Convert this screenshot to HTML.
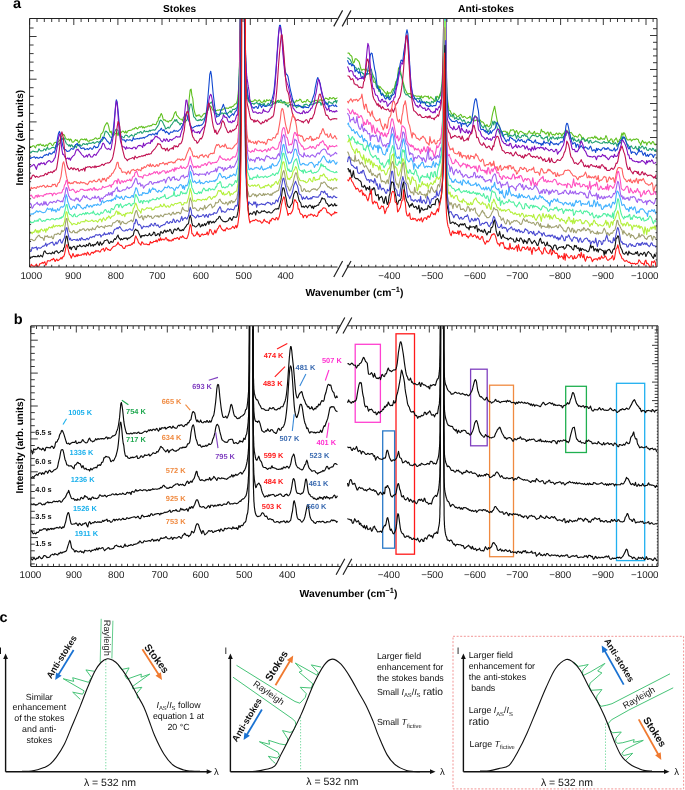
<!DOCTYPE html><html><head><meta charset="utf-8"><style>
html,body{margin:0;padding:0;background:#fff;}svg{display:block;will-change:transform;}
text{font-family:"Liberation Sans",sans-serif;text-rendering:geometricPrecision;}
.b{font-weight:bold;}
</style></head><body>
<svg width="685" height="790" viewBox="0 0 685 790">
<defs><clipPath id="ca"><rect x="29.6" y="18.5" width="628" height="249"/></clipPath>
<clipPath id="cb"><rect x="30.8" y="326" width="628" height="240"/></clipPath></defs>
<text x="13.1" y="7.9" class="b" font-size="14.5">a</text>
<text x="179.6" y="11.9" class="b" font-size="10.1" text-anchor="middle">Stokes</text>
<text x="458" y="11.9" class="b" font-size="10.3">Anti-stokes</text>
<text transform="translate(22.6 137.7) rotate(-90)" class="b" font-size="10" text-anchor="middle">Intensity (arb. units)</text>
<g clip-path="url(#ca)" fill="none" stroke-width="1.1" stroke-linejoin="round">
<path stroke="#60c020" d="M29.6,147.5 L30.4,146.6 L31.3,147 L32.1,146.6 L33,145.7 L33.9,145.7 L34.7,147.1 L35.5,147.8 L36.4,145.4 L37.2,145.2 L38.1,144.3 L39,145.6 L39.8,144.2 L40.6,144 L41.5,145.5 L42.4,145.7 L43.2,144.7 L44,146.1 L44.9,146.5 L45.8,145 L46.6,144.9 L47.5,146.2 L48.3,144.3 L49.1,143.7 L50,143 L50.9,143.5 L51.7,144.8 L52.5,145.6 L53.4,144.8 L54.2,143 L55.1,142.4 L56,142.4 L56.8,142.7 L57.6,142.2 L58.5,141.5 L59.4,140.7 L60.2,139.2 L61,137.2 L61.9,136 L62.8,135 L63.6,134.3 L64.5,135.3 L65.3,137.8 L66.2,138.9 L67,139.3 L67.8,139.7 L68.7,138.8 L69.5,140.9 L70.4,139.1 L71.2,139.4 L72.1,142 L73,142.2 L73.8,141.7 L74.7,140.6 L75.5,139.5 L76.3,140.5 L77.2,140.1 L78,141.6 L78.9,142.8 L79.8,140.8 L80.6,139.5 L81.5,139 L82.3,139.2 L83.2,139.8 L84,139.7 L84.8,138.8 L85.7,140.1 L86.5,138.9 L87.4,140.7 L88.2,141.3 L89.1,141.3 L90,140.2 L90.8,140 L91.7,140.2 L92.5,139.7 L93.3,139.4 L94.2,139.1 L95,138.2 L95.9,137.7 L96.8,139 L97.6,139.2 L98.5,138.3 L99.3,138.4 L100.2,137.9 L101,134.2 L101.8,133.4 L102.7,132.6 L103.5,130.5 L104.4,127 L105.2,125.2 L106.1,123.9 L107,122.7 L107.8,123.7 L108.7,126.4 L109.5,130.7 L110.3,132.4 L111.2,131.1 L112,134.7 L112.9,134.9 L113.8,135.4 L114.6,134.5 L115.5,133.4 L116.3,133.1 L117.2,132.8 L118,135.7 L118.8,133.2 L119.7,134.4 L120.5,132.4 L121.4,132.6 L122.2,131.2 L123.1,131.1 L124,132 L124.8,132.9 L125.7,130.9 L126.5,133 L127.3,132.2 L128.2,130.6 L129.1,130.5 L129.9,130.4 L130.8,130.3 L131.6,130 L132.4,129.3 L133.3,128.7 L134.2,128.9 L135,127.9 L135.8,127.4 L136.7,128.4 L137.6,128.9 L138.4,128 L139.2,126.8 L140.1,127.4 L140.9,126.7 L141.8,126.2 L142.7,127.9 L143.5,126.8 L144.3,128 L145.2,127.1 L146.1,126.8 L146.9,127 L147.8,126 L148.6,125.9 L149.4,126.3 L150.3,125.5 L151.2,125.9 L152,125.2 L152.8,124.1 L153.7,124.2 L154.6,124.5 L155.4,124.6 L156.2,124.4 L157.1,121.8 L157.9,121.1 L158.8,117.4 L159.7,117.6 L160.5,115 L161.3,113.6 L162.2,115.4 L163.1,118.9 L163.9,120.3 L164.8,119.6 L165.6,120.7 L166.4,121.2 L167.3,121.1 L168.2,122.2 L169,121.1 L169.8,120.6 L170.7,120.9 L171.6,120.3 L172.4,118.5 L173.2,117.7 L174.1,114.4 L174.9,112.5 L175.8,111.5 L176.7,115.5 L177.5,115.9 L178.3,117.1 L179.2,118.2 L180.1,118.9 L180.9,119.2 L181.8,119.2 L182.6,120.9 L183.4,117.5 L184.3,116.6 L185.2,116.3 L186,115.2 L186.8,114.1 L187.7,111.9 L188.6,105.7 L189.4,97 L190.2,89.9 L191.1,89.1 L191.9,95.4 L192.8,98.6 L193.7,108.1 L194.5,111.6 L195.3,114.5 L196.2,116.4 L197.1,115.1 L197.9,115.9 L198.8,114.8 L199.6,115.1 L200.4,116.8 L201.3,117.1 L202.2,115.9 L203,114.8 L203.8,113.7 L204.7,113.4 L205.6,113.6 L206.4,112.8 L207.2,111.4 L208.1,109.8 L208.9,107 L209.8,106.3 L210.7,106.1 L211.5,107.3 L212.3,109.3 L213.2,110.3 L214.1,109.9 L214.9,110.1 L215.8,110.9 L216.6,110.6 L217.4,110.1 L218.3,110.2 L219.2,109.9 L220,109.7 L220.8,110.5 L221.7,109.9 L222.6,109.9 L223.4,109.2 L224.2,108.6 L225.1,108.1 L225.9,108.1 L226.8,108.1 L227.7,108.2 L228.5,108.4 L229.3,107.5 L230.2,106.9 L231.1,107.9 L231.9,106.5 L232.8,106.4 L233.6,106.1 L234.4,104.5 L235.3,103.9 L236,104 L236.1,103.9 L236.2,103.7 L236.2,103.7 L236.2,103.6 L236.3,103.4 L236.4,103.3 L236.5,103.1 L236.6,102.9 L236.6,102.8 L236.7,102.6 L236.8,102.4 L236.9,102.1 L237,101.8 L237,101.7 L237,101.6 L237.1,101.2 L237.2,100.9 L237.3,100.6 L237.4,100.2 L237.4,99.8 L237.5,99.3 L237.6,98.8 L237.7,98.3 L237.8,97.7 L237.8,97.1 L237.8,97 L237.9,96.4 L238,95.6 L238.1,94.8 L238.2,93.9 L238.2,93 L238.3,91.9 L238.4,90.8 L238.5,89.6 L238.6,88.3 L238.6,86.9 L238.7,85.8 L238.7,85.4 L238.8,83.7 L238.9,82 L239,80 L239,78 L239.1,75.8 L239.2,73.4 L239.3,70.9 L239.4,68.1 L239.4,65.2 L239.5,62.1 L239.6,60.9 L239.6,58.7 L239.7,55.1 L239.8,51.2 L239.8,46.9 L239.9,42.3 L240,37.2 L240.1,31.5 L240.2,25 L240.2,17.6 L240.3,10 L240.4,10 L240.5,10 L240.6,10 L240.6,10 L240.7,10 L240.8,10 L240.9,10 L241,10 L241,10 L241.1,10 L241.2,10 L241.2,10 L241.3,10 L241.4,10 L241.4,10 L241.5,10 L241.6,10 L241.7,10 L241.8,10 L241.8,10 L241.9,10 L242,10 L242.1,10 L242.1,10 L242.2,10 L242.2,10 L242.3,10 L242.4,10 L242.5,10 L242.6,10 L242.6,10 L242.7,10 L242.8,10 L242.9,10 L242.9,10 L243,10 L243,10 L243.1,10 L243.2,10 L243.3,10 L243.4,10 L243.4,10 L243.5,10 L243.6,10 L243.7,10 L243.8,10 L243.8,10 L243.8,10 L243.9,10 L244,10 L244.1,10 L244.2,10 L244.2,10 L244.3,10 L244.4,10 L244.5,10 L244.6,10 L244.6,10 L244.7,10 L244.7,10 L244.8,10 L244.9,10 L245,16.9 L245,24.4 L245.1,30.9 L245.2,36.6 L245.3,41.7 L245.4,46.4 L245.4,50.6 L245.5,53.5 L245.5,54.4 L245.6,57.9 L245.7,61.2 L245.8,64.3 L245.8,67.2 L245.9,69.9 L246,72.4 L246.1,74.7 L246.2,76.9 L246.2,78.9 L246.3,80.7 L246.3,81.4 L246.4,82.4 L246.5,84 L246.6,85.4 L246.6,86.8 L246.7,88 L246.8,89.1 L246.9,90.1 L247,91 L247,91.9 L247.1,92.7 L247.2,93.4 L247.3,94 L247.4,94.6 L247.4,95.1 L247.5,95.6 L247.6,96.1 L247.7,96.5 L247.8,96.8 L247.8,97.1 L247.9,97.4 L248,97.7 L248.1,97.9 L248.1,97.9 L248.2,98.2 L248.2,98.4 L248.3,98.7 L248.4,99 L248.5,99.2 L248.6,99.5 L248.6,99.7 L248.7,99.9 L248.8,100.1 L248.9,100.3 L248.9,100.4 L249,100.5 L249,100.7 L249.1,100.9 L249.2,101 L249.3,101 L249.4,100.9 L249.4,100.7 L249.5,100.6 L249.6,100.5 L249.7,100.3 L249.8,100.2 L249.8,100.2 L249.8,100 L249.9,99.8 L250.6,101 L251.4,101.5 L252.3,101.4 L253.2,101.2 L254,100.7 L254.8,99.7 L255.7,100.1 L256.6,101.2 L257.4,101.1 L258.2,100.9 L259.1,99.8 L259.9,100.4 L260.8,102 L261.6,102.4 L262.5,102.2 L263.4,101.7 L264.2,100.1 L265.1,102.1 L265.9,101.5 L266.8,99.5 L267.6,100.5 L268.4,100.6 L269.3,99.8 L270.1,100.2 L271,101.1 L271.9,102.7 L272.7,101.5 L273.6,101.6 L274.4,103 L275.2,103.2 L276.1,102.1 L276.9,101 L277.8,100.6 L278.6,100.4 L279.5,101.3 L280.4,102.5 L281.2,102.7 L282.1,102.6 L282.9,103.2 L283.8,102.5 L284.6,101.7 L285.4,102.6 L286.3,103.1 L287.1,103 L288,103.3 L288.9,102.6 L289.7,101.9 L290.6,102.3 L291.4,101.5 L292.2,100.7 L293.1,100.8 L293.9,102.7 L294.8,102.1 L295.6,102 L296.5,100.1 L297.4,101 L298.2,100.8 L299.1,100.3 L299.9,99.1 L300.8,99.7 L301.6,101.4 L302.4,102.5 L303.3,102.2 L304.1,101.3 L305,101.7 L305.9,102.1 L306.7,99.9 L307.6,99.5 L308.4,101.1 L309.2,101.6 L310.1,101.8 L310.9,102.8 L311.8,102.2 L312.6,101.2 L313.5,101.1 L314.4,101.5 L315.2,100.6 L316.1,100.2 L316.9,100.8 L317.8,101.8 L318.6,101.9 L319.4,100 L320.3,99.9 L321.1,100.1 L322,100.8 L322.9,100 L323.7,100.2 L324.6,99.3 L325.4,98 L326.2,98.4 L327.1,98.5 L327.9,99.4 L328.8,99.8 L329.6,97.5 L330.5,97.8 L331.4,98.8 L332.2,98.7 L333.1,97.5 L333.9,97.8 L334.8,99.3 L335.6,98.6 L336.4,98.5 L337.3,97.5 M347.5,53.2 L348.4,52.9 L349.2,53.2 L350.1,55 L350.9,55.5 L351.8,56.4 L352.6,60.4 L353.4,63 L354.3,62.2 L355.1,58.9 L356,58.8 L356.9,59.2 L357.7,60.6 L358.6,61.1 L359.4,62.8 L360.2,66.2 L361.1,69.5 L361.9,70.3 L362.8,69.5 L363.6,69.2 L364.5,69.2 L365.4,70.7 L366.2,68.7 L367.1,71.6 L367.9,71.1 L368.8,70.5 L369.6,72.3 L370.4,74.6 L371.3,74.9 L372.1,74.8 L373,79.6 L373.9,82.3 L374.7,82.2 L375.6,82.6 L376.4,84.2 L377.2,85.6 L378.1,85.8 L378.9,90.2 L379.8,86.2 L380.6,87.3 L381.5,88.6 L382.4,89.4 L383.2,90.2 L384.1,91.4 L384.9,92.5 L385.8,93.1 L386.6,95.3 L387.4,91.4 L388.3,93.9 L389.1,92.8 L390,93.2 L390.9,92.7 L391.7,91.2 L392.6,89 L393.4,89 L394.2,88.7 L395.1,85 L395.9,81.4 L396.8,80.8 L397.6,76.9 L398.5,68.3 L399.4,67 L400.2,70 L401.1,74.2 L401.9,76.6 L402.8,80.5 L403.6,84 L404.4,86.9 L405.3,89.8 L406.1,91.3 L407,93.2 L407.9,94.2 L408.7,93.6 L409.6,93.7 L410.4,93.3 L411.2,94.7 L412.1,93.8 L412.9,94.3 L413.8,96.3 L414.6,95.8 L415.5,95.8 L416.4,96.2 L417.2,96.2 L418.1,96.1 L418.9,96.2 L419.8,96.3 L420.6,97.8 L421.4,95.7 L422.3,97.8 L423.1,97.7 L424,96.4 L424.9,96 L425.7,96.2 L426.6,96.5 L427.4,97 L428.2,96 L429.1,99 L429.9,98 L430.8,96.7 L431.6,97.9 L432.5,98.3 L433.4,99.3 L434.2,101 L435.1,101.4 L435.9,100.3 L436.8,96.4 L437.6,96.3 L438.4,98.4 L439,98 L439.1,97.6 L439.2,97.1 L439.3,96.6 L439.4,96.1 L439.5,95.6 L439.6,95.3 L439.7,95 L439.8,94.8 L439.9,94.5 L440,94.2 L440.1,94 L440.1,93.9 L440.2,93.8 L440.3,93.5 L440.4,93.3 L440.5,93.2 L440.6,93.1 L440.7,93 L440.8,92.9 L440.9,92.7 L441,92.5 L441.1,92.3 L441.2,92 L441.3,91.7 L441.4,91.3 L441.5,91 L441.6,90.5 L441.7,90.1 L441.8,89.6 L441.9,89.3 L441.9,89.1 L442,88.4 L442.1,87.7 L442.2,86.9 L442.3,85.9 L442.4,84.9 L442.5,83.7 L442.6,82.4 L442.7,80.6 L442.8,78.5 L442.9,76.2 L443,73.7 L443.1,70.9 L443.2,67.9 L443.3,64.6 L443.4,61 L443.5,57 L443.6,54.9 L443.6,52.7 L443.7,47.8 L443.8,42.5 L443.9,36.6 L444,30.1 L444.1,23 L444.2,15.2 L444.3,10 L444.4,10 L444.5,10 L444.6,10 L444.7,10 L444.8,10 L444.9,10 L445,10 L445.1,10 L445.2,10 L445.2,10 L445.3,10 L445.4,10 L445.5,10 L445.6,10 L445.7,10 L445.8,17.4 L445.9,31.7 L446,43.7 L446.1,53.7 L446.2,61.9 L446.3,68.5 L446.4,73.9 L446.5,78.4 L446.6,82.2 L446.7,85.4 L446.8,88 L446.9,90.3 L446.9,91.4 L447,92.3 L447.1,94 L447.2,95.5 L447.3,96.8 L447.4,98 L447.5,99.1 L447.6,100 L447.7,100.9 L447.8,101.7 L447.9,102.4 L448,103.1 L448.1,103.7 L448.2,104.5 L448.3,105.3 L448.4,106 L448.5,106.7 L448.6,107.4 L448.6,107.7 L448.7,108.1 L448.8,108.7 L448.9,109.3 L449,109.9 L449.1,110.2 L449.2,110.3 L449.3,110.4 L449.4,110.4 L449.5,110.5 L449.6,110.5 L449.7,110.6 L449.8,110.6 L449.9,110.6 L450,110.6 L450.1,110.6 L450.2,110.7 L450.3,111 L450.4,111.2 L450.4,111.3 L450.5,111.6 L450.6,111.8 L450.7,112.1 L450.8,112.4 L450.9,112.6 L451.2,113.2 L452.1,114.4 L452.9,117.2 L453.8,113 L454.6,113.9 L455.4,114.5 L456.3,115.5 L457.1,116.8 L458,116.8 L458.9,115.6 L459.7,115.1 L460.6,114.3 L461.4,115.2 L462.2,117 L463.1,117.5 L463.9,116.4 L464.8,116.5 L465.6,117.4 L466.5,118.2 L467.4,118.5 L468.2,117.5 L469.1,117.7 L469.9,116.2 L470.8,117.4 L471.6,121.5 L472.4,118.7 L473.3,118.8 L474.1,120.7 L475,120.9 L475.9,120.3 L476.7,119.9 L477.6,120.9 L478.4,121.3 L479.2,121.6 L480.1,119.9 L480.9,121.2 L481.8,122.1 L482.6,121.8 L483.5,122.7 L484.4,124.3 L485.2,125.5 L486.1,126.2 L486.9,124.5 L487.8,126.2 L488.6,126.7 L489.4,126.1 L490.3,124.9 L491.1,122.2 L492,116.7 L492.9,112.4 L493.7,109.6 L494.6,106.2 L495.4,110.5 L496.2,115.3 L497.1,120.1 L497.9,123.5 L498.8,124.7 L499.6,127.5 L500.5,129.5 L501.4,131.6 L502.2,132.2 L503.1,131.4 L503.9,131.3 L504.8,131.3 L505.6,131.3 L506.4,132.4 L507.3,132 L508.1,133.5 L509,134.6 L509.9,131.7 L510.7,129.7 L511.6,130.2 L512.4,130 L513.2,129.5 L514.1,130.8 L515,133.3 L515.8,131.4 L516.6,130.5 L517.5,132.9 L518.4,134.3 L519.2,132.5 L520,131.5 L520.9,131.3 L521.8,131.9 L522.6,132.5 L523.5,133 L524.3,133.7 L525.1,133.9 L526,133.9 L526.9,134.2 L527.7,133.7 L528.5,131.9 L529.4,130.9 L530.2,132.9 L531.1,133.2 L532,133.1 L532.8,134.3 L533.6,132.5 L534.5,131.4 L535.4,134.6 L536.2,133.8 L537,133.1 L537.9,133.4 L538.8,134.2 L539.6,134.2 L540.5,133 L541.3,129.3 L542.1,131.2 L543,132 L543.9,131.5 L544.7,132.6 L545.5,133.9 L546.4,133.9 L547.2,132.2 L548.1,132 L549,136.4 L549.8,133.4 L550.6,132.1 L551.5,133.8 L552.4,135 L553.2,134.3 L554,134.7 L554.9,135.2 L555.8,133.7 L556.6,133 L557.5,134.3 L558.3,134.8 L559.1,132.9 L560,133.6 L560.9,133.7 L561.7,136.3 L562.5,134.7 L563.4,133.1 L564.2,133.9 L565.1,131 L566,130 L566.8,130.8 L567.6,131.2 L568.5,132.4 L569.4,132.8 L570.2,132.7 L571,132.4 L571.9,133.4 L572.8,135.1 L573.6,135.5 L574.5,137 L575.3,136 L576.1,136.4 L577,137.2 L577.9,137 L578.7,135.3 L579.5,134.2 L580.4,135 L581.2,136 L582.1,139.4 L583,137.2 L583.8,139.2 L584.6,139.4 L585.5,140.5 L586.4,140.5 L587.2,139.3 L588,138 L588.9,137.9 L589.8,138 L590.6,138 L591.5,137.4 L592.3,137.2 L593.1,138.6 L594,137.7 L594.9,136 L595.7,138.1 L596.5,137 L597.4,138.4 L598.2,139.6 L599.1,139 L600,139.7 L600.8,137.3 L601.6,138.8 L602.5,139.2 L603.4,138.7 L604.2,139.4 L605,138.3 L605.9,135.6 L606.8,137.3 L607.6,139.9 L608.5,142.1 L609.3,140.8 L610.1,140.3 L611,138.8 L611.9,139.2 L612.7,142.1 L613.5,142.4 L614.4,140 L615.2,139.5 L616.1,137.9 L617,139.8 L617.8,142.4 L618.6,141.7 L619.5,139.4 L620.4,138.9 L621.2,136 L622,133 L622.9,135.4 L623.8,132.6 L624.6,133.3 L625.5,135.7 L626.3,137.8 L627.1,139.5 L628,140 L628.9,140 L629.7,139.2 L630.5,139.1 L631.4,141.1 L632.2,140.2 L633.1,139.5 L634,139.1 L634.8,139.8 L635.6,139.3 L636.5,138.7 L637.4,139.4 L638.2,139.3 L639,142 L639.9,142.9 L640.8,145.2 L641.6,142.3 L642.5,140.4 L643.3,141.9 L644.1,143.2 L645,142 L645.9,142.2 L646.7,145.2 L647.5,143.1 L648.4,142.1 L649.2,141.6 L650.1,142.9 L651,144.1 L651.8,142.9 L652.6,141.5 L653.5,142 L654.4,144.3 L655.2,144.9 L656,143.8"/>
<path stroke="#20a070" d="M29.6,151 L30.4,152.9 L31.3,152.4 L32.1,151.4 L33,151.1 L33.9,151.5 L34.7,151.6 L35.5,151.8 L36.4,151.7 L37.2,152.1 L38.1,151.2 L39,148.7 L39.8,150 L40.6,150.9 L41.5,150.9 L42.4,150.7 L43.2,150.6 L44,149.1 L44.9,149 L45.8,150.6 L46.6,148.4 L47.5,147.3 L48.3,149.2 L49.1,149.2 L50,148.8 L50.9,148.4 L51.7,147.6 L52.5,147.5 L53.4,147.3 L54.2,147.7 L55.1,148.2 L56,145.2 L56.8,146.9 L57.6,145.8 L58.5,144.2 L59.4,143.3 L60.2,143.2 L61,140.5 L61.9,137.9 L62.8,139.8 L63.6,137.7 L64.5,138.7 L65.3,141 L66.2,143.2 L67,144.3 L67.8,144.5 L68.7,146.1 L69.5,144.8 L70.4,146.7 L71.2,144.7 L72.1,145.2 L73,147.3 L73.8,146.8 L74.7,145.9 L75.5,146.1 L76.3,147.9 L77.2,145.4 L78,144.4 L78.9,145.6 L79.8,144.3 L80.6,145.7 L81.5,146 L82.3,144.9 L83.2,143.6 L84,143.7 L84.8,144.5 L85.7,144.2 L86.5,143.6 L87.4,144.8 L88.2,143.2 L89.1,142.9 L90,143.4 L90.8,143.2 L91.7,143.2 L92.5,142.5 L93.3,142 L94.2,143.5 L95,142.9 L95.9,142.4 L96.8,141.8 L97.6,141.6 L98.5,142.4 L99.3,142 L100.2,141.3 L101,141.3 L101.8,141.3 L102.7,139.8 L103.5,138.4 L104.4,134.7 L105.2,131.5 L106.1,131.1 L107,132 L107.8,132.5 L108.7,134.3 L109.5,135.2 L110.3,137.1 L111.2,137.5 L112,137.3 L112.9,136.4 L113.8,134.7 L114.6,132.4 L115.5,130.1 L116.3,129 L117.2,130 L118,130.3 L118.8,134.6 L119.7,134.7 L120.5,136.6 L121.4,136.8 L122.2,136.5 L123.1,137.5 L124,137.7 L124.8,135.9 L125.7,135.1 L126.5,135.4 L127.3,135.5 L128.2,137 L129.1,137.1 L129.9,136.1 L130.8,135.6 L131.6,134.7 L132.4,135.7 L133.3,136.1 L134.2,136.1 L135,133.9 L135.8,134.5 L136.7,134 L137.6,132.5 L138.4,132.7 L139.2,132.9 L140.1,131.8 L140.9,131.5 L141.8,133.3 L142.7,132.9 L143.5,131.8 L144.3,130.4 L145.2,131.7 L146.1,131.6 L146.9,131.3 L147.8,131.8 L148.6,131.8 L149.4,130.2 L150.3,131.2 L151.2,130.2 L152,130.2 L152.8,129.9 L153.7,129.7 L154.6,130.2 L155.4,129.7 L156.2,128.4 L157.1,127.2 L157.9,125.9 L158.8,124.5 L159.7,121.3 L160.5,120.1 L161.3,120.4 L162.2,121.3 L163.1,123.1 L163.9,124.9 L164.8,126.4 L165.6,129 L166.4,128.6 L167.3,127.8 L168.2,127.1 L169,128.2 L169.8,127.6 L170.7,125.7 L171.6,124.7 L172.4,123.6 L173.2,122.2 L174.1,121.4 L174.9,119.5 L175.8,121.3 L176.7,119.6 L177.5,122.1 L178.3,122.3 L179.2,123.4 L180.1,125 L180.9,123.3 L181.8,123.6 L182.6,124.1 L183.4,124.4 L184.3,121.8 L185.2,122.2 L186,120.8 L186.8,120.2 L187.7,118.3 L188.6,114.3 L189.4,109.2 L190.2,104.7 L191.1,103.8 L191.9,106.2 L192.8,111.5 L193.7,116.7 L194.5,117.5 L195.3,118.1 L196.2,119.9 L197.1,120.3 L197.9,120.8 L198.8,119.8 L199.6,120.3 L200.4,119.3 L201.3,120.5 L202.2,120.1 L203,119.2 L203.8,118.7 L204.7,117.8 L205.6,115.7 L206.4,113.1 L207.2,112.4 L208.1,109.2 L208.9,105.3 L209.8,103.5 L210.7,102.8 L211.5,102 L212.3,103.9 L213.2,107.1 L214.1,112.2 L214.9,114.1 L215.8,113.2 L216.6,113.5 L217.4,114.3 L218.3,114.8 L219.2,114.1 L220,114.1 L220.8,114.1 L221.7,112.8 L222.6,113 L223.4,114.4 L224.2,113.1 L225.1,113.1 L225.9,113.8 L226.8,114.2 L227.7,113.3 L228.5,112.5 L229.3,111.9 L230.2,110.8 L231.1,112.8 L231.9,111.1 L232.8,109.2 L233.6,109.4 L234.4,109.5 L235.3,108.8 L236,108.3 L236.1,108.3 L236.2,108.3 L236.2,108.3 L236.2,108.3 L236.3,108.2 L236.4,108.2 L236.5,108.1 L236.6,108.1 L236.6,108 L236.7,107.9 L236.8,107.8 L236.9,107.7 L237,107.5 L237,107.3 L237,107.2 L237.1,106.8 L237.2,106.5 L237.3,106.1 L237.4,105.7 L237.4,105.2 L237.5,104.8 L237.6,104.1 L237.7,103.4 L237.8,102.7 L237.8,101.9 L237.8,101.8 L237.9,101.1 L238,100.2 L238.1,99.2 L238.2,98.2 L238.2,97.1 L238.3,95.9 L238.4,94.6 L238.5,93.5 L238.6,92.2 L238.6,90.9 L238.7,89.8 L238.7,89.4 L238.8,87.8 L238.9,86.1 L239,84.2 L239,82.2 L239.1,80.1 L239.2,77.7 L239.3,75.2 L239.4,72.6 L239.4,69.7 L239.5,66.6 L239.6,65.3 L239.6,63.2 L239.7,59.5 L239.8,55.5 L239.8,51.2 L239.9,46.6 L240,41.5 L240.1,35.7 L240.2,29.2 L240.2,21.7 L240.3,12.9 L240.4,10 L240.5,10 L240.6,10 L240.6,10 L240.7,10 L240.8,10 L240.9,10 L241,10 L241,10 L241.1,10 L241.2,10 L241.2,10 L241.3,10 L241.4,10 L241.4,10 L241.5,10 L241.6,10 L241.7,10 L241.8,10 L241.8,10 L241.9,10 L242,10 L242.1,10 L242.1,10 L242.2,10 L242.2,10 L242.3,10 L242.4,10 L242.5,10 L242.6,10 L242.6,10 L242.7,10 L242.8,10 L242.9,10 L242.9,10 L243,10 L243,10 L243.1,10 L243.2,10 L243.3,10 L243.4,10 L243.4,10 L243.5,10 L243.6,10 L243.7,10 L243.8,10 L243.8,10 L243.8,10 L243.9,10 L244,10 L244.1,10 L244.2,10 L244.2,10 L244.3,10 L244.4,10 L244.5,10 L244.6,10 L244.6,10 L244.7,10 L244.7,10 L244.8,10 L244.9,10.9 L245,19.3 L245,26.4 L245.1,32.6 L245.2,38.3 L245.3,43.4 L245.4,48 L245.4,52.2 L245.5,55.2 L245.5,56.1 L245.6,59.8 L245.7,63.1 L245.8,66.3 L245.8,69.2 L245.9,72 L246,74.6 L246.1,77 L246.2,79.2 L246.2,81.3 L246.3,83.3 L246.3,84 L246.4,85.1 L246.5,86.8 L246.6,88.3 L246.6,89.8 L246.7,91.1 L246.8,92.4 L246.9,93.5 L247,94.6 L247,95.4 L247.1,96.1 L247.2,96.7 L247.3,97.3 L247.4,97.7 L247.4,98.2 L247.5,98.6 L247.6,98.9 L247.7,99.2 L247.8,99.4 L247.8,99.6 L247.9,99.8 L248,100 L248.1,100.1 L248.1,100.1 L248.2,100.2 L248.2,100.4 L248.3,100.6 L248.4,100.8 L248.5,101 L248.6,101.1 L248.6,101.3 L248.7,101.4 L248.8,101.5 L248.9,101.7 L248.9,101.7 L249,101.8 L249,101.9 L249.1,102 L249.2,102.1 L249.3,102.2 L249.4,102.3 L249.4,102.4 L249.5,102.5 L249.6,102.6 L249.7,102.7 L249.8,102.8 L249.8,102.8 L249.8,102.9 L249.9,103 L250.6,103.9 L251.4,103.9 L252.3,103.4 L253.2,103.5 L254,104.4 L254.8,103.2 L255.7,103.2 L256.6,102.5 L257.4,103 L258.2,104.3 L259.1,103.3 L259.9,103.4 L260.8,104.6 L261.6,104.6 L262.5,104.1 L263.4,104.4 L264.2,103.4 L265.1,106 L265.9,105.9 L266.8,105.4 L267.6,103.9 L268.4,103.3 L269.3,104.5 L270.1,105.8 L271,106 L271.9,104.4 L272.7,104.7 L273.6,103.7 L274.4,103 L275.2,103.1 L276.1,103.1 L276.9,102 L277.8,101.1 L278.6,102.5 L279.5,102.1 L280.4,100 L281.2,100.1 L282.1,101.9 L282.9,102.3 L283.8,101.6 L284.6,102.1 L285.4,104.8 L286.3,104.5 L287.1,104.9 L288,106.9 L288.9,105.2 L289.7,104.5 L290.6,105 L291.4,105 L292.2,104.4 L293.1,105 L293.9,106.1 L294.8,105.3 L295.6,106 L296.5,107.7 L297.4,106.8 L298.2,106.7 L299.1,106.3 L299.9,106.2 L300.8,106.7 L301.6,106.4 L302.4,106.3 L303.3,107.1 L304.1,104.5 L305,104.9 L305.9,104.1 L306.7,104.4 L307.6,105.1 L308.4,105.8 L309.2,105.8 L310.1,104.4 L310.9,104.9 L311.8,104.6 L312.6,104.2 L313.5,103.5 L314.4,103.9 L315.2,103.2 L316.1,102.5 L316.9,103.3 L317.8,102.6 L318.6,102.3 L319.4,102.1 L320.3,102.3 L321.1,105.3 L322,102.8 L322.9,104.1 L323.7,104.6 L324.6,103.3 L325.4,102.1 L326.2,102.5 L327.1,104 L327.9,104.4 L328.8,101.5 L329.6,102 L330.5,102.9 L331.4,102.8 L332.2,103.7 L333.1,103 L333.9,101.4 L334.8,101.7 L335.6,100.2 L336.4,103 L337.3,100.2 M347.5,57.5 L348.4,58.3 L349.2,58.8 L350.1,59.6 L350.9,61.1 L351.8,62.9 L352.6,64.4 L353.4,65.1 L354.3,65.7 L355.1,67.4 L356,67.7 L356.9,69.9 L357.7,69.2 L358.6,68.1 L359.4,69.3 L360.2,73.4 L361.1,72.1 L361.9,72.1 L362.8,73.8 L363.6,73.5 L364.5,78 L365.4,76.5 L366.2,73.3 L367.1,74.4 L367.9,73.6 L368.8,74 L369.6,73.4 L370.4,69.9 L371.3,69.1 L372.1,73 L373,75.3 L373.9,77.6 L374.7,78.4 L375.6,82.2 L376.4,86.8 L377.2,88.3 L378.1,85.9 L378.9,91.4 L379.8,89.7 L380.6,93.8 L381.5,94.1 L382.4,93.1 L383.2,94.4 L384.1,96 L384.9,96 L385.8,95.5 L386.6,97.7 L387.4,96.6 L388.3,94.7 L389.1,98.4 L390,96.5 L390.9,95.3 L391.7,95.4 L392.6,93.2 L393.4,90.7 L394.2,89 L395.1,87.3 L395.9,83.8 L396.8,80.6 L397.6,77.6 L398.5,72.7 L399.4,71.7 L400.2,73.1 L401.1,75.6 L401.9,78 L402.8,83.9 L403.6,86.3 L404.4,92.1 L405.3,93.8 L406.1,94.9 L407,94.5 L407.9,95 L408.7,96.1 L409.6,96.7 L410.4,97.6 L411.2,97 L412.1,96.3 L412.9,99.2 L413.8,99.1 L414.6,97.9 L415.5,99.5 L416.4,99.2 L417.2,98.2 L418.1,98.5 L418.9,99.1 L419.8,97.9 L420.6,98.7 L421.4,99.7 L422.3,101.9 L423.1,103.2 L424,101.9 L424.9,102.1 L425.7,103.7 L426.6,101.5 L427.4,102.2 L428.2,102.8 L429.1,102.2 L429.9,104.5 L430.8,103.4 L431.6,101.3 L432.5,101.9 L433.4,102.8 L434.2,101 L435.1,99.7 L435.9,96.5 L436.8,100.9 L437.6,100.4 L438.4,99.2 L439,98.3 L439.1,98.1 L439.2,97.9 L439.3,97.6 L439.4,97.4 L439.5,97.2 L439.6,97 L439.7,96.8 L439.8,96.6 L439.9,96.3 L440,96 L440.1,95.9 L440.1,95.8 L440.2,95.7 L440.3,95.5 L440.4,95.3 L440.5,95 L440.6,94.7 L440.7,94.4 L440.8,93.7 L440.9,92.8 L441,91.9 L441.1,90.9 L441.2,89.9 L441.3,88.8 L441.4,87.6 L441.5,86.8 L441.6,86 L441.7,85.1 L441.8,84.2 L441.9,83.6 L441.9,83.1 L442,81.9 L442.1,80.5 L442.2,79.1 L442.3,77.4 L442.4,75.6 L442.5,73.5 L442.6,70.7 L442.7,67.7 L442.8,64.4 L442.9,60.8 L443,56.7 L443.1,52.3 L443.2,47.4 L443.3,41.9 L443.4,36.1 L443.5,29.9 L443.6,26.5 L443.6,23 L443.7,15.5 L443.8,10 L443.9,10 L444,10 L444.1,10 L444.2,10 L444.3,10 L444.4,10 L444.5,10 L444.6,10 L444.7,10 L444.8,10 L444.9,10 L445,10 L445.1,10 L445.2,10 L445.2,12.5 L445.3,20.6 L445.4,35.1 L445.5,47.3 L445.6,57.3 L445.7,65.4 L445.8,72.1 L445.9,77.6 L446,82.1 L446.1,85.9 L446.2,89.2 L446.3,91.9 L446.4,94.1 L446.5,96 L446.6,97.5 L446.7,98.9 L446.8,100.1 L446.9,101.1 L446.9,101.5 L447,101.9 L447.1,102.7 L447.2,103.4 L447.3,104 L447.4,104.9 L447.5,105.9 L447.6,106.8 L447.7,107.7 L447.8,108.5 L447.9,109.3 L448,110.1 L448.1,110.8 L448.2,111.5 L448.3,112.2 L448.4,112.5 L448.5,112.8 L448.6,113.1 L448.6,113.2 L448.7,113.3 L448.8,113.6 L448.9,113.8 L449,114 L449.1,114.1 L449.2,114.1 L449.3,114.2 L449.4,114.2 L449.5,114.1 L449.6,114.1 L449.7,114.1 L449.8,114 L449.9,114 L450,114 L450.1,114.3 L450.2,114.6 L450.3,114.9 L450.4,115 L450.4,115.2 L450.5,115.5 L450.6,115.8 L450.7,116 L450.8,116.3 L450.9,116.4 L451.2,116.3 L452.1,115.8 L452.9,114.6 L453.8,115.9 L454.6,119 L455.4,118.3 L456.3,117.3 L457.1,119.1 L458,119.6 L458.9,119.5 L459.7,117.1 L460.6,118.8 L461.4,119.8 L462.2,121.1 L463.1,121 L463.9,119.9 L464.8,121.1 L465.6,123.5 L466.5,123.4 L467.4,122.6 L468.2,121.6 L469.1,122.8 L469.9,122.5 L470.8,123.3 L471.6,120.7 L472.4,119.8 L473.3,119.6 L474.1,117.6 L475,115.5 L475.9,116.9 L476.7,117.4 L477.6,118.2 L478.4,120.6 L479.2,121.2 L480.1,122.1 L480.9,124.9 L481.8,126.1 L482.6,127.1 L483.5,127.8 L484.4,125.5 L485.2,125.9 L486.1,128.2 L486.9,129.7 L487.8,132 L488.6,131.2 L489.4,128.9 L490.3,128 L491.1,127.7 L492,124.3 L492.9,121.1 L493.7,125 L494.6,121.3 L495.4,122.3 L496.2,124.3 L497.1,127.3 L497.9,130.4 L498.8,131.5 L499.6,133.8 L500.5,131.5 L501.4,131.5 L502.2,135.8 L503.1,136.3 L503.9,135 L504.8,134.5 L505.6,134.4 L506.4,134.3 L507.3,133.3 L508.1,136.8 L509,135.7 L509.9,135.4 L510.7,135.3 L511.6,135.9 L512.4,136.1 L513.2,135.7 L514.1,135 L515,133.6 L515.8,136.1 L516.6,138.6 L517.5,135.2 L518.4,135.9 L519.2,137.3 L520,137.7 L520.9,137.4 L521.8,135.5 L522.6,135.3 L523.5,136.1 L524.3,134.4 L525.1,134.9 L526,136.5 L526.9,135.8 L527.7,137.2 L528.5,139.7 L529.4,139.9 L530.2,137.6 L531.1,136.7 L532,135.2 L532.8,135.6 L533.6,135.3 L534.5,135.8 L535.4,135.8 L536.2,136 L537,136.8 L537.9,136.6 L538.8,135.8 L539.6,135.3 L540.5,135.4 L541.3,138.2 L542.1,137.5 L543,138.9 L543.9,138.9 L544.7,138 L545.5,137.2 L546.4,137.4 L547.2,136.2 L548.1,141.5 L549,140.3 L549.8,138.8 L550.6,137.2 L551.5,139.1 L552.4,136.7 L553.2,136.8 L554,138.4 L554.9,139.1 L555.8,138.2 L556.6,137.6 L557.5,139.4 L558.3,136.9 L559.1,138.2 L560,137.8 L560.9,137.2 L561.7,137.9 L562.5,137.7 L563.4,136.4 L564.2,138.6 L565.1,133.8 L566,135.6 L566.8,131.8 L567.6,132.7 L568.5,133.1 L569.4,133.2 L570.2,135.7 L571,138.2 L571.9,139.3 L572.8,137.2 L573.6,140.9 L574.5,138.8 L575.3,140.1 L576.1,141 L577,141.5 L577.9,140.3 L578.7,139.2 L579.5,142.7 L580.4,141.5 L581.2,140 L582.1,139.1 L583,138.2 L583.8,138.6 L584.6,141.1 L585.5,141.3 L586.4,140.3 L587.2,139.5 L588,141.2 L588.9,143.3 L589.8,140.6 L590.6,140.2 L591.5,142.6 L592.3,143.1 L593.1,142.6 L594,142.2 L594.9,141.8 L595.7,140.9 L596.5,141.4 L597.4,141.9 L598.2,142.1 L599.1,142.5 L600,143 L600.8,143.2 L601.6,143.3 L602.5,143.1 L603.4,141.7 L604.2,141.6 L605,143 L605.9,142.5 L606.8,142.6 L607.6,143.1 L608.5,142.3 L609.3,141.8 L610.1,142.6 L611,143.7 L611.9,143.6 L612.7,143.2 L613.5,144.6 L614.4,143.6 L615.2,142.6 L616.1,143.7 L617,146.4 L617.8,144 L618.6,143.4 L619.5,143.9 L620.4,142.7 L621.2,141.2 L622,136.2 L622.9,138.6 L623.8,137.4 L624.6,137.5 L625.5,139.3 L626.3,141.9 L627.1,144.2 L628,144.8 L628.9,146.3 L629.7,147.9 L630.5,146.5 L631.4,145.9 L632.2,147.5 L633.1,148.5 L634,148.7 L634.8,147.9 L635.6,146.2 L636.5,148.9 L637.4,148.7 L638.2,150.5 L639,146.2 L639.9,148 L640.8,147.9 L641.6,146.5 L642.5,146 L643.3,147.6 L644.1,149.1 L645,147.5 L645.9,147.1 L646.7,149.5 L647.5,150.3 L648.4,150.6 L649.2,149 L650.1,148.5 L651,149.6 L651.8,150.4 L652.6,148.3 L653.5,148.8 L654.4,150.4 L655.2,151.5 L656,149"/>
<path stroke="#1048d0" d="M29.6,156.6 L30.4,158.6 L31.3,158 L32.1,157.6 L33,157.3 L33.9,156.9 L34.7,156.9 L35.5,158.3 L36.4,157.4 L37.2,157.3 L38.1,158.3 L39,158.1 L39.8,157.5 L40.6,157 L41.5,157.6 L42.4,157.6 L43.2,156.5 L44,155.6 L44.9,154.9 L45.8,155.1 L46.6,154.3 L47.5,154.9 L48.3,155.2 L49.1,153 L50,153.1 L50.9,154.1 L51.7,154 L52.5,153.2 L53.4,151.9 L54.2,152.6 L55.1,150.1 L56,146.2 L56.8,142.3 L57.6,137.8 L58.5,133.4 L59.4,131.4 L60.2,133.3 L61,137.7 L61.9,141.4 L62.8,145.8 L63.6,148.2 L64.5,150 L65.3,149.5 L66.2,150.2 L67,151.5 L67.8,151.4 L68.7,151 L69.5,151 L70.4,149.5 L71.2,148.6 L72.1,148.8 L73,149.4 L73.8,148.8 L74.7,146.8 L75.5,144.6 L76.3,144.4 L77.2,143.3 L78,145.3 L78.9,145.8 L79.8,146.3 L80.6,148.1 L81.5,148.6 L82.3,148.1 L83.2,148.1 L84,148.1 L84.8,149.7 L85.7,149.3 L86.5,149 L87.4,148.5 L88.2,149.6 L89.1,149 L90,147.7 L90.8,148 L91.7,149.3 L92.5,149.1 L93.3,147.8 L94.2,145.9 L95,146.7 L95.9,147.9 L96.8,147.3 L97.6,147.6 L98.5,146 L99.3,143.1 L100.2,143 L101,139.9 L101.8,139.7 L102.7,137.1 L103.5,137.9 L104.4,137.5 L105.2,138.3 L106.1,139.5 L107,141 L107.8,141.8 L108.7,142.3 L109.5,144 L110.3,143.5 L111.2,141 L112,137.1 L112.9,132.8 L113.8,125.1 L114.6,116.4 L115.5,106.5 L116.3,99.8 L117.2,102 L118,110 L118.8,118.9 L119.7,128.4 L120.5,133.6 L121.4,137.7 L122.2,139.8 L123.1,140 L124,139.7 L124.8,140.6 L125.7,141.8 L126.5,139.7 L127.3,139.8 L128.2,140.3 L129.1,140 L129.9,139.7 L130.8,140 L131.6,140.9 L132.4,140.8 L133.3,137.5 L134.2,139.3 L135,139.2 L135.8,138.9 L136.7,138.7 L137.6,138.4 L138.4,138.8 L139.2,138.9 L140.1,138 L140.9,138.1 L141.8,138.1 L142.7,137.9 L143.5,137.4 L144.3,138.2 L145.2,137.1 L146.1,136.8 L146.9,136.5 L147.8,135.8 L148.6,134.8 L149.4,134.7 L150.3,134.3 L151.2,135.1 L152,134.3 L152.8,133.8 L153.7,134.4 L154.6,134.9 L155.4,133.2 L156.2,133.1 L157.1,134.7 L157.9,132 L158.8,130.7 L159.7,130.8 L160.5,129.3 L161.3,128.2 L162.2,130.1 L163.1,130.7 L163.9,129.6 L164.8,131.5 L165.6,132.8 L166.4,131.3 L167.3,132.3 L168.2,133 L169,134.5 L169.8,133.2 L170.7,131.9 L171.6,132.3 L172.4,132.3 L173.2,131.5 L174.1,130.2 L174.9,131.3 L175.8,130.9 L176.7,130.9 L177.5,131.4 L178.3,131.1 L179.2,130.2 L180.1,129.4 L180.9,128.6 L181.8,126.3 L182.6,125.5 L183.4,123.6 L184.3,120 L185.2,116.8 L186,113.7 L186.8,114.4 L187.7,118.1 L188.6,120.4 L189.4,122.3 L190.2,125.1 L191.1,126.1 L191.9,128.3 L192.8,127.8 L193.7,127.2 L194.5,126.6 L195.3,126.5 L196.2,126.1 L197.1,125.6 L197.9,126.2 L198.8,125.1 L199.6,125.9 L200.4,125.2 L201.3,125.3 L202.2,124.5 L203,123.5 L203.8,122.2 L204.7,119.2 L205.6,117.1 L206.4,111.6 L207.2,104.7 L208.1,95.3 L208.9,85.7 L209.8,74.4 L210.7,71.2 L211.5,75.5 L212.3,84.3 L213.2,94 L214.1,101.1 L214.9,108 L215.8,112.1 L216.6,117.2 L217.4,116 L218.3,116.3 L219.2,115.8 L220,113.5 L220.8,110.5 L221.7,108.8 L222.6,106.4 L223.4,104.3 L224.2,106.9 L225.1,109 L225.9,111.9 L226.8,113.8 L227.7,115.3 L228.5,116.7 L229.3,117.7 L230.2,116 L231.1,115.5 L231.9,114.5 L232.8,113.8 L233.6,115.2 L234.4,113.4 L235.3,111.4 L236,110.9 L236.1,110.9 L236.2,110.8 L236.2,110.8 L236.2,110.8 L236.3,110.7 L236.4,110.6 L236.5,110.5 L236.6,110.4 L236.6,110.2 L236.7,110 L236.8,109.8 L236.9,109.5 L237,109.3 L237,109.1 L237,109 L237.1,108.7 L237.2,108.3 L237.3,108 L237.4,107.6 L237.4,107.2 L237.5,106.7 L237.6,106.2 L237.7,105.7 L237.8,105.1 L237.8,104.5 L237.8,104.5 L237.9,104.2 L238,103.8 L238.1,103.3 L238.2,102.8 L238.2,102.2 L238.3,101.5 L238.4,100.7 L238.5,99.8 L238.6,98.3 L238.6,96.4 L238.7,95 L238.7,94.5 L238.8,92.5 L238.9,90.3 L239,88 L239,85.5 L239.1,82.9 L239.2,80.1 L239.3,77.1 L239.4,74 L239.4,70.7 L239.5,67.5 L239.6,66.3 L239.6,64.3 L239.7,60.9 L239.8,57.3 L239.8,53.3 L239.9,48.9 L240,44.1 L240.1,38.6 L240.2,32.4 L240.2,25.2 L240.3,16.6 L240.4,10 L240.5,10 L240.6,10 L240.6,10 L240.7,10 L240.8,10 L240.9,10 L241,10 L241,10 L241.1,10 L241.2,10 L241.2,10 L241.3,10 L241.4,10 L241.4,10 L241.5,10 L241.6,10 L241.7,10 L241.8,10 L241.8,10 L241.9,10 L242,10 L242.1,10 L242.1,10 L242.2,10 L242.2,10 L242.3,10 L242.4,10 L242.5,10 L242.6,10 L242.6,10 L242.7,10 L242.8,10 L242.9,10 L242.9,10 L243,10 L243,10 L243.1,10 L243.2,10 L243.3,10 L243.4,10 L243.4,10 L243.5,10 L243.6,10 L243.7,10 L243.8,10 L243.8,10 L243.8,10 L243.9,10 L244,10 L244.1,10 L244.2,10 L244.2,10 L244.3,10 L244.4,10 L244.5,10 L244.6,10 L244.6,10 L244.7,10 L244.7,10 L244.8,10 L244.9,13 L245,21.7 L245,29 L245.1,35.4 L245.2,40.5 L245.3,45 L245.4,49.1 L245.4,52.8 L245.5,55.3 L245.5,56.2 L245.6,59.2 L245.7,62.1 L245.8,64.7 L245.8,67.1 L245.9,69.3 L246,71.3 L246.1,73.2 L246.2,75.1 L246.2,76.9 L246.3,78.5 L246.3,79 L246.4,79.9 L246.5,81.3 L246.6,82.5 L246.6,83.6 L246.7,84.6 L246.8,85.5 L246.9,86.4 L247,87.1 L247,87.8 L247.1,88.5 L247.2,89 L247.3,89.6 L247.4,90.4 L247.4,91.1 L247.5,91.8 L247.6,92.4 L247.7,93.1 L247.8,93.7 L247.8,94.3 L247.9,94.9 L248,95.5 L248.1,95.8 L248.1,96 L248.2,96.6 L248.2,97.1 L248.3,97.5 L248.4,97.9 L248.5,98.3 L248.6,98.7 L248.6,99 L248.7,99.4 L248.8,99.7 L248.9,100.1 L248.9,100.2 L249,100.3 L249,100.4 L249.1,100.5 L249.2,100.6 L249.3,100.7 L249.4,100.8 L249.4,100.9 L249.5,101 L249.6,101 L249.7,101.1 L249.8,101.2 L249.8,101.2 L249.8,101.2 L249.9,101.3 L250.6,101.7 L251.4,105.7 L252.3,107.1 L253.2,107.4 L254,108.4 L254.8,107.3 L255.7,106.8 L256.6,106.6 L257.4,108.4 L258.2,108.2 L259.1,104.9 L259.9,104.6 L260.8,106 L261.6,107.6 L262.5,105.8 L263.4,105 L264.2,106.1 L265.1,106.4 L265.9,106.4 L266.8,106 L267.6,105.8 L268.4,105.4 L269.3,104.7 L270.1,104.1 L271,101.4 L271.9,99.7 L272.7,96.6 L273.6,93.2 L274.4,86.9 L275.2,77.8 L276.1,67.6 L276.9,55.8 L277.8,43.4 L278.6,32.9 L279.5,25.2 L280.4,25.2 L281.2,30.5 L282.1,38.7 L282.9,48.5 L283.8,58.8 L284.6,67.1 L285.4,71.9 L286.3,74.3 L287.1,74.8 L288,76.6 L288.9,81.3 L289.7,86.5 L290.6,90.8 L291.4,94 L292.2,97.7 L293.1,101 L293.9,102.5 L294.8,104.8 L295.6,105.9 L296.5,105.4 L297.4,105.8 L298.2,104.8 L299.1,105.6 L299.9,105.7 L300.8,106.6 L301.6,107.5 L302.4,107.6 L303.3,108 L304.1,107.2 L305,106.5 L305.9,107.4 L306.7,107.4 L307.6,107.5 L308.4,107.8 L309.2,106.4 L310.1,104.3 L310.9,103.7 L311.8,101.6 L312.6,98.7 L313.5,96.2 L314.4,93.6 L315.2,87.9 L316.1,83.5 L316.9,79.6 L317.8,77.5 L318.6,79.9 L319.4,81.7 L320.3,83.9 L321.1,89.6 L322,94.1 L322.9,96.5 L323.7,98.9 L324.6,100.6 L325.4,102.8 L326.2,104.3 L327.1,103.2 L327.9,105 L328.8,107.5 L329.6,105.6 L330.5,106 L331.4,105.7 L332.2,105 L333.1,104.9 L333.9,106 L334.8,106.3 L335.6,104.9 L336.4,106.2 L337.3,106.9 M347.5,60.2 L348.4,62.5 L349.2,64.4 L350.1,63.3 L350.9,64 L351.8,66 L352.6,64.4 L353.4,65.3 L354.3,66.1 L355.1,71.8 L356,69.9 L356.9,71 L357.7,71.2 L358.6,73.3 L359.4,71.8 L360.2,73.1 L361.1,76.8 L361.9,78.4 L362.8,76.3 L363.6,77.3 L364.5,78.1 L365.4,76.1 L366.2,74.7 L367.1,73.6 L367.9,69.6 L368.8,64.8 L369.6,60 L370.4,54.7 L371.3,53 L372.1,53.4 L373,58.8 L373.9,64.3 L374.7,69.3 L375.6,72.6 L376.4,79.7 L377.2,86.3 L378.1,88.7 L378.9,89.2 L379.8,89.6 L380.6,91.9 L381.5,95.4 L382.4,94.3 L383.2,94.9 L384.1,96.5 L384.9,98.4 L385.8,99.2 L386.6,97.8 L387.4,97.8 L388.3,97.2 L389.1,99.6 L390,99.7 L390.9,98 L391.7,95.8 L392.6,95.1 L393.4,94.5 L394.2,93.9 L395.1,89.7 L395.9,88.4 L396.8,83.5 L397.6,78.6 L398.5,73.9 L399.4,68.9 L400.2,63.7 L401.1,60.1 L401.9,60.5 L402.8,61.6 L403.6,53.2 L404.4,48.7 L405.3,42.6 L406.1,33.8 L407,29.7 L407.9,33.9 L408.7,46.6 L409.6,62.4 L410.4,75.8 L411.2,85.4 L412.1,90.6 L412.9,95.8 L413.8,96 L414.6,98.1 L415.5,99.2 L416.4,99.7 L417.2,101.3 L418.1,102.2 L418.9,102 L419.8,100.1 L420.6,103.8 L421.4,101.9 L422.3,101.5 L423.1,102.5 L424,102.4 L424.9,102.8 L425.7,104.8 L426.6,105.6 L427.4,105.6 L428.2,106.7 L429.1,106 L429.9,106.4 L430.8,104.9 L431.6,106 L432.5,106.4 L433.4,105.6 L434.2,105.6 L435.1,105.6 L435.9,105.4 L436.8,101.9 L437.6,101.1 L438.4,101.6 L439,102.1 L439.1,102.2 L439.2,102.2 L439.3,102.2 L439.4,102.3 L439.5,102.2 L439.6,102.1 L439.7,101.9 L439.8,101.6 L439.9,101.4 L440,101.2 L440.1,101.1 L440.1,101 L440.2,101 L440.3,100.9 L440.4,100.7 L440.5,100.6 L440.6,100.4 L440.7,100.2 L440.8,100 L440.9,99.9 L441,99.7 L441.1,99.6 L441.2,99.4 L441.3,99.2 L441.4,99 L441.5,98.7 L441.6,98.3 L441.7,97.8 L441.8,97.3 L441.9,97.1 L441.9,96.8 L442,96.2 L442.1,95.5 L442.2,94.8 L442.3,94 L442.4,93 L442.5,92 L442.6,90.9 L442.7,89.5 L442.8,87.9 L442.9,86.2 L443,84.4 L443.1,82.4 L443.2,80.1 L443.3,77.7 L443.4,74.9 L443.5,71.9 L443.6,70.3 L443.6,68.7 L443.7,65 L443.8,61 L443.9,56.6 L444,51.6 L444.1,46.1 L444.2,40.1 L444.3,33.4 L444.4,26.1 L444.5,18.1 L444.6,10 L444.7,10 L444.8,10 L444.9,10 L445,10 L445.1,10 L445.2,10 L445.2,10 L445.3,10 L445.4,10 L445.5,10 L445.6,10 L445.7,10 L445.8,10 L445.9,10 L446,15.3 L446.1,30.8 L446.2,44 L446.3,54.9 L446.4,64 L446.5,71.5 L446.6,77.7 L446.7,83 L446.8,87.5 L446.9,91.3 L446.9,92.9 L447,94.5 L447.1,97.3 L447.2,99.7 L447.3,101.8 L447.4,103.7 L447.5,105.3 L447.6,106.8 L447.7,108.2 L447.8,109.4 L447.9,110.5 L448,111.5 L448.1,112.3 L448.2,113 L448.3,113.7 L448.4,114.4 L448.5,115 L448.6,115.5 L448.6,115.8 L448.7,116 L448.8,116.5 L448.9,117 L449,117.4 L449.1,117.6 L449.2,117.9 L449.3,118.1 L449.4,118.3 L449.5,118.4 L449.6,118.6 L449.7,118.8 L449.8,118.9 L449.9,119 L450,119.1 L450.1,119.2 L450.2,119.3 L450.3,119.4 L450.4,119.5 L450.4,119.5 L450.5,119.6 L450.6,119.7 L450.7,119.8 L450.8,119.8 L450.9,119.9 L451.2,120.4 L452.1,121.5 L452.9,121.3 L453.8,121.5 L454.6,121.7 L455.4,121.1 L456.3,120.5 L457.1,121.2 L458,123 L458.9,123.1 L459.7,122.4 L460.6,122.8 L461.4,126.8 L462.2,123 L463.1,123.4 L463.9,124.4 L464.8,123.5 L465.6,123.5 L466.5,125.5 L467.4,126.8 L468.2,125.7 L469.1,124.7 L469.9,124 L470.8,122.2 L471.6,120.7 L472.4,116 L473.3,110.1 L474.1,104.1 L475,99.9 L475.9,98.7 L476.7,100.8 L477.6,107.1 L478.4,110.8 L479.2,119 L480.1,126.3 L480.9,129.4 L481.8,129.6 L482.6,129.2 L483.5,129.6 L484.4,131.3 L485.2,130.2 L486.1,132.7 L486.9,131.3 L487.8,133.1 L488.6,134.4 L489.4,133.6 L490.3,130.6 L491.1,133.4 L492,131.8 L492.9,130.3 L493.7,130 L494.6,129.1 L495.4,128.2 L496.2,124.4 L497.1,122.1 L497.9,124.3 L498.8,125.5 L499.6,126.6 L500.5,129.4 L501.4,131.5 L502.2,132.4 L503.1,135.5 L503.9,137.7 L504.8,138.9 L505.6,140.9 L506.4,141.8 L507.3,139.7 L508.1,139.7 L509,141 L509.9,136.7 L510.7,137.2 L511.6,138.5 L512.4,138.6 L513.2,139.6 L514.1,140.3 L515,140 L515.8,142.3 L516.6,141.7 L517.5,140.6 L518.4,138.9 L519.2,140.4 L520,141.1 L520.9,139.7 L521.8,139.6 L522.6,141.3 L523.5,141.7 L524.3,141.1 L525.1,142.8 L526,142.2 L526.9,140 L527.7,139.7 L528.5,139.4 L529.4,140.5 L530.2,140.5 L531.1,140.7 L532,142.5 L532.8,142.1 L533.6,142.8 L534.5,141.2 L535.4,139.9 L536.2,143 L537,142.8 L537.9,142.5 L538.8,143.9 L539.6,143.2 L540.5,143.8 L541.3,145.4 L542.1,143.3 L543,144.9 L543.9,140.9 L544.7,142.8 L545.5,143.3 L546.4,142.6 L547.2,142.8 L548.1,143.1 L549,143.5 L549.8,145.4 L550.6,141.1 L551.5,142.6 L552.4,142.9 L553.2,143.8 L554,144.7 L554.9,143.7 L555.8,144.2 L556.6,143.3 L557.5,144.4 L558.3,145 L559.1,143.2 L560,143 L560.9,141.5 L561.7,142 L562.5,142 L563.4,140.2 L564.2,135.5 L565.1,133 L566,125.6 L566.8,123.3 L567.6,123.7 L568.5,127.4 L569.4,132.1 L570.2,136.2 L571,139.3 L571.9,142 L572.8,144.2 L573.6,143.2 L574.5,142.8 L575.3,143.1 L576.1,147.4 L577,144.4 L577.9,144.3 L578.7,147.1 L579.5,148.1 L580.4,146.7 L581.2,145.6 L582.1,147 L583,148.1 L583.8,148.6 L584.6,147.3 L585.5,146.8 L586.4,148 L587.2,147.9 L588,149.3 L588.9,149 L589.8,147.1 L590.6,146.2 L591.5,148.6 L592.3,151 L593.1,150.5 L594,149.7 L594.9,150.3 L595.7,152.5 L596.5,148.2 L597.4,150.4 L598.2,148.5 L599.1,149.5 L600,149.6 L600.8,150.6 L601.6,149.7 L602.5,148.2 L603.4,147.8 L604.2,147.8 L605,149.6 L605.9,148.5 L606.8,149.4 L607.6,147.8 L608.5,148.1 L609.3,149.6 L610.1,150.3 L611,149.8 L611.9,150.8 L612.7,150.7 L613.5,149.5 L614.4,147.9 L615.2,151.1 L616.1,149.8 L617,149.9 L617.8,147.9 L618.6,143.9 L619.5,142.3 L620.4,140.2 L621.2,140 L622,139.9 L622.9,137.9 L623.8,136.8 L624.6,137.7 L625.5,140.6 L626.3,142.4 L627.1,144.7 L628,147.5 L628.9,148.9 L629.7,146.9 L630.5,150.5 L631.4,153.5 L632.2,151.8 L633.1,152.2 L634,152.2 L634.8,152.3 L635.6,153.7 L636.5,154.9 L637.4,153.2 L638.2,152.2 L639,148.8 L639.9,151.8 L640.8,151.4 L641.6,150.9 L642.5,153.3 L643.3,155.3 L644.1,153.8 L645,152.6 L645.9,156.2 L646.7,156 L647.5,154.4 L648.4,156.5 L649.2,155.1 L650.1,154.1 L651,154.3 L651.8,154.2 L652.6,155.7 L653.5,157.4 L654.4,154.8 L655.2,154.8 L656,155"/>
<path stroke="#8010c0" d="M29.6,167.3 L30.4,166.9 L31.3,165.9 L32.1,166 L33,165 L33.9,164.4 L34.7,165.5 L35.5,167.3 L36.4,169.4 L37.2,166.2 L38.1,164.7 L39,163.6 L39.8,165 L40.6,163.3 L41.5,162.8 L42.4,163.8 L43.2,163.4 L44,162.7 L44.9,164.8 L45.8,164.1 L46.6,162.5 L47.5,161.8 L48.3,161 L49.1,160.6 L50,161 L50.9,162.3 L51.7,162.2 L52.5,161.5 L53.4,160.7 L54.2,158.7 L55.1,157.7 L56,153.1 L56.8,149 L57.6,143.7 L58.5,137.9 L59.4,134.1 L60.2,135 L61,141.8 L61.9,149.6 L62.8,154.5 L63.6,154.3 L64.5,156.3 L65.3,157.7 L66.2,159 L67,158.5 L67.8,157.9 L68.7,159.1 L69.5,158.2 L70.4,160.3 L71.2,158.2 L72.1,157.1 L73,156 L73.8,155.6 L74.7,154.5 L75.5,151.9 L76.3,149.7 L77.2,150 L78,149.2 L78.9,150.9 L79.8,151.9 L80.6,152.9 L81.5,154.3 L82.3,155.1 L83.2,155.8 L84,157.2 L84.8,157 L85.7,156.1 L86.5,155.2 L87.4,157.1 L88.2,155 L89.1,154 L90,155.4 L90.8,157 L91.7,157 L92.5,156.9 L93.3,155.7 L94.2,154.3 L95,154.8 L95.9,155.4 L96.8,153.7 L97.6,152.7 L98.5,151.5 L99.3,149.8 L100.2,148.8 L101,148.6 L101.8,146.3 L102.7,143.3 L103.5,143.4 L104.4,144.8 L105.2,147.4 L106.1,148.3 L107,149.1 L107.8,149.2 L108.7,148.3 L109.5,149.1 L110.3,149.8 L111.2,148.5 L112,143.5 L112.9,138.1 L113.8,131.1 L114.6,119.7 L115.5,107.5 L116.3,101 L117.2,104.3 L118,114 L118.8,126.5 L119.7,135.6 L120.5,140.9 L121.4,144.4 L122.2,146.5 L123.1,147 L124,146.8 L124.8,147.7 L125.7,149.3 L126.5,146.8 L127.3,148.3 L128.2,148.3 L129.1,147.8 L129.9,148.1 L130.8,148.4 L131.6,148.6 L132.4,148.6 L133.3,147.2 L134.2,147.2 L135,147.2 L135.8,149 L136.7,148.1 L137.6,146.5 L138.4,145.6 L139.2,145.6 L140.1,145.4 L140.9,145.8 L141.8,146.1 L142.7,147.5 L143.5,143 L144.3,145.9 L145.2,145.1 L146.1,143.9 L146.9,143.4 L147.8,143.3 L148.6,142.8 L149.4,143.1 L150.3,143.5 L151.2,140 L152,141.7 L152.8,139.8 L153.7,139.1 L154.6,137.7 L155.4,136.4 L156.2,136.6 L157.1,136.4 L157.9,137.8 L158.8,137.9 L159.7,138.2 L160.5,140.1 L161.3,140.9 L162.2,141.8 L163.1,140.9 L163.9,138.9 L164.8,140.3 L165.6,141.1 L166.4,138.8 L167.3,139.4 L168.2,141.5 L169,141.4 L169.8,139.4 L170.7,139.5 L171.6,140.2 L172.4,139.7 L173.2,138.9 L174.1,138.3 L174.9,138 L175.8,136.7 L176.7,136.4 L177.5,137.1 L178.3,137 L179.2,136.7 L180.1,136.9 L180.9,133.6 L181.8,130.8 L182.6,129.1 L183.4,124.2 L184.3,116.8 L185.2,107.9 L186,100.3 L186.8,100.1 L187.7,106.1 L188.6,113.3 L189.4,121.6 L190.2,126 L191.1,128.2 L191.9,132.5 L192.8,129.8 L193.7,130.5 L194.5,132.1 L195.3,132.2 L196.2,132.1 L197.1,132.8 L197.9,131.8 L198.8,131.5 L199.6,133.5 L200.4,131.8 L201.3,130.4 L202.2,129.1 L203,127.9 L203.8,127.2 L204.7,126.3 L205.6,123.2 L206.4,118.7 L207.2,112.9 L208.1,108.2 L208.9,100.1 L209.8,95.9 L210.7,94.3 L211.5,95.8 L212.3,100.1 L213.2,106.4 L214.1,110.9 L214.9,115.8 L215.8,121.5 L216.6,123 L217.4,124.5 L218.3,124 L219.2,124 L220,123.2 L220.8,121.3 L221.7,119.6 L222.6,118.5 L223.4,114.9 L224.2,115.8 L225.1,117.4 L225.9,117.1 L226.8,117.8 L227.7,120.4 L228.5,121.9 L229.3,122.2 L230.2,121.3 L231.1,122.8 L231.9,122.8 L232.8,120.6 L233.6,121.6 L234.4,121.2 L235.3,119.7 L236,117.5 L236.1,117.2 L236.2,116.9 L236.2,116.9 L236.2,116.5 L236.3,116.2 L236.4,115.9 L236.5,115.5 L236.6,115.1 L236.6,115 L236.7,115.1 L236.8,115.2 L236.9,115.2 L237,115.3 L237,115.3 L237,115.3 L237.1,115.3 L237.2,115.3 L237.3,115.2 L237.4,115.1 L237.4,115 L237.5,114.4 L237.6,113.8 L237.7,113.2 L237.8,112.5 L237.8,111.7 L237.8,111.6 L237.9,110.9 L238,110.1 L238.1,109.2 L238.2,108.2 L238.2,107.1 L238.3,105.9 L238.4,104.7 L238.5,103.5 L238.6,102.2 L238.6,100.8 L238.7,99.7 L238.7,99.3 L238.8,97.6 L238.9,95.9 L239,93.9 L239,91.9 L239.1,89.6 L239.2,87.2 L239.3,84.7 L239.4,81.9 L239.4,79 L239.5,75.9 L239.6,74.7 L239.6,72.6 L239.7,69.1 L239.8,65.3 L239.8,61.1 L239.9,56.6 L240,51.6 L240.1,46 L240.2,39.6 L240.2,32.3 L240.3,23.5 L240.4,13 L240.5,10 L240.6,10 L240.6,10 L240.7,10 L240.8,10 L240.9,10 L241,10 L241,10 L241.1,10 L241.2,10 L241.2,10 L241.3,10 L241.4,10 L241.4,10 L241.5,10 L241.6,10 L241.7,10 L241.8,10 L241.8,10 L241.9,10 L242,10 L242.1,10 L242.1,10 L242.2,10 L242.2,10 L242.3,10 L242.4,10 L242.5,10 L242.6,10 L242.6,10 L242.7,10 L242.8,10 L242.9,10 L242.9,10 L243,10 L243,10 L243.1,10 L243.2,10 L243.3,10 L243.4,10 L243.4,10 L243.5,10 L243.6,10 L243.7,10 L243.8,10 L243.8,10 L243.8,10 L243.9,10 L244,10 L244.1,10 L244.2,10 L244.2,10 L244.3,10 L244.4,10 L244.5,10 L244.6,10 L244.6,10 L244.7,10 L244.7,10 L244.8,10 L244.9,10.7 L245,18.8 L245,25.6 L245.1,31.3 L245.2,36.1 L245.3,40.4 L245.4,44.2 L245.4,47.6 L245.5,50 L245.5,50.7 L245.6,53.5 L245.7,56.1 L245.8,58.4 L245.8,60.6 L245.9,62.5 L246,64.3 L246.1,65.9 L246.2,67.6 L246.2,69.1 L246.3,70.4 L246.3,70.9 L246.4,71.6 L246.5,72.7 L246.6,73.7 L246.6,74.7 L246.7,75.5 L246.8,76.2 L246.9,76.9 L247,77.6 L247,78.1 L247.1,78.7 L247.2,79.2 L247.3,79.8 L247.4,80.3 L247.4,80.8 L247.5,81.3 L247.6,81.8 L247.7,82.3 L247.8,82.8 L247.8,83.3 L247.9,83.8 L248,84.4 L248.1,84.8 L248.1,85 L248.2,85.6 L248.2,86.2 L248.3,86.7 L248.4,87.1 L248.5,87.6 L248.6,88 L248.6,88.5 L248.7,89 L248.8,89.5 L248.9,90 L248.9,90.2 L249,90.6 L249,91.1 L249.1,91.6 L249.2,92.2 L249.3,93 L249.4,94.1 L249.4,95.2 L249.5,96.2 L249.6,97.3 L249.7,98.3 L249.8,99.2 L249.8,99.3 L249.8,100.3 L249.9,101.4 L250.6,103.3 L251.4,106.6 L252.3,109.9 L253.2,112.2 L254,112.4 L254.8,111.9 L255.7,112 L256.6,112.7 L257.4,113.2 L258.2,113.4 L259.1,112.5 L259.9,112.7 L260.8,113.2 L261.6,113.3 L262.5,112.6 L263.4,109.1 L264.2,111.1 L265.1,111.1 L265.9,111.5 L266.8,111.8 L267.6,112.2 L268.4,111.9 L269.3,110.8 L270.1,109 L271,107.7 L271.9,107.3 L272.7,101.7 L273.6,98 L274.4,92.8 L275.2,83.6 L276.1,71.1 L276.9,58.3 L277.8,46.5 L278.6,34.3 L279.5,27 L280.4,27.3 L281.2,32.2 L282.1,41.3 L282.9,53.2 L283.8,63.5 L284.6,71.3 L285.4,76.9 L286.3,80.7 L287.1,83.2 L288,85.4 L288.9,88.6 L289.7,93.2 L290.6,96.7 L291.4,100.2 L292.2,104 L293.1,108.1 L293.9,108.9 L294.8,110.3 L295.6,111.2 L296.5,112 L297.4,112.5 L298.2,112.9 L299.1,112.6 L299.9,113.4 L300.8,113.6 L301.6,113 L302.4,113.6 L303.3,110.7 L304.1,111.3 L305,113.4 L305.9,112.8 L306.7,111.9 L307.6,112.7 L308.4,112 L309.2,110.9 L310.1,110.3 L310.9,108.2 L311.8,108.2 L312.6,106.1 L313.5,104.2 L314.4,101.5 L315.2,96.2 L316.1,92.8 L316.9,87.8 L317.8,82.1 L318.6,79.2 L319.4,80.5 L320.3,86 L321.1,88.7 L322,92.3 L322.9,96.4 L323.7,99.8 L324.6,104.6 L325.4,107.1 L326.2,108.1 L327.1,110.3 L327.9,109.2 L328.8,108 L329.6,111.4 L330.5,110.5 L331.4,110.5 L332.2,111.7 L333.1,111.9 L333.9,111.2 L334.8,112.1 L335.6,111.2 L336.4,110.6 L337.3,111.9 M347.5,66.5 L348.4,68.6 L349.2,71.9 L350.1,70.8 L350.9,70.5 L351.8,71.1 L352.6,71.4 L353.4,74.8 L354.3,76.2 L355.1,75.6 L356,78.2 L356.9,77.6 L357.7,80 L358.6,79.2 L359.4,78.5 L360.2,78.2 L361.1,78.6 L361.9,77.9 L362.8,77.9 L363.6,79.1 L364.5,76.3 L365.4,71.7 L366.2,60.1 L367.1,50.1 L367.9,43.3 L368.8,46.1 L369.6,56.2 L370.4,66.3 L371.3,75.1 L372.1,83.6 L373,88.8 L373.9,88.6 L374.7,92.4 L375.6,95 L376.4,95.2 L377.2,95.6 L378.1,97.7 L378.9,100.6 L379.8,101.1 L380.6,102.2 L381.5,99.6 L382.4,99.3 L383.2,101.4 L384.1,102.2 L384.9,101.1 L385.8,101.6 L386.6,102.3 L387.4,106.4 L388.3,105.6 L389.1,104.1 L390,103.5 L390.9,102.4 L391.7,101.4 L392.6,100.9 L393.4,100.4 L394.2,97.1 L395.1,97.2 L395.9,91.1 L396.8,86.7 L397.6,84.3 L398.5,78 L399.4,73.4 L400.2,69 L401.1,63.9 L401.9,62.8 L402.8,64.1 L403.6,59.3 L404.4,56.7 L405.3,45.2 L406.1,37.3 L407,36.2 L407.9,41.8 L408.7,53.2 L409.6,66.1 L410.4,78 L411.2,88.4 L412.1,93.1 L412.9,98.5 L413.8,100.7 L414.6,102.6 L415.5,104.8 L416.4,105.9 L417.2,105.5 L418.1,107.4 L418.9,106.9 L419.8,104.7 L420.6,105.7 L421.4,107 L422.3,107.6 L423.1,108.6 L424,108.2 L424.9,107.9 L425.7,110.5 L426.6,110.3 L427.4,109.4 L428.2,108 L429.1,109.4 L429.9,110 L430.8,111.8 L431.6,111.7 L432.5,112.7 L433.4,112.6 L434.2,111.3 L435.1,112.8 L435.9,108.3 L436.8,109.3 L437.6,110.2 L438.4,107.7 L439,106.7 L439.1,106.8 L439.2,106.9 L439.3,107 L439.4,107.1 L439.5,107.2 L439.6,107.2 L439.7,107.3 L439.8,107.3 L439.9,106.7 L440,106 L440.1,105.5 L440.1,105.2 L440.2,104.9 L440.3,104.3 L440.4,103.7 L440.5,103.1 L440.6,102.4 L440.7,102 L440.8,101.9 L440.9,101.7 L441,101.5 L441.1,101.2 L441.2,100.9 L441.3,100.5 L441.4,100.1 L441.5,99.7 L441.6,99.1 L441.7,98.4 L441.8,97.3 L441.9,96.7 L441.9,96.1 L442,94.8 L442.1,93.3 L442.2,91.8 L442.3,90.2 L442.4,88.7 L442.5,87.1 L442.6,85.3 L442.7,83.3 L442.8,81 L442.9,78.5 L443,75.7 L443.1,72.6 L443.2,69.2 L443.3,65.3 L443.4,61.1 L443.5,56.3 L443.6,53.7 L443.6,51 L443.7,45.1 L443.8,38.6 L443.9,31.5 L444,23.7 L444.1,15.3 L444.2,10 L444.3,10 L444.4,10 L444.5,10 L444.6,10 L444.7,10 L444.8,10 L444.9,10 L445,10 L445.1,10 L445.2,10 L445.2,10 L445.3,10 L445.4,10 L445.5,22.5 L445.6,38 L445.7,51.1 L445.8,62 L445.9,71 L446,78.5 L446.1,84.6 L446.2,89.7 L446.3,94 L446.4,97.6 L446.5,100.7 L446.6,103.8 L446.7,106.5 L446.8,108.9 L446.9,111.1 L446.9,112.1 L447,113.1 L447.1,114.9 L447.2,116.5 L447.3,118.1 L447.4,119.1 L447.5,119.6 L447.6,120 L447.7,120.4 L447.8,120.7 L447.9,120.9 L448,121.1 L448.1,121.3 L448.2,121.4 L448.3,121.6 L448.4,121.8 L448.5,122 L448.6,122.2 L448.6,122.3 L448.7,122.4 L448.8,122.5 L448.9,122.6 L449,123 L449.1,123.4 L449.2,123.8 L449.3,124.1 L449.4,124.5 L449.5,124.8 L449.6,125.1 L449.7,125.5 L449.8,125.8 L449.9,126.1 L450,126.4 L450.1,126.7 L450.2,127 L450.3,127.3 L450.4,127.3 L450.4,127.3 L450.5,127.4 L450.6,127.4 L450.7,127.5 L450.8,127.5 L450.9,127.5 L451.2,127.7 L452.1,128.7 L452.9,129.8 L453.8,126.2 L454.6,128.5 L455.4,129.7 L456.3,129.5 L457.1,129.1 L458,127.7 L458.9,125.4 L459.7,128.9 L460.6,132.9 L461.4,127.7 L462.2,129.1 L463.1,130.7 L463.9,131.3 L464.8,132.4 L465.6,132.6 L466.5,129.5 L467.4,132.3 L468.2,133.5 L469.1,130.7 L469.9,131.8 L470.8,133.4 L471.6,131.5 L472.4,128.3 L473.3,122.3 L474.1,117.6 L475,117.1 L475.9,116.8 L476.7,117.3 L477.6,121.5 L478.4,129.3 L479.2,130.8 L480.1,131.2 L480.9,133.8 L481.8,136 L482.6,136.6 L483.5,137.2 L484.4,138.2 L485.2,139.6 L486.1,139.1 L486.9,137.5 L487.8,138.3 L488.6,139.5 L489.4,139.2 L490.3,138.6 L491.1,140.5 L492,139.5 L492.9,137 L493.7,137.1 L494.6,137.6 L495.4,136.2 L496.2,132.4 L497.1,129.6 L497.9,129.5 L498.8,129 L499.6,130.7 L500.5,136.3 L501.4,138.8 L502.2,141.2 L503.1,142 L503.9,143.2 L504.8,143.7 L505.6,143.6 L506.4,145.2 L507.3,145.4 L508.1,144.8 L509,145.9 L509.9,143.2 L510.7,143.5 L511.6,146.3 L512.4,148.4 L513.2,147.9 L514.1,146.7 L515,146.2 L515.8,144.5 L516.6,147.2 L517.5,147.7 L518.4,145.4 L519.2,146.3 L520,147.3 L520.9,147.2 L521.8,146.3 L522.6,145.3 L523.5,146 L524.3,146 L525.1,149 L526,147.6 L526.9,146 L527.7,148.2 L528.5,149.9 L529.4,148.7 L530.2,149 L531.1,151.2 L532,147.1 L532.8,148.7 L533.6,150.1 L534.5,146 L535.4,149.6 L536.2,148.5 L537,148.1 L537.9,147.4 L538.8,147.7 L539.6,148.4 L540.5,147 L541.3,147.3 L542.1,148.2 L543,147.5 L543.9,149.6 L544.7,149.9 L545.5,147.5 L546.4,148.5 L547.2,149.1 L548.1,149.7 L549,150.8 L549.8,150.8 L550.6,149.5 L551.5,149.4 L552.4,150 L553.2,151.2 L554,151.7 L554.9,151.1 L555.8,149.2 L556.6,149.6 L557.5,154.1 L558.3,152.9 L559.1,151.6 L560,151.2 L560.9,149.9 L561.7,148.3 L562.5,146.8 L563.4,145.3 L564.2,141.9 L565.1,137.2 L566,132.3 L566.8,130.7 L567.6,132.1 L568.5,133.5 L569.4,137.7 L570.2,140.4 L571,143.3 L571.9,147.9 L572.8,149.7 L573.6,149.5 L574.5,149.4 L575.3,151.8 L576.1,151.1 L577,151.9 L577.9,150.7 L578.7,149.1 L579.5,147.3 L580.4,143.2 L581.2,140.9 L582.1,142.8 L583,145.2 L583.8,149 L584.6,150.4 L585.5,151.3 L586.4,153.5 L587.2,155.4 L588,156.3 L588.9,156.1 L589.8,156.8 L590.6,156.4 L591.5,156.8 L592.3,157.1 L593.1,156.9 L594,156.3 L594.9,156.3 L595.7,157.7 L596.5,159.7 L597.4,156.3 L598.2,156.1 L599.1,155.9 L600,156.3 L600.8,156.7 L601.6,156.3 L602.5,154.4 L603.4,155.5 L604.2,156.2 L605,155.3 L605.9,157.4 L606.8,157.4 L607.6,158.9 L608.5,159.7 L609.3,158.4 L610.1,157.2 L611,156.3 L611.9,155.9 L612.7,156.4 L613.5,157.5 L614.4,154.3 L615.2,156.3 L616.1,156.4 L617,156.2 L617.8,154.7 L618.6,152.8 L619.5,150.6 L620.4,147.3 L621.2,144.8 L622,140.4 L622.9,140.1 L623.8,142.2 L624.6,143.1 L625.5,145.2 L626.3,147.5 L627.1,150.5 L628,154.9 L628.9,154.9 L629.7,158.6 L630.5,158.8 L631.4,158.4 L632.2,160.2 L633.1,161 L634,160.9 L634.8,161.5 L635.6,161.7 L636.5,161.4 L637.4,161.5 L638.2,162.6 L639,161.6 L639.9,162.4 L640.8,161.8 L641.6,160.6 L642.5,160.6 L643.3,161.4 L644.1,161.8 L645,162.9 L645.9,164.3 L646.7,160.5 L647.5,162.7 L648.4,161.2 L649.2,160.6 L650.1,161.9 L651,161.1 L651.8,159.9 L652.6,160.9 L653.5,163.2 L654.4,163.2 L655.2,162.9 L656,162"/>
<path stroke="#c01050" d="M29.6,176.8 L30.4,178.9 L31.3,178.7 L32.1,176.2 L33,175.1 L33.9,175.3 L34.7,176.3 L35.5,177.3 L36.4,176.2 L37.2,176.6 L38.1,177.3 L39,176.9 L39.8,176.5 L40.6,175.8 L41.5,176 L42.4,175.7 L43.2,175.5 L44,175.6 L44.9,174 L45.8,173.4 L46.6,174.7 L47.5,174.2 L48.3,172.3 L49.1,172.8 L50,172.5 L50.9,171.6 L51.7,172.3 L52.5,172.8 L53.4,170.9 L54.2,171.5 L55.1,170 L56,170 L56.8,167.3 L57.6,162.1 L58.5,156.4 L59.4,149.5 L60.2,141.5 L61,135.2 L61.9,131.9 L62.8,135 L63.6,141 L64.5,148.8 L65.3,156.2 L66.2,161.3 L67,164.9 L67.8,167.4 L68.7,168.9 L69.5,169.5 L70.4,168.6 L71.2,167.6 L72.1,168.5 L73,169.7 L73.8,168 L74.7,168.2 L75.5,169.6 L76.3,169.8 L77.2,168.8 L78,168.4 L78.9,171.2 L79.8,170.8 L80.6,169.7 L81.5,169.4 L82.3,170.2 L83.2,168.9 L84,168.2 L84.8,171.2 L85.7,167.1 L86.5,167.6 L87.4,166.8 L88.2,167.1 L89.1,166.8 L90,166.6 L90.8,167.6 L91.7,167.7 L92.5,166.7 L93.3,166.8 L94.2,167.6 L95,165.8 L95.9,167.6 L96.8,166.4 L97.6,166.5 L98.5,166.4 L99.3,166.1 L100.2,165.9 L101,165.4 L101.8,164.4 L102.7,164.4 L103.5,165.4 L104.4,164.7 L105.2,163.5 L106.1,163.2 L107,163 L107.8,162.8 L108.7,163 L109.5,162.6 L110.3,161.9 L111.2,160.4 L112,159.6 L112.9,156.9 L113.8,152.4 L114.6,148.1 L115.5,142.9 L116.3,134 L117.2,126.6 L118,121.5 L118.8,122.8 L119.7,126.2 L120.5,135.2 L121.4,142.7 L122.2,148 L123.1,151.7 L124,155.1 L124.8,157.9 L125.7,158.7 L126.5,159.4 L127.3,160.8 L128.2,159.4 L129.1,159.2 L129.9,158.8 L130.8,158.5 L131.6,158.2 L132.4,157.6 L133.3,157.7 L134.2,159.3 L135,156.1 L135.8,157.1 L136.7,157.9 L137.6,157.7 L138.4,156.9 L139.2,156.4 L140.1,156.8 L140.9,156.4 L141.8,155.8 L142.7,156.3 L143.5,155.7 L144.3,155.2 L145.2,155.8 L146.1,154.4 L146.9,154.4 L147.8,154.6 L148.6,153.8 L149.4,154.4 L150.3,153.8 L151.2,153.6 L152,151.7 L152.8,151 L153.7,149.9 L154.6,149.1 L155.4,148 L156.2,146.8 L157.1,145.5 L157.9,143.4 L158.8,144.2 L159.7,144 L160.5,144.7 L161.3,147.1 L162.2,148.5 L163.1,148.9 L163.9,148.4 L164.8,148.6 L165.6,150.8 L166.4,149.1 L167.3,148.2 L168.2,151 L169,150.4 L169.8,149 L170.7,148.8 L171.6,148.6 L172.4,147.6 L173.2,149.4 L174.1,145.7 L174.9,145.7 L175.8,146.9 L176.7,146 L177.5,147 L178.3,146.4 L179.2,143.9 L180.1,143.9 L180.9,143.6 L181.8,141.8 L182.6,139.1 L183.4,134 L184.3,130.3 L185.2,121 L186,115.3 L186.8,111.8 L187.7,111.5 L188.6,113.9 L189.4,119.3 L190.2,125 L191.1,130 L191.9,133.5 L192.8,136.8 L193.7,138 L194.5,140.1 L195.3,140.5 L196.2,140.8 L197.1,143.3 L197.9,142.5 L198.8,141.3 L199.6,139.7 L200.4,138.4 L201.3,138.9 L202.2,137.4 L203,135.2 L203.8,132 L204.7,127.6 L205.6,123.8 L206.4,116 L207.2,110.5 L208.1,104.3 L208.9,103 L209.8,106.1 L210.7,110.1 L211.5,115.2 L212.3,121 L213.2,126.1 L214.1,129.1 L214.9,132.5 L215.8,130.1 L216.6,134 L217.4,134 L218.3,131.9 L219.2,130.2 L220,128.8 L220.8,127.5 L221.7,122.7 L222.6,120.7 L223.4,121.7 L224.2,122.9 L225.1,126.4 L225.9,127.9 L226.8,130.1 L227.7,132.2 L228.5,132.7 L229.3,131.9 L230.2,130.3 L231.1,132.2 L231.9,131.2 L232.8,129.9 L233.6,130.7 L234.4,129.5 L235.3,129 L236,128.6 L236.1,128.3 L236.2,127.9 L236.2,127.9 L236.2,127.5 L236.3,127.2 L236.4,126.8 L236.5,126.4 L236.6,126 L236.6,125.8 L236.7,125.8 L236.8,125.8 L236.9,125.7 L237,125.7 L237,125.6 L237,125.6 L237.1,125.5 L237.2,125.4 L237.3,125.2 L237.4,125.1 L237.4,124.9 L237.5,124.6 L237.6,124.3 L237.7,123.9 L237.8,123.2 L237.8,122.4 L237.8,122.3 L237.9,121.6 L238,120.8 L238.1,119.9 L238.2,118.9 L238.2,117.8 L238.3,116.7 L238.4,115.4 L238.5,114.1 L238.6,112.6 L238.6,111.1 L238.7,109.8 L238.7,109.4 L238.8,107.6 L238.9,105.6 L239,103.5 L239,101.2 L239.1,98.8 L239.2,96.2 L239.3,93.5 L239.4,90.7 L239.4,87.9 L239.5,84.8 L239.6,83.6 L239.6,81.6 L239.7,78.1 L239.8,74.3 L239.8,70.2 L239.9,65.7 L240,60.7 L240.1,55.2 L240.2,48.8 L240.2,41.5 L240.3,32.8 L240.4,22.3 L240.5,10 L240.6,10 L240.6,10 L240.7,10 L240.8,10 L240.9,10 L241,10 L241,10 L241.1,10 L241.2,10 L241.2,10 L241.3,10 L241.4,10 L241.4,10 L241.5,10 L241.6,10 L241.7,10 L241.8,10 L241.8,10 L241.9,10 L242,10 L242.1,10 L242.1,10 L242.2,10 L242.2,10 L242.3,10 L242.4,10 L242.5,10 L242.6,10 L242.6,10 L242.7,10 L242.8,10 L242.9,10 L242.9,10 L243,10 L243,10 L243.1,10 L243.2,10 L243.3,10 L243.4,10 L243.4,10 L243.5,10 L243.6,10 L243.7,10 L243.8,10 L243.8,10 L243.8,10 L243.9,10 L244,10 L244.1,10 L244.2,10 L244.2,10 L244.3,10 L244.4,10 L244.5,10 L244.6,10 L244.6,10 L244.7,10 L244.7,10 L244.8,15.5 L244.9,25.8 L245,34.4 L245,41.6 L245.1,47.8 L245.2,53.2 L245.3,58 L245.4,62.4 L245.4,66.3 L245.5,69 L245.5,69.9 L245.6,73.2 L245.7,76.2 L245.8,79.1 L245.8,81.7 L245.9,84.1 L246,86.4 L246.1,88.5 L246.2,90.4 L246.2,92.1 L246.3,93.6 L246.3,94.2 L246.4,95 L246.5,96.3 L246.6,97.4 L246.6,98.4 L246.7,99.3 L246.8,100.2 L246.9,100.9 L247,101.6 L247,102.2 L247.1,102.8 L247.2,103.3 L247.3,103.8 L247.4,104.3 L247.4,104.7 L247.5,105.1 L247.6,105.4 L247.7,105.7 L247.8,106.1 L247.8,106.4 L247.9,106.7 L248,107.1 L248.1,107.3 L248.1,107.4 L248.2,107.7 L248.2,108.1 L248.3,108.4 L248.4,108.7 L248.5,109.1 L248.6,109.4 L248.6,109.7 L248.7,110 L248.8,110.4 L248.9,110.7 L248.9,110.8 L249,111.1 L249,111.5 L249.1,112 L249.2,112.4 L249.3,112.9 L249.4,113.3 L249.4,113.7 L249.5,114.2 L249.6,114.6 L249.7,115 L249.8,115.4 L249.8,115.4 L249.8,115.8 L249.9,116.2 L250.6,118.6 L251.4,119.6 L252.3,119.6 L253.2,120.2 L254,122.3 L254.8,120 L255.7,121.8 L256.6,121 L257.4,120.1 L258.2,121.3 L259.1,122 L259.9,122.8 L260.8,124 L261.6,123.8 L262.5,121.7 L263.4,122.8 L264.2,122.3 L265.1,120.6 L265.9,119.8 L266.8,121.6 L267.6,120.5 L268.4,119.1 L269.3,119.1 L270.1,118.6 L271,118.1 L271.9,116.9 L272.7,116.9 L273.6,115.1 L274.4,110 L275.2,104.1 L276.1,97.4 L276.9,88.5 L277.8,76.2 L278.6,64.2 L279.5,53.3 L280.4,43.6 L281.2,35.3 L282.1,34.9 L282.9,42.7 L283.8,53.1 L284.6,63.5 L285.4,76.3 L286.3,85.5 L287.1,90.6 L288,92.2 L288.9,95.3 L289.7,100.9 L290.6,104.9 L291.4,108.6 L292.2,112.6 L293.1,115.8 L293.9,116.8 L294.8,117.9 L295.6,120.7 L296.5,120.3 L297.4,119.8 L298.2,119.5 L299.1,120.5 L299.9,120.7 L300.8,120.7 L301.6,121.9 L302.4,121.4 L303.3,122.8 L304.1,121.3 L305,121 L305.9,119.7 L306.7,119.8 L307.6,121.2 L308.4,123.2 L309.2,121.6 L310.1,118.7 L310.9,118.3 L311.8,119 L312.6,117.9 L313.5,115.2 L314.4,113.4 L315.2,109.1 L316.1,106.1 L316.9,103.6 L317.8,100.8 L318.6,97.7 L319.4,94.2 L320.3,94.1 L321.1,97 L322,100.9 L322.9,104.1 L323.7,106.9 L324.6,109.7 L325.4,113.4 L326.2,115.5 L327.1,115.3 L327.9,116.1 L328.8,118.5 L329.6,119.1 L330.5,119.9 L331.4,119.7 L332.2,119 L333.1,118.9 L333.9,118.9 L334.8,118.5 L335.6,118.7 L336.4,118.9 L337.3,118.9 M347.5,75.8 L348.4,76.1 L349.2,76.3 L350.1,78.1 L350.9,79.7 L351.8,79.1 L352.6,78.6 L353.4,80.2 L354.3,84 L355.1,84 L356,85 L356.9,84.8 L357.7,85.4 L358.6,87.2 L359.4,87.5 L360.2,87.1 L361.1,87.3 L361.9,88.1 L362.8,87.5 L363.6,82 L364.5,80.5 L365.4,73.8 L366.2,65.4 L367.1,59.5 L367.9,59 L368.8,63.4 L369.6,71.7 L370.4,79.7 L371.3,84.4 L372.1,90.1 L373,96.3 L373.9,98.9 L374.7,100.3 L375.6,101.8 L376.4,103.6 L377.2,105.3 L378.1,103.4 L378.9,106.6 L379.8,105 L380.6,107.3 L381.5,108.8 L382.4,106.5 L383.2,107.5 L384.1,108.9 L384.9,109.2 L385.8,109.6 L386.6,110 L387.4,109 L388.3,109 L389.1,110.8 L390,111.6 L390.9,110.3 L391.7,108.5 L392.6,110.2 L393.4,112.3 L394.2,110 L395.1,107.5 L395.9,104.5 L396.8,103.3 L397.6,102.7 L398.5,99.2 L399.4,98.1 L400.2,96.3 L401.1,91.6 L401.9,86.2 L402.8,78 L403.6,68.7 L404.4,57 L405.3,45.7 L406.1,36.4 L407,35 L407.9,43.6 L408.7,57.9 L409.6,73.3 L410.4,87.1 L411.2,95.2 L412.1,101 L412.9,106.4 L413.8,110.8 L414.6,111.1 L415.5,111.9 L416.4,112.9 L417.2,113.8 L418.1,115.1 L418.9,115.5 L419.8,114.4 L420.6,115.2 L421.4,116.8 L422.3,117.5 L423.1,117.5 L424,117.5 L424.9,117 L425.7,116.3 L426.6,116.9 L427.4,117.9 L428.2,116.2 L429.1,117.8 L429.9,115.8 L430.8,117.5 L431.6,118.4 L432.5,118.2 L433.4,118.2 L434.2,119.7 L435.1,117.5 L435.9,117.2 L436.8,116.5 L437.6,114.8 L438.4,116.2 L439,114.7 L439.1,114.1 L439.2,113.4 L439.3,112.8 L439.4,112.1 L439.5,111.7 L439.6,111.5 L439.7,111.3 L439.8,111.1 L439.9,110.8 L440,110.6 L440.1,110.4 L440.1,110.3 L440.2,110.2 L440.3,110 L440.4,109.7 L440.5,109.2 L440.6,108.6 L440.7,107.9 L440.8,107.2 L440.9,106.5 L441,105.7 L441.1,104.8 L441.2,103.9 L441.3,102.9 L441.4,101.8 L441.5,100.6 L441.6,99.3 L441.7,97.9 L441.8,96.4 L441.9,95.8 L441.9,95.1 L442,93.5 L442.1,91.8 L442.2,89.8 L442.3,87.6 L442.4,85.2 L442.5,82.4 L442.6,79.4 L442.7,75.9 L442.8,72 L442.9,67.6 L443,62.8 L443.1,57.4 L443.2,51.4 L443.3,44.9 L443.4,37.7 L443.5,29.8 L443.6,25.6 L443.6,21.3 L443.7,12.4 L443.8,10 L443.9,10 L444,10 L444.1,10 L444.2,10 L444.3,10 L444.4,10 L444.5,10 L444.6,10 L444.7,10 L444.8,10 L444.9,10.8 L445,28.3 L445.1,43.7 L445.2,56.8 L445.2,62.5 L445.3,67.7 L445.4,76.8 L445.5,84.3 L445.6,90.6 L445.7,95.8 L445.8,100.2 L445.9,104 L446,107.2 L446.1,109.9 L446.2,112.3 L446.3,114.4 L446.4,116.2 L446.5,118 L446.6,119.7 L446.7,121.2 L446.8,122.5 L446.9,123.8 L446.9,124.4 L447,125 L447.1,126.1 L447.2,127.1 L447.3,127.6 L447.4,128 L447.5,128.3 L447.6,128.6 L447.7,128.9 L447.8,129.1 L447.9,129.3 L448,129.4 L448.1,129.6 L448.2,129.9 L448.3,130.3 L448.4,130.6 L448.5,131 L448.6,131.3 L448.6,131.5 L448.7,131.6 L448.8,132 L448.9,132.3 L449,132.6 L449.1,132.7 L449.2,132.8 L449.3,132.9 L449.4,133 L449.5,133 L449.6,133.1 L449.7,133.1 L449.8,133.2 L449.9,133.3 L450,133.8 L450.1,134.3 L450.2,134.7 L450.3,135.2 L450.4,135.4 L450.4,135.6 L450.5,136.1 L450.6,136.6 L450.7,137 L450.8,137.5 L450.9,137.9 L451.2,138.3 L452.1,137.3 L452.9,136.4 L453.8,136.8 L454.6,135.4 L455.4,135.7 L456.3,136.6 L457.1,137.2 L458,137.2 L458.9,136.2 L459.7,136.8 L460.6,139 L461.4,139.2 L462.2,136 L463.1,138.8 L463.9,141.1 L464.8,140.6 L465.6,140.1 L466.5,139.7 L467.4,138 L468.2,140.3 L469.1,136.8 L469.9,135.1 L470.8,133.7 L471.6,133.8 L472.4,130.3 L473.3,125.5 L474.1,125.3 L475,129.2 L475.9,132.1 L476.7,137.7 L477.6,137.3 L478.4,138.4 L479.2,141.5 L480.1,143.3 L480.9,144.3 L481.8,145.1 L482.6,145.1 L483.5,142.7 L484.4,144.4 L485.2,145.6 L486.1,147.6 L486.9,147.7 L487.8,147 L488.6,146.1 L489.4,146.3 L490.3,148.4 L491.1,148.7 L492,150.1 L492.9,145.9 L493.7,146.6 L494.6,141.9 L495.4,139.5 L496.2,137.4 L497.1,136.2 L497.9,136.6 L498.8,138.4 L499.6,141.9 L500.5,145.6 L501.4,147.2 L502.2,150.3 L503.1,150.7 L503.9,151.1 L504.8,152.5 L505.6,153.4 L506.4,152.5 L507.3,152.5 L508.1,152.6 L509,152.9 L509.9,153.8 L510.7,152.4 L511.6,153.8 L512.4,155.5 L513.2,155.9 L514.1,154.8 L515,152.9 L515.8,151.9 L516.6,153.8 L517.5,154.7 L518.4,155.8 L519.2,155.5 L520,155.1 L520.9,156.4 L521.8,157.5 L522.6,155.8 L523.5,158.2 L524.3,157.2 L525.1,154.5 L526,156.1 L526.9,155.4 L527.7,154.6 L528.5,153.7 L529.4,153.6 L530.2,154.9 L531.1,156.5 L532,156.3 L532.8,157.3 L533.6,156.2 L534.5,156.7 L535.4,157.6 L536.2,157 L537,156 L537.9,157 L538.8,158.7 L539.6,158.1 L540.5,156.8 L541.3,157.9 L542.1,159.1 L543,160.8 L543.9,159.4 L544.7,158.8 L545.5,161.5 L546.4,161.4 L547.2,161.1 L548.1,160.1 L549,157.7 L549.8,162.5 L550.6,161.6 L551.5,158.3 L552.4,161.2 L553.2,162.2 L554,162.5 L554.9,162.6 L555.8,162 L556.6,160.8 L557.5,159.6 L558.3,159.9 L559.1,160.2 L560,160.5 L560.9,159.6 L561.7,158.1 L562.5,157.5 L563.4,155.4 L564.2,152.6 L565.1,151.1 L566,147.7 L566.8,141.1 L567.6,142.5 L568.5,144.7 L569.4,148.3 L570.2,153.5 L571,156.9 L571.9,157.7 L572.8,159.2 L573.6,161.5 L574.5,163.4 L575.3,162.9 L576.1,162.8 L577,163.9 L577.9,164.5 L578.7,163.4 L579.5,162.5 L580.4,161.5 L581.2,159.6 L582.1,162 L583,162.6 L583.8,165.8 L584.6,166.7 L585.5,165 L586.4,166.7 L587.2,166.5 L588,165.3 L588.9,167.8 L589.8,166.3 L590.6,164.7 L591.5,164.5 L592.3,165.8 L593.1,166.3 L594,165.9 L594.9,166.4 L595.7,167 L596.5,165.6 L597.4,167.3 L598.2,167.8 L599.1,166 L600,168.4 L600.8,166.5 L601.6,164.7 L602.5,164.7 L603.4,166.5 L604.2,166.9 L605,168.9 L605.9,167.4 L606.8,170.3 L607.6,170.5 L608.5,170.3 L609.3,170.5 L610.1,169.8 L611,168.7 L611.9,168 L612.7,169.3 L613.5,169.3 L614.4,167.9 L615.2,166.3 L616.1,163.1 L617,163.4 L617.8,161.3 L618.6,156.8 L619.5,151.7 L620.4,150.1 L621.2,147.8 L622,146 L622.9,148.8 L623.8,152.1 L624.6,153.9 L625.5,158.2 L626.3,163.3 L627.1,166.8 L628,169.3 L628.9,169.6 L629.7,167.2 L630.5,170.2 L631.4,171.5 L632.2,172.6 L633.1,173.8 L634,171.4 L634.8,171.1 L635.6,171.5 L636.5,171.5 L637.4,173.5 L638.2,171.4 L639,174.5 L639.9,175 L640.8,174.6 L641.6,172.3 L642.5,171.7 L643.3,173.9 L644.1,174.9 L645,172.9 L645.9,174.3 L646.7,174.5 L647.5,176 L648.4,175.4 L649.2,175.2 L650.1,175 L651,175.2 L651.8,176 L652.6,176.3 L653.5,177.9 L654.4,176.8 L655.2,178.2 L656,174.6"/>
<path stroke="#ff6060" d="M29.6,190.3 L30.4,189.6 L31.3,187.2 L32.1,188.4 L33,188.4 L33.9,187.6 L34.7,187.5 L35.5,188.2 L36.4,188.4 L37.2,186.6 L38.1,186.9 L39,187.3 L39.8,186.2 L40.6,186.1 L41.5,186.7 L42.4,186 L43.2,185.4 L44,185.5 L44.9,186.9 L45.8,187.4 L46.6,186.6 L47.5,185.3 L48.3,186.7 L49.1,186.5 L50,186.4 L50.9,186.8 L51.7,186.2 L52.5,184.3 L53.4,185 L54.2,184.4 L55.1,184.1 L56,186.5 L56.8,186.7 L57.6,184.1 L58.5,182.8 L59.4,182.3 L60.2,179.1 L61,176.6 L61.9,169.6 L62.8,163.6 L63.6,161.7 L64.5,164.9 L65.3,170.1 L66.2,175.2 L67,178.9 L67.8,181.5 L68.7,183.3 L69.5,182.3 L70.4,183.7 L71.2,183.5 L72.1,182.8 L73,183.6 L73.8,182.1 L74.7,181.6 L75.5,181.9 L76.3,181.9 L77.2,183.4 L78,182.5 L78.9,183.1 L79.8,183.6 L80.6,181.7 L81.5,182.5 L82.3,182.9 L83.2,182.4 L84,182.8 L84.8,182.9 L85.7,183.9 L86.5,183.8 L87.4,184.7 L88.2,183.7 L89.1,182 L90,181.1 L90.8,181.2 L91.7,182.2 L92.5,182 L93.3,180.7 L94.2,180.1 L95,181.2 L95.9,181.7 L96.8,181.7 L97.6,181 L98.5,179.3 L99.3,179.1 L100.2,180.8 L101,182.2 L101.8,180.7 L102.7,178.3 L103.5,179.8 L104.4,178.3 L105.2,180.1 L106.1,181.3 L107,178.2 L107.8,177.6 L108.7,178.4 L109.5,175.9 L110.3,176.4 L111.2,175.3 L112,173.3 L112.9,173.3 L113.8,171.4 L114.6,169.7 L115.5,168.6 L116.3,165.2 L117.2,162.2 L118,162.2 L118.8,166.7 L119.7,168.5 L120.5,168.3 L121.4,170.4 L122.2,172.5 L123.1,172 L124,172 L124.8,172.3 L125.7,172.2 L126.5,174.2 L127.3,172.7 L128.2,171 L129.1,172.6 L129.9,173.8 L130.8,171.3 L131.6,170.1 L132.4,170 L133.3,169.4 L134.2,170.2 L135,170.7 L135.8,170.5 L136.7,169.7 L137.6,169.1 L138.4,170.3 L139.2,169.8 L140.1,170.3 L140.9,170.9 L141.8,167.5 L142.7,168.7 L143.5,168 L144.3,166.5 L145.2,167.6 L146.1,166.9 L146.9,165.4 L147.8,164.7 L148.6,165.5 L149.4,166.5 L150.3,163.7 L151.2,166.6 L152,166 L152.8,164.5 L153.7,165.9 L154.6,166.6 L155.4,166.4 L156.2,165.1 L157.1,164.6 L157.9,166.4 L158.8,165.8 L159.7,163.5 L160.5,163.6 L161.3,163.7 L162.2,163.4 L163.1,162.4 L163.9,163.3 L164.8,164.7 L165.6,163.6 L166.4,163.3 L167.3,164.6 L168.2,162.5 L169,162.2 L169.8,162.6 L170.7,162.1 L171.6,161.8 L172.4,162.4 L173.2,163.1 L174.1,162.2 L174.9,162.9 L175.8,160.7 L176.7,160.4 L177.5,158.9 L178.3,159.2 L179.2,159 L180.1,159.5 L180.9,160.3 L181.8,159.4 L182.6,158.8 L183.4,160.2 L184.3,159.8 L185.2,158.8 L186,156.5 L186.8,154.1 L187.7,152 L188.6,150 L189.4,147.8 L190.2,147.8 L191.1,150.5 L191.9,151.6 L192.8,155.7 L193.7,156.6 L194.5,155.8 L195.3,156.8 L196.2,156.6 L197.1,156.1 L197.9,158 L198.8,157.9 L199.6,156.2 L200.4,155.2 L201.3,155.4 L202.2,154.4 L203,156.1 L203.8,157.2 L204.7,155.8 L205.6,155 L206.4,155.2 L207.2,156.6 L208.1,157.6 L208.9,154.8 L209.8,154.4 L210.7,153.4 L211.5,153.5 L212.3,153.8 L213.2,153 L214.1,153.4 L214.9,149 L215.8,146.5 L216.6,144.6 L217.4,145.3 L218.3,144.3 L219.2,145.1 L220,147.4 L220.8,147 L221.7,146.3 L222.6,145.3 L223.4,146.3 L224.2,146.9 L225.1,144 L225.9,145.5 L226.8,148 L227.7,148.5 L228.5,148.1 L229.3,148.3 L230.2,148 L231.1,149 L231.9,148.8 L232.8,148 L233.6,147.2 L234.4,145.9 L235.3,144.9 L236,144.4 L236.1,144.3 L236.2,144.2 L236.2,144.2 L236.2,144.1 L236.3,144 L236.4,143.9 L236.5,143.8 L236.6,143.7 L236.6,143.6 L236.7,143.4 L236.8,143.2 L236.9,143.2 L237,143.2 L237,143.2 L237,143.2 L237.1,143.1 L237.2,143 L237.3,142.9 L237.4,142.8 L237.4,142.6 L237.5,142.4 L237.6,142.2 L237.7,141.6 L237.8,140.9 L237.8,140.2 L237.8,140.1 L237.9,139.4 L238,138.6 L238.1,137.7 L238.2,136.7 L238.2,135.6 L238.3,134.5 L238.4,133.3 L238.5,132 L238.6,130.6 L238.6,129.2 L238.7,128.1 L238.7,127.7 L238.8,126 L238.9,124.2 L239,122.3 L239,120.2 L239.1,118 L239.2,115.6 L239.3,113 L239.4,110.3 L239.4,107.3 L239.5,104.2 L239.6,102.9 L239.6,100.8 L239.7,97.2 L239.8,93.5 L239.8,89.6 L239.9,85.3 L240,80.5 L240.1,75.1 L240.2,68.9 L240.2,61.7 L240.3,53.2 L240.4,42.8 L240.5,30 L240.6,14.1 L240.6,10 L240.7,10 L240.8,10 L240.9,10 L241,10 L241,10 L241.1,10 L241.2,10 L241.2,10 L241.3,10 L241.4,10 L241.4,10 L241.5,10 L241.6,10 L241.7,10 L241.8,10 L241.8,10 L241.9,10 L242,10 L242.1,10 L242.1,10 L242.2,10 L242.2,10 L242.3,10 L242.4,10 L242.5,10 L242.6,10 L242.6,10 L242.7,10 L242.8,10 L242.9,10 L242.9,10 L243,10 L243,10 L243.1,10 L243.2,10 L243.3,10 L243.4,10 L243.4,10 L243.5,10 L243.6,10 L243.7,10 L243.8,10 L243.8,10 L243.8,10 L243.9,10 L244,10 L244.1,10 L244.2,10 L244.2,10 L244.3,10 L244.4,10 L244.5,10 L244.6,10 L244.6,12.6 L244.7,14.7 L244.7,28.4 L244.8,41.1 L244.9,51.6 L245,60.3 L245,67.6 L245.1,73.9 L245.2,79.5 L245.3,84.4 L245.4,88.9 L245.4,93 L245.5,95.8 L245.5,96.7 L245.6,100 L245.7,103.1 L245.8,105.9 L245.8,108.6 L245.9,111 L246,113.3 L246.1,115.4 L246.2,117.7 L246.2,119.8 L246.3,121.7 L246.3,122.4 L246.4,123.5 L246.5,125.2 L246.6,126.8 L246.6,128.3 L246.7,129.6 L246.8,130.8 L246.9,132 L247,133 L247,133.9 L247.1,134.6 L247.2,135.3 L247.3,135.9 L247.4,136.5 L247.4,137 L247.5,137.4 L247.6,137.8 L247.7,138.2 L247.8,138.5 L247.8,138.8 L247.9,139 L248,139.3 L248.1,139.4 L248.1,139.5 L248.2,139.6 L248.2,140 L248.3,140.3 L248.4,140.6 L248.5,140.9 L248.6,141.2 L248.6,141.5 L248.7,141.7 L248.8,142 L248.9,142.2 L248.9,142.2 L249,142.1 L249,142 L249.1,141.8 L249.2,141.7 L249.3,141.5 L249.4,141.3 L249.4,141.2 L249.5,141 L249.6,140.8 L249.7,140.6 L249.8,140.5 L249.8,140.5 L249.8,140.3 L249.9,140.2 L250.6,142 L251.4,142.7 L252.3,141.8 L253.2,141.8 L254,143.6 L254.8,143.3 L255.7,141.2 L256.6,144.3 L257.4,142.2 L258.2,140.8 L259.1,141.2 L259.9,142 L260.8,142.7 L261.6,142.1 L262.5,141.8 L263.4,143.1 L264.2,142 L265.1,142.9 L265.9,144.6 L266.8,143 L267.6,139.8 L268.4,139.1 L269.3,139.8 L270.1,139.5 L271,140.3 L271.9,139.9 L272.7,138.1 L273.6,137.6 L274.4,138 L275.2,138 L276.1,135.3 L276.9,133.8 L277.8,134.2 L278.6,129.4 L279.5,124.3 L280.4,118.6 L281.2,111.2 L282.1,108.4 L282.9,109.4 L283.8,113.4 L284.6,118.6 L285.4,123.6 L286.3,127.5 L287.1,129.7 L288,133.7 L288.9,132.5 L289.7,129.4 L290.6,123.8 L291.4,120.6 L292.2,116.7 L293.1,114.3 L293.9,117 L294.8,118.7 L295.6,121.7 L296.5,126.4 L297.4,134 L298.2,135.6 L299.1,135.1 L299.9,135.3 L300.8,136.4 L301.6,135.8 L302.4,136.5 L303.3,139 L304.1,141.3 L305,140.8 L305.9,139.3 L306.7,138.2 L307.6,138.5 L308.4,139.2 L309.2,138.4 L310.1,136.3 L310.9,136.5 L311.8,140.8 L312.6,138.8 L313.5,140.5 L314.4,139.1 L315.2,139.5 L316.1,138.9 L316.9,137.3 L317.8,138.1 L318.6,138.5 L319.4,136.8 L320.3,133.6 L321.1,133.6 L322,130.5 L322.9,128.5 L323.7,130.3 L324.6,133 L325.4,134.7 L326.2,135 L327.1,133.9 L327.9,137.2 L328.8,137.3 L329.6,135.7 L330.5,133.6 L331.4,136.6 L332.2,138.1 L333.1,138.1 L333.9,137 L334.8,135.6 L335.6,136.9 L336.4,138.9 L337.3,138.8 M347.5,100.9 L348.4,102.9 L349.2,100.9 L350.1,100 L350.9,98.7 L351.8,100.4 L352.6,101.9 L353.4,99.8 L354.3,99.7 L355.1,100.4 L356,99.3 L356.9,99.6 L357.7,101.2 L358.6,100.4 L359.4,99 L360.2,98.6 L361.1,97.6 L361.9,94.1 L362.8,100.2 L363.6,105.6 L364.5,109.2 L365.4,104.2 L366.2,104.3 L367.1,109 L367.9,112.3 L368.8,111.9 L369.6,112.7 L370.4,116.1 L371.3,113.4 L372.1,110.8 L373,116.2 L373.9,117.3 L374.7,118.8 L375.6,120.6 L376.4,120.9 L377.2,120.5 L378.1,120.2 L378.9,120.1 L379.8,118.6 L380.6,122.2 L381.5,125.6 L382.4,126.9 L383.2,129.9 L384.1,127.6 L384.9,123.8 L385.8,124.6 L386.6,128.3 L387.4,127.9 L388.3,121.2 L389.1,117.5 L390,117 L390.9,114.8 L391.7,108.5 L392.6,102.3 L393.4,101.3 L394.2,101.4 L395.1,104.6 L395.9,109.4 L396.8,116.7 L397.6,120.3 L398.5,122.1 L399.4,119.4 L400.2,122.3 L401.1,124.3 L401.9,116.1 L402.8,112.4 L403.6,105.2 L404.4,104.4 L405.3,100.7 L406.1,105.4 L407,112.1 L407.9,119.8 L408.7,123.4 L409.6,125.6 L410.4,129.6 L411.2,133.7 L412.1,138 L412.9,132.6 L413.8,134.2 L414.6,134 L415.5,135.6 L416.4,138 L417.2,138.4 L418.1,138.6 L418.9,139.6 L419.8,140.2 L420.6,138.1 L421.4,138.4 L422.3,136.8 L423.1,136.2 L424,137.6 L424.9,138.3 L425.7,140.5 L426.6,142.9 L427.4,142.9 L428.2,143.9 L429.1,145.2 L429.9,136.6 L430.8,141.3 L431.6,143.2 L432.5,142.4 L433.4,141.3 L434.2,139.7 L435.1,143.1 L435.9,144.2 L436.8,143.4 L437.6,140.7 L438.4,140.7 L439,140.5 L439.1,140.4 L439.2,140.3 L439.3,140.2 L439.4,140.1 L439.5,139.9 L439.6,139.8 L439.7,139.6 L439.8,139.5 L439.9,139.4 L440,138.7 L440.1,138.8 L440.1,138.8 L440.2,138.8 L440.3,138.9 L440.4,138.9 L440.5,138.9 L440.6,138.9 L440.7,138.5 L440.8,138.1 L440.9,137.7 L441,137.2 L441.1,136.7 L441.2,136.1 L441.3,135.5 L441.4,134.9 L441.5,134.2 L441.6,133.5 L441.7,132.6 L441.8,131.7 L441.9,131.2 L441.9,130.7 L442,129.5 L442.1,128.3 L442.2,127 L442.3,125.6 L442.4,124 L442.5,122.4 L442.6,120.6 L442.7,118.9 L442.8,117 L442.9,114.9 L443,112.6 L443.1,110.1 L443.2,107.3 L443.3,104.2 L443.4,100.7 L443.5,97 L443.6,94.9 L443.6,92.7 L443.7,88.1 L443.8,82.9 L443.9,77.1 L444,70.8 L444.1,63.8 L444.2,56.2 L444.3,47.9 L444.4,39.1 L444.5,29.9 L444.6,20.4 L444.7,11 L444.8,10 L444.9,10 L445,10 L445.1,10 L445.2,10 L445.2,10 L445.3,10 L445.4,10 L445.5,10 L445.6,23.3 L445.7,41.2 L445.8,57.5 L445.9,71.5 L446,83.3 L446.1,93 L446.2,100.9 L446.3,107.4 L446.4,113.2 L446.5,118 L446.6,122.1 L446.7,125.6 L446.8,128.6 L446.9,131.2 L446.9,132.3 L447,133.4 L447.1,135.4 L447.2,137.2 L447.3,138.8 L447.4,140.2 L447.5,141 L447.6,141.4 L447.7,141.7 L447.8,141.9 L447.9,142 L448,142.2 L448.1,142.8 L448.2,143.3 L448.3,143.8 L448.4,144.2 L448.5,144.6 L448.6,144.9 L448.6,145.1 L448.7,145.3 L448.8,145.6 L448.9,145.9 L449,146.2 L449.1,146.3 L449.2,146.5 L449.3,146.9 L449.4,147.3 L449.5,147.7 L449.6,148 L449.7,148.4 L449.8,148.7 L449.9,149 L450,149.4 L450.1,149.7 L450.2,150 L450.3,149.8 L450.4,149.7 L450.4,149.6 L450.5,149.5 L450.6,149.3 L450.7,149.1 L450.8,148.9 L450.9,148.7 L451.2,148.9 L452.1,149.6 L452.9,147.9 L453.8,152.2 L454.6,153.3 L455.4,153.4 L456.3,153.8 L457.1,154 L458,153.1 L458.9,151.6 L459.7,156.3 L460.6,152.3 L461.4,155.3 L462.2,157.8 L463.1,155.3 L463.9,155.7 L464.8,155.9 L465.6,155.9 L466.5,158.9 L467.4,155.9 L468.2,155.2 L469.1,159.1 L469.9,158.7 L470.8,155.4 L471.6,156.5 L472.4,156.5 L473.3,156.3 L474.1,158.8 L475,156.1 L475.9,153.7 L476.7,155.5 L477.6,156 L478.4,158.4 L479.2,159.8 L480.1,161 L480.9,161.7 L481.8,159.6 L482.6,159.1 L483.5,160.8 L484.4,165.7 L485.2,166.1 L486.1,164.7 L486.9,164.6 L487.8,164.6 L488.6,164.7 L489.4,163 L490.3,162.3 L491.1,166.2 L492,163.8 L492.9,165.5 L493.7,161 L494.6,166.3 L495.4,169.1 L496.2,167.7 L497.1,166.6 L497.9,170.6 L498.8,169.2 L499.6,166.5 L500.5,165.4 L501.4,170.4 L502.2,169.2 L503.1,169.1 L503.9,167.6 L504.8,166.4 L505.6,167.7 L506.4,167.8 L507.3,166.2 L508.1,169.3 L509,165.4 L509.9,166 L510.7,165.6 L511.6,169 L512.4,168.1 L513.2,166.8 L514.1,169 L515,171 L515.8,170.3 L516.6,174.1 L517.5,173.4 L518.4,170.7 L519.2,170.9 L520,167.8 L520.9,167.3 L521.8,168.7 L522.6,169.5 L523.5,169.5 L524.3,167.4 L525.1,168.3 L526,168.5 L526.9,171.7 L527.7,171.5 L528.5,170.3 L529.4,169.5 L530.2,169.8 L531.1,170.1 L532,168.7 L532.8,169.2 L533.6,167.1 L534.5,172 L535.4,172.6 L536.2,172.4 L537,172.1 L537.9,172 L538.8,173 L539.6,175.3 L540.5,171 L541.3,168.5 L542.1,168.9 L543,171.2 L543.9,173.1 L544.7,172.9 L545.5,172.8 L546.4,172.6 L547.2,171.3 L548.1,169.1 L549,170.8 L549.8,169.4 L550.6,171.1 L551.5,171.6 L552.4,172.8 L553.2,174.1 L554,172.7 L554.9,172.4 L555.8,176.4 L556.6,176.5 L557.5,172.9 L558.3,175.3 L559.1,176.1 L560,174.7 L560.9,175 L561.7,174.8 L562.5,174.3 L563.4,174.2 L564.2,171.6 L565.1,170.2 L566,170.5 L566.8,170.5 L567.6,170.1 L568.5,170 L569.4,170.4 L570.2,171.3 L571,172.9 L571.9,173.8 L572.8,175.4 L573.6,176 L574.5,175.9 L575.3,176.3 L576.1,176.9 L577,178.7 L577.9,179.8 L578.7,177.8 L579.5,176.5 L580.4,177.2 L581.2,176 L582.1,176.4 L583,176.1 L583.8,175.4 L584.6,174.1 L585.5,172.1 L586.4,174.4 L587.2,177.8 L588,177.8 L588.9,175.4 L589.8,177.8 L590.6,176.7 L591.5,178 L592.3,176.9 L593.1,177 L594,178.1 L594.9,176.3 L595.7,176 L596.5,179.7 L597.4,179.1 L598.2,175.6 L599.1,181.6 L600,180.4 L600.8,180.1 L601.6,180.1 L602.5,179 L603.4,177.5 L604.2,176.4 L605,177.1 L605.9,177 L606.8,182.3 L607.6,181.6 L608.5,179 L609.3,176.9 L610.1,177.9 L611,179.5 L611.9,179 L612.7,177.8 L613.5,177.8 L614.4,182.4 L615.2,179.8 L616.1,174.1 L617,170.2 L617.8,168.2 L618.6,167.5 L619.5,167.6 L620.4,167.9 L621.2,168.1 L622,168.7 L622.9,174.6 L623.8,177.7 L624.6,179 L625.5,179.4 L626.3,181.3 L627.1,181.8 L628,180.5 L628.9,179.8 L629.7,181.6 L630.5,179 L631.4,182.3 L632.2,182.9 L633.1,181 L634,180.2 L634.8,182.3 L635.6,180.5 L636.5,178.2 L637.4,181.8 L638.2,183.5 L639,179.4 L639.9,180.5 L640.8,179.4 L641.6,180.7 L642.5,179.7 L643.3,178.4 L644.1,180.4 L645,182.3 L645.9,183.6 L646.7,183.9 L647.5,184 L648.4,185.1 L649.2,184.9 L650.1,184.8 L651,183.9 L651.8,182.6 L652.6,184.3 L653.5,191.2 L654.4,188.6 L655.2,186.1 L656,185.8"/>
<path stroke="#ff50c0" d="M29.6,196.5 L30.4,195.5 L31.3,195.1 L32.1,196.4 L33,197.6 L33.9,198.3 L34.7,197.9 L35.5,195.8 L36.4,195.4 L37.2,197.4 L38.1,194.8 L39,196.8 L39.8,195.8 L40.6,195.7 L41.5,195.8 L42.4,195.9 L43.2,196.5 L44,195 L44.9,194.4 L45.8,194.6 L46.6,193.6 L47.5,193.9 L48.3,194 L49.1,193.6 L50,193.4 L50.9,193.5 L51.7,193.5 L52.5,195.7 L53.4,193.6 L54.2,193 L55.1,193.5 L56,194.6 L56.8,193.9 L57.6,193.3 L58.5,193 L59.4,192.9 L60.2,193 L61,192.9 L61.9,192.4 L62.8,189.7 L63.6,189.3 L64.5,185.1 L65.3,184.1 L66.2,180.5 L67,180.3 L67.8,184.9 L68.7,187.5 L69.5,190.5 L70.4,190.2 L71.2,190.3 L72.1,189.4 L73,189.2 L73.8,190.1 L74.7,191.3 L75.5,192.7 L76.3,192.5 L77.2,190.8 L78,191.6 L78.9,191.5 L79.8,190.5 L80.6,189.3 L81.5,189.3 L82.3,189.4 L83.2,189.6 L84,190.4 L84.8,190.4 L85.7,190.2 L86.5,190.1 L87.4,190.6 L88.2,189.2 L89.1,190.2 L90,188.9 L90.8,188.5 L91.7,189.9 L92.5,190.2 L93.3,188.3 L94.2,187.5 L95,190.2 L95.9,188.9 L96.8,189.8 L97.6,190.2 L98.5,189.5 L99.3,188.8 L100.2,189.1 L101,189.3 L101.8,188.5 L102.7,186.3 L103.5,187.1 L104.4,187.6 L105.2,187.3 L106.1,186.8 L107,186.6 L107.8,186.3 L108.7,186.1 L109.5,185.1 L110.3,185.1 L111.2,187.3 L112,184.5 L112.9,184.4 L113.8,182.4 L114.6,181.1 L115.5,180.8 L116.3,180.6 L117.2,183.7 L118,178.9 L118.8,179.9 L119.7,183 L120.5,183.7 L121.4,180.7 L122.2,180.8 L123.1,182.6 L124,181.4 L124.8,180.8 L125.7,182 L126.5,180.8 L127.3,179.9 L128.2,180.5 L129.1,180.2 L129.9,179 L130.8,181 L131.6,180.3 L132.4,177.7 L133.3,176.2 L134.2,176.3 L135,172.7 L135.8,172.2 L136.7,171.2 L137.6,174.2 L138.4,176.2 L139.2,176.8 L140.1,176.9 L140.9,176.5 L141.8,176.9 L142.7,178.3 L143.5,175.7 L144.3,175 L145.2,174.9 L146.1,175.5 L146.9,175.7 L147.8,175.5 L148.6,175 L149.4,173.3 L150.3,174.7 L151.2,174 L152,173.6 L152.8,173.7 L153.7,172.3 L154.6,171.8 L155.4,173.3 L156.2,172 L157.1,171.6 L157.9,173.3 L158.8,174.2 L159.7,172.1 L160.5,173.1 L161.3,172.2 L162.2,171.3 L163.1,170.8 L163.9,170.7 L164.8,171.3 L165.6,173.3 L166.4,172.7 L167.3,170.9 L168.2,172.5 L169,171.6 L169.8,170.5 L170.7,171.2 L171.6,170.5 L172.4,169.1 L173.2,169.3 L174.1,171.6 L174.9,167.5 L175.8,170 L176.7,167.9 L177.5,168 L178.3,168.6 L179.2,168.3 L180.1,167.3 L180.9,165.8 L181.8,168.4 L182.6,168.2 L183.4,167.1 L184.3,167.8 L185.2,168.7 L186,167.9 L186.8,166.8 L187.7,166.2 L188.6,163 L189.4,160 L190.2,156.3 L191.1,160.1 L191.9,163.2 L192.8,165.4 L193.7,167.7 L194.5,166.6 L195.3,166.4 L196.2,167.9 L197.1,166 L197.9,165.8 L198.8,167.6 L199.6,166.7 L200.4,167.2 L201.3,165.1 L202.2,164.8 L203,165.5 L203.8,164.8 L204.7,163.7 L205.6,163.5 L206.4,165.6 L207.2,164.7 L208.1,162.6 L208.9,162 L209.8,162 L210.7,164 L211.5,163.9 L212.3,162.6 L213.2,162.7 L214.1,162.9 L214.9,162.4 L215.8,162.3 L216.6,162.4 L217.4,161 L218.3,160 L219.2,157.3 L220,155.7 L220.8,157.5 L221.7,158 L222.6,159.2 L223.4,159.4 L224.2,158.9 L225.1,159.3 L225.9,160.4 L226.8,160.1 L227.7,158.7 L228.5,158.9 L229.3,160.3 L230.2,160 L231.1,158.4 L231.9,158.4 L232.8,156.9 L233.6,156.8 L234.4,157.1 L235.3,156.9 L236,155.5 L236.1,155.3 L236.2,155.1 L236.2,155.1 L236.2,154.8 L236.3,154.6 L236.4,154.4 L236.5,154.2 L236.6,153.9 L236.6,153.7 L236.7,153.4 L236.8,153.1 L236.9,152.9 L237,152.6 L237,152.5 L237,152.3 L237.1,152 L237.2,151.6 L237.3,151.3 L237.4,150.9 L237.4,150.4 L237.5,150 L237.6,149.5 L237.7,148.9 L237.8,148.4 L237.8,147.7 L237.8,147.6 L237.9,146.9 L238,146 L238.1,145.1 L238.2,144.1 L238.2,143 L238.3,141.8 L238.4,140.6 L238.5,139.2 L238.6,137.8 L238.6,136.2 L238.7,135 L238.7,134.7 L238.8,133.3 L238.9,131.8 L239,130.1 L239,128.3 L239.1,126.4 L239.2,124.3 L239.3,122 L239.4,119.5 L239.4,116.8 L239.5,114 L239.6,112.8 L239.6,110.7 L239.7,107.1 L239.8,103.3 L239.8,99.1 L239.9,94.6 L240,89.6 L240.1,83.9 L240.2,77.6 L240.2,70.2 L240.3,61.4 L240.4,50.9 L240.5,38.2 L240.6,22.3 L240.6,10 L240.7,10 L240.8,10 L240.9,10 L241,10 L241,10 L241.1,10 L241.2,10 L241.2,10 L241.3,10 L241.4,10 L241.4,10 L241.5,10 L241.6,10 L241.7,10 L241.8,10 L241.8,10 L241.9,10 L242,10 L242.1,10 L242.1,10 L242.2,10 L242.2,10 L242.3,10 L242.4,10 L242.5,10 L242.6,10 L242.6,10 L242.7,10 L242.8,10 L242.9,10 L242.9,10 L243,10 L243,10 L243.1,10 L243.2,10 L243.3,10 L243.4,10 L243.4,10 L243.5,10 L243.6,10 L243.7,10 L243.8,10 L243.8,10 L243.8,10 L243.9,10 L244,10 L244.1,10 L244.2,10 L244.2,10 L244.3,10 L244.4,10 L244.5,10 L244.6,10 L244.6,20.1 L244.7,22.2 L244.7,35.7 L244.8,48.3 L244.9,58.6 L245,67.1 L245,74.3 L245.1,80.4 L245.2,85.8 L245.3,90.6 L245.4,94.9 L245.4,98.9 L245.5,101.9 L245.5,102.9 L245.6,106.7 L245.7,110.3 L245.8,113.6 L245.8,116.7 L245.9,119.7 L246,122.5 L246.1,125 L246.2,127.5 L246.2,129.8 L246.3,131.9 L246.3,132.6 L246.4,133.8 L246.5,135.4 L246.6,136.8 L246.6,138.2 L246.7,139.4 L246.8,140.5 L246.9,141.5 L247,142.4 L247,143.2 L247.1,144 L247.2,144.7 L247.3,145.3 L247.4,146 L247.4,146.6 L247.5,147.2 L247.6,147.7 L247.7,148.2 L247.8,148.7 L247.8,149.1 L247.9,149.5 L248,149.8 L248.1,149.9 L248.1,150 L248.2,150.2 L248.2,150.3 L248.3,150.5 L248.4,150.6 L248.5,150.7 L248.6,150.8 L248.6,150.9 L248.7,151 L248.8,151 L248.9,151.1 L248.9,151.1 L249,151.1 L249,151.2 L249.1,151.2 L249.2,151.2 L249.3,151.2 L249.4,151.3 L249.4,151.3 L249.5,151.3 L249.6,151.3 L249.7,151.3 L249.8,151.4 L249.8,151.4 L249.8,151.4 L249.9,151.5 L250.6,152.4 L251.4,151.9 L252.3,150.4 L253.2,151.5 L254,151.8 L254.8,149 L255.7,148.7 L256.6,150.2 L257.4,150.3 L258.2,150.7 L259.1,150.8 L259.9,150 L260.8,150.1 L261.6,151.4 L262.5,151.7 L263.4,150.5 L264.2,150.4 L265.1,149.4 L265.9,150.1 L266.8,151.8 L267.6,150.5 L268.4,148.6 L269.3,150.3 L270.1,150.2 L271,148.1 L271.9,147.9 L272.7,146.9 L273.6,147.4 L274.4,148.7 L275.2,149.3 L276.1,149.2 L276.9,149.1 L277.8,148.6 L278.6,146.2 L279.5,142.3 L280.4,141.8 L281.2,137.7 L282.1,130.9 L282.9,128.3 L283.8,127.5 L284.6,128.7 L285.4,133.4 L286.3,137.3 L287.1,137.3 L288,140.4 L288.9,145.3 L289.7,144.8 L290.6,144.1 L291.4,144.7 L292.2,143.4 L293.1,138.9 L293.9,134.4 L294.8,132.3 L295.6,133 L296.5,135.6 L297.4,133.8 L298.2,139.3 L299.1,142.3 L299.9,143.2 L300.8,144.5 L301.6,146.2 L302.4,145.9 L303.3,147.4 L304.1,149.9 L305,148.9 L305.9,149 L306.7,148.7 L307.6,148.3 L308.4,148.2 L309.2,147.5 L310.1,146.2 L310.9,147 L311.8,148.1 L312.6,146.6 L313.5,146.8 L314.4,148.1 L315.2,148.7 L316.1,147.3 L316.9,145.2 L317.8,144.7 L318.6,145.6 L319.4,144.3 L320.3,142.3 L321.1,142.6 L322,141.5 L322.9,140.6 L323.7,142.4 L324.6,144.9 L325.4,144.6 L326.2,145.6 L327.1,146.9 L327.9,149.7 L328.8,147.5 L329.6,145.5 L330.5,146.7 L331.4,146.5 L332.2,145.9 L333.1,146.1 L333.9,146.6 L334.8,146.6 L335.6,146.1 L336.4,145.3 L337.3,146.5 M347.5,108.7 L348.4,109.9 L349.2,110.8 L350.1,113.7 L350.9,113.8 L351.8,111.4 L352.6,109.7 L353.4,112.3 L354.3,114.2 L355.1,112.4 L356,114.2 L356.9,114.1 L357.7,114.3 L358.6,117.6 L359.4,117.5 L360.2,116 L361.1,115.5 L361.9,117.2 L362.8,119.4 L363.6,125.6 L364.5,122.1 L365.4,124.5 L366.2,124.5 L367.1,119.6 L367.9,121.2 L368.8,124.5 L369.6,122.6 L370.4,122.7 L371.3,126 L372.1,132.4 L373,125 L373.9,127.7 L374.7,132.7 L375.6,133.6 L376.4,130.6 L377.2,128 L378.1,131.9 L378.9,131.4 L379.8,132.5 L380.6,135.4 L381.5,132.5 L382.4,133.4 L383.2,136.3 L384.1,135.5 L384.9,132.9 L385.8,136 L386.6,136.8 L387.4,133.5 L388.3,133.7 L389.1,129.6 L390,128.5 L390.9,122.3 L391.7,118.8 L392.6,119 L393.4,122.1 L394.2,126 L395.1,131.2 L395.9,136.4 L396.8,138.1 L397.6,135.7 L398.5,141 L399.4,139.5 L400.2,137.6 L401.1,133.2 L401.9,125.9 L402.8,126 L403.6,126.8 L404.4,127.6 L405.3,129.4 L406.1,135.3 L407,140.7 L407.9,143.1 L408.7,144.1 L409.6,144.6 L410.4,146.4 L411.2,144.8 L412.1,147 L412.9,145.5 L413.8,147.4 L414.6,150.1 L415.5,148.2 L416.4,149.5 L417.2,150 L418.1,148.4 L418.9,149.9 L419.8,151.2 L420.6,153.8 L421.4,149.1 L422.3,151.4 L423.1,150 L424,146.7 L424.9,149.8 L425.7,151.9 L426.6,150 L427.4,146.7 L428.2,146.7 L429.1,152.2 L429.9,147.8 L430.8,150.3 L431.6,151.1 L432.5,150.7 L433.4,154 L434.2,157.1 L435.1,154.8 L435.9,151.5 L436.8,145.5 L437.6,147.7 L438.4,147 L439,145.6 L439.1,145.3 L439.2,145 L439.3,144.7 L439.4,144.4 L439.5,144.1 L439.6,143.8 L439.7,143.4 L439.8,143.1 L439.9,143.2 L440,143.1 L440.1,143.1 L440.1,143.2 L440.2,143.2 L440.3,143.3 L440.4,143.3 L440.5,143.3 L440.6,143.2 L440.7,142.6 L440.8,141.5 L440.9,140.4 L441,139.2 L441.1,138 L441.2,136.7 L441.3,135.4 L441.4,133.9 L441.5,132.5 L441.6,130.9 L441.7,129.2 L441.8,128.5 L441.9,128.3 L441.9,128 L442,127.5 L442.1,126.7 L442.2,125.8 L442.3,124.5 L442.4,122.4 L442.5,120.1 L442.6,117.6 L442.7,114.8 L442.8,111.7 L442.9,108.2 L443,104.4 L443.1,100.2 L443.2,95.4 L443.3,90.2 L443.4,84.4 L443.5,78.1 L443.6,74.6 L443.6,70.9 L443.7,63.1 L443.8,54.7 L443.9,45.7 L444,36.2 L444.1,26.5 L444.2,16.9 L444.3,10 L444.4,10 L444.5,10 L444.6,10 L444.7,10 L444.8,10 L444.9,10 L445,13.5 L445.1,32.2 L445.2,50.8 L445.2,59.6 L445.3,67.8 L445.4,82.6 L445.5,94.8 L445.6,103.8 L445.7,111 L445.8,116.8 L445.9,121.4 L446,125.1 L446.1,128.1 L446.2,130.8 L446.3,133.9 L446.4,136.5 L446.5,138.8 L446.6,140.9 L446.7,142.8 L446.8,144.4 L446.9,146 L446.9,146.7 L447,147.3 L447.1,148.6 L447.2,149.8 L447.3,150.8 L447.4,151.6 L447.5,152.3 L447.6,153 L447.7,153.6 L447.8,154.1 L447.9,154.7 L448,155.2 L448.1,155.6 L448.2,155.6 L448.3,155.6 L448.4,155.6 L448.5,155.5 L448.6,155.5 L448.6,155.4 L448.7,155.4 L448.8,155.3 L448.9,155.2 L449,155 L449.1,154.8 L449.2,154.6 L449.3,154.5 L449.4,154.9 L449.5,155.4 L449.6,155.8 L449.7,156.2 L449.8,156.5 L449.9,156.9 L450,157.2 L450.1,157.4 L450.2,157.6 L450.3,157.8 L450.4,157.9 L450.4,158 L450.5,158.2 L450.6,158.4 L450.7,158.6 L450.8,158.8 L450.9,159 L451.2,160 L452.1,162.8 L452.9,163.8 L453.8,163.3 L454.6,162.8 L455.4,159.3 L456.3,160.9 L457.1,161.9 L458,162.4 L458.9,164.6 L459.7,165.3 L460.6,167 L461.4,165.3 L462.2,165.3 L463.1,163.1 L463.9,164.3 L464.8,164 L465.6,164.2 L466.5,167.8 L467.4,164.3 L468.2,166 L469.1,165.3 L469.9,166.3 L470.8,168.3 L471.6,167.5 L472.4,167.4 L473.3,166.5 L474.1,166.1 L475,168.4 L475.9,166.1 L476.7,169.8 L477.6,172 L478.4,167.4 L479.2,165.3 L480.1,168 L480.9,170.5 L481.8,170.7 L482.6,169.9 L483.5,170.8 L484.4,170.3 L485.2,172.9 L486.1,170.3 L486.9,174.2 L487.8,167.9 L488.6,167.7 L489.4,172.3 L490.3,174 L491.1,170.4 L492,168.9 L492.9,171.8 L493.7,168.8 L494.6,167.9 L495.4,166.8 L496.2,170.1 L497.1,173.2 L497.9,172.4 L498.8,173 L499.6,176.7 L500.5,176.5 L501.4,179 L502.2,179.5 L503.1,175.7 L503.9,175.8 L504.8,177 L505.6,178.1 L506.4,178.3 L507.3,176.7 L508.1,177.2 L509,178.6 L509.9,178.2 L510.7,179.2 L511.6,178.5 L512.4,176 L513.2,174 L514.1,174.8 L515,179.1 L515.8,177.2 L516.6,177.6 L517.5,178.1 L518.4,176.2 L519.2,178.1 L520,175.5 L520.9,175.5 L521.8,177.3 L522.6,179.6 L523.5,181.7 L524.3,179.9 L525.1,178.6 L526,179.1 L526.9,180.3 L527.7,178.6 L528.5,178.7 L529.4,179.6 L530.2,181.2 L531.1,185.6 L532,182 L532.8,177.7 L533.6,182.5 L534.5,186.2 L535.4,182.3 L536.2,184 L537,185.7 L537.9,181.8 L538.8,181.5 L539.6,179.5 L540.5,179.3 L541.3,177.8 L542.1,178.1 L543,176.2 L543.9,181.3 L544.7,181.2 L545.5,179.6 L546.4,182.1 L547.2,182.1 L548.1,180.3 L549,181.8 L549.8,181.7 L550.6,181.1 L551.5,181.7 L552.4,182.1 L553.2,180.4 L554,179.5 L554.9,179.3 L555.8,180.2 L556.6,181.9 L557.5,184.7 L558.3,184.8 L559.1,183.1 L560,183.6 L560.9,183.9 L561.7,184.8 L562.5,185 L563.4,184.8 L564.2,185.3 L565.1,184.2 L566,184.7 L566.8,187.8 L567.6,183.3 L568.5,184 L569.4,184.2 L570.2,185.1 L571,187.7 L571.9,187.3 L572.8,183.4 L573.6,178.9 L574.5,185.2 L575.3,186.2 L576.1,182.7 L577,183.2 L577.9,184.7 L578.7,184 L579.5,183.1 L580.4,186.9 L581.2,186.7 L582.1,186.5 L583,184.2 L583.8,184.5 L584.6,185 L585.5,186.8 L586.4,186.3 L587.2,185.6 L588,189.4 L588.9,187.1 L589.8,181.3 L590.6,189.4 L591.5,186.4 L592.3,185.4 L593.1,185.9 L594,184.8 L594.9,184.3 L595.7,186.2 L596.5,182 L597.4,184.4 L598.2,190 L599.1,189.8 L600,187.7 L600.8,186 L601.6,187.4 L602.5,189.4 L603.4,188.5 L604.2,189 L605,189 L605.9,186.5 L606.8,189.7 L607.6,184 L608.5,190.2 L609.3,187.3 L610.1,185.5 L611,186.3 L611.9,186.9 L612.7,188.4 L613.5,187.7 L614.4,185.4 L615.2,183.1 L616.1,179.4 L617,175 L617.8,171.2 L618.6,171.5 L619.5,175.7 L620.4,180.9 L621.2,187.9 L622,189.3 L622.9,189.9 L623.8,190.4 L624.6,189.8 L625.5,188.3 L626.3,186.7 L627.1,186.1 L628,187.4 L628.9,192.7 L629.7,192.6 L630.5,188.2 L631.4,190.4 L632.2,191.6 L633.1,193.2 L634,192 L634.8,190.5 L635.6,192.4 L636.5,191.2 L637.4,188.5 L638.2,190.6 L639,192.3 L639.9,191.8 L640.8,196.9 L641.6,195.7 L642.5,193.9 L643.3,192.2 L644.1,190.6 L645,194.3 L645.9,193.9 L646.7,191.5 L647.5,191.5 L648.4,190.1 L649.2,190.8 L650.1,193.1 L651,194.6 L651.8,194.4 L652.6,193.9 L653.5,194.2 L654.4,191.4 L655.2,191.8 L656,195"/>
<path stroke="#a060f0" d="M29.6,204.8 L30.4,203.4 L31.3,204.6 L32.1,208.4 L33,207.4 L33.9,205.3 L34.7,204.7 L35.5,204.1 L36.4,203.3 L37.2,202.3 L38.1,204.5 L39,204.1 L39.8,205.6 L40.6,203.9 L41.5,203.2 L42.4,205.3 L43.2,204.7 L44,201.4 L44.9,204.6 L45.8,201.7 L46.6,204.5 L47.5,205.3 L48.3,204.3 L49.1,203.2 L50,202.1 L50.9,201.9 L51.7,202.6 L52.5,202.9 L53.4,201.5 L54.2,201.4 L55.1,202 L56,202.5 L56.8,200.9 L57.6,200 L58.5,200.8 L59.4,200.8 L60.2,201.6 L61,201.8 L61.9,200.9 L62.8,201.9 L63.6,198.1 L64.5,196.8 L65.3,192.2 L66.2,187.6 L67,188 L67.8,192.3 L68.7,195.9 L69.5,196.9 L70.4,199.1 L71.2,198.9 L72.1,200 L73,200 L73.8,200 L74.7,200.9 L75.5,198.8 L76.3,197.9 L77.2,199.6 L78,198.2 L78.9,200.7 L79.8,201.7 L80.6,200.1 L81.5,199.6 L82.3,197.8 L83.2,196 L84,195.5 L84.8,197.5 L85.7,197.8 L86.5,196.1 L87.4,197.8 L88.2,198.4 L89.1,198.7 L90,199.7 L90.8,199.4 L91.7,198.4 L92.5,197.3 L93.3,197.8 L94.2,198.2 L95,195.9 L95.9,198.2 L96.8,198.3 L97.6,197.2 L98.5,196.3 L99.3,198.5 L100.2,201.5 L101,198.1 L101.8,198.1 L102.7,199 L103.5,197.5 L104.4,196.5 L105.2,196.4 L106.1,194.9 L107,194.7 L107.8,195.4 L108.7,192.5 L109.5,194.9 L110.3,194.5 L111.2,192.2 L112,195.8 L112.9,191.3 L113.8,191.9 L114.6,191.4 L115.5,188.9 L116.3,188.6 L117.2,187 L118,191.4 L118.8,190.2 L119.7,191.6 L120.5,191.3 L121.4,190.9 L122.2,190.5 L123.1,189.8 L124,189.7 L124.8,190.1 L125.7,189.4 L126.5,188.5 L127.3,186.8 L128.2,188 L129.1,188.7 L129.9,187.6 L130.8,187.3 L131.6,186.9 L132.4,185.5 L133.3,183.6 L134.2,182.1 L135,179.6 L135.8,178.2 L136.7,179.3 L137.6,183.6 L138.4,184.2 L139.2,183.3 L140.1,183.1 L140.9,186.3 L141.8,184.8 L142.7,185 L143.5,188.2 L144.3,187 L145.2,185.5 L146.1,185 L146.9,184.6 L147.8,184 L148.6,184.3 L149.4,182.1 L150.3,181.6 L151.2,181.7 L152,183.9 L152.8,184.4 L153.7,182.7 L154.6,182.4 L155.4,182.8 L156.2,182.5 L157.1,182.7 L157.9,181.3 L158.8,182.7 L159.7,181.2 L160.5,180.9 L161.3,180.9 L162.2,181.1 L163.1,180.4 L163.9,179.3 L164.8,179.8 L165.6,183 L166.4,180.6 L167.3,178.5 L168.2,177.5 L169,177 L169.8,178.5 L170.7,180.7 L171.6,179.6 L172.4,177.2 L173.2,177.5 L174.1,176.6 L174.9,179.9 L175.8,179.2 L176.7,178.8 L177.5,180 L178.3,180.5 L179.2,180.1 L180.1,178.7 L180.9,176.9 L181.8,176 L182.6,176.1 L183.4,175.1 L184.3,178.2 L185.2,177.4 L186,176.5 L186.8,176.3 L187.7,176.7 L188.6,173.7 L189.4,168.4 L190.2,165.5 L191.1,166.4 L191.9,170.2 L192.8,171 L193.7,174.9 L194.5,174.5 L195.3,173.5 L196.2,174.1 L197.1,174.5 L197.9,174.4 L198.8,175.6 L199.6,173.7 L200.4,174.1 L201.3,174.2 L202.2,174 L203,174.3 L203.8,174.3 L204.7,173.9 L205.6,175.4 L206.4,173 L207.2,171.9 L208.1,173.3 L208.9,174.4 L209.8,172.8 L210.7,171.9 L211.5,171.6 L212.3,171.7 L213.2,171.5 L214.1,170.8 L214.9,171.2 L215.8,168.3 L216.6,171.9 L217.4,169.8 L218.3,166.9 L219.2,167.2 L220,167 L220.8,167.7 L221.7,168.7 L222.6,167.6 L223.4,171 L224.2,169.9 L225.1,167.5 L225.9,169.4 L226.8,169.2 L227.7,168 L228.5,167.6 L229.3,167.5 L230.2,165.2 L231.1,168.3 L231.9,167.1 L232.8,166.3 L233.6,167.5 L234.4,166.5 L235.3,164.4 L236,162.8 L236.1,162.7 L236.2,162.5 L236.2,162.5 L236.2,162.3 L236.3,162.1 L236.4,161.9 L236.5,161.7 L236.6,161.5 L236.6,161.3 L236.7,161.1 L236.8,161 L236.9,160.9 L237,160.7 L237,160.7 L237,160.6 L237.1,160.4 L237.2,160.2 L237.3,159.9 L237.4,159.7 L237.4,159.4 L237.5,159.1 L237.6,158.7 L237.7,158.3 L237.8,157.8 L237.8,157.3 L237.8,157.3 L237.9,156.8 L238,156.3 L238.1,155.7 L238.2,155 L238.2,154.2 L238.3,153.4 L238.4,152.5 L238.5,151.4 L238.6,150.3 L238.6,149.1 L238.7,147.8 L238.7,147.4 L238.8,145.6 L238.9,143.6 L239,141.5 L239,139.3 L239.1,136.9 L239.2,134.3 L239.3,131.6 L239.4,128.7 L239.4,125.5 L239.5,122.2 L239.6,120.9 L239.6,118.7 L239.7,115 L239.8,111.1 L239.8,106.9 L239.9,102.2 L240,97.1 L240.1,91.4 L240.2,85 L240.2,77.5 L240.3,68.7 L240.4,58.1 L240.5,45.5 L240.6,29.7 L240.6,10.1 L240.7,10 L240.8,10 L240.9,10 L241,10 L241,10 L241.1,10 L241.2,10 L241.2,10 L241.3,10 L241.4,10 L241.4,10 L241.5,10 L241.6,10 L241.7,10 L241.8,10 L241.8,10 L241.9,10 L242,10 L242.1,10 L242.1,10 L242.2,10 L242.2,10 L242.3,10 L242.4,10 L242.5,10 L242.6,10 L242.6,10 L242.7,10 L242.8,10 L242.9,10 L242.9,10 L243,10 L243,10 L243.1,10 L243.2,10 L243.3,10 L243.4,10 L243.4,10 L243.5,10 L243.6,10 L243.7,10 L243.8,10 L243.8,10 L243.8,10 L243.9,10 L244,10 L244.1,10 L244.2,10 L244.2,10 L244.3,10 L244.4,10 L244.5,10 L244.6,10.7 L244.6,30 L244.7,32.2 L244.7,45.5 L244.8,57.9 L244.9,67.9 L245,76.2 L245,83.2 L245.1,89.1 L245.2,94.3 L245.3,98.8 L245.4,103.5 L245.4,107.8 L245.5,110.8 L245.5,111.8 L245.6,115.5 L245.7,119 L245.8,122.3 L245.8,125.4 L245.9,128.3 L246,131 L246.1,133.4 L246.2,135.4 L246.2,137.2 L246.3,138.9 L246.3,139.5 L246.4,140.4 L246.5,141.8 L246.6,143.1 L246.6,144.3 L246.7,145.4 L246.8,146.3 L246.9,147.2 L247,147.9 L247,148.6 L247.1,149.3 L247.2,149.8 L247.3,150.5 L247.4,151.4 L247.4,152.2 L247.5,152.9 L247.6,153.6 L247.7,154.2 L247.8,154.9 L247.8,155.4 L247.9,156 L248,156.4 L248.1,156.6 L248.1,156.7 L248.2,157 L248.2,157.3 L248.3,157.6 L248.4,157.9 L248.5,158.1 L248.6,158.3 L248.6,158.6 L248.7,158.8 L248.8,159 L248.9,159.2 L248.9,159.2 L249,159.3 L249,159.5 L249.1,159.7 L249.2,159.8 L249.3,160 L249.4,160.1 L249.4,160.3 L249.5,160.4 L249.6,160.5 L249.7,160.6 L249.8,160.7 L249.8,160.8 L249.8,160.9 L249.9,161 L250.6,158.9 L251.4,159.4 L252.3,160.6 L253.2,160 L254,159.7 L254.8,162.1 L255.7,159 L256.6,157.5 L257.4,158.7 L258.2,157.3 L259.1,157.8 L259.9,160.5 L260.8,159.4 L261.6,158.6 L262.5,159.6 L263.4,159.5 L264.2,161.3 L265.1,158.7 L265.9,156.7 L266.8,155.5 L267.6,156.7 L268.4,156.6 L269.3,156.9 L270.1,158.3 L271,158.8 L271.9,158.1 L272.7,157.3 L273.6,159 L274.4,158.8 L275.2,158.2 L276.1,158.8 L276.9,156.9 L277.8,154.9 L278.6,153.7 L279.5,156 L280.4,149.5 L281.2,143.9 L282.1,139.5 L282.9,136 L283.8,134.6 L284.6,136.9 L285.4,142.2 L286.3,146.8 L287.1,150.3 L288,153.1 L288.9,152 L289.7,151.9 L290.6,153.2 L291.4,152.5 L292.2,151 L293.1,148.7 L293.9,143.7 L294.8,139 L295.6,140.2 L296.5,140.3 L297.4,144.2 L298.2,149.3 L299.1,153.5 L299.9,154.6 L300.8,154.8 L301.6,156.2 L302.4,156.4 L303.3,157.1 L304.1,152.7 L305,155.4 L305.9,156.1 L306.7,156.6 L307.6,155.2 L308.4,155.8 L309.2,157 L310.1,156.9 L310.9,155.5 L311.8,155.1 L312.6,154.9 L313.5,155.6 L314.4,156.7 L315.2,157.1 L316.1,155.4 L316.9,153.7 L317.8,153 L318.6,153.1 L319.4,154.1 L320.3,152.2 L321.1,151 L322,150.1 L322.9,149.4 L323.7,149.1 L324.6,149.1 L325.4,149.6 L326.2,151.3 L327.1,153.2 L327.9,154.3 L328.8,153.9 L329.6,154.3 L330.5,156.4 L331.4,155.7 L332.2,154.9 L333.1,155 L333.9,154.1 L334.8,153.1 L335.6,152.3 L336.4,153.7 L337.3,153.6 M347.5,112.9 L348.4,114.8 L349.2,115.6 L350.1,122 L350.9,119.9 L351.8,119.4 L352.6,119.8 L353.4,117.3 L354.3,121.7 L355.1,123.1 L356,122.4 L356.9,116.5 L357.7,122.6 L358.6,126.3 L359.4,128.6 L360.2,129.5 L361.1,127.8 L361.9,124.1 L362.8,128.5 L363.6,131.6 L364.5,128.4 L365.4,130.6 L366.2,130.3 L367.1,131.6 L367.9,133.9 L368.8,133.7 L369.6,133.4 L370.4,140.7 L371.3,135.5 L372.1,136.4 L373,134.9 L373.9,136.6 L374.7,136.5 L375.6,135.7 L376.4,135 L377.2,137.6 L378.1,141.6 L378.9,141.8 L379.8,135.8 L380.6,138 L381.5,141.9 L382.4,144.4 L383.2,146.3 L384.1,145 L384.9,144.7 L385.8,147.1 L386.6,144.5 L387.4,143.5 L388.3,143.6 L389.1,144.4 L390,140.2 L390.9,136.2 L391.7,129.7 L392.6,127.1 L393.4,130.6 L394.2,134 L395.1,140 L395.9,143.5 L396.8,144.9 L397.6,148.9 L398.5,149 L399.4,148.7 L400.2,146.4 L401.1,142.9 L401.9,139.5 L402.8,132.1 L403.6,132.1 L404.4,134 L405.3,139.8 L406.1,143.5 L407,144.6 L407.9,145.4 L408.7,150.1 L409.6,154.8 L410.4,152.7 L411.2,154.1 L412.1,153.8 L412.9,154.4 L413.8,161.7 L414.6,157.7 L415.5,157.2 L416.4,158.3 L417.2,157.9 L418.1,155.6 L418.9,155.8 L419.8,157.2 L420.6,158.1 L421.4,158 L422.3,161.1 L423.1,157.7 L424,158.5 L424.9,161.1 L425.7,162.1 L426.6,158.6 L427.4,153.3 L428.2,149.3 L429.1,159.3 L429.9,159 L430.8,157 L431.6,160.4 L432.5,159.3 L433.4,158.5 L434.2,157.8 L435.1,156.4 L435.9,158.7 L436.8,156.1 L437.6,155.3 L438.4,157 L439,157.5 L439.1,157 L439.2,156.4 L439.3,155.9 L439.4,155.4 L439.5,154.8 L439.6,154.3 L439.7,153.7 L439.8,153 L439.9,152.4 L440,151.9 L440.1,151.4 L440.1,151.2 L440.2,150.9 L440.3,150.5 L440.4,150 L440.5,149.5 L440.6,148.9 L440.7,148.4 L440.8,147.9 L440.9,148.4 L441,148.8 L441.1,149.2 L441.2,149.6 L441.3,149.9 L441.4,150.2 L441.5,149.9 L441.6,149.5 L441.7,148.9 L441.8,148.4 L441.9,148.1 L441.9,147.7 L442,147.1 L442.1,146.3 L442.2,145.5 L442.3,144.6 L442.4,143.7 L442.5,142.6 L442.6,141.4 L442.7,139.8 L442.8,137.8 L442.9,135.6 L443,133.3 L443.1,130.8 L443.2,128.1 L443.3,125.4 L443.4,122.9 L443.5,120.1 L443.6,118.5 L443.6,116.9 L443.7,113.4 L443.8,109.5 L443.9,105.2 L444,100.4 L444.1,95 L444.2,89 L444.3,82.5 L444.4,75.3 L444.5,67.5 L444.6,59 L444.7,50.1 L444.8,40.9 L444.9,31.5 L445,22.4 L445.1,13.9 L445.2,10 L445.2,10 L445.3,10 L445.4,10 L445.5,10 L445.6,10 L445.7,13.7 L445.8,30.8 L445.9,49.1 L446,66.5 L446.1,81.9 L446.2,94.9 L446.3,105.8 L446.4,114.8 L446.5,122.3 L446.6,128.5 L446.7,133.7 L446.8,138.1 L446.9,141.8 L446.9,143.4 L447,144.9 L447.1,147.6 L447.2,149.9 L447.3,151.9 L447.4,153.7 L447.5,155.3 L447.6,156.7 L447.7,157.9 L447.8,159.1 L447.9,160.1 L448,161 L448.1,161.9 L448.2,162.7 L448.3,163.4 L448.4,163.8 L448.5,164.1 L448.6,164.3 L448.6,164.5 L448.7,164.6 L448.8,164.7 L448.9,164.9 L449,165 L449.1,165 L449.2,165 L449.3,165 L449.4,165.8 L449.5,166.6 L449.6,167.4 L449.7,168.2 L449.8,169 L449.9,169.7 L450,170.5 L450.1,171.2 L450.2,171.6 L450.3,171.1 L450.4,170.9 L450.4,170.6 L450.5,170.1 L450.6,169.6 L450.7,169.1 L450.8,168.6 L450.9,168.1 L451.2,166.7 L452.1,168.5 L452.9,172.8 L453.8,174.9 L454.6,171.5 L455.4,170.4 L456.3,169.3 L457.1,171.4 L458,173 L458.9,171.7 L459.7,170.4 L460.6,172.7 L461.4,174.9 L462.2,174.1 L463.1,177.3 L463.9,176.6 L464.8,175.4 L465.6,174.6 L466.5,174.9 L467.4,176.4 L468.2,177.7 L469.1,177.4 L469.9,177.7 L470.8,176.4 L471.6,176.6 L472.4,177 L473.3,175.7 L474.1,172.3 L475,172.9 L475.9,178 L476.7,176.6 L477.6,175.8 L478.4,177.7 L479.2,177.7 L480.1,175.6 L480.9,176.4 L481.8,177.8 L482.6,176.6 L483.5,179.7 L484.4,179.4 L485.2,181.9 L486.1,180.8 L486.9,181.1 L487.8,180.4 L488.6,180.3 L489.4,179.5 L490.3,179.7 L491.1,182.3 L492,179.4 L492.9,176.3 L493.7,175.3 L494.6,173.9 L495.4,174.3 L496.2,178.1 L497.1,182.2 L497.9,183.7 L498.8,182.8 L499.6,181.6 L500.5,183.5 L501.4,187.6 L502.2,184 L503.1,185.2 L503.9,184.8 L504.8,184.8 L505.6,184.7 L506.4,183 L507.3,181.9 L508.1,184.7 L509,189.6 L509.9,186.5 L510.7,186.8 L511.6,185.9 L512.4,186.1 L513.2,187 L514.1,187.9 L515,188.4 L515.8,190.6 L516.6,186.5 L517.5,186.1 L518.4,184.9 L519.2,183.8 L520,183.4 L520.9,185.1 L521.8,187.3 L522.6,184.5 L523.5,189.8 L524.3,188.8 L525.1,187 L526,185.3 L526.9,187.4 L527.7,187.5 L528.5,189.3 L529.4,188.7 L530.2,187.7 L531.1,188.8 L532,189.6 L532.8,189.1 L533.6,188.3 L534.5,186.3 L535.4,185.6 L536.2,186.7 L537,188 L537.9,189.5 L538.8,191.7 L539.6,193.9 L540.5,192.8 L541.3,190.7 L542.1,193.3 L543,189.7 L543.9,189.4 L544.7,193.1 L545.5,192.9 L546.4,189.2 L547.2,190.5 L548.1,191.2 L549,194.6 L549.8,190.9 L550.6,193.4 L551.5,191.5 L552.4,189.8 L553.2,191.4 L554,192.4 L554.9,191.3 L555.8,190 L556.6,190.6 L557.5,190.9 L558.3,194.5 L559.1,194.2 L560,193.5 L560.9,193.7 L561.7,193.1 L562.5,192.2 L563.4,193.5 L564.2,191 L565.1,190.2 L566,191.2 L566.8,192.9 L567.6,193.2 L568.5,194.3 L569.4,193.2 L570.2,190.3 L571,193.1 L571.9,193.3 L572.8,191.4 L573.6,193.8 L574.5,192.5 L575.3,191.1 L576.1,194.1 L577,193.8 L577.9,193.5 L578.7,194.2 L579.5,192.6 L580.4,192 L581.2,192.2 L582.1,192.6 L583,192.7 L583.8,194.6 L584.6,192.9 L585.5,194.7 L586.4,197.6 L587.2,197.4 L588,198.2 L588.9,193.1 L589.8,190.5 L590.6,193.5 L591.5,195.1 L592.3,196.1 L593.1,195.4 L594,195.1 L594.9,196 L595.7,195.3 L596.5,193.1 L597.4,199.7 L598.2,194.5 L599.1,197.4 L600,198.6 L600.8,197.3 L601.6,196.1 L602.5,198.7 L603.4,198.8 L604.2,196.3 L605,198.4 L605.9,197.1 L606.8,196.8 L607.6,197.3 L608.5,196.4 L609.3,195.6 L610.1,197.1 L611,197.8 L611.9,196.8 L612.7,195.9 L613.5,193.4 L614.4,194 L615.2,192.9 L616.1,189.2 L617,184.3 L617.8,181.2 L618.6,182.6 L619.5,187.6 L620.4,193.3 L621.2,196.8 L622,195.7 L622.9,199.1 L623.8,196.8 L624.6,199.3 L625.5,199.1 L626.3,197.9 L627.1,198.7 L628,197.3 L628.9,200.3 L629.7,200 L630.5,196.7 L631.4,197.1 L632.2,197.6 L633.1,196.4 L634,196.7 L634.8,197.2 L635.6,198.6 L636.5,201.2 L637.4,202.4 L638.2,199.1 L639,199.1 L639.9,200.3 L640.8,199.6 L641.6,199.9 L642.5,201.9 L643.3,202.7 L644.1,202.3 L645,201.8 L645.9,200.7 L646.7,204.6 L647.5,201.1 L648.4,201.6 L649.2,200.4 L650.1,200.3 L651,201.7 L651.8,202.5 L652.6,202.3 L653.5,204.1 L654.4,203.3 L655.2,200.7 L656,198.2"/>
<path stroke="#40b0ff" d="M29.6,214.2 L30.4,214 L31.3,214.3 L32.1,213.7 L33,214.3 L33.9,213.2 L34.7,212.7 L35.5,212.4 L36.4,210.9 L37.2,211.1 L38.1,212.2 L39,211.3 L39.8,211.1 L40.6,211.5 L41.5,211.9 L42.4,212.4 L43.2,212.8 L44,212.5 L44.9,212.3 L45.8,211.3 L46.6,209.8 L47.5,208.1 L48.3,209.2 L49.1,209.4 L50,208.8 L50.9,208.9 L51.7,211.2 L52.5,208.1 L53.4,210.7 L54.2,210.7 L55.1,209.6 L56,212.1 L56.8,210.7 L57.6,208.6 L58.5,210.2 L59.4,210.2 L60.2,207.8 L61,206.7 L61.9,206.9 L62.8,207.1 L63.6,206.8 L64.5,205 L65.3,199.2 L66.2,194.6 L67,196.7 L67.8,201.8 L68.7,203.9 L69.5,206.8 L70.4,208.9 L71.2,209.5 L72.1,208.1 L73,206.6 L73.8,206.1 L74.7,207.2 L75.5,208.8 L76.3,208 L77.2,204.2 L78,204.2 L78.9,205.4 L79.8,205.1 L80.6,207 L81.5,207.5 L82.3,208.7 L83.2,208.9 L84,207.7 L84.8,207.3 L85.7,208.2 L86.5,205.5 L87.4,204.7 L88.2,206.2 L89.1,207.1 L90,205.8 L90.8,205.4 L91.7,207.1 L92.5,206.8 L93.3,204.9 L94.2,205.5 L95,204.7 L95.9,204.7 L96.8,205.5 L97.6,203.9 L98.5,204.6 L99.3,205.3 L100.2,205 L101,204.5 L101.8,201.2 L102.7,200.6 L103.5,202.8 L104.4,202.4 L105.2,201.6 L106.1,201.3 L107,200.6 L107.8,200.5 L108.7,201.2 L109.5,200.5 L110.3,200.3 L111.2,201.3 L112,199.2 L112.9,200.3 L113.8,199 L114.6,197.9 L115.5,199.5 L116.3,195.1 L117.2,196.6 L118,197.4 L118.8,196.9 L119.7,198.4 L120.5,198 L121.4,196.3 L122.2,197.9 L123.1,199.5 L124,199.3 L124.8,196.9 L125.7,196 L126.5,196.7 L127.3,197.4 L128.2,197.3 L129.1,197.8 L129.9,197.7 L130.8,197.2 L131.6,195.7 L132.4,195.6 L133.3,197.4 L134.2,193.4 L135,191.3 L135.8,187.8 L136.7,188.3 L137.6,191 L138.4,193.9 L139.2,195.6 L140.1,195.1 L140.9,194.8 L141.8,195.4 L142.7,192.5 L143.5,193.3 L144.3,192.8 L145.2,193.4 L146.1,193.6 L146.9,193.2 L147.8,193.6 L148.6,192.3 L149.4,188.9 L150.3,192.5 L151.2,189.9 L152,189.5 L152.8,187.8 L153.7,189.5 L154.6,188.9 L155.4,189.2 L156.2,191 L157.1,191.5 L157.9,192.4 L158.8,190.2 L159.7,190.9 L160.5,191.4 L161.3,192 L162.2,190.6 L163.1,189.9 L163.9,188.9 L164.8,187.1 L165.6,187.4 L166.4,187.8 L167.3,187.8 L168.2,185.9 L169,186.4 L169.8,187.9 L170.7,188 L171.6,187.5 L172.4,188 L173.2,188.4 L174.1,190.2 L174.9,190.5 L175.8,188.1 L176.7,187.1 L177.5,188.1 L178.3,187.7 L179.2,186 L180.1,184.7 L180.9,184.5 L181.8,185.7 L182.6,188.4 L183.4,185.6 L184.3,189.5 L185.2,186 L186,185.1 L186.8,186 L187.7,184.5 L188.6,181.6 L189.4,177.4 L190.2,171.3 L191.1,173 L191.9,178 L192.8,182 L193.7,182.2 L194.5,180.8 L195.3,181.6 L196.2,183.3 L197.1,182.6 L197.9,182.4 L198.8,182.1 L199.6,180 L200.4,183.8 L201.3,182.5 L202.2,182.8 L203,183.7 L203.8,183.5 L204.7,182.6 L205.6,181.5 L206.4,181.3 L207.2,181.7 L208.1,182.6 L208.9,182.2 L209.8,180.9 L210.7,181.2 L211.5,181.4 L212.3,181.3 L213.2,181.2 L214.1,180.5 L214.9,181.6 L215.8,179.7 L216.6,180 L217.4,178.3 L218.3,176.1 L219.2,173.8 L220,173.3 L220.8,174.8 L221.7,176.9 L222.6,177.7 L223.4,176.6 L224.2,176.5 L225.1,176.7 L225.9,178.9 L226.8,178.5 L227.7,177.4 L228.5,177.4 L229.3,177.5 L230.2,175 L231.1,176.4 L231.9,175.8 L232.8,175.3 L233.6,173.9 L234.4,174.6 L235.3,175.7 L236,174.6 L236.1,174.2 L236.2,173.9 L236.2,173.8 L236.2,173.4 L236.3,173 L236.4,172.6 L236.5,172.2 L236.6,171.7 L236.6,171.3 L236.7,170.8 L236.8,170.2 L236.9,169.7 L237,169.3 L237,169.3 L237,169.2 L237.1,169.1 L237.2,169 L237.3,168.8 L237.4,168.6 L237.4,168.4 L237.5,168.1 L237.6,167.8 L237.7,167.5 L237.8,167.1 L237.8,166.6 L237.8,166.6 L237.9,166 L238,165.4 L238.1,164.7 L238.2,163.9 L238.2,163.1 L238.3,162.1 L238.4,161.1 L238.5,160 L238.6,158.9 L238.6,157.7 L238.7,156.7 L238.7,156.3 L238.8,154.9 L238.9,153.2 L239,151.5 L239,149.6 L239.1,147.6 L239.2,145.4 L239.3,143 L239.4,140.4 L239.4,137.4 L239.5,133.9 L239.6,132.6 L239.6,130.3 L239.7,126.4 L239.8,122.2 L239.8,117.7 L239.9,112.9 L240,107.5 L240.1,101.6 L240.2,94.9 L240.2,87.2 L240.3,78.1 L240.4,67.3 L240.5,54.1 L240.6,38.2 L240.6,18.3 L240.7,10 L240.8,10 L240.9,10 L241,10 L241,10 L241.1,10 L241.2,10 L241.2,10 L241.3,10 L241.4,10 L241.4,10 L241.5,10 L241.6,10 L241.7,10 L241.8,10 L241.8,10 L241.9,10 L242,10 L242.1,10 L242.1,10 L242.2,10 L242.2,10 L242.3,10 L242.4,10 L242.5,10 L242.6,10 L242.6,10 L242.7,10 L242.8,10 L242.9,10 L242.9,10 L243,10 L243,10 L243.1,10 L243.2,10 L243.3,10 L243.4,10 L243.4,10 L243.5,10 L243.6,10 L243.7,10 L243.8,10 L243.8,10 L243.8,10 L243.9,10 L244,10 L244.1,10 L244.2,10 L244.2,10 L244.3,10 L244.4,10 L244.5,10 L244.6,18.7 L244.6,38.5 L244.7,40.7 L244.7,54.4 L244.8,67.3 L244.9,77.8 L245,86.6 L245,94 L245.1,100.4 L245.2,106 L245.3,111.1 L245.4,115.6 L245.4,120 L245.5,123 L245.5,124 L245.6,127.7 L245.7,131.2 L245.8,134.5 L245.8,137.5 L245.9,140.4 L246,143.1 L246.1,145.6 L246.2,147.9 L246.2,149.9 L246.3,151.2 L246.3,151.7 L246.4,152.4 L246.5,153.4 L246.6,154.2 L246.6,155 L246.7,155.6 L246.8,156.2 L246.9,156.7 L247,157 L247,157.6 L247.1,158.4 L247.2,159.1 L247.3,159.8 L247.4,160.4 L247.4,160.9 L247.5,161.4 L247.6,161.8 L247.7,162.2 L247.8,162.5 L247.8,162.8 L247.9,163.3 L248,163.9 L248.1,164.2 L248.1,164.4 L248.2,165 L248.2,165.5 L248.3,166 L248.4,166.4 L248.5,166.9 L248.6,167.3 L248.6,167.8 L248.7,168.2 L248.8,168.6 L248.9,169 L248.9,169.1 L249,169.4 L249,169.5 L249.1,169.6 L249.2,169.6 L249.3,169.6 L249.4,169.7 L249.4,169.7 L249.5,169.7 L249.6,169.7 L249.7,169.8 L249.8,169.8 L249.8,169.8 L249.8,169.8 L249.9,169.6 L250.6,168.2 L251.4,168.2 L252.3,169.6 L253.2,169.2 L254,169.1 L254.8,167.7 L255.7,167.9 L256.6,167.4 L257.4,168 L258.2,168 L259.1,168.9 L259.9,169.5 L260.8,167.8 L261.6,166.1 L262.5,169.4 L263.4,170.1 L264.2,168.9 L265.1,169.4 L265.9,168.8 L266.8,168.6 L267.6,167.7 L268.4,168 L269.3,167.5 L270.1,165.8 L271,168.7 L271.9,164.5 L272.7,163.7 L273.6,165.6 L274.4,166.1 L275.2,165.8 L276.1,165.8 L276.9,165.3 L277.8,163.8 L278.6,162 L279.5,160.8 L280.4,158 L281.2,153.9 L282.1,151.2 L282.9,145.2 L283.8,144.3 L284.6,147.8 L285.4,152.3 L286.3,155.7 L287.1,158 L288,160.9 L288.9,164 L289.7,162.7 L290.6,163 L291.4,161.4 L292.2,159 L293.1,156.6 L293.9,152.1 L294.8,149.2 L295.6,149.1 L296.5,150.4 L297.4,155.1 L298.2,155.8 L299.1,159.6 L299.9,163.5 L300.8,165.1 L301.6,164.8 L302.4,163.6 L303.3,163.4 L304.1,163.7 L305,164.8 L305.9,164.9 L306.7,165 L307.6,165.3 L308.4,164.4 L309.2,163 L310.1,162.7 L310.9,162.5 L311.8,162.4 L312.6,163.6 L313.5,164.2 L314.4,167.4 L315.2,165.8 L316.1,164.5 L316.9,164.5 L317.8,165.1 L318.6,161.8 L319.4,162.2 L320.3,161.6 L321.1,160.1 L322,158.3 L322.9,156.8 L323.7,156 L324.6,157.2 L325.4,159 L326.2,160.2 L327.1,162.1 L327.9,161.8 L328.8,162.8 L329.6,160 L330.5,162.9 L331.4,162.1 L332.2,160.7 L333.1,160.4 L333.9,161 L334.8,162.5 L335.6,164.3 L336.4,163.7 L337.3,161.8 M347.5,124.5 L348.4,123 L349.2,126.5 L350.1,127 L350.9,128 L351.8,130.6 L352.6,130.5 L353.4,129.5 L354.3,131.6 L355.1,133.6 L356,132 L356.9,131.6 L357.7,133.9 L358.6,135.3 L359.4,136.4 L360.2,137.5 L361.1,136.9 L361.9,135 L362.8,139 L363.6,141.8 L364.5,138.5 L365.4,140.6 L366.2,140.5 L367.1,141.3 L367.9,145.4 L368.8,146.8 L369.6,144.5 L370.4,142.6 L371.3,146.6 L372.1,147.4 L373,149.8 L373.9,145.9 L374.7,144.9 L375.6,147.2 L376.4,147.2 L377.2,145.6 L378.1,152.7 L378.9,145 L379.8,148.1 L380.6,147.1 L381.5,149.1 L382.4,152.3 L383.2,154.3 L384.1,154.6 L384.9,155.1 L385.8,153.3 L386.6,148.9 L387.4,151.4 L388.3,145.4 L389.1,147 L390,143.5 L390.9,138.1 L391.7,134.8 L392.6,133.8 L393.4,137 L394.2,147 L395.1,150.4 L395.9,155.7 L396.8,157.2 L397.6,158.5 L398.5,156.8 L399.4,158.9 L400.2,156.8 L401.1,148.9 L401.9,146.9 L402.8,140.7 L403.6,138.8 L404.4,142.9 L405.3,147 L406.1,154.7 L407,159.3 L407.9,160.6 L408.7,162 L409.6,161.4 L410.4,158.6 L411.2,158.1 L412.1,160.6 L412.9,162.2 L413.8,169.5 L414.6,163.5 L415.5,165 L416.4,166.5 L417.2,167.4 L418.1,168.5 L418.9,165.1 L419.8,166.1 L420.6,164.3 L421.4,163 L422.3,162.3 L423.1,162.7 L424,166.2 L424.9,167.8 L425.7,166.4 L426.6,166.1 L427.4,167.1 L428.2,166.1 L429.1,166.8 L429.9,166.5 L430.8,167.1 L431.6,167.5 L432.5,164.2 L433.4,161.4 L434.2,165.8 L435.1,167.2 L435.9,162.7 L436.8,163.9 L437.6,164.7 L438.4,165.2 L439,164.3 L439.1,163.9 L439.2,163.6 L439.3,163.2 L439.4,162.8 L439.5,162.4 L439.6,161.9 L439.7,161.5 L439.8,161 L439.9,160.5 L440,159.6 L440.1,159.2 L440.1,159 L440.2,158.7 L440.3,158.2 L440.4,157.7 L440.5,157.2 L440.6,156.7 L440.7,156.1 L440.8,155.9 L440.9,155.7 L441,155.5 L441.1,155.2 L441.2,154.8 L441.3,154.5 L441.4,154 L441.5,153.4 L441.6,152.7 L441.7,152 L441.8,151.1 L441.9,150.7 L441.9,150.2 L442,149.2 L442.1,148.2 L442.2,147 L442.3,145.7 L442.4,144.3 L442.5,142.4 L442.6,140.4 L442.7,138.2 L442.8,135.8 L442.9,133.1 L443,130.1 L443.1,126.8 L443.2,123.1 L443.3,119.1 L443.4,114.6 L443.5,109.6 L443.6,107 L443.6,104.3 L443.7,98.7 L443.8,92.3 L443.9,85.4 L444,77.8 L444.1,69.7 L444.2,61 L444.3,51.9 L444.4,42.8 L444.5,33.9 L444.6,25.7 L444.7,18 L444.8,11.9 L444.9,10 L445,10 L445.1,10.8 L445.2,23 L445.2,31 L445.3,39.7 L445.4,57.8 L445.5,75 L445.6,90.2 L445.7,103 L445.8,113.6 L445.9,122.3 L446,129.5 L446.1,135.3 L446.2,140.1 L446.3,144.1 L446.4,147.8 L446.5,150.9 L446.6,153.6 L446.7,156 L446.8,158 L446.9,159.8 L446.9,160.6 L447,161.4 L447.1,162.8 L447.2,164.2 L447.3,165.4 L447.4,166.5 L447.5,167.5 L447.6,168.4 L447.7,169.3 L447.8,170.1 L447.9,170.8 L448,171.5 L448.1,172.1 L448.2,172.6 L448.3,173 L448.4,173.4 L448.5,173.8 L448.6,174.2 L448.6,174.4 L448.7,174.6 L448.8,174.9 L448.9,175.2 L449,175.5 L449.1,175.7 L449.2,175.8 L449.3,176 L449.4,176.4 L449.5,176.8 L449.6,177.2 L449.7,177.6 L449.8,178 L449.9,178.3 L450,178.6 L450.1,178.7 L450.2,178.7 L450.3,178.8 L450.4,178.8 L450.4,178.8 L450.5,178.8 L450.6,178.9 L450.7,178.9 L450.8,178.9 L450.9,178.9 L451.2,179.4 L452.1,182.4 L452.9,181.2 L453.8,182.4 L454.6,180.1 L455.4,179.2 L456.3,181.1 L457.1,182.1 L458,182.1 L458.9,183 L459.7,182.8 L460.6,181.1 L461.4,184.4 L462.2,185.1 L463.1,179.7 L463.9,180.4 L464.8,181.5 L465.6,182.8 L466.5,183.6 L467.4,182.7 L468.2,180.6 L469.1,184 L469.9,183.6 L470.8,185.5 L471.6,185.3 L472.4,184.9 L473.3,185.2 L474.1,184.5 L475,184 L475.9,182.7 L476.7,186 L477.6,185.5 L478.4,184.1 L479.2,184.9 L480.1,186.3 L480.9,187.7 L481.8,189.2 L482.6,189 L483.5,187.4 L484.4,190 L485.2,189 L486.1,186.8 L486.9,189.9 L487.8,188.6 L488.6,187.3 L489.4,188.9 L490.3,191 L491.1,189.5 L492,186 L492.9,187.1 L493.7,185.7 L494.6,182.3 L495.4,187.3 L496.2,188.5 L497.1,189.2 L497.9,189.9 L498.8,188.7 L499.6,193.6 L500.5,191.6 L501.4,193.6 L502.2,190 L503.1,195.2 L503.9,197.2 L504.8,198.2 L505.6,194.4 L506.4,190.4 L507.3,195.1 L508.1,194.3 L509,187.7 L509.9,191.8 L510.7,193.4 L511.6,196 L512.4,195 L513.2,194.3 L514.1,195.7 L515,195.5 L515.8,196.4 L516.6,195.2 L517.5,197.9 L518.4,198 L519.2,193.6 L520,197.7 L520.9,195.8 L521.8,194.7 L522.6,195.7 L523.5,197.5 L524.3,196.3 L525.1,197.2 L526,197.7 L526.9,197.8 L527.7,196.5 L528.5,195.3 L529.4,196.6 L530.2,199.1 L531.1,199.4 L532,199.1 L532.8,198 L533.6,199.9 L534.5,198.4 L535.4,195.7 L536.2,197.9 L537,198.7 L537.9,199 L538.8,198.2 L539.6,195.6 L540.5,196 L541.3,197.9 L542.1,196.7 L543,197.6 L543.9,199.2 L544.7,199.5 L545.5,200.3 L546.4,201.5 L547.2,200.6 L548.1,203.1 L549,202.6 L549.8,206 L550.6,201.9 L551.5,200.4 L552.4,202 L553.2,200.5 L554,198.9 L554.9,199.3 L555.8,201.1 L556.6,201.2 L557.5,198.7 L558.3,201.7 L559.1,202.1 L560,202.3 L560.9,202.8 L561.7,202.7 L562.5,203.4 L563.4,205 L564.2,203.4 L565.1,202.4 L566,202.6 L566.8,203.9 L567.6,203.9 L568.5,204.6 L569.4,203.2 L570.2,202.6 L571,204.4 L571.9,206.1 L572.8,203.1 L573.6,206.3 L574.5,205.1 L575.3,202.5 L576.1,200.3 L577,202.5 L577.9,202.5 L578.7,201.3 L579.5,200.9 L580.4,200.9 L581.2,205.7 L582.1,203.6 L583,203.5 L583.8,204.2 L584.6,204.1 L585.5,203.9 L586.4,204.3 L587.2,204.3 L588,202.3 L588.9,201 L589.8,206.4 L590.6,206.1 L591.5,205.2 L592.3,206.7 L593.1,205 L594,200 L594.9,202 L595.7,206.6 L596.5,204.1 L597.4,201.6 L598.2,203.9 L599.1,206.1 L600,204.3 L600.8,205.2 L601.6,209.1 L602.5,209.5 L603.4,208.2 L604.2,206 L605,206.8 L605.9,204.8 L606.8,206.6 L607.6,206 L608.5,205.1 L609.3,203.8 L610.1,206.7 L611,207.8 L611.9,204.8 L612.7,202.2 L613.5,202.2 L614.4,204.1 L615.2,202.6 L616.1,195.9 L617,191.1 L617.8,191.5 L618.6,193.1 L619.5,195.7 L620.4,198.7 L621.2,201.8 L622,205.4 L622.9,205.1 L623.8,204.3 L624.6,205.8 L625.5,208.1 L626.3,209.6 L627.1,208.9 L628,209.1 L628.9,211.6 L629.7,207.2 L630.5,208.6 L631.4,206.9 L632.2,208.9 L633.1,209.9 L634,207.5 L634.8,206.8 L635.6,209.8 L636.5,213.4 L637.4,212.1 L638.2,211.1 L639,212.8 L639.9,209.6 L640.8,208.9 L641.6,209.1 L642.5,208.8 L643.3,209.6 L644.1,210.5 L645,212.2 L645.9,213.2 L646.7,213.2 L647.5,216.4 L648.4,211 L649.2,210.9 L650.1,211.5 L651,211.2 L651.8,209.7 L652.6,210.5 L653.5,211.6 L654.4,209.6 L655.2,212.4 L656,214.3"/>
<path stroke="#50f0a0" d="M29.6,222.9 L30.4,221.4 L31.3,222.8 L32.1,222.2 L33,222.7 L33.9,221.9 L34.7,220.4 L35.5,221.1 L36.4,221.2 L37.2,220.1 L38.1,221.4 L39,219.1 L39.8,218.7 L40.6,219.5 L41.5,221 L42.4,221.5 L43.2,220.6 L44,220.6 L44.9,221.3 L45.8,220.4 L46.6,219.2 L47.5,219.4 L48.3,219.3 L49.1,219.7 L50,220 L50.9,219.5 L51.7,218.5 L52.5,218.9 L53.4,218.9 L54.2,219.7 L55.1,219.8 L56,218.7 L56.8,218.5 L57.6,218.7 L58.5,219.1 L59.4,218.7 L60.2,217.7 L61,218.5 L61.9,216.7 L62.8,217.2 L63.6,215.6 L64.5,212.5 L65.3,209.1 L66.2,204.8 L67,204.5 L67.8,208.9 L68.7,212.8 L69.5,214.3 L70.4,214.5 L71.2,215.2 L72.1,216.2 L73,216.8 L73.8,214.6 L74.7,213.8 L75.5,216.5 L76.3,216.8 L77.2,216.7 L78,215.5 L78.9,215.2 L79.8,214.2 L80.6,214.2 L81.5,214.9 L82.3,214 L83.2,213.2 L84,213.8 L84.8,214.6 L85.7,212.6 L86.5,214.1 L87.4,212.5 L88.2,213.3 L89.1,214.1 L90,213.5 L90.8,213 L91.7,212.9 L92.5,213.1 L93.3,211 L94.2,213.5 L95,214.1 L95.9,214.9 L96.8,214.1 L97.6,213.2 L98.5,214.4 L99.3,215 L100.2,214 L101,212.1 L101.8,213.3 L102.7,213.1 L103.5,212 L104.4,210.4 L105.2,209.5 L106.1,210.2 L107,212 L107.8,212.3 L108.7,210.9 L109.5,212.6 L110.3,213 L111.2,208.5 L112,208.5 L112.9,209.6 L113.8,209.4 L114.6,207.6 L115.5,205.8 L116.3,204.5 L117.2,204.6 L118,204.2 L118.8,207.5 L119.7,205.1 L120.5,203.8 L121.4,206 L122.2,207.8 L123.1,206.6 L124,205.7 L124.8,205.5 L125.7,204.6 L126.5,205.4 L127.3,204.4 L128.2,204 L129.1,203.3 L129.9,203.7 L130.8,205.7 L131.6,205.7 L132.4,203.8 L133.3,203.8 L134.2,203.2 L135,197.1 L135.8,194.2 L136.7,196.4 L137.6,197.8 L138.4,199.9 L139.2,202.2 L140.1,202.7 L140.9,200.5 L141.8,201.1 L142.7,203.6 L143.5,200.5 L144.3,200.7 L145.2,201.7 L146.1,201.4 L146.9,200.8 L147.8,201.1 L148.6,202.9 L149.4,200.1 L150.3,200.9 L151.2,200 L152,199.9 L152.8,198.8 L153.7,199.5 L154.6,199.8 L155.4,199.5 L156.2,199.6 L157.1,197.6 L157.9,198.1 L158.8,199.2 L159.7,198.7 L160.5,197.4 L161.3,197.7 L162.2,196.8 L163.1,196.7 L163.9,196.6 L164.8,194.6 L165.6,197.7 L166.4,198.8 L167.3,198.4 L168.2,198.4 L169,197.3 L169.8,197.1 L170.7,196.7 L171.6,196 L172.4,195.9 L173.2,195.6 L174.1,191.2 L174.9,196 L175.8,196.1 L176.7,196.4 L177.5,194.9 L178.3,195.2 L179.2,195.7 L180.1,194.6 L180.9,191.5 L181.8,192 L182.6,193.9 L183.4,193 L184.3,193.6 L185.2,192.8 L186,193.8 L186.8,192.6 L187.7,189.4 L188.6,187.8 L189.4,183.8 L190.2,179.6 L191.1,182.3 L191.9,187.7 L192.8,189.3 L193.7,191.7 L194.5,193.3 L195.3,193.5 L196.2,193.5 L197.1,194 L197.9,193 L198.8,191.6 L199.6,193.4 L200.4,192 L201.3,193.3 L202.2,191.2 L203,189.2 L203.8,188.1 L204.7,189.2 L205.6,190.6 L206.4,190.6 L207.2,189.9 L208.1,191 L208.9,188.3 L209.8,188.5 L210.7,190.1 L211.5,189.6 L212.3,188.9 L213.2,189.2 L214.1,190 L214.9,189.1 L215.8,186.8 L216.6,186.9 L217.4,183.6 L218.3,183.5 L219.2,183 L220,181.4 L220.8,182.7 L221.7,186.8 L222.6,187.7 L223.4,186.8 L224.2,187.5 L225.1,188 L225.9,187.1 L226.8,186.7 L227.7,187 L228.5,185.5 L229.3,183.9 L230.2,184.3 L231.1,184.3 L231.9,186.2 L232.8,184.8 L233.6,184.5 L234.4,183.2 L235.3,180.8 L236,180.6 L236.1,180.9 L236.2,181.1 L236.2,181.2 L236.2,181.4 L236.3,181.6 L236.4,181.9 L236.5,182.1 L236.6,182.3 L236.6,182.5 L236.7,182.4 L236.8,182.3 L236.9,182.1 L237,182 L237,181.9 L237,181.8 L237.1,181.6 L237.2,181.4 L237.3,181.2 L237.4,180.9 L237.4,180.6 L237.5,180 L237.6,179.3 L237.7,178.7 L237.8,177.9 L237.8,177.1 L237.8,177 L237.9,176.3 L238,175.4 L238.1,174.4 L238.2,173.4 L238.2,172.3 L238.3,171.1 L238.4,169.8 L238.5,168.4 L238.6,167 L238.6,165.4 L238.7,164.1 L238.7,163.7 L238.8,161.9 L238.9,160 L239,158 L239,155.9 L239.1,153.6 L239.2,151.2 L239.3,148.6 L239.4,145.8 L239.4,142.8 L239.5,139.6 L239.6,138.3 L239.6,136.2 L239.7,132.6 L239.8,129 L239.8,125 L239.9,120.7 L240,115.9 L240.1,110.5 L240.2,104.3 L240.2,97.1 L240.3,88.4 L240.4,77.7 L240.5,64.7 L240.6,48.6 L240.6,28.6 L240.7,10 L240.8,10 L240.9,10 L241,10 L241,10 L241.1,10 L241.2,10 L241.2,10 L241.3,10 L241.4,10 L241.4,10 L241.5,10 L241.6,10 L241.7,10 L241.8,10 L241.8,10 L241.9,10 L242,10 L242.1,10 L242.1,10 L242.2,10 L242.2,10 L242.3,10 L242.4,10 L242.5,10 L242.6,10 L242.6,10 L242.7,10 L242.8,10 L242.9,10 L242.9,10 L243,10 L243,10 L243.1,10 L243.2,10 L243.3,10 L243.4,10 L243.4,10 L243.5,10 L243.6,10 L243.7,10 L243.8,10 L243.8,10 L243.8,10 L243.9,10 L244,10 L244.1,10 L244.2,10 L244.2,10 L244.3,10 L244.4,10 L244.5,10 L244.6,27.1 L244.6,46.9 L244.7,49 L244.7,62.7 L244.8,75.4 L244.9,85.9 L245,94.6 L245,101.9 L245.1,108.2 L245.2,113.7 L245.3,118.7 L245.4,123.1 L245.4,127.2 L245.5,130.1 L245.5,131 L245.6,134.5 L245.7,137.7 L245.8,140.8 L245.8,143.6 L245.9,146.2 L246,148.7 L246.1,151 L246.2,153.1 L246.2,155.1 L246.3,156.9 L246.3,157.6 L246.4,158.6 L246.5,160.2 L246.6,161.6 L246.6,163 L246.7,164.2 L246.8,165.3 L246.9,166.4 L247,167.3 L247,168.2 L247.1,168.9 L247.2,169.7 L247.3,170.3 L247.4,170.9 L247.4,171.3 L247.5,171.7 L247.6,172 L247.7,172.3 L247.8,172.6 L247.8,172.8 L247.9,173 L248,173.2 L248.1,173.3 L248.1,173.3 L248.2,173.6 L248.2,173.9 L248.3,174.2 L248.4,174.4 L248.5,174.7 L248.6,174.9 L248.6,175.1 L248.7,175.3 L248.8,175.5 L248.9,175.7 L248.9,175.7 L249,175.8 L249,176 L249.1,176.2 L249.2,176.3 L249.3,176.6 L249.4,177.1 L249.4,177.5 L249.5,178 L249.6,178.4 L249.7,178.9 L249.8,179.3 L249.8,179.3 L249.8,179.5 L249.9,179.4 L250.6,178.2 L251.4,178.9 L252.3,179.4 L253.2,177.1 L254,177.8 L254.8,177.1 L255.7,177.1 L256.6,177.9 L257.4,174.9 L258.2,176.5 L259.1,177.7 L259.9,177.1 L260.8,176.9 L261.6,176.8 L262.5,176.7 L263.4,177.7 L264.2,177 L265.1,176 L265.9,176.5 L266.8,177.4 L267.6,177.2 L268.4,176.5 L269.3,176.2 L270.1,176.1 L271,175.2 L271.9,175.1 L272.7,173.6 L273.6,174.2 L274.4,175.5 L275.2,175 L276.1,173.3 L276.9,173 L277.8,173.9 L278.6,171.8 L279.5,169.8 L280.4,167.2 L281.2,163.3 L282.1,157.9 L282.9,153.3 L283.8,153.2 L284.6,157.2 L285.4,159.3 L286.3,162.8 L287.1,167.2 L288,170.7 L288.9,169 L289.7,171.7 L290.6,171 L291.4,171.4 L292.2,169.7 L293.1,165.7 L293.9,162 L294.8,160.6 L295.6,159.4 L296.5,158.8 L297.4,162.5 L298.2,165.3 L299.1,169 L299.9,170.2 L300.8,170.5 L301.6,171.4 L302.4,170.4 L303.3,173.3 L304.1,169.5 L305,170.8 L305.9,172.7 L306.7,172.2 L307.6,171.9 L308.4,171.6 L309.2,171.3 L310.1,171.5 L310.9,170.1 L311.8,172.7 L312.6,173.1 L313.5,173.1 L314.4,172.3 L315.2,172.6 L316.1,172.5 L316.9,171.8 L317.8,171.5 L318.6,170.3 L319.4,169 L320.3,166.7 L321.1,163.6 L322,166.3 L322.9,164.8 L323.7,166.8 L324.6,166.5 L325.4,166.5 L326.2,168.8 L327.1,168.9 L327.9,170 L328.8,169.6 L329.6,170.8 L330.5,171 L331.4,171.5 L332.2,171.7 L333.1,171.6 L333.9,172.5 L334.8,172.8 L335.6,172.3 L336.4,171.5 L337.3,172.9 M347.5,135.5 L348.4,135.3 L349.2,138.2 L350.1,138.9 L350.9,140.3 L351.8,137.1 L352.6,136.6 L353.4,139.2 L354.3,138.9 L355.1,142.8 L356,142.1 L356.9,144.2 L357.7,141.1 L358.6,143.3 L359.4,143.9 L360.2,143.9 L361.1,144.8 L361.9,144.3 L362.8,145 L363.6,149.7 L364.5,148.8 L365.4,150.8 L366.2,147.7 L367.1,145.1 L367.9,146.2 L368.8,149.2 L369.6,151.3 L370.4,154.2 L371.3,155.3 L372.1,156.3 L373,157.7 L373.9,156.6 L374.7,155.9 L375.6,155.4 L376.4,157 L377.2,159.3 L378.1,158.3 L378.9,158.8 L379.8,162.8 L380.6,163.4 L381.5,164.8 L382.4,162.7 L383.2,165.7 L384.1,167.7 L384.9,166.1 L385.8,164.7 L386.6,162.7 L387.4,161.4 L388.3,159.5 L389.1,164.5 L390,154 L390.9,152.3 L391.7,148.4 L392.6,145.6 L393.4,147.8 L394.2,153.3 L395.1,158.6 L395.9,164.3 L396.8,165.2 L397.6,165.2 L398.5,163 L399.4,161 L400.2,163.3 L401.1,163.5 L401.9,153.1 L402.8,149.5 L403.6,151.9 L404.4,150.4 L405.3,160.8 L406.1,167.4 L407,170.3 L407.9,172.8 L408.7,173.2 L409.6,169.6 L410.4,170.4 L411.2,173 L412.1,173.6 L412.9,173.3 L413.8,174.6 L414.6,172.1 L415.5,169.6 L416.4,171.4 L417.2,175.4 L418.1,175.9 L418.9,179.1 L419.8,182.3 L420.6,177 L421.4,177.7 L422.3,175.3 L423.1,176.4 L424,177.2 L424.9,176.5 L425.7,177 L426.6,177.3 L427.4,173.5 L428.2,177.7 L429.1,177.2 L429.9,179.7 L430.8,172.7 L431.6,172.2 L432.5,176.4 L433.4,177.1 L434.2,171.9 L435.1,171.5 L435.9,176.6 L436.8,177.2 L437.6,171 L438.4,167.8 L439,166 L439.1,165.8 L439.2,165.5 L439.3,165.3 L439.4,165 L439.5,164.7 L439.6,164.3 L439.7,164 L439.8,163.7 L439.9,163.3 L440,163.3 L440.1,163 L440.1,162.9 L440.2,162.7 L440.3,162.4 L440.4,162.1 L440.5,161.6 L440.6,161.2 L440.7,160.6 L440.8,159.9 L440.9,159.2 L441,158.4 L441.1,157.6 L441.2,156.7 L441.3,155.7 L441.4,154.6 L441.5,153.4 L441.6,152.2 L441.7,150.8 L441.8,149.4 L441.9,148.6 L441.9,147.8 L442,146.1 L442.1,144.2 L442.2,142.1 L442.3,139.8 L442.4,137.2 L442.5,134.4 L442.6,131.2 L442.7,127.7 L442.8,124.1 L442.9,120.1 L443,115.6 L443.1,110.6 L443.2,105 L443.3,98.6 L443.4,91.3 L443.5,83.5 L443.6,79.3 L443.6,75 L443.7,66 L443.8,56.6 L443.9,47.2 L444,38 L444.1,29.5 L444.2,22.1 L444.3,16.4 L444.4,12.8 L444.5,11.7 L444.6,16.6 L444.7,29.3 L444.8,46.6 L444.9,65.2 L445,82.8 L445.1,98.4 L445.2,111.7 L445.2,117.5 L445.3,122.7 L445.4,131.6 L445.5,139 L445.6,145.1 L445.7,150.1 L445.8,154.4 L445.9,157.9 L446,160.9 L446.1,163.5 L446.2,165.7 L446.3,167.5 L446.4,169 L446.5,170.4 L446.6,171.5 L446.7,172.5 L446.8,173.3 L446.9,174.1 L446.9,174.4 L447,174.8 L447.1,175.3 L447.2,175.9 L447.3,176.3 L447.4,176.7 L447.5,177.4 L447.6,178.7 L447.7,180 L447.8,181.2 L447.9,182.4 L448,183.6 L448.1,183.9 L448.2,184.1 L448.3,184.4 L448.4,184.6 L448.5,184.9 L448.6,185.1 L448.6,185.2 L448.7,185.3 L448.8,185.4 L448.9,185.6 L449,185.8 L449.1,185.8 L449.2,185.7 L449.3,185.7 L449.4,185.6 L449.5,185.6 L449.6,185.5 L449.7,185.4 L449.8,185.4 L449.9,185.3 L450,185.2 L450.1,185.1 L450.2,185.2 L450.3,185.4 L450.4,185.4 L450.4,185.5 L450.5,185.6 L450.6,185.7 L450.7,185.8 L450.8,186 L450.9,186.1 L451.2,186.5 L452.1,188.1 L452.9,188.4 L453.8,188.5 L454.6,189.8 L455.4,191.4 L456.3,190.2 L457.1,189.6 L458,189.9 L458.9,188.3 L459.7,190.3 L460.6,191.7 L461.4,192.7 L462.2,192.1 L463.1,191.4 L463.9,190.5 L464.8,191.6 L465.6,191.4 L466.5,190.5 L467.4,192.6 L468.2,192.2 L469.1,191.2 L469.9,193.5 L470.8,192.8 L471.6,193.4 L472.4,193 L473.3,191.5 L474.1,193.1 L475,193.6 L475.9,192.7 L476.7,194.7 L477.6,192.9 L478.4,194.2 L479.2,193.1 L480.1,193.9 L480.9,195.1 L481.8,195.9 L482.6,196.3 L483.5,193.5 L484.4,195.9 L485.2,197.9 L486.1,198.5 L486.9,195.9 L487.8,196.1 L488.6,200 L489.4,202.2 L490.3,199 L491.1,195.6 L492,190.5 L492.9,191.5 L493.7,192.3 L494.6,192.1 L495.4,193.6 L496.2,196.7 L497.1,198.6 L497.9,200.3 L498.8,200.5 L499.6,197.3 L500.5,205.5 L501.4,201.8 L502.2,200.6 L503.1,202.9 L503.9,204.1 L504.8,203.4 L505.6,202.5 L506.4,201.5 L507.3,202.7 L508.1,202.1 L509,199.4 L509.9,201.3 L510.7,201.8 L511.6,202.3 L512.4,202.2 L513.2,201.7 L514.1,202.9 L515,205.3 L515.8,205.5 L516.6,207 L517.5,205.2 L518.4,204 L519.2,202.1 L520,203.6 L520.9,204.4 L521.8,206.6 L522.6,208.8 L523.5,209 L524.3,208.6 L525.1,203.7 L526,203.5 L526.9,205.7 L527.7,205.9 L528.5,207.4 L529.4,208.4 L530.2,205.8 L531.1,205.2 L532,205.3 L532.8,207.9 L533.6,205.3 L534.5,206.9 L535.4,206 L536.2,206.4 L537,206.9 L537.9,207.1 L538.8,208.4 L539.6,208.4 L540.5,210.1 L541.3,209.5 L542.1,207.2 L543,205.9 L543.9,206.1 L544.7,207 L545.5,207.8 L546.4,207.7 L547.2,208.9 L548.1,211.4 L549,210.9 L549.8,209.4 L550.6,209 L551.5,209.3 L552.4,209.7 L553.2,210.1 L554,209.2 L554.9,207.6 L555.8,208.5 L556.6,207 L557.5,209.6 L558.3,211.1 L559.1,209.4 L560,209.6 L560.9,209.4 L561.7,208.5 L562.5,210 L563.4,213.5 L564.2,211.5 L565.1,210.3 L566,209.1 L566.8,210.7 L567.6,209.8 L568.5,210.8 L569.4,209.4 L570.2,209.9 L571,210.8 L571.9,210.7 L572.8,209.2 L573.6,215.4 L574.5,214.6 L575.3,212.5 L576.1,210.7 L577,211.3 L577.9,211.7 L578.7,211.7 L579.5,211.5 L580.4,210.1 L581.2,211.7 L582.1,213.3 L583,213.8 L583.8,211.3 L584.6,211 L585.5,211.9 L586.4,210.9 L587.2,211.3 L588,212.5 L588.9,212.4 L589.8,215 L590.6,215.1 L591.5,213.7 L592.3,212.8 L593.1,216 L594,218.1 L594.9,217.2 L595.7,215.4 L596.5,215 L597.4,217.4 L598.2,218 L599.1,215.4 L600,217.2 L600.8,216.4 L601.6,216.1 L602.5,215.5 L603.4,213.6 L604.2,214 L605,213.5 L605.9,214.6 L606.8,216.6 L607.6,213.8 L608.5,214.5 L609.3,216.1 L610.1,215.2 L611,216.9 L611.9,217.2 L612.7,212.8 L613.5,218.7 L614.4,211.3 L615.2,210.9 L616.1,208.5 L617,202.8 L617.8,198.7 L618.6,199.7 L619.5,205.8 L620.4,210.5 L621.2,213.8 L622,215.9 L622.9,217.5 L623.8,219 L624.6,216.2 L625.5,217.5 L626.3,216.9 L627.1,216 L628,217.1 L628.9,215.2 L629.7,214.3 L630.5,219.5 L631.4,217.7 L632.2,219.4 L633.1,216.4 L634,215 L634.8,216.4 L635.6,217.4 L636.5,216.8 L637.4,218.3 L638.2,217.2 L639,217.6 L639.9,216.9 L640.8,219 L641.6,220.4 L642.5,218.2 L643.3,217.9 L644.1,221 L645,220.7 L645.9,220.2 L646.7,220.2 L647.5,218.9 L648.4,219.2 L649.2,216.9 L650.1,216 L651,217.3 L651.8,218.8 L652.6,221.9 L653.5,223.7 L654.4,220.7 L655.2,220.4 L656,222.3"/>
<path stroke="#b4f03c" d="M29.6,231.9 L30.4,232 L31.3,232.3 L32.1,233.8 L33,232 L33.9,232.4 L34.7,230.8 L35.5,229.4 L36.4,232.3 L37.2,230.5 L38.1,233.1 L39,230.3 L39.8,232.3 L40.6,229.8 L41.5,229 L42.4,230.2 L43.2,231.1 L44,230.6 L44.9,228.8 L45.8,232.3 L46.6,228.7 L47.5,230.1 L48.3,228.4 L49.1,227.1 L50,227.6 L50.9,228 L51.7,226.9 L52.5,227.9 L53.4,224.9 L54.2,226.9 L55.1,226.4 L56,225.5 L56.8,225.7 L57.6,226.2 L58.5,225.5 L59.4,225.4 L60.2,226.6 L61,225.7 L61.9,225.4 L62.8,225.9 L63.6,224 L64.5,221.6 L65.3,216.7 L66.2,211.7 L67,212.4 L67.8,216.8 L68.7,220 L69.5,221.4 L70.4,222.5 L71.2,223.2 L72.1,224.9 L73,223.9 L73.8,223.4 L74.7,223.7 L75.5,224.2 L76.3,224.6 L77.2,224.2 L78,222.3 L78.9,223.3 L79.8,223.6 L80.6,222 L81.5,221.8 L82.3,221.8 L83.2,221.4 L84,221.9 L84.8,221.8 L85.7,219.7 L86.5,220.8 L87.4,220.9 L88.2,221.6 L89.1,221.3 L90,221.2 L90.8,220.9 L91.7,220.1 L92.5,220.3 L93.3,221.6 L94.2,221.2 L95,220.9 L95.9,220.6 L96.8,221.3 L97.6,222.1 L98.5,220.9 L99.3,219.6 L100.2,219 L101,219.5 L101.8,221.9 L102.7,219.2 L103.5,217.8 L104.4,219.5 L105.2,220.5 L106.1,219.4 L107,217.4 L107.8,218 L108.7,215.9 L109.5,216.8 L110.3,218.6 L111.2,217.1 L112,216.2 L112.9,215.9 L113.8,215.7 L114.6,214.8 L115.5,212.8 L116.3,210.9 L117.2,211.5 L118,214.5 L118.8,211.8 L119.7,214.1 L120.5,213.4 L121.4,214.8 L122.2,215.6 L123.1,214.8 L124,214.3 L124.8,216.7 L125.7,213.2 L126.5,213.8 L127.3,212.9 L128.2,213 L129.1,213.2 L129.9,212.6 L130.8,212.4 L131.6,213.6 L132.4,213.1 L133.3,208.7 L134.2,207.4 L135,204.7 L135.8,203.1 L136.7,205.3 L137.6,208.2 L138.4,209.9 L139.2,210.5 L140.1,211.6 L140.9,213.2 L141.8,208.8 L142.7,208.9 L143.5,210 L144.3,210 L145.2,209.4 L146.1,208.6 L146.9,207.7 L147.8,207.9 L148.6,208.4 L149.4,208.1 L150.3,208.2 L151.2,207.8 L152,210.2 L152.8,209.3 L153.7,209.6 L154.6,208.3 L155.4,206.9 L156.2,207.2 L157.1,207 L157.9,207.2 L158.8,206.8 L159.7,206.8 L160.5,204.4 L161.3,205.9 L162.2,206.8 L163.1,206.1 L163.9,203.9 L164.8,205.4 L165.6,206.8 L166.4,207.2 L167.3,205.7 L168.2,205.8 L169,207.2 L169.8,207 L170.7,205.5 L171.6,204.1 L172.4,204.6 L173.2,205.7 L174.1,204.5 L174.9,203.5 L175.8,203.5 L176.7,203.9 L177.5,203.4 L178.3,203 L179.2,202.9 L180.1,202.3 L180.9,202.8 L181.8,205.1 L182.6,204.6 L183.4,204.7 L184.3,202.5 L185.2,202.7 L186,203 L186.8,203 L187.7,200.3 L188.6,197.4 L189.4,193.8 L190.2,188.4 L191.1,191.4 L191.9,195.2 L192.8,201 L193.7,201.2 L194.5,200.4 L195.3,201.3 L196.2,201.1 L197.1,199.8 L197.9,199.2 L198.8,199.8 L199.6,199.6 L200.4,199.9 L201.3,200.6 L202.2,199.6 L203,199.1 L203.8,199.6 L204.7,199.9 L205.6,199 L206.4,199.8 L207.2,199 L208.1,197.4 L208.9,197 L209.8,196.6 L210.7,198.3 L211.5,199.3 L212.3,198.4 L213.2,197.1 L214.1,196.3 L214.9,197.3 L215.8,196 L216.6,195.4 L217.4,193.2 L218.3,190.6 L219.2,190.5 L220,191.5 L220.8,190.3 L221.7,193 L222.6,194.6 L223.4,192.2 L224.2,195 L225.1,194.7 L225.9,194 L226.8,194.1 L227.7,193 L228.5,191.5 L229.3,191.8 L230.2,195.8 L231.1,193.4 L231.9,194.2 L232.8,194.3 L233.6,192.9 L234.4,192.3 L235.3,191.7 L236,191.2 L236.1,191.2 L236.2,191.1 L236.2,191.1 L236.2,191.1 L236.3,191.1 L236.4,191 L236.5,191 L236.6,190.9 L236.6,190.8 L236.7,190.7 L236.8,190.6 L236.9,190.2 L237,189.8 L237,189.6 L237,189.4 L237.1,188.9 L237.2,188.4 L237.3,187.9 L237.4,187.4 L237.4,186.8 L237.5,186.2 L237.6,185.8 L237.7,185.3 L237.8,184.8 L237.8,184.3 L237.8,184.2 L237.9,183.7 L238,183.1 L238.1,182.4 L238.2,181.6 L238.2,180.7 L238.3,179.8 L238.4,178.8 L238.5,177.6 L238.6,176.4 L238.6,174.8 L238.7,173.5 L238.7,173.1 L238.8,171.3 L238.9,169.3 L239,167.2 L239,165 L239.1,162.6 L239.2,160.1 L239.3,157.4 L239.4,154.5 L239.4,151.4 L239.5,148.1 L239.6,146.8 L239.6,144.5 L239.7,140.9 L239.8,137 L239.8,132.8 L239.9,128.2 L240,123.1 L240.1,117.4 L240.2,111 L240.2,103.5 L240.3,94.7 L240.4,84.2 L240.5,71.3 L240.6,55.5 L240.6,35.7 L240.7,10.9 L240.8,10 L240.9,10 L241,10 L241,10 L241.1,10 L241.2,10 L241.2,10 L241.3,10 L241.4,10 L241.4,10 L241.5,10 L241.6,10 L241.7,10 L241.8,10 L241.8,10 L241.9,10 L242,10 L242.1,10 L242.1,10 L242.2,10 L242.2,10 L242.3,10 L242.4,10 L242.5,10 L242.6,10 L242.6,10 L242.7,10 L242.8,10 L242.9,10 L242.9,10 L243,10 L243,10 L243.1,10 L243.2,10 L243.3,10 L243.4,10 L243.4,10 L243.5,10 L243.6,10 L243.7,10 L243.8,10 L243.8,10 L243.8,10 L243.9,10 L244,10 L244.1,10 L244.2,10 L244.2,10 L244.3,10 L244.4,10 L244.5,12.3 L244.6,36.9 L244.6,56.6 L244.7,58.8 L244.7,72.3 L244.8,85 L244.9,95.4 L245,104 L245,111.2 L245.1,117.5 L245.2,123 L245.3,127.9 L245.4,132.3 L245.4,136.4 L245.5,139.2 L245.5,140.1 L245.6,143.6 L245.7,146.8 L245.8,149.8 L245.8,152.6 L245.9,155.2 L246,157.6 L246.1,159.9 L246.2,161.9 L246.2,164.1 L246.3,166.1 L246.3,166.8 L246.4,168 L246.5,169.8 L246.6,171.4 L246.6,173 L246.7,174.4 L246.8,175.7 L246.9,176.9 L247,178.1 L247,179.1 L247.1,180.1 L247.2,181 L247.3,181.9 L247.4,182.6 L247.4,182.9 L247.5,183.2 L247.6,183.5 L247.7,183.7 L247.8,183.8 L247.8,184 L247.9,184.1 L248,184.1 L248.1,184.2 L248.1,184.2 L248.2,184.2 L248.2,184.3 L248.3,184.5 L248.4,184.6 L248.5,184.8 L248.6,185 L248.6,185.1 L248.7,185.2 L248.8,185.3 L248.9,185.5 L248.9,185.5 L249,185.6 L249,185.7 L249.1,185.8 L249.2,185.8 L249.3,185.9 L249.4,186 L249.4,186.1 L249.5,186.2 L249.6,186.2 L249.7,186.3 L249.8,186.3 L249.8,186.3 L249.8,186.4 L249.9,186.5 L250.6,186.2 L251.4,185.4 L252.3,185.1 L253.2,186.2 L254,185.5 L254.8,184.8 L255.7,186.1 L256.6,186 L257.4,185.5 L258.2,184.4 L259.1,185.1 L259.9,187.4 L260.8,188.3 L261.6,187.7 L262.5,187.6 L263.4,186.6 L264.2,187.7 L265.1,185.7 L265.9,185.4 L266.8,186 L267.6,185.6 L268.4,184.3 L269.3,185.7 L270.1,186 L271,187.6 L271.9,184.7 L272.7,185.7 L273.6,184.3 L274.4,184 L275.2,182.1 L276.1,181.3 L276.9,183.1 L277.8,184.3 L278.6,181.9 L279.5,180 L280.4,178.7 L281.2,171.8 L282.1,165.2 L282.9,162 L283.8,161.8 L284.6,165.1 L285.4,169.6 L286.3,171.9 L287.1,176.5 L288,179.5 L288.9,178.4 L289.7,179.7 L290.6,177.3 L291.4,177.5 L292.2,174.8 L293.1,171.3 L293.9,170.6 L294.8,168.9 L295.6,166.6 L296.5,167.6 L297.4,170.9 L298.2,176.8 L299.1,178.2 L299.9,180.3 L300.8,180.7 L301.6,180.7 L302.4,180.8 L303.3,180.5 L304.1,181.7 L305,181.1 L305.9,182.7 L306.7,182.7 L307.6,181.9 L308.4,180.9 L309.2,178.7 L310.1,178.6 L310.9,180.6 L311.8,181.3 L312.6,181.8 L313.5,177.3 L314.4,177.4 L315.2,180.5 L316.1,179.9 L316.9,179.5 L317.8,179.7 L318.6,178.9 L319.4,179.3 L320.3,175.3 L321.1,175.6 L322,176.1 L322.9,174.9 L323.7,173.9 L324.6,175.4 L325.4,177 L326.2,177.4 L327.1,178 L327.9,180.1 L328.8,180.4 L329.6,179.9 L330.5,180.7 L331.4,179.1 L332.2,179.5 L333.1,180.3 L333.9,179.1 L334.8,178.2 L335.6,178.8 L336.4,180.8 L337.3,178.8 M347.5,142.2 L348.4,141.5 L349.2,138.9 L350.1,142.1 L350.9,145.1 L351.8,147.2 L352.6,149.4 L353.4,149.7 L354.3,152 L355.1,153.9 L356,149.5 L356.9,148.8 L357.7,152.6 L358.6,151.6 L359.4,151.5 L360.2,154.4 L361.1,157 L361.9,157.5 L362.8,160 L363.6,154.8 L364.5,159 L365.4,164.1 L366.2,158.4 L367.1,160.4 L367.9,162.4 L368.8,158.9 L369.6,159.5 L370.4,164.7 L371.3,160.9 L372.1,162.7 L373,167.7 L373.9,162.9 L374.7,164.8 L375.6,165.6 L376.4,165.6 L377.2,165.7 L378.1,166.9 L378.9,170.1 L379.8,165.4 L380.6,169.2 L381.5,171.1 L382.4,170.3 L383.2,170.3 L384.1,170.8 L384.9,173.4 L385.8,174.9 L386.6,174.1 L387.4,171.7 L388.3,168.7 L389.1,168.8 L390,166.2 L390.9,160.6 L391.7,155.9 L392.6,154.7 L393.4,153.9 L394.2,168.8 L395.1,166.1 L395.9,167.5 L396.8,168.3 L397.6,174.3 L398.5,176 L399.4,173.7 L400.2,171.3 L401.1,168.2 L401.9,163.3 L402.8,158.6 L403.6,160.1 L404.4,162.3 L405.3,165.5 L406.1,168.3 L407,175.1 L407.9,179.3 L408.7,177.4 L409.6,179.9 L410.4,184.5 L411.2,181.8 L412.1,176.7 L412.9,177.7 L413.8,180.3 L414.6,180.2 L415.5,180.5 L416.4,184.8 L417.2,191.1 L418.1,189.3 L418.9,184.2 L419.8,186.9 L420.6,186.7 L421.4,184.6 L422.3,181.6 L423.1,184.9 L424,184 L424.9,184.1 L425.7,185.4 L426.6,186 L427.4,183.3 L428.2,188.6 L429.1,185.3 L429.9,184.4 L430.8,182.7 L431.6,183.5 L432.5,184.6 L433.4,183.9 L434.2,180.8 L435.1,182.6 L435.9,179.3 L436.8,177 L437.6,177.3 L438.4,179.2 L439,178.9 L439.1,178.7 L439.2,178.5 L439.3,178.3 L439.4,178.1 L439.5,177.9 L439.6,177.6 L439.7,177.4 L439.8,177.2 L439.9,177.2 L440,176.6 L440.1,176.6 L440.1,176.6 L440.2,176.6 L440.3,176.6 L440.4,176.6 L440.5,176.5 L440.6,176.1 L440.7,175.4 L440.8,174.8 L440.9,174.1 L441,173.4 L441.1,172.6 L441.2,171.8 L441.3,171 L441.4,170.2 L441.5,169.3 L441.6,168.9 L441.7,168.3 L441.8,167.8 L441.9,167.4 L441.9,167.1 L442,166.4 L442.1,165.5 L442.2,164.6 L442.3,163.6 L442.4,162.5 L442.5,161.2 L442.6,159.8 L442.7,158.2 L442.8,156.5 L442.9,154.6 L443,152.4 L443.1,150.1 L443.2,147.4 L443.3,144.5 L443.4,141.2 L443.5,137.6 L443.6,135.7 L443.6,133.6 L443.7,129.1 L443.8,124 L443.9,118.5 L444,112.3 L444.1,105.5 L444.2,98 L444.3,89.8 L444.4,81 L444.5,71.7 L444.6,62.1 L444.7,52.6 L444.8,43.6 L444.9,35.4 L445,28.7 L445.1,23.9 L445.2,21.4 L445.2,21 L445.3,22.2 L445.4,31.1 L445.5,46.2 L445.6,64.2 L445.7,82.1 L445.8,98.5 L445.9,112.6 L446,124.4 L446.1,134.2 L446.2,142.2 L446.3,148.8 L446.4,154.2 L446.5,158.8 L446.6,162.6 L446.7,165.7 L446.8,168.4 L446.9,170.7 L446.9,171.7 L447,172.7 L447.1,174.4 L447.2,175.8 L447.3,177.8 L447.4,179.6 L447.5,181.3 L447.6,182.8 L447.7,184.3 L447.8,185.7 L447.9,187 L448,188.2 L448.1,189.4 L448.2,190.5 L448.3,191.4 L448.4,191.9 L448.5,192.3 L448.6,192.7 L448.6,192.9 L448.7,193.1 L448.8,193.5 L448.9,193.8 L449,194.1 L449.1,194.2 L449.2,194 L449.3,193.8 L449.4,193.5 L449.5,193.3 L449.6,193 L449.7,192.8 L449.8,192.5 L449.9,192.2 L450,191.9 L450.1,192.3 L450.2,192.8 L450.3,193.3 L450.4,193.6 L450.4,193.8 L450.5,194.3 L450.6,194.8 L450.7,195.3 L450.8,195.7 L450.9,196.2 L451.2,197 L452.1,195 L452.9,196.3 L453.8,198.4 L454.6,197 L455.4,195.8 L456.3,195.4 L457.1,195.9 L458,199.6 L458.9,200.5 L459.7,201.7 L460.6,201.6 L461.4,200.8 L462.2,202.8 L463.1,198.9 L463.9,200.2 L464.8,201.7 L465.6,201.7 L466.5,202.4 L467.4,205 L468.2,203.3 L469.1,204.9 L469.9,204.5 L470.8,202.3 L471.6,204.6 L472.4,204.5 L473.3,201.8 L474.1,199.7 L475,199 L475.9,197.8 L476.7,200.4 L477.6,201.3 L478.4,202.8 L479.2,202.5 L480.1,204.1 L480.9,204.6 L481.8,203.2 L482.6,202 L483.5,204.2 L484.4,204 L485.2,203.9 L486.1,205.7 L486.9,208.4 L487.8,206.4 L488.6,203.6 L489.4,204.8 L490.3,208.9 L491.1,209.5 L492,202.6 L492.9,202.2 L493.7,199.1 L494.6,200.9 L495.4,203.3 L496.2,204.5 L497.1,207.4 L497.9,208 L498.8,207.9 L499.6,210 L500.5,208.9 L501.4,211.1 L502.2,210 L503.1,210.9 L503.9,209.9 L504.8,209.7 L505.6,211.4 L506.4,210.7 L507.3,209.9 L508.1,209.6 L509,209.2 L509.9,211 L510.7,212.5 L511.6,212.1 L512.4,212.5 L513.2,213.9 L514.1,214.1 L515,212.7 L515.8,213.6 L516.6,214.8 L517.5,214.4 L518.4,214.2 L519.2,213.8 L520,216.7 L520.9,215.3 L521.8,213.2 L522.6,213.6 L523.5,215.3 L524.3,217.4 L525.1,216.9 L526,214.7 L526.9,216.4 L527.7,216.1 L528.5,215.3 L529.4,215.5 L530.2,216 L531.1,215.5 L532,216.2 L532.8,217.4 L533.6,214.4 L534.5,217.8 L535.4,219.5 L536.2,220.3 L537,218.4 L537.9,216.4 L538.8,215 L539.6,214.4 L540.5,217.5 L541.3,221.5 L542.1,216.3 L543,213.4 L543.9,217.1 L544.7,218 L545.5,215.8 L546.4,214.4 L547.2,217.1 L548.1,216.8 L549,214.2 L549.8,219.1 L550.6,215.5 L551.5,217.9 L552.4,219 L553.2,217 L554,215.3 L554.9,214.8 L555.8,217.5 L556.6,218.3 L557.5,218.5 L558.3,218.4 L559.1,219.3 L560,221.4 L560.9,219.5 L561.7,218.7 L562.5,220.2 L563.4,220.8 L564.2,220.3 L565.1,222.4 L566,223.7 L566.8,220.4 L567.6,221.1 L568.5,217.1 L569.4,217.5 L570.2,221.1 L571,221.8 L571.9,220.3 L572.8,223.9 L573.6,218.2 L574.5,223.4 L575.3,221.4 L576.1,220.1 L577,220.2 L577.9,221.1 L578.7,220.7 L579.5,219.7 L580.4,219.5 L581.2,221.4 L582.1,223.9 L583,222.9 L583.8,223.7 L584.6,222 L585.5,220.4 L586.4,220.7 L587.2,221.4 L588,222.5 L588.9,223.4 L589.8,226.5 L590.6,224.8 L591.5,223.4 L592.3,225.1 L593.1,222.4 L594,220 L594.9,221.3 L595.7,223.5 L596.5,223.5 L597.4,224.4 L598.2,226.2 L599.1,224.8 L600,224.7 L600.8,225.3 L601.6,225.7 L602.5,226 L603.4,225.6 L604.2,224.2 L605,223.1 L605.9,220.2 L606.8,225.1 L607.6,222.1 L608.5,223.7 L609.3,227.6 L610.1,226.7 L611,222.1 L611.9,221.8 L612.7,225.2 L613.5,220.8 L614.4,220.4 L615.2,218.1 L616.1,215.7 L617,213 L617.8,210.8 L618.6,213.4 L619.5,218.6 L620.4,220.3 L621.2,224 L622,223.6 L622.9,226.1 L623.8,223.8 L624.6,223.8 L625.5,225.9 L626.3,224.6 L627.1,222.2 L628,223.1 L628.9,226 L629.7,224.9 L630.5,224.9 L631.4,226 L632.2,229.9 L633.1,226.4 L634,225.2 L634.8,226.4 L635.6,226.1 L636.5,225.2 L637.4,226.9 L638.2,227.3 L639,225.3 L639.9,228.5 L640.8,226.6 L641.6,226.8 L642.5,228.3 L643.3,231 L644.1,234.2 L645,226.8 L645.9,230.1 L646.7,234.7 L647.5,228.6 L648.4,231.2 L649.2,231.3 L650.1,228.4 L651,227.1 L651.8,229.2 L652.6,227 L653.5,228 L654.4,225.9 L655.2,229.7 L656,226"/>
<path stroke="#a0a070" d="M29.6,239.1 L30.4,240 L31.3,239.4 L32.1,239.5 L33,240.3 L33.9,240.7 L34.7,240.4 L35.5,239.4 L36.4,237.6 L37.2,237 L38.1,235.8 L39,235.1 L39.8,236.4 L40.6,237.4 L41.5,237.6 L42.4,237.6 L43.2,238.7 L44,240.4 L44.9,235.9 L45.8,236.6 L46.6,236.4 L47.5,235.7 L48.3,237.4 L49.1,236.9 L50,237.2 L50.9,237.1 L51.7,236.2 L52.5,238.6 L53.4,238.6 L54.2,235 L55.1,234.3 L56,234.2 L56.8,234.6 L57.6,233.2 L58.5,233.3 L59.4,234.5 L60.2,234.4 L61,232.7 L61.9,230.3 L62.8,231.6 L63.6,231 L64.5,230 L65.3,224.7 L66.2,218.7 L67,218.5 L67.8,225 L68.7,229 L69.5,231.6 L70.4,231.8 L71.2,232.8 L72.1,232.8 L73,230.9 L73.8,230.6 L74.7,232.6 L75.5,232.6 L76.3,232.4 L77.2,232.9 L78,231.1 L78.9,231.7 L79.8,229.4 L80.6,230.4 L81.5,230.1 L82.3,229.3 L83.2,228.7 L84,228.9 L84.8,230.5 L85.7,230.7 L86.5,229.6 L87.4,228.9 L88.2,229 L89.1,230.7 L90,229.2 L90.8,229.3 L91.7,230.1 L92.5,227.7 L93.3,229.2 L94.2,229.3 L95,229.7 L95.9,227.6 L96.8,226.6 L97.6,225.6 L98.5,227.2 L99.3,227.6 L100.2,226.7 L101,226.4 L101.8,226.4 L102.7,227.2 L103.5,227 L104.4,228.2 L105.2,225.6 L106.1,226.2 L107,226.6 L107.8,225.9 L108.7,225.9 L109.5,225.5 L110.3,225.7 L111.2,226.4 L112,225.4 L112.9,222.9 L113.8,222.8 L114.6,222.7 L115.5,221.9 L116.3,221.1 L117.2,220.4 L118,220.5 L118.8,222.4 L119.7,220.7 L120.5,224.8 L121.4,223.2 L122.2,221.4 L123.1,221.7 L124,223.3 L124.8,223.4 L125.7,223.6 L126.5,223.7 L127.3,222.6 L128.2,221.8 L129.1,221.6 L129.9,221.2 L130.8,220.3 L131.6,220.1 L132.4,221.8 L133.3,220.9 L134.2,216.6 L135,213.5 L135.8,211.1 L136.7,210.6 L137.6,214 L138.4,216.3 L139.2,217.6 L140.1,217.6 L140.9,216.7 L141.8,215.5 L142.7,219 L143.5,219.9 L144.3,216.2 L145.2,216.1 L146.1,217.7 L146.9,217.1 L147.8,215.3 L148.6,215.6 L149.4,216.9 L150.3,216.4 L151.2,216.1 L152,218.3 L152.8,218.5 L153.7,217.5 L154.6,216.4 L155.4,215.7 L156.2,215.8 L157.1,216.7 L157.9,215.5 L158.8,217.2 L159.7,216.8 L160.5,214.9 L161.3,215.2 L162.2,216.5 L163.1,216.7 L163.9,215.1 L164.8,214 L165.6,214.4 L166.4,214.2 L167.3,214.3 L168.2,213.9 L169,213.2 L169.8,214.1 L170.7,215.2 L171.6,214.5 L172.4,212.8 L173.2,212.2 L174.1,214.3 L174.9,213.7 L175.8,213.9 L176.7,212.3 L177.5,212.9 L178.3,212.2 L179.2,212.7 L180.1,213.8 L180.9,213.1 L181.8,209.8 L182.6,207.3 L183.4,209.6 L184.3,210.1 L185.2,210.8 L186,210.9 L186.8,210.9 L187.7,211.4 L188.6,209.7 L189.4,201.6 L190.2,197.8 L191.1,200.1 L191.9,202.4 L192.8,208.4 L193.7,208.4 L194.5,207.7 L195.3,208 L196.2,209 L197.1,210.4 L197.9,210.7 L198.8,210.8 L199.6,209.3 L200.4,207.8 L201.3,208.7 L202.2,208.3 L203,209.9 L203.8,208.4 L204.7,205.3 L205.6,208.9 L206.4,207.7 L207.2,207.1 L208.1,206 L208.9,205.2 L209.8,204.5 L210.7,204 L211.5,205.3 L212.3,208 L213.2,206.8 L214.1,206.4 L214.9,204.9 L215.8,202.3 L216.6,203 L217.4,202.8 L218.3,202.2 L219.2,199.6 L220,199.1 L220.8,201.1 L221.7,202 L222.6,203.4 L223.4,203.1 L224.2,204 L225.1,203.8 L225.9,202.1 L226.8,202.8 L227.7,205 L228.5,203.5 L229.3,201.4 L230.2,203.2 L231.1,200.6 L231.9,200.8 L232.8,202.9 L233.6,201.5 L234.4,202 L235.3,200.7 L236,199 L236.1,199 L236.2,199 L236.2,199 L236.2,199 L236.3,199 L236.4,198.9 L236.5,198.9 L236.6,198.9 L236.6,198.8 L236.7,198.7 L236.8,198.3 L236.9,197.9 L237,197.5 L237,197.3 L237,197.1 L237.1,196.6 L237.2,196.1 L237.3,195.6 L237.4,195.1 L237.4,194.5 L237.5,194.2 L237.6,193.9 L237.7,193.5 L237.8,193.1 L237.8,192.6 L237.8,192.6 L237.9,192.1 L238,191.5 L238.1,190.9 L238.2,190.2 L238.2,189.4 L238.3,188.5 L238.4,187.6 L238.5,186.5 L238.6,185.4 L238.6,184.1 L238.7,183.1 L238.7,182.7 L238.8,181.1 L238.9,179.4 L239,177.5 L239,175.5 L239.1,173.3 L239.2,171 L239.3,168.5 L239.4,165.8 L239.4,162.9 L239.5,159.8 L239.6,158.6 L239.6,156.5 L239.7,153 L239.8,149.1 L239.8,144.7 L239.9,140 L240,134.8 L240.1,129 L240.2,122.4 L240.2,114.8 L240.3,105.9 L240.4,95.2 L240.5,82.2 L240.6,66.1 L240.6,46.2 L240.7,21.3 L240.8,10 L240.9,10 L241,10 L241,10 L241.1,10 L241.2,10 L241.2,10 L241.3,10 L241.4,10 L241.4,10 L241.5,10 L241.6,10 L241.7,10 L241.8,10 L241.8,10 L241.9,10 L242,10 L242.1,10 L242.1,10 L242.2,10 L242.2,10 L242.3,10 L242.4,10 L242.5,10 L242.6,10 L242.6,10 L242.7,10 L242.8,10 L242.9,10 L242.9,10 L243,10 L243,10 L243.1,10 L243.2,10 L243.3,10 L243.4,10 L243.4,10 L243.5,10 L243.6,10 L243.7,10 L243.8,10 L243.8,10 L243.8,10 L243.9,10 L244,10 L244.1,10 L244.2,10 L244.2,10 L244.3,10 L244.4,10 L244.5,20.4 L244.6,45.3 L244.6,65 L244.7,67.2 L244.7,80.9 L244.8,93.7 L244.9,104.1 L245,112.8 L245,120.2 L245.1,126.5 L245.2,132.1 L245.3,137.1 L245.4,141.6 L245.4,145.6 L245.5,148.3 L245.5,149.2 L245.6,152.5 L245.7,155.6 L245.8,158.5 L245.8,161.2 L245.9,163.7 L246,166 L246.1,168.1 L246.2,170.4 L246.2,172.6 L246.3,174.6 L246.3,175.3 L246.4,176.5 L246.5,178.3 L246.6,179.9 L246.6,181.4 L246.7,182.8 L246.8,184.1 L246.9,185.3 L247,186.5 L247,187.5 L247.1,188.4 L247.2,189 L247.3,189.5 L247.4,189.9 L247.4,190.3 L247.5,190.6 L247.6,190.9 L247.7,191.2 L247.8,191.4 L247.8,191.6 L247.9,191.7 L248,191.8 L248.1,191.9 L248.1,191.9 L248.2,192 L248.2,192.4 L248.3,192.9 L248.4,193.3 L248.5,193.8 L248.6,194.3 L248.6,194.7 L248.7,195.1 L248.8,195.5 L248.9,196 L248.9,196.1 L249,196.4 L249,196.7 L249.1,196.6 L249.2,196.6 L249.3,196.6 L249.4,196.6 L249.4,196.5 L249.5,196.5 L249.6,196.4 L249.7,196.4 L249.8,196.3 L249.8,196.3 L249.8,196.3 L249.9,196.2 L250.6,196.6 L251.4,196 L252.3,194.3 L253.2,193.8 L254,194.3 L254.8,195.8 L255.7,194.4 L256.6,196.9 L257.4,195.3 L258.2,195.6 L259.1,193.9 L259.9,193.6 L260.8,194.6 L261.6,195.5 L262.5,195.5 L263.4,193.4 L264.2,195.4 L265.1,193.8 L265.9,194.7 L266.8,194.5 L267.6,193.5 L268.4,193.8 L269.3,194.6 L270.1,195.4 L271,193.9 L271.9,195.4 L272.7,193 L273.6,193.3 L274.4,192 L275.2,192.3 L276.1,191.5 L276.9,190.8 L277.8,190.9 L278.6,190.3 L279.5,186.1 L280.4,182 L281.2,179.3 L282.1,175.7 L282.9,172.3 L283.8,170.4 L284.6,173.3 L285.4,178.7 L286.3,182.2 L287.1,186.6 L288,186.9 L288.9,189.6 L289.7,190.9 L290.6,189.5 L291.4,187 L292.2,185.5 L293.1,182.7 L293.9,178.8 L294.8,175.3 L295.6,172.9 L296.5,173 L297.4,177.7 L298.2,180.6 L299.1,184.6 L299.9,185.2 L300.8,186.4 L301.6,191 L302.4,191.4 L303.3,190.3 L304.1,188.6 L305,189.4 L305.9,191.4 L306.7,191.4 L307.6,190.9 L308.4,190.9 L309.2,192 L310.1,191.3 L310.9,190.5 L311.8,189.4 L312.6,189.5 L313.5,188.7 L314.4,189.3 L315.2,188.8 L316.1,189.8 L316.9,190.4 L317.8,189.1 L318.6,188.4 L319.4,187.5 L320.3,186.1 L321.1,182.6 L322,183.4 L322.9,183 L323.7,182 L324.6,182.1 L325.4,183 L326.2,184.4 L327.1,185.6 L327.9,187 L328.8,186.6 L329.6,187.7 L330.5,188.5 L331.4,187.7 L332.2,189.7 L333.1,189.9 L333.9,187.9 L334.8,188.2 L335.6,187.7 L336.4,187.5 L337.3,188.6 M347.5,151.6 L348.4,153.1 L349.2,155.7 L350.1,158.3 L350.9,157.8 L351.8,160.4 L352.6,160.1 L353.4,160.4 L354.3,161.7 L355.1,155 L356,161.3 L356.9,160.7 L357.7,160.8 L358.6,159.6 L359.4,162.2 L360.2,164.3 L361.1,162.9 L361.9,162.2 L362.8,163.9 L363.6,165.5 L364.5,167.2 L365.4,165.7 L366.2,165.7 L367.1,167.9 L367.9,169 L368.8,171 L369.6,172.4 L370.4,169.4 L371.3,173.3 L372.1,175.5 L373,173.2 L373.9,174.7 L374.7,175.8 L375.6,175.3 L376.4,177 L377.2,177.6 L378.1,174.1 L378.9,174.7 L379.8,173.4 L380.6,178.1 L381.5,182 L382.4,180.7 L383.2,181.8 L384.1,181.2 L384.9,182.2 L385.8,183.8 L386.6,181.1 L387.4,179.8 L388.3,183.6 L389.1,177.7 L390,173.9 L390.9,168.4 L391.7,163.4 L392.6,161.6 L393.4,163.8 L394.2,168.2 L395.1,177.5 L395.9,182.1 L396.8,184.6 L397.6,183.8 L398.5,187.9 L399.4,183 L400.2,179 L401.1,176.1 L401.9,169.6 L402.8,163.2 L403.6,162.8 L404.4,170.5 L405.3,176.7 L406.1,181.7 L407,182.8 L407.9,183.8 L408.7,187.7 L409.6,189.7 L410.4,191.6 L411.2,192.9 L412.1,191.8 L412.9,193 L413.8,195 L414.6,187.2 L415.5,191.9 L416.4,192.8 L417.2,192.7 L418.1,194.5 L418.9,194.2 L419.8,191.5 L420.6,192.3 L421.4,194.5 L422.3,194.4 L423.1,194.7 L424,195 L424.9,194.2 L425.7,197.8 L426.6,193.7 L427.4,195.4 L428.2,189.8 L429.1,191.1 L429.9,193 L430.8,188.5 L431.6,186.8 L432.5,189.1 L433.4,190.9 L434.2,192 L435.1,192.4 L435.9,190.2 L436.8,190.7 L437.6,185.8 L438.4,184.4 L439,185.3 L439.1,185.6 L439.2,185.9 L439.3,186.2 L439.4,186.4 L439.5,186.7 L439.6,186.9 L439.7,186.6 L439.8,185.7 L439.9,184.9 L440,183.3 L440.1,182.7 L440.1,182.4 L440.2,182.1 L440.3,181.4 L440.4,180.7 L440.5,180 L440.6,179.2 L440.7,178.5 L440.8,178.2 L440.9,177.8 L441,177.4 L441.1,176.9 L441.2,176.4 L441.3,175.8 L441.4,174.9 L441.5,173.8 L441.6,172.7 L441.7,171.5 L441.8,170.1 L441.9,169.4 L441.9,168.7 L442,167.2 L442.1,165.5 L442.2,163.6 L442.3,161.6 L442.4,159.4 L442.5,157 L442.6,154.4 L442.7,151.4 L442.8,148.7 L442.9,145.8 L443,142.4 L443.1,138.7 L443.2,134.5 L443.3,129.8 L443.4,124.5 L443.5,118.7 L443.6,115.1 L443.6,111.4 L443.7,103.6 L443.8,95.1 L443.9,86.1 L444,76.6 L444.1,66.9 L444.2,57.2 L444.3,48 L444.4,39.7 L444.5,33.6 L444.6,29.4 L444.7,27.5 L444.8,29 L444.9,38.5 L445,54.3 L445.1,72.9 L445.2,91.6 L445.2,100.4 L445.3,108.5 L445.4,123.1 L445.5,135.4 L445.6,145.6 L445.7,154.1 L445.8,161.1 L445.9,167 L446,171.9 L446.1,176.1 L446.2,179.7 L446.3,182.4 L446.4,184.6 L446.5,186.6 L446.6,188.2 L446.7,189.6 L446.8,190.9 L446.9,191.9 L446.9,192.4 L447,192.9 L447.1,193.7 L447.2,194.5 L447.3,195.1 L447.4,195.8 L447.5,196.5 L447.6,197.2 L447.7,197.7 L447.8,198.3 L447.9,198.8 L448,199.3 L448.1,199.7 L448.2,200 L448.3,200.4 L448.4,200.7 L448.5,201 L448.6,201.2 L448.6,201.4 L448.7,201.5 L448.8,201.7 L448.9,202 L449,202.2 L449.1,202.2 L449.2,202.3 L449.3,202.5 L449.4,203 L449.5,203.4 L449.6,203.8 L449.7,204.2 L449.8,204.6 L449.9,205 L450,204.8 L450.1,204.6 L450.2,204.3 L450.3,204.1 L450.4,204 L450.4,203.9 L450.5,203.6 L450.6,203.4 L450.7,203.1 L450.8,202.9 L450.9,202.6 L451.2,202.8 L452.1,205.2 L452.9,208.7 L453.8,204.2 L454.6,203.9 L455.4,203.7 L456.3,206.7 L457.1,207.6 L458,205.5 L458.9,204.3 L459.7,204.6 L460.6,209.6 L461.4,209.2 L462.2,209.5 L463.1,208.6 L463.9,209.4 L464.8,210.9 L465.6,211.5 L466.5,210.3 L467.4,206.7 L468.2,206.6 L469.1,207.9 L469.9,211.5 L470.8,209 L471.6,208.9 L472.4,209.9 L473.3,210.3 L474.1,208.4 L475,208 L475.9,212.8 L476.7,213.2 L477.6,214.8 L478.4,215.6 L479.2,216.6 L480.1,214.7 L480.9,213.3 L481.8,211.4 L482.6,210.4 L483.5,213 L484.4,212.8 L485.2,215.9 L486.1,216 L486.9,217.7 L487.8,217.5 L488.6,217.6 L489.4,217.1 L490.3,215.9 L491.1,214.5 L492,212.4 L492.9,211 L493.7,207.6 L494.6,208.4 L495.4,209.8 L496.2,209.5 L497.1,209.7 L497.9,211.1 L498.8,215.5 L499.6,216.6 L500.5,217.1 L501.4,220.3 L502.2,219.5 L503.1,217.9 L503.9,220.4 L504.8,222.8 L505.6,224 L506.4,223.7 L507.3,219.5 L508.1,221 L509,220.9 L509.9,224.6 L510.7,223.4 L511.6,221.8 L512.4,222.2 L513.2,221.7 L514.1,220.4 L515,220.8 L515.8,221.2 L516.6,220.4 L517.5,221.1 L518.4,222.1 L519.2,222.2 L520,224.1 L520.9,224.5 L521.8,223.6 L522.6,220.8 L523.5,218.6 L524.3,219.8 L525.1,221.1 L526,221.4 L526.9,219.7 L527.7,221.2 L528.5,222.6 L529.4,222.1 L530.2,222.3 L531.1,223.1 L532,223.4 L532.8,222.5 L533.6,222.5 L534.5,224.3 L535.4,225.2 L536.2,224 L537,222.3 L537.9,222.3 L538.8,224.4 L539.6,226.3 L540.5,223.5 L541.3,228.1 L542.1,225.9 L543,226.4 L543.9,226 L544.7,226.7 L545.5,227.3 L546.4,227.1 L547.2,227.5 L548.1,224 L549,228.1 L549.8,225.5 L550.6,226.6 L551.5,227.9 L552.4,227.1 L553.2,227.1 L554,227.3 L554.9,226.6 L555.8,226 L556.6,225.6 L557.5,227.8 L558.3,227.8 L559.1,224.8 L560,224.8 L560.9,226.4 L561.7,227.5 L562.5,228.1 L563.4,230.1 L564.2,231.2 L565.1,230.8 L566,232.1 L566.8,230.2 L567.6,227.8 L568.5,227.2 L569.4,228.6 L570.2,231.4 L571,232 L571.9,228.4 L572.8,228.3 L573.6,232.6 L574.5,230 L575.3,231.7 L576.1,232.9 L577,231 L577.9,229.4 L578.7,229.7 L579.5,229.6 L580.4,231.1 L581.2,230.9 L582.1,229 L583,230.2 L583.8,227.5 L584.6,228.5 L585.5,230.6 L586.4,230.4 L587.2,229.3 L588,228.3 L588.9,229.9 L589.8,229.6 L590.6,233.3 L591.5,231.5 L592.3,231 L593.1,231.7 L594,233.1 L594.9,233.4 L595.7,233.4 L596.5,234 L597.4,231.2 L598.2,234.3 L599.1,232.6 L600,233.2 L600.8,233.1 L601.6,233.3 L602.5,232.9 L603.4,230.1 L604.2,228.3 L605,229.9 L605.9,232.1 L606.8,235 L607.6,232.6 L608.5,234 L609.3,235.6 L610.1,233.9 L611,232.8 L611.9,233.5 L612.7,232.9 L613.5,230.6 L614.4,230.5 L615.2,229.2 L616.1,225.7 L617,220.3 L617.8,220.6 L618.6,224.8 L619.5,225.2 L620.4,227.6 L621.2,229.1 L622,230.1 L622.9,234.3 L623.8,230.6 L624.6,232.7 L625.5,233.3 L626.3,234.4 L627.1,235.7 L628,234.9 L628.9,233.2 L629.7,233.8 L630.5,237.5 L631.4,234.6 L632.2,235.5 L633.1,235.6 L634,237.1 L634.8,238.6 L635.6,239 L636.5,238.3 L637.4,237.3 L638.2,237.1 L639,233.4 L639.9,237.1 L640.8,236.2 L641.6,234.7 L642.5,235 L643.3,235.7 L644.1,236.2 L645,238.2 L645.9,238.7 L646.7,239.5 L647.5,237.8 L648.4,236.4 L649.2,236.4 L650.1,235.6 L651,235.5 L651.8,238.2 L652.6,240.2 L653.5,236.3 L654.4,236.5 L655.2,238.1 L656,238.1"/>
<path stroke="#4848d0" d="M29.6,251.5 L30.4,251.5 L31.3,251 L32.1,247.3 L33,248.1 L33.9,248.1 L34.7,247.6 L35.5,247.7 L36.4,246.9 L37.2,249.9 L38.1,247.7 L39,247.8 L39.8,248.2 L40.6,248.1 L41.5,247.5 L42.4,246.5 L43.2,245.9 L44,246.2 L44.9,245.4 L45.8,243.1 L46.6,246.3 L47.5,244.4 L48.3,244 L49.1,244 L50,243.3 L50.9,242.6 L51.7,242.5 L52.5,242 L53.4,244.3 L54.2,245.3 L55.1,243.8 L56,242 L56.8,244 L57.6,243.3 L58.5,241.2 L59.4,240 L60.2,239.4 L61,242.1 L61.9,243.2 L62.8,241 L63.6,239.3 L64.5,237.4 L65.3,232.9 L66.2,227.7 L67,227.9 L67.8,232.9 L68.7,236.4 L69.5,239.8 L70.4,238.2 L71.2,240.3 L72.1,240.5 L73,239.7 L73.8,239.5 L74.7,239.5 L75.5,239.9 L76.3,240.4 L77.2,239.1 L78,240.7 L78.9,240.1 L79.8,238.5 L80.6,240.4 L81.5,237.7 L82.3,238.4 L83.2,239.8 L84,239.6 L84.8,239.6 L85.7,240.1 L86.5,238.6 L87.4,238.2 L88.2,239.7 L89.1,238.6 L90,237.2 L90.8,236.9 L91.7,237.7 L92.5,236.8 L93.3,236.3 L94.2,237.1 L95,235.7 L95.9,234.6 L96.8,234.9 L97.6,235.1 L98.5,235.1 L99.3,234.4 L100.2,234.6 L101,237.1 L101.8,235.6 L102.7,234.9 L103.5,235 L104.4,232.8 L105.2,234.6 L106.1,234.4 L107,234 L107.8,234.3 L108.7,232.7 L109.5,234.3 L110.3,232.6 L111.2,232.7 L112,234 L112.9,233.8 L113.8,230.9 L114.6,229.3 L115.5,229.1 L116.3,228.7 L117.2,227.6 L118,228.8 L118.8,227.6 L119.7,226.6 L120.5,227.8 L121.4,229.2 L122.2,230.1 L123.1,230.7 L124,231 L124.8,231 L125.7,230.1 L126.5,229.7 L127.3,230.7 L128.2,229.9 L129.1,229.2 L129.9,228.7 L130.8,229.5 L131.6,230.3 L132.4,230.2 L133.3,228.6 L134.2,223.1 L135,223.6 L135.8,219.2 L136.7,220.1 L137.6,223.4 L138.4,225.1 L139.2,224.4 L140.1,225 L140.9,226 L141.8,228.8 L142.7,227.7 L143.5,226 L144.3,226.4 L145.2,226.8 L146.1,226.9 L146.9,226.2 L147.8,226.7 L148.6,227.1 L149.4,225.2 L150.3,226.2 L151.2,223.5 L152,224.5 L152.8,225.4 L153.7,226 L154.6,223.2 L155.4,223.3 L156.2,225.7 L157.1,225.8 L157.9,224.7 L158.8,226.6 L159.7,227.5 L160.5,226.3 L161.3,225.5 L162.2,225.6 L163.1,224.8 L163.9,224.6 L164.8,224.6 L165.6,223.3 L166.4,221.9 L167.3,221.4 L168.2,223.2 L169,223.5 L169.8,222 L170.7,221.5 L171.6,222.6 L172.4,222.5 L173.2,219 L174.1,219.9 L174.9,222.3 L175.8,222.4 L176.7,220.3 L177.5,220 L178.3,220.9 L179.2,222.1 L180.1,221.4 L180.9,219 L181.8,216.4 L182.6,220.5 L183.4,218.9 L184.3,218.3 L185.2,217.4 L186,218.4 L186.8,219.1 L187.7,217.6 L188.6,215.5 L189.4,211.1 L190.2,207.4 L191.1,209.9 L191.9,215.5 L192.8,215.3 L193.7,216.2 L194.5,216.5 L195.3,218.1 L196.2,217.5 L197.1,215.8 L197.9,214.9 L198.8,217.1 L199.6,216.3 L200.4,216.4 L201.3,216.5 L202.2,215.5 L203,214.5 L203.8,215.1 L204.7,217.3 L205.6,215.3 L206.4,214.5 L207.2,216.5 L208.1,217.3 L208.9,214.5 L209.8,213.9 L210.7,215.2 L211.5,214.6 L212.3,214.1 L213.2,214.6 L214.1,212.6 L214.9,212.9 L215.8,213.3 L216.6,213.1 L217.4,211.8 L218.3,209.5 L219.2,208.1 L220,206.7 L220.8,208.5 L221.7,212.1 L222.6,210.9 L223.4,211.4 L224.2,212.1 L225.1,212.3 L225.9,211.8 L226.8,210.3 L227.7,208.7 L228.5,208.8 L229.3,209.9 L230.2,209.1 L231.1,209.1 L231.9,209.5 L232.8,209.5 L233.6,210 L234.4,208.5 L235.3,205.9 L236,205.3 L236.1,205.5 L236.2,205.6 L236.2,205.6 L236.2,205.8 L236.3,205.9 L236.4,206 L236.5,206.1 L236.6,206.3 L236.6,206.3 L236.7,206.2 L236.8,206.1 L236.9,205.9 L237,205.8 L237,205.7 L237,205.6 L237.1,205.4 L237.2,205.1 L237.3,204.9 L237.4,204.6 L237.4,204.3 L237.5,203.9 L237.6,203.2 L237.7,202.4 L237.8,201.6 L237.8,200.8 L237.8,200.6 L237.9,199.8 L238,198.9 L238.1,197.8 L238.2,196.7 L238.2,195.5 L238.3,194.3 L238.4,192.9 L238.5,191.5 L238.6,190.5 L238.6,189.4 L238.7,188.4 L238.7,188.1 L238.8,186.8 L238.9,185.3 L239,183.6 L239,181.9 L239.1,179.9 L239.2,177.8 L239.3,175.6 L239.4,173.1 L239.4,170.5 L239.5,167.4 L239.6,166.2 L239.6,164.1 L239.7,160.5 L239.8,156.6 L239.8,152.4 L239.9,147.9 L240,142.8 L240.1,137.2 L240.2,130.8 L240.2,123.3 L240.3,114.6 L240.4,104 L240.5,91.2 L240.6,75.3 L240.6,55.4 L240.7,30.6 L240.8,10 L240.9,10 L241,10 L241,10 L241.1,10 L241.2,10 L241.2,10 L241.3,10 L241.4,10 L241.4,10 L241.5,10 L241.6,10 L241.7,10 L241.8,10 L241.8,10 L241.9,10 L242,10 L242.1,10 L242.1,10 L242.2,10 L242.2,10 L242.3,10 L242.4,10 L242.5,10 L242.6,10 L242.6,10 L242.7,10 L242.8,10 L242.9,10 L242.9,10 L243,10 L243,10 L243.1,10 L243.2,10 L243.3,10 L243.4,10 L243.4,10 L243.5,10 L243.6,10 L243.7,10 L243.8,10 L243.8,10 L243.8,10 L243.9,10 L244,10 L244.1,10 L244.2,10 L244.2,10 L244.3,10 L244.4,10 L244.5,29.7 L244.6,54.5 L244.6,74.3 L244.7,76.5 L244.7,90.2 L244.8,103.1 L244.9,113.6 L245,122.4 L245,129.8 L245.1,136.2 L245.2,141.9 L245.3,146.8 L245.4,151.2 L245.4,155.2 L245.5,158 L245.5,158.8 L245.6,162.2 L245.7,165.4 L245.8,168.3 L245.8,171.1 L245.9,173.6 L246,176 L246.1,178.2 L246.2,180.2 L246.2,182.1 L246.3,184 L246.3,184.6 L246.4,185.7 L246.5,187.3 L246.6,188.7 L246.6,190.1 L246.7,191.3 L246.8,192.5 L246.9,193.5 L247,194.5 L247,195.4 L247.1,196.4 L247.2,197.4 L247.3,198.2 L247.4,199 L247.4,199.8 L247.5,200.5 L247.6,201.2 L247.7,201.8 L247.8,202.3 L247.8,202.9 L247.9,203.4 L248,203.9 L248.1,204.2 L248.1,204.3 L248.2,204.8 L248.2,205.2 L248.3,205.2 L248.4,204.9 L248.5,204.5 L248.6,204.1 L248.6,203.6 L248.7,203.2 L248.8,202.8 L248.9,202.3 L248.9,202.2 L249,201.9 L249,201.8 L249.1,202 L249.2,202.1 L249.3,202.3 L249.4,202.4 L249.4,202.6 L249.5,202.7 L249.6,202.8 L249.7,202.9 L249.8,203 L249.8,203.1 L249.8,203.2 L249.9,203.3 L250.6,203.6 L251.4,204.1 L252.3,205.1 L253.2,204.1 L254,201.7 L254.8,204.1 L255.7,202.1 L256.6,207.3 L257.4,204.1 L258.2,205 L259.1,204.8 L259.9,204.4 L260.8,204.3 L261.6,203.6 L262.5,204.4 L263.4,204.3 L264.2,204.4 L265.1,204.9 L265.9,203.4 L266.8,203.2 L267.6,202.2 L268.4,202.5 L269.3,203.2 L270.1,202.9 L271,204.8 L271.9,204.6 L272.7,202.6 L273.6,203.4 L274.4,203.7 L275.2,202.6 L276.1,200 L276.9,200.5 L277.8,202 L278.6,198.6 L279.5,197 L280.4,195.2 L281.2,187.7 L282.1,183.4 L282.9,178.7 L283.8,178.2 L284.6,182.2 L285.4,185.7 L286.3,189 L287.1,192.3 L288,195.2 L288.9,196.4 L289.7,198.8 L290.6,196.7 L291.4,195 L292.2,193 L293.1,189.3 L293.9,185.2 L294.8,183.1 L295.6,181.3 L296.5,184.2 L297.4,185.5 L298.2,188.8 L299.1,193.7 L299.9,194.5 L300.8,194.7 L301.6,197.1 L302.4,199.6 L303.3,196.9 L304.1,198.6 L305,198.9 L305.9,197.7 L306.7,196.4 L307.6,198.8 L308.4,199.3 L309.2,198.4 L310.1,199.1 L310.9,197.6 L311.8,198.8 L312.6,196.8 L313.5,196.5 L314.4,196.7 L315.2,197 L316.1,197.1 L316.9,197 L317.8,197.1 L318.6,196.9 L319.4,194.9 L320.3,195 L321.1,191.5 L322,191.4 L322.9,191.9 L323.7,192.8 L324.6,191 L325.4,192.9 L326.2,194.3 L327.1,193.6 L327.9,197.3 L328.8,196.4 L329.6,197.3 L330.5,196.4 L331.4,197.6 L332.2,198.1 L333.1,196.9 L333.9,195.9 L334.8,196.2 L335.6,197.5 L336.4,197.6 L337.3,197.2 M347.5,162.2 L348.4,157.4 L349.2,156.7 L350.1,159.2 L350.9,163.7 L351.8,165.4 L352.6,165.2 L353.4,166.5 L354.3,167.3 L355.1,168 L356,168.6 L356.9,166.6 L357.7,172.2 L358.6,173.3 L359.4,173.4 L360.2,173.1 L361.1,171.4 L361.9,173.2 L362.8,170.2 L363.6,170.6 L364.5,174.1 L365.4,176.2 L366.2,178.6 L367.1,180.2 L367.9,179.7 L368.8,179.5 L369.6,182.4 L370.4,179.7 L371.3,179.8 L372.1,181.6 L373,181 L373.9,183.1 L374.7,178.6 L375.6,181.1 L376.4,185.3 L377.2,183.7 L378.1,188.9 L378.9,189.3 L379.8,183.9 L380.6,187.1 L381.5,189.9 L382.4,188.6 L383.2,188.2 L384.1,189.3 L384.9,191.3 L385.8,193.2 L386.6,193.3 L387.4,189.2 L388.3,190.7 L389.1,190.8 L390,186 L390.9,177.8 L391.7,171.4 L392.6,171.3 L393.4,177 L394.2,183.5 L395.1,187.9 L395.9,189.3 L396.8,190.3 L397.6,195.5 L398.5,194.8 L399.4,196.4 L400.2,191.1 L401.1,184.8 L401.9,181 L402.8,176.5 L403.6,179.9 L404.4,181.7 L405.3,183.4 L406.1,184.4 L407,192.3 L407.9,197.7 L408.7,196.7 L409.6,195.4 L410.4,195.9 L411.2,200.3 L412.1,199.7 L412.9,200.5 L413.8,201.4 L414.6,200.1 L415.5,199.7 L416.4,200.8 L417.2,201.9 L418.1,200.1 L418.9,199.6 L419.8,202.1 L420.6,196.3 L421.4,202.4 L422.3,202.9 L423.1,200.2 L424,200 L424.9,202.1 L425.7,203.7 L426.6,202.1 L427.4,196.4 L428.2,198.1 L429.1,200 L429.9,204.4 L430.8,202 L431.6,199 L432.5,198.5 L433.4,198.8 L434.2,197 L435.1,196.5 L435.9,197.4 L436.8,191 L437.6,195.2 L438.4,196 L439,194.4 L439.1,194.1 L439.2,193.7 L439.3,193.4 L439.4,193.1 L439.5,192.7 L439.6,192.4 L439.7,192 L439.8,191.6 L439.9,191.3 L440,191 L440.1,190.9 L440.1,190.8 L440.2,190.7 L440.3,190.5 L440.4,190.3 L440.5,190.1 L440.6,189.9 L440.7,189.7 L440.8,189.4 L440.9,189.1 L441,188.8 L441.1,188.4 L441.2,188.1 L441.3,187.7 L441.4,187.2 L441.5,187 L441.6,186.9 L441.7,186.7 L441.8,186.5 L441.9,186.4 L441.9,186.2 L442,185.9 L442.1,185.4 L442.2,184.9 L442.3,184.3 L442.4,183.6 L442.5,182.8 L442.6,181.8 L442.7,180.4 L442.8,179 L442.9,177.4 L443,175.7 L443.1,173.7 L443.2,171.6 L443.3,169.2 L443.4,166.6 L443.5,163.7 L443.6,162.2 L443.6,160.5 L443.7,157 L443.8,153.1 L443.9,148.7 L444,143.8 L444.1,138.4 L444.2,132.4 L444.3,125.8 L444.4,118.6 L444.5,110.9 L444.6,102.9 L444.7,94.3 L444.8,85.4 L444.9,76.4 L445,67.6 L445.1,59.5 L445.2,52.5 L445.2,49.4 L445.3,46.5 L445.4,42.3 L445.5,40.5 L445.6,44.6 L445.7,56.5 L445.8,73 L445.9,90.8 L446,107.7 L446.1,122.5 L446.2,135 L446.3,145.3 L446.4,153.7 L446.5,160.5 L446.6,167.1 L446.7,172.6 L446.8,177.4 L446.9,181.4 L446.9,183.2 L447,184.9 L447.1,187.9 L447.2,190.6 L447.3,193 L447.4,194.9 L447.5,196.5 L447.6,197.9 L447.7,199.1 L447.8,200.2 L447.9,201.2 L448,202.2 L448.1,203 L448.2,203.8 L448.3,204.7 L448.4,205.7 L448.5,206.7 L448.6,207.6 L448.6,208 L448.7,208.4 L448.8,209.3 L448.9,210.1 L449,210.9 L449.1,211.5 L449.2,212.1 L449.3,212.7 L449.4,212.9 L449.5,212.8 L449.6,212.6 L449.7,212.4 L449.8,212.2 L449.9,212 L450,211.8 L450.1,211.7 L450.2,211.7 L450.3,211.7 L450.4,211.7 L450.4,211.7 L450.5,211.7 L450.6,211.7 L450.7,211.7 L450.8,211.6 L450.9,211.6 L451.2,211.9 L452.1,214.4 L452.9,215.2 L453.8,217.8 L454.6,216.1 L455.4,214.6 L456.3,214.5 L457.1,214.7 L458,215.8 L458.9,218.2 L459.7,219.1 L460.6,217.2 L461.4,217.3 L462.2,219.3 L463.1,218.9 L463.9,218 L464.8,216.6 L465.6,216.2 L466.5,216.4 L467.4,214.8 L468.2,216.9 L469.1,220.1 L469.9,222.1 L470.8,220.9 L471.6,218.4 L472.4,219.3 L473.3,221 L474.1,220.7 L475,218.3 L475.9,220.8 L476.7,219.3 L477.6,218.2 L478.4,218.8 L479.2,220.5 L480.1,225.3 L480.9,225.2 L481.8,223.7 L482.6,223.1 L483.5,223.9 L484.4,223.6 L485.2,222.4 L486.1,222.4 L486.9,222.2 L487.8,224.2 L488.6,226 L489.4,226.6 L490.3,225 L491.1,222.8 L492,223.1 L492.9,218.9 L493.7,216.2 L494.6,217.5 L495.4,220.3 L496.2,221.8 L497.1,224.4 L497.9,226.9 L498.8,227.7 L499.6,227.5 L500.5,226.4 L501.4,224.2 L502.2,228.5 L503.1,228 L503.9,227 L504.8,228.2 L505.6,227.5 L506.4,228.7 L507.3,231.9 L508.1,229.6 L509,228.8 L509.9,228.6 L510.7,227.5 L511.6,226.9 L512.4,229.3 L513.2,230 L514.1,228.7 L515,229.5 L515.8,231.2 L516.6,229.9 L517.5,231.7 L518.4,229.5 L519.2,229.8 L520,232.4 L520.9,231.1 L521.8,231.2 L522.6,232.8 L523.5,232.5 L524.3,231.4 L525.1,228.8 L526,229.5 L526.9,230.2 L527.7,230.3 L528.5,233.7 L529.4,233 L530.2,231.5 L531.1,231.5 L532,232.9 L532.8,233.8 L533.6,231.2 L534.5,234.9 L535.4,235.5 L536.2,233.6 L537,234.1 L537.9,233 L538.8,231 L539.6,232.4 L540.5,232.9 L541.3,233.2 L542.1,236 L543,233.4 L543.9,232.7 L544.7,235 L545.5,235.9 L546.4,236.1 L547.2,236.2 L548.1,235.2 L549,236.1 L549.8,235 L550.6,236.7 L551.5,235.2 L552.4,234.9 L553.2,236.5 L554,237.9 L554.9,235.7 L555.8,237.4 L556.6,238.6 L557.5,237.2 L558.3,240 L559.1,237.8 L560,239.4 L560.9,237.1 L561.7,235.1 L562.5,236.2 L563.4,238.2 L564.2,240.8 L565.1,240.7 L566,236.4 L566.8,237.3 L567.6,237.1 L568.5,234.9 L569.4,236.4 L570.2,238.9 L571,239.1 L571.9,241.4 L572.8,239.4 L573.6,237.4 L574.5,236.9 L575.3,237.7 L576.1,238.3 L577,237.7 L577.9,240.9 L578.7,242.2 L579.5,239 L580.4,238 L581.2,240.7 L582.1,242.4 L583,241.4 L583.8,240 L584.6,238.9 L585.5,238.4 L586.4,238.1 L587.2,238.5 L588,240.2 L588.9,241.3 L589.8,240.4 L590.6,244.7 L591.5,242.4 L592.3,241.2 L593.1,241.1 L594,243.1 L594.9,242.4 L595.7,238.1 L596.5,242.5 L597.4,246.7 L598.2,243 L599.1,240.4 L600,241 L600.8,241.3 L601.6,244.6 L602.5,244.1 L603.4,240.4 L604.2,241 L605,240.8 L605.9,237.7 L606.8,235.1 L607.6,238.3 L608.5,241.3 L609.3,241 L610.1,240.9 L611,242.4 L611.9,242.8 L612.7,242.6 L613.5,237.7 L614.4,240.8 L615.2,238.2 L616.1,234.3 L617,229.5 L617.8,227.4 L618.6,229.4 L619.5,233.9 L620.4,239.2 L621.2,242.3 L622,241.8 L622.9,244.2 L623.8,243.5 L624.6,244.2 L625.5,244.2 L626.3,244.4 L627.1,247 L628,247 L628.9,244.8 L629.7,243.7 L630.5,243.8 L631.4,246.1 L632.2,244.5 L633.1,245.8 L634,246.4 L634.8,246.4 L635.6,246.4 L636.5,243.8 L637.4,243.1 L638.2,243.4 L639,245.5 L639.9,243.6 L640.8,245.5 L641.6,243.2 L642.5,242.4 L643.3,244.6 L644.1,244.1 L645,242.9 L645.9,244.6 L646.7,242.9 L647.5,245 L648.4,245.5 L649.2,246.7 L650.1,245.7 L651,243.3 L651.8,242.8 L652.6,245 L653.5,245.8 L654.4,245.8 L655.2,246.1 L656,247.6"/>
<path stroke="#111111" d="M29.6,257.2 L30.4,257.4 L31.3,257 L32.1,257.2 L33,256.5 L33.9,256.3 L34.7,256.8 L35.5,256.4 L36.4,256.8 L37.2,256.8 L38.1,255.3 L39,256.7 L39.8,256.6 L40.6,255.2 L41.5,256 L42.4,257 L43.2,254.6 L44,251.7 L44.9,250.8 L45.8,252.6 L46.6,253.3 L47.5,253.7 L48.3,253.6 L49.1,253.1 L50,253.3 L50.9,253.9 L51.7,253.7 L52.5,252.1 L53.4,253 L54.2,253.6 L55.1,251.3 L56,251.2 L56.8,250.8 L57.6,252.2 L58.5,253.1 L59.4,252.4 L60.2,251.9 L61,250.7 L61.9,250.6 L62.8,251.4 L63.6,248.6 L64.5,246.9 L65.3,241.9 L66.2,236.2 L67,236.1 L67.8,241.2 L68.7,245.7 L69.5,248.4 L70.4,247 L71.2,249.7 L72.1,247.3 L73,246.9 L73.8,246.3 L74.7,247 L75.5,249.4 L76.3,249.6 L77.2,245.9 L78,246.6 L78.9,246.3 L79.8,244.9 L80.6,246 L81.5,246.8 L82.3,246.4 L83.2,245.6 L84,245.4 L84.8,246.3 L85.7,246.7 L86.5,244.5 L87.4,245.3 L88.2,245.9 L89.1,243.1 L90,243.4 L90.8,246.1 L91.7,245.4 L92.5,244.5 L93.3,246.3 L94.2,244.3 L95,245 L95.9,244.1 L96.8,242.9 L97.6,241.7 L98.5,244.5 L99.3,245.3 L100.2,241.9 L101,243.5 L101.8,245.1 L102.7,243.5 L103.5,243 L104.4,240.7 L105.2,240.5 L106.1,240.3 L107,239.8 L107.8,240.4 L108.7,242.8 L109.5,243.5 L110.3,242 L111.2,241.3 L112,242.3 L112.9,242.2 L113.8,240 L114.6,238.7 L115.5,239.5 L116.3,238 L117.2,236.2 L118,235 L118.8,237.8 L119.7,238.5 L120.5,240.1 L121.4,238.5 L122.2,239.7 L123.1,239.3 L124,238 L124.8,238.6 L125.7,238 L126.5,238.1 L127.3,239.7 L128.2,237.9 L129.1,238.2 L129.9,237.8 L130.8,236.9 L131.6,236.6 L132.4,235.7 L133.3,235.2 L134.2,231.1 L135,230.1 L135.8,229.2 L136.7,230.5 L137.6,230.2 L138.4,232.3 L139.2,234.1 L140.1,235.7 L140.9,237.7 L141.8,235.5 L142.7,236 L143.5,235.5 L144.3,236 L145.2,234.8 L146.1,235.2 L146.9,235.6 L147.8,235.6 L148.6,235.1 L149.4,233.3 L150.3,235.1 L151.2,235.7 L152,234.8 L152.8,234.3 L153.7,232 L154.6,232.4 L155.4,235.6 L156.2,235.5 L157.1,234.8 L157.9,233.6 L158.8,233.9 L159.7,236.1 L160.5,231.9 L161.3,231.7 L162.2,233.1 L163.1,233 L163.9,231.2 L164.8,230 L165.6,232 L166.4,231.9 L167.3,230.3 L168.2,231.3 L169,230.9 L169.8,229.3 L170.7,229.9 L171.6,232.8 L172.4,233.7 L173.2,232.2 L174.1,229.5 L174.9,228.9 L175.8,230 L176.7,230.3 L177.5,228.7 L178.3,227.9 L179.2,229.7 L180.1,230.9 L180.9,230 L181.8,230.7 L182.6,229.5 L183.4,230.4 L184.3,228.4 L185.2,227.4 L186,226.4 L186.8,224.8 L187.7,224.4 L188.6,223.2 L189.4,218 L190.2,215.4 L191.1,218.2 L191.9,222.9 L192.8,225.8 L193.7,225.8 L194.5,226.1 L195.3,227 L196.2,226.7 L197.1,225.9 L197.9,225.4 L198.8,223.2 L199.6,224.5 L200.4,227 L201.3,226.1 L202.2,224.3 L203,225.9 L203.8,225.1 L204.7,223.5 L205.6,225.6 L206.4,224 L207.2,222.8 L208.1,221.3 L208.9,224.4 L209.8,221.2 L210.7,221.2 L211.5,223 L212.3,222.5 L213.2,221.3 L214.1,222.8 L214.9,221.9 L215.8,221.2 L216.6,219.6 L217.4,218.9 L218.3,218.4 L219.2,216.3 L220,216.6 L220.8,218.8 L221.7,219.6 L222.6,221 L223.4,221.2 L224.2,221.8 L225.1,221.5 L225.9,221.9 L226.8,221.3 L227.7,220.9 L228.5,220.2 L229.3,218.3 L230.2,217.7 L231.1,219.5 L231.9,220.3 L232.8,218.2 L233.6,216.5 L234.4,216.9 L235.3,217.2 L236,217.3 L236.1,217.3 L236.2,217.3 L236.2,217.3 L236.2,217.2 L236.3,217.2 L236.4,217.2 L236.5,217.2 L236.6,217.1 L236.6,217.1 L236.7,216.9 L236.8,216.7 L236.9,216.4 L237,216.1 L237,215.9 L237,215.8 L237.1,215.5 L237.2,215.1 L237.3,214.8 L237.4,214.4 L237.4,214.1 L237.5,213.7 L237.6,213.4 L237.7,213 L237.8,212.7 L237.8,212.3 L237.8,212.2 L237.9,211.9 L238,211.4 L238.1,210.9 L238.2,210.4 L238.2,209.8 L238.3,209.2 L238.4,208.6 L238.5,207.9 L238.6,207.2 L238.6,206.6 L238.7,206.1 L238.7,205.9 L238.8,205.1 L238.9,204.3 L239,203.4 L239,202.4 L239.1,201.3 L239.2,200 L239.3,198.7 L239.4,197.3 L239.4,195.7 L239.5,194 L239.6,193.3 L239.6,192.1 L239.7,190.1 L239.8,187.9 L239.8,185.5 L239.9,183 L240,180.3 L240.1,177.3 L240.2,174.2 L240.2,170.8 L240.3,167.2 L240.4,163.3 L240.5,159 L240.6,154.2 L240.6,148.8 L240.7,142.7 L240.8,135.8 L240.9,127.7 L241,118 L241,106.3 L241.1,92 L241.2,74.1 L241.2,60.8 L241.3,51.8 L241.4,23.9 L241.4,10 L241.5,10 L241.6,10 L241.7,10 L241.8,10 L241.8,10 L241.9,10 L242,10 L242.1,10 L242.1,10 L242.2,10 L242.2,10 L242.3,10 L242.4,10 L242.5,10 L242.6,10 L242.6,10 L242.7,10 L242.8,10 L242.9,10 L242.9,10 L243,10 L243,10 L243.1,10 L243.2,10 L243.3,10 L243.4,10 L243.4,10 L243.5,10 L243.6,10 L243.7,10 L243.8,10 L243.8,10 L243.8,10 L243.9,10 L244,10 L244.1,10 L244.2,10 L244.2,10 L244.3,10 L244.4,10 L244.5,10 L244.6,10 L244.6,10 L244.7,10 L244.7,10 L244.8,10 L244.9,10 L245,10 L245,23.5 L245.1,51.3 L245.2,73.5 L245.3,91.2 L245.4,105.5 L245.4,117.1 L245.5,124.3 L245.5,126.3 L245.6,133.8 L245.7,140.1 L245.8,145.6 L245.8,150.4 L245.9,154.6 L246,158.5 L246.1,162.2 L246.2,165.9 L246.2,169.3 L246.3,172.5 L246.3,173.7 L246.4,175.5 L246.5,178.3 L246.6,181 L246.6,183.4 L246.7,185.7 L246.8,187.8 L246.9,189.8 L247,191.6 L247,193.3 L247.1,195 L247.2,196.6 L247.3,198.1 L247.4,199.4 L247.4,200.7 L247.5,201.9 L247.6,202.9 L247.7,204 L247.8,204.9 L247.8,205.8 L247.9,206.6 L248,207.3 L248.1,207.8 L248.1,208 L248.2,208.8 L248.2,209.6 L248.3,210.3 L248.4,211 L248.5,211.6 L248.6,212.2 L248.6,212.8 L248.7,213.4 L248.8,213.9 L248.9,214.4 L248.9,214.6 L249,214.9 L249,214.9 L249.1,214.8 L249.2,214.8 L249.3,214.7 L249.4,214.6 L249.4,214.5 L249.5,214.3 L249.6,214.2 L249.7,214.1 L249.8,214 L249.8,213.9 L249.8,213.8 L249.9,213.6 L250.6,213.1 L251.4,213.9 L252.3,214.3 L253.2,212.5 L254,211.7 L254.8,212.3 L255.7,215.1 L256.6,210.8 L257.4,210.8 L258.2,212.1 L259.1,213 L259.9,212.9 L260.8,212.6 L261.6,210.9 L262.5,211.2 L263.4,211.5 L264.2,210.5 L265.1,211.6 L265.9,211.9 L266.8,212.8 L267.6,212.7 L268.4,211.7 L269.3,211.9 L270.1,212.7 L271,213 L271.9,212.7 L272.7,211.8 L273.6,210.5 L274.4,209.9 L275.2,209 L276.1,208.8 L276.9,209.2 L277.8,208.4 L278.6,209 L279.5,205.3 L280.4,202.4 L281.2,199 L282.1,191.8 L282.9,187.7 L283.8,188 L284.6,191 L285.4,195.1 L286.3,199.1 L287.1,204.3 L288,206.5 L288.9,207.2 L289.7,207.6 L290.6,205.4 L291.4,204.5 L292.2,203.3 L293.1,197.8 L293.9,194.1 L294.8,192.5 L295.6,191.4 L296.5,191.6 L297.4,193.4 L298.2,196.9 L299.1,200.6 L299.9,201.9 L300.8,203 L301.6,207 L302.4,206.9 L303.3,206.1 L304.1,207.6 L305,206.7 L305.9,205.7 L306.7,206.6 L307.6,207.8 L308.4,206.7 L309.2,205.4 L310.1,205.1 L310.9,206 L311.8,208 L312.6,206 L313.5,208.7 L314.4,206 L315.2,206.4 L316.1,206.2 L316.9,205.4 L317.8,205.1 L318.6,205.2 L319.4,202.6 L320.3,202.3 L321.1,200.1 L322,197.7 L322.9,198.9 L323.7,198.7 L324.6,198.8 L325.4,200.4 L326.2,203.1 L327.1,203.4 L327.9,204.6 L328.8,206.6 L329.6,205.4 L330.5,205.4 L331.4,204 L332.2,204.8 L333.1,206.1 L333.9,205.4 L334.8,203.6 L335.6,205.8 L336.4,205.6 L337.3,204.9 M347.5,169.2 L348.4,168.5 L349.2,172 L350.1,169.7 L350.9,173.4 L351.8,177.7 L352.6,174.7 L353.4,170.7 L354.3,177 L355.1,177.9 L356,178.8 L356.9,178.4 L357.7,178.7 L358.6,179.8 L359.4,180.5 L360.2,180.9 L361.1,182.1 L361.9,186.6 L362.8,186.8 L363.6,187.2 L364.5,185.2 L365.4,186.9 L366.2,190.2 L367.1,187.4 L367.9,188.4 L368.8,189.3 L369.6,186.2 L370.4,193.9 L371.3,191.9 L372.1,188.7 L373,189.6 L373.9,187.6 L374.7,189 L375.6,194.6 L376.4,195.7 L377.2,194.9 L378.1,194.4 L378.9,200.3 L379.8,197.3 L380.6,197.5 L381.5,196.3 L382.4,198.1 L383.2,201.9 L384.1,203.4 L384.9,198.6 L385.8,196.5 L386.6,201.6 L387.4,204.5 L388.3,202.2 L389.1,196.1 L390,193.6 L390.9,185.7 L391.7,181.8 L392.6,182.3 L393.4,182.8 L394.2,188.7 L395.1,193.3 L395.9,196.5 L396.8,204 L397.6,204.5 L398.5,201.2 L399.4,200.1 L400.2,200.4 L401.1,198.3 L401.9,189.5 L402.8,184.5 L403.6,182 L404.4,190.1 L405.3,194.8 L406.1,198.8 L407,201.6 L407.9,202.7 L408.7,205.1 L409.6,207.2 L410.4,204.7 L411.2,205.7 L412.1,203.2 L412.9,204.9 L413.8,207 L414.6,207.5 L415.5,206.3 L416.4,207 L417.2,209.2 L418.1,208.3 L418.9,205.2 L419.8,212.9 L420.6,210.8 L421.4,207.7 L422.3,208.8 L423.1,210.1 L424,210 L424.9,209.2 L425.7,209 L426.6,209.1 L427.4,209.2 L428.2,205.4 L429.1,206.1 L429.9,207.8 L430.8,207.4 L431.6,204.9 L432.5,204.5 L433.4,204.5 L434.2,204.1 L435.1,204.8 L435.9,199.9 L436.8,199.1 L437.6,198.5 L438.4,200.2 L439,202.6 L439.1,203 L439.2,203.5 L439.3,204 L439.4,204.4 L439.5,204.9 L439.6,205.3 L439.7,205 L439.8,204.2 L439.9,203.4 L440,201.4 L440.1,200.9 L440.1,200.6 L440.2,200.3 L440.3,199.7 L440.4,199.1 L440.5,198.9 L440.6,198.6 L440.7,198.4 L440.8,198.1 L440.9,197.8 L441,197.5 L441.1,197.1 L441.2,196.7 L441.3,196.2 L441.4,195.6 L441.5,195 L441.6,194.4 L441.7,193.4 L441.8,192.3 L441.9,191.7 L441.9,191.1 L442,189.8 L442.1,188.4 L442.2,186.9 L442.3,185.2 L442.4,183.4 L442.5,181.5 L442.6,179.4 L442.7,177.7 L442.8,175.8 L442.9,173.6 L443,171.1 L443.1,168.3 L443.2,165.1 L443.3,161.5 L443.4,157.5 L443.5,152.9 L443.6,150.1 L443.6,147.2 L443.7,141 L443.8,134.2 L443.9,126.7 L444,118.6 L444.1,109.9 L444.2,100.7 L444.3,91.2 L444.4,81.5 L444.5,72.1 L444.6,63.5 L444.7,56 L444.8,50.3 L444.9,46.6 L445,45.4 L445.1,50.1 L445.2,62.6 L445.2,70.8 L445.3,79.8 L445.4,98.5 L445.5,116.2 L445.6,131.8 L445.7,145.2 L445.8,156.3 L445.9,165.5 L446,173.2 L446.1,179.5 L446.2,184.8 L446.3,189.3 L446.4,193.1 L446.5,196.3 L446.6,198.5 L446.7,200.2 L446.8,201.7 L446.9,202.9 L446.9,203.4 L447,203.9 L447.1,204.7 L447.2,205.4 L447.3,206 L447.4,206.7 L447.5,207.3 L447.6,207.9 L447.7,208.5 L447.8,208.9 L447.9,209.3 L448,209.7 L448.1,210.1 L448.2,210.9 L448.3,211.6 L448.4,212.2 L448.5,212.9 L448.6,213.5 L448.6,213.8 L448.7,214.1 L448.8,214.7 L448.9,215.3 L449,215.9 L449.1,216.2 L449.2,216.6 L449.3,217.2 L449.4,217.9 L449.5,218.6 L449.6,219.3 L449.7,220 L449.8,220.7 L449.9,221.4 L450,222.1 L450.1,222.7 L450.2,223.4 L450.3,223.4 L450.4,223.4 L450.4,223.4 L450.5,223.3 L450.6,223.3 L450.7,223.3 L450.8,223.3 L450.9,223.3 L451.2,223.2 L452.1,222.3 L452.9,222 L453.8,222.6 L454.6,223.9 L455.4,222.8 L456.3,224 L457.1,224.4 L458,225.2 L458.9,226.7 L459.7,224.7 L460.6,223.9 L461.4,224.9 L462.2,223.9 L463.1,225.2 L463.9,224.1 L464.8,223.6 L465.6,226 L466.5,227.4 L467.4,227.9 L468.2,227.5 L469.1,229.9 L469.9,225.7 L470.8,227.4 L471.6,226.9 L472.4,227 L473.3,226.7 L474.1,226.5 L475,228.7 L475.9,225.8 L476.7,225.4 L477.6,231.9 L478.4,228.9 L479.2,229.3 L480.1,230.7 L480.9,231.3 L481.8,230.2 L482.6,231.9 L483.5,232.3 L484.4,229.3 L485.2,230.9 L486.1,233.3 L486.9,234.9 L487.8,232.9 L488.6,231.6 L489.4,231.9 L490.3,232.4 L491.1,227.5 L492,227.6 L492.9,225.9 L493.7,221.6 L494.6,219.9 L495.4,225.2 L496.2,231.2 L497.1,234.1 L497.9,236.1 L498.8,234.9 L499.6,231.3 L500.5,235.9 L501.4,238.6 L502.2,236.5 L503.1,234.6 L503.9,237.1 L504.8,237.7 L505.6,238 L506.4,238.6 L507.3,238.2 L508.1,239.9 L509,238.9 L509.9,238.3 L510.7,237.7 L511.6,239 L512.4,239 L513.2,239 L514.1,241.8 L515,242.1 L515.8,241.7 L516.6,237.8 L517.5,240.5 L518.4,240.5 L519.2,241.4 L520,238.3 L520.9,238 L521.8,239.6 L522.6,241.1 L523.5,243.4 L524.3,239.7 L525.1,241.7 L526,241 L526.9,243.7 L527.7,241.9 L528.5,238.7 L529.4,238.5 L530.2,240.5 L531.1,241.7 L532,243.8 L532.8,242.6 L533.6,241.5 L534.5,240.4 L535.4,242 L536.2,243.1 L537,245.2 L537.9,245.5 L538.8,242.7 L539.6,239.6 L540.5,238.3 L541.3,241.8 L542.1,243.5 L543,242.2 L543.9,242.1 L544.7,244.4 L545.5,246 L546.4,244.6 L547.2,242 L548.1,245.6 L549,245.7 L549.8,245.3 L550.6,246.6 L551.5,247.1 L552.4,250.4 L553.2,247.8 L554,245.4 L554.9,244.9 L555.8,245.2 L556.6,248.5 L557.5,249.9 L558.3,248.1 L559.1,247.4 L560,247.4 L560.9,247 L561.7,246.8 L562.5,247.4 L563.4,246.5 L564.2,249.2 L565.1,248.3 L566,247.3 L566.8,244.7 L567.6,245.2 L568.5,245 L569.4,245.9 L570.2,246.8 L571,246.5 L571.9,248.3 L572.8,249.5 L573.6,250 L574.5,245.4 L575.3,246.6 L576.1,245.5 L577,248 L577.9,248.4 L578.7,247.8 L579.5,251.1 L580.4,248 L581.2,250.8 L582.1,248.5 L583,249.1 L583.8,249.9 L584.6,250.1 L585.5,250 L586.4,250.6 L587.2,251.6 L588,251.8 L588.9,251 L589.8,248.1 L590.6,245 L591.5,247.9 L592.3,246.5 L593.1,246.2 L594,250.9 L594.9,248.9 L595.7,248.8 L596.5,251.1 L597.4,249 L598.2,252.2 L599.1,249.1 L600,249.1 L600.8,249.3 L601.6,250 L602.5,250.6 L603.4,250.8 L604.2,255.4 L605,250.4 L605.9,253.9 L606.8,251 L607.6,250.2 L608.5,249.6 L609.3,249.4 L610.1,250.6 L611,252.6 L611.9,253.4 L612.7,250.6 L613.5,248.9 L614.4,249.2 L615.2,245.2 L616.1,238.1 L617,238.1 L617.8,235.7 L618.6,236.7 L619.5,242.9 L620.4,246.9 L621.2,248.6 L622,250 L622.9,253.1 L623.8,253.9 L624.6,254.2 L625.5,252.9 L626.3,251.9 L627.1,253.6 L628,255.1 L628.9,251.1 L629.7,253.1 L630.5,253.1 L631.4,253.5 L632.2,254.2 L633.1,253.9 L634,254.2 L634.8,253.9 L635.6,252.2 L636.5,253.6 L637.4,251.5 L638.2,255 L639,255.8 L639.9,254.2 L640.8,253.1 L641.6,253.7 L642.5,254.9 L643.3,253.8 L644.1,252.2 L645,253.1 L645.9,256.5 L646.7,254.6 L647.5,252.8 L648.4,251.5 L649.2,252.5 L650.1,253.5 L651,254 L651.8,256 L652.6,257.2 L653.5,258.4 L654.4,254.1 L655.2,256.6 L656,254.4"/>
<path stroke="#ff1a1a" d="M29.6,267.1 L30.4,267.2 L31.3,264.2 L32.1,265.4 L33,266 L33.9,266.1 L34.7,266.3 L35.5,265.3 L36.4,264.1 L37.2,266.1 L38.1,266.2 L39,265.9 L39.8,263.8 L40.6,263.6 L41.5,263.3 L42.4,262.4 L43.2,263.4 L44,262.5 L44.9,261.8 L45.8,265.3 L46.6,263.9 L47.5,260.7 L48.3,260.7 L49.1,260.9 L50,261 L50.9,260.1 L51.7,259.4 L52.5,259.9 L53.4,258.4 L54.2,259.3 L55.1,261.5 L56,260.1 L56.8,259 L57.6,260.6 L58.5,260.4 L59.4,259.3 L60.2,259 L61,257.5 L61.9,259 L62.8,256.8 L63.6,256.8 L64.5,254.5 L65.3,250.3 L66.2,245.9 L67,244.5 L67.8,248 L68.7,251.8 L69.5,254.8 L70.4,255.3 L71.2,258.2 L72.1,256 L73,253.5 L73.8,255.6 L74.7,256.8 L75.5,256.6 L76.3,254.7 L77.2,256.4 L78,254.2 L78.9,255.6 L79.8,255.2 L80.6,255.1 L81.5,255.1 L82.3,254.2 L83.2,253.7 L84,254.9 L84.8,253.1 L85.7,253.7 L86.5,255.2 L87.4,252.1 L88.2,252.9 L89.1,254.7 L90,255.1 L90.8,253.6 L91.7,252.3 L92.5,252.4 L93.3,253.4 L94.2,251.8 L95,252.2 L95.9,250.4 L96.8,251.3 L97.6,250.9 L98.5,250.7 L99.3,251.9 L100.2,252 L101,250.5 L101.8,249.2 L102.7,249.2 L103.5,248.3 L104.4,251.3 L105.2,249.9 L106.1,247.6 L107,248.4 L107.8,249.8 L108.7,249.4 L109.5,250.3 L110.3,250.5 L111.2,249.1 L112,248.2 L112.9,247 L113.8,246.4 L114.6,246.3 L115.5,246 L116.3,245 L117.2,244.3 L118,242.1 L118.8,244 L119.7,244.8 L120.5,245.5 L121.4,245.4 L122.2,246.4 L123.1,247.9 L124,248.4 L124.8,248.4 L125.7,245.9 L126.5,246 L127.3,245.9 L128.2,245.6 L129.1,244.8 L129.9,245.5 L130.8,245.1 L131.6,243.8 L132.4,244.3 L133.3,242.5 L134.2,243.1 L135,237.9 L135.8,235.9 L136.7,237.9 L137.6,239.7 L138.4,242.3 L139.2,243.3 L140.1,244.2 L140.9,245.1 L141.8,241.8 L142.7,242.4 L143.5,243.9 L144.3,244.1 L145.2,244.3 L146.1,244.1 L146.9,244.1 L147.8,244.7 L148.6,244.4 L149.4,244.7 L150.3,241.6 L151.2,243 L152,242.5 L152.8,242.6 L153.7,241.4 L154.6,241.5 L155.4,241.4 L156.2,240.1 L157.1,242.1 L157.9,240.6 L158.8,238.9 L159.7,240.7 L160.5,237.7 L161.3,240.3 L162.2,239.2 L163.1,239 L163.9,240 L164.8,239.6 L165.6,237.7 L166.4,237.8 L167.3,240.3 L168.2,239.5 L169,241.2 L169.8,240 L170.7,241 L171.6,241 L172.4,239.3 L173.2,240.3 L174.1,238.6 L174.9,238.3 L175.8,238.9 L176.7,237.9 L177.5,237.5 L178.3,238.8 L179.2,239.5 L180.1,237.1 L180.9,236.8 L181.8,237.6 L182.6,235.8 L183.4,236.8 L184.3,237.9 L185.2,238.3 L186,238.6 L186.8,238.4 L187.7,236.5 L188.6,233.7 L189.4,229 L190.2,224.5 L191.1,226 L191.9,233.7 L192.8,233.9 L193.7,235.9 L194.5,236 L195.3,235.5 L196.2,234.4 L197.1,231.7 L197.9,234.7 L198.8,234 L199.6,236.6 L200.4,236.5 L201.3,234.6 L202.2,233.8 L203,234.9 L203.8,234.9 L204.7,234.3 L205.6,234.5 L206.4,234 L207.2,231.9 L208.1,235 L208.9,233.2 L209.8,229.4 L210.7,229.8 L211.5,231.6 L212.3,233.7 L213.2,234.6 L214.1,232.5 L214.9,230.1 L215.8,233 L216.6,231.2 L217.4,229 L218.3,228.1 L219.2,226.1 L220,225.2 L220.8,227.2 L221.7,229 L222.6,229.7 L223.4,230.8 L224.2,229.8 L225.1,231 L225.9,229 L226.8,227.7 L227.7,228.9 L228.5,229.4 L229.3,228.9 L230.2,228.9 L231.1,228.4 L231.9,227.7 L232.8,226.4 L233.6,227.2 L234.4,228.5 L235.3,226.5 L236,225.3 L236.1,225.6 L236.2,225.9 L236.2,225.9 L236.2,226.2 L236.3,226.5 L236.4,226.9 L236.5,227.2 L236.6,227.5 L236.6,227.8 L236.7,227.6 L236.8,227.5 L236.9,227.3 L237,227.1 L237,227.1 L237,227 L237.1,226.8 L237.2,226.6 L237.3,226.4 L237.4,226.2 L237.4,226 L237.5,225.8 L237.6,225.5 L237.7,225.2 L237.8,224.7 L237.8,224.2 L237.8,224.2 L237.9,223.7 L238,223.2 L238.1,222.6 L238.2,222.1 L238.2,221.5 L238.3,220.9 L238.4,220.2 L238.5,219.5 L238.6,218.8 L238.6,218.1 L238.7,217.6 L238.7,217.5 L238.8,217.1 L238.9,216.6 L239,216.1 L239,215.5 L239.1,214.9 L239.2,214.1 L239.3,213.3 L239.4,212.4 L239.4,211.4 L239.5,210.4 L239.6,209.9 L239.6,209.2 L239.7,207.9 L239.8,206.2 L239.8,204.2 L239.9,202 L240,199.6 L240.1,197.1 L240.2,194.5 L240.2,191.6 L240.3,188.6 L240.4,185.8 L240.5,182.9 L240.6,179.7 L240.6,176.4 L240.7,172.7 L240.8,168.8 L240.9,164.5 L241,159.9 L241,154.6 L241.1,148.7 L241.2,142 L241.2,137.2 L241.3,134.1 L241.4,124.5 L241.4,112.8 L241.5,98.4 L241.6,80.6 L241.7,58.4 L241.8,30.5 L241.8,10 L241.9,10 L242,10 L242.1,10 L242.1,10 L242.2,10 L242.2,10 L242.3,10 L242.4,10 L242.5,10 L242.6,10 L242.6,10 L242.7,10 L242.8,10 L242.9,10 L242.9,10 L243,10 L243,10 L243.1,10 L243.2,10 L243.3,10 L243.4,10 L243.4,10 L243.5,10 L243.6,10 L243.7,10 L243.8,10 L243.8,10 L243.8,10 L243.9,10 L244,10 L244.1,10 L244.2,10 L244.2,10 L244.3,10 L244.4,10 L244.5,10 L244.6,10 L244.6,10 L244.7,10 L244.7,10 L244.8,10 L244.9,10 L245,10 L245,10 L245.1,10 L245.2,10 L245.3,10 L245.4,10 L245.4,30.3 L245.5,51.6 L245.5,58 L245.6,80 L245.7,97.5 L245.8,111.6 L245.8,123.1 L245.9,132.5 L246,140.4 L246.1,147.2 L246.2,153.2 L246.2,158.5 L246.3,163.3 L246.3,164.9 L246.4,167.6 L246.5,171.6 L246.6,175.3 L246.6,178.7 L246.7,182 L246.8,185 L246.9,187.8 L247,190.3 L247,192.6 L247.1,194.8 L247.2,196.8 L247.3,198.7 L247.4,200.4 L247.4,202 L247.5,203.4 L247.6,204.8 L247.7,206 L247.8,207.1 L247.8,208.1 L247.9,209 L248,209.9 L248.1,210.3 L248.1,210.6 L248.2,211.3 L248.2,211.9 L248.3,212.5 L248.4,213.4 L248.5,214.2 L248.6,214.9 L248.6,215.6 L248.7,216.2 L248.8,216.9 L248.9,217.4 L248.9,217.6 L249,218 L249,218.5 L249.1,219 L249.2,219.5 L249.3,219.9 L249.4,220.3 L249.4,220.7 L249.5,221.1 L249.6,221.5 L249.7,221.9 L249.8,222.2 L249.8,222.2 L249.8,222.5 L249.9,222.9 L250.6,221.5 L251.4,221.2 L252.3,221 L253.2,220.3 L254,220.8 L254.8,220.2 L255.7,219.4 L256.6,220.1 L257.4,220.5 L258.2,221.3 L259.1,220.9 L259.9,221 L260.8,221.9 L261.6,223.1 L262.5,222.7 L263.4,221 L264.2,219.3 L265.1,221.1 L265.9,221.4 L266.8,222.2 L267.6,221.7 L268.4,222.8 L269.3,223.7 L270.1,220.1 L271,221 L271.9,218.8 L272.7,218.2 L273.6,219 L274.4,219.5 L275.2,220 L276.1,217.6 L276.9,217.8 L277.8,219.9 L278.6,218.5 L279.5,215.9 L280.4,211.8 L281.2,206 L282.1,201.8 L282.9,199.1 L283.8,196.8 L284.6,198.1 L285.4,204 L286.3,207.7 L287.1,210.6 L288,215.4 L288.9,213.5 L289.7,213.5 L290.6,213.9 L291.4,212.6 L292.2,211.4 L293.1,208.8 L293.9,202.1 L294.8,199.6 L295.6,200.3 L296.5,202.2 L297.4,202.8 L298.2,209.3 L299.1,209 L299.9,212.8 L300.8,214.2 L301.6,214.1 L302.4,214.8 L303.3,217.8 L304.1,215.7 L305,215.2 L305.9,215.6 L306.7,217.7 L307.6,216.3 L308.4,215 L309.2,214.9 L310.1,215.3 L310.9,213.9 L311.8,214.7 L312.6,214.9 L313.5,216.2 L314.4,214.8 L315.2,215.6 L316.1,216.3 L316.9,216.5 L317.8,215.1 L318.6,211.8 L319.4,212.5 L320.3,210.3 L321.1,210.8 L322,209.5 L322.9,208.3 L323.7,207.8 L324.6,208 L325.4,208.2 L326.2,209.3 L327.1,212.6 L327.9,212.4 L328.8,213 L329.6,213.7 L330.5,214.4 L331.4,215.8 L332.2,214.3 L333.1,213.9 L333.9,214 L334.8,211.7 L335.6,213 L336.4,212.6 L337.3,212.6 M347.5,179.7 L348.4,180.9 L349.2,179.5 L350.1,177.3 L350.9,178.7 L351.8,181.4 L352.6,182.1 L353.4,183.8 L354.3,185.8 L355.1,186.8 L356,189.3 L356.9,188.4 L357.7,188.2 L358.6,189.9 L359.4,191.9 L360.2,191.8 L361.1,190 L361.9,190.3 L362.8,195.1 L363.6,193.1 L364.5,195.6 L365.4,194.8 L366.2,196.3 L367.1,199 L367.9,200.9 L368.8,198 L369.6,193.7 L370.4,193.1 L371.3,189.6 L372.1,201.3 L373,204 L373.9,202.1 L374.7,201.2 L375.6,203 L376.4,202.2 L377.2,202.9 L378.1,206.3 L378.9,208.4 L379.8,208.9 L380.6,208.3 L381.5,205.9 L382.4,206.7 L383.2,206.2 L384.1,209.7 L384.9,213.6 L385.8,211.3 L386.6,208.3 L387.4,207.6 L388.3,206.9 L389.1,203.4 L390,202.3 L390.9,197.6 L391.7,193 L392.6,191.3 L393.4,191.6 L394.2,193 L395.1,201.8 L395.9,202.5 L396.8,203.4 L397.6,211.9 L398.5,211.1 L399.4,208.8 L400.2,207.6 L401.1,203.8 L401.9,200.5 L402.8,200.1 L403.6,189.7 L404.4,199 L405.3,202.7 L406.1,211.5 L407,215.3 L407.9,216.1 L408.7,215.1 L409.6,213 L410.4,218.7 L411.2,219.5 L412.1,219.5 L412.9,218.1 L413.8,219.3 L414.6,218.6 L415.5,218.8 L416.4,220.7 L417.2,221 L418.1,219.2 L418.9,218.9 L419.8,220.7 L420.6,219.3 L421.4,217.8 L422.3,222 L423.1,220.5 L424,218.3 L424.9,217.7 L425.7,217.8 L426.6,219.5 L427.4,216.9 L428.2,215.8 L429.1,217.5 L429.9,216.7 L430.8,214.3 L431.6,211.9 L432.5,213 L433.4,214.6 L434.2,213.5 L435.1,214.8 L435.9,212.7 L436.8,210.5 L437.6,208.8 L438.4,211.8 L439,208.2 L439.1,207.3 L439.2,206.3 L439.3,205.3 L439.4,204.3 L439.5,203.6 L439.6,203.3 L439.7,203 L439.8,202.7 L439.9,202.3 L440,202.3 L440.1,202.1 L440.1,202 L440.2,201.9 L440.3,201.6 L440.4,201.3 L440.5,201 L440.6,200.6 L440.7,200.1 L440.8,199.5 L440.9,198.8 L441,198 L441.1,197.2 L441.2,196.3 L441.3,195.3 L441.4,194.5 L441.5,193.6 L441.6,192.6 L441.7,191.5 L441.8,190.2 L441.9,189.5 L441.9,188.8 L442,187.3 L442.1,185.6 L442.2,183.6 L442.3,181.5 L442.4,179.1 L442.5,176.2 L442.6,172.9 L442.7,169.3 L442.8,165.2 L442.9,160.7 L443,155.7 L443.1,150.2 L443.2,144.1 L443.3,137.3 L443.4,130.1 L443.5,122.4 L443.6,118.4 L443.6,114.2 L443.7,105.5 L443.8,96.4 L443.9,87.2 L444,78.2 L444.1,69.9 L444.2,62.8 L444.3,57.4 L444.4,54 L444.5,53.1 L444.6,58 L444.7,70.1 L444.8,86.8 L444.9,104.8 L445,121.9 L445.1,136.9 L445.2,150.1 L445.2,156 L445.3,161.4 L445.4,170.8 L445.5,178.6 L445.6,185.1 L445.7,190.6 L445.8,195.2 L445.9,199.2 L446,202.6 L446.1,205.6 L446.2,208.3 L446.3,210.6 L446.4,212.7 L446.5,214.2 L446.6,215.6 L446.7,216.8 L446.8,217.9 L446.9,218.9 L446.9,219.4 L447,219.8 L447.1,220.7 L447.2,221.4 L447.3,222.1 L447.4,222.8 L447.5,223.4 L447.6,224 L447.7,224.5 L447.8,225.1 L447.9,225.5 L448,226 L448.1,226.4 L448.2,226.7 L448.3,226.9 L448.4,227.1 L448.5,227.3 L448.6,227.5 L448.6,227.6 L448.7,227.7 L448.8,227.8 L448.9,228 L449,228.5 L449.1,229 L449.2,229.5 L449.3,230 L449.4,230.5 L449.5,230.9 L449.6,231.4 L449.7,231.9 L449.8,232.3 L449.9,232.8 L450,233.2 L450.1,233.5 L450.2,233.8 L450.3,234 L450.4,234.1 L450.4,234.2 L450.5,234.4 L450.6,234.6 L450.7,234.8 L450.8,235 L450.9,235.2 L451.2,235.7 L452.1,232 L452.9,230.9 L453.8,233.6 L454.6,232.4 L455.4,232.6 L456.3,233.5 L457.1,233.5 L458,230.7 L458.9,234.6 L459.7,231.1 L460.6,231.1 L461.4,233.2 L462.2,236.4 L463.1,234.2 L463.9,234.9 L464.8,234.7 L465.6,234 L466.5,236.4 L467.4,236.1 L468.2,238 L469.1,236.1 L469.9,236 L470.8,233.4 L471.6,235 L472.4,236.8 L473.3,236.5 L474.1,235 L475,235 L475.9,236.4 L476.7,238 L477.6,236.1 L478.4,237.4 L479.2,239.1 L480.1,239.5 L480.9,238.3 L481.8,236.4 L482.6,236.8 L483.5,240.7 L484.4,242.2 L485.2,244.3 L486.1,242.5 L486.9,240.6 L487.8,241.9 L488.6,241.5 L489.4,240.2 L490.3,238.5 L491.1,236.3 L492,234.4 L492.9,234.6 L493.7,233.7 L494.6,234.1 L495.4,235.9 L496.2,238.6 L497.1,242.5 L497.9,243.9 L498.8,243.7 L499.6,246.1 L500.5,242.7 L501.4,242.7 L502.2,243.6 L503.1,242.3 L503.9,245.6 L504.8,248.5 L505.6,247.3 L506.4,248.8 L507.3,249.3 L508.1,248.1 L509,249.8 L509.9,243.3 L510.7,248.2 L511.6,248.9 L512.4,247.6 L513.2,248.6 L514.1,249.5 L515,248 L515.8,247.1 L516.6,245.7 L517.5,251.3 L518.4,244.5 L519.2,247.6 L520,250.4 L520.9,251 L521.8,248.8 L522.6,247 L523.5,247.5 L524.3,247.3 L525.1,249.4 L526,249.2 L526.9,247.7 L527.7,246.7 L528.5,249.9 L529.4,250.1 L530.2,247.4 L531.1,250.2 L532,254.5 L532.8,249 L533.6,247.5 L534.5,248.2 L535.4,251 L536.2,250.5 L537,249.8 L537.9,249.5 L538.8,246.9 L539.6,250 L540.5,251 L541.3,251.9 L542.1,254.2 L543,253.4 L543.9,248.8 L544.7,247.4 L545.5,249.7 L546.4,251.4 L547.2,252.6 L548.1,253.4 L549,253.7 L549.8,250.8 L550.6,249.3 L551.5,254.9 L552.4,253.3 L553.2,250.5 L554,250.7 L554.9,253 L555.8,253.5 L556.6,253.1 L557.5,254 L558.3,258.5 L559.1,255.4 L560,257.2 L560.9,256.9 L561.7,255.9 L562.5,257 L563.4,259.3 L564.2,253.2 L565.1,260.3 L566,253.8 L566.8,255.1 L567.6,256.2 L568.5,257.8 L569.4,258 L570.2,256.8 L571,255.5 L571.9,255.9 L572.8,259 L573.6,259 L574.5,255.7 L575.3,258.5 L576.1,258.3 L577,257.4 L577.9,255.6 L578.7,254.3 L579.5,254.6 L580.4,257.6 L581.2,252.2 L582.1,255.9 L583,257.7 L583.8,254.2 L584.6,259 L585.5,261.2 L586.4,258.5 L587.2,256.2 L588,257.6 L588.9,257.6 L589.8,256.9 L590.6,257.2 L591.5,259 L592.3,261.7 L593.1,260.4 L594,259.1 L594.9,259.4 L595.7,258.7 L596.5,258.7 L597.4,260.1 L598.2,258.4 L599.1,257.3 L600,259.6 L600.8,258.1 L601.6,255.9 L602.5,257.9 L603.4,258.1 L604.2,257.3 L605,255.9 L605.9,256.9 L606.8,259 L607.6,260.2 L608.5,260.1 L609.3,259.3 L610.1,258.8 L611,258.4 L611.9,256.8 L612.7,255.5 L613.5,260 L614.4,258.9 L615.2,254 L616.1,248.6 L617,248 L617.8,244.8 L618.6,248 L619.5,252.9 L620.4,254.6 L621.2,256.2 L622,258.6 L622.9,258.7 L623.8,260.1 L624.6,261.3 L625.5,261.2 L626.3,260.4 L627.1,261 L628,262 L628.9,262.5 L629.7,262.1 L630.5,263.4 L631.4,263.7 L632.2,263.1 L633.1,263.8 L634,263.5 L634.8,263.3 L635.6,264.5 L636.5,263.5 L637.4,263.8 L638.2,262.4 L639,259.7 L639.9,261 L640.8,262.3 L641.6,263.3 L642.5,263.4 L643.3,263.8 L644.1,265.1 L645,261.2 L645.9,260.2 L646.7,263.6 L647.5,263.2 L648.4,264.2 L649.2,265.5 L650.1,267.6 L651,266.8 L651.8,261.4 L652.6,261.9 L653.5,262.7 L654.4,260.8 L655.2,262.2 L656,266.9"/>
</g>
<g fill="none" stroke="#222" stroke-width="1">
<path d="M29.6 18.5H337.5 M347.5 18.5H657 M29.6 267H337.5 M347.5 267H657 M29.6 18.5V267 M657 18.5V267"/>
<path d="M29.6 18.5v6.5 M29.6 267v-2.2 M37 18.5v3.5 M37 267v-2.2 M44.3 18.5v3.5 M44.3 267v-2.2 M51.7 18.5v3.5 M51.7 267v-2.2 M59 18.5v3.5 M59 267v-2.2 M66.4 18.5v3.5 M66.4 267v-2.2 M73.8 18.5v6.5 M73.8 267v-2.2 M81.1 18.5v3.5 M81.1 267v-2.2 M88.5 18.5v3.5 M88.5 267v-2.2 M95.8 18.5v3.5 M95.8 267v-2.2 M103.2 18.5v3.5 M103.2 267v-2.2 M110.5 18.5v3.5 M110.5 267v-2.2 M117.9 18.5v6.5 M117.9 267v-2.2 M125.3 18.5v3.5 M125.3 267v-2.2 M132.6 18.5v3.5 M132.6 267v-2.2 M140 18.5v3.5 M140 267v-2.2 M147.3 18.5v3.5 M147.3 267v-2.2 M154.7 18.5v3.5 M154.7 267v-2.2 M162 18.5v6.5 M162 267v-2.2 M169.4 18.5v3.5 M169.4 267v-2.2 M176.8 18.5v3.5 M176.8 267v-2.2 M184.1 18.5v3.5 M184.1 267v-2.2 M191.5 18.5v3.5 M191.5 267v-2.2 M198.8 18.5v3.5 M198.8 267v-2.2 M206.2 18.5v6.5 M206.2 267v-2.2 M213.6 18.5v3.5 M213.6 267v-2.2 M220.9 18.5v3.5 M220.9 267v-2.2 M228.3 18.5v3.5 M228.3 267v-2.2 M235.6 18.5v3.5 M235.6 267v-2.2 M243 18.5v3.5 M243 267v-2.2 M250.3 18.5v6.5 M250.3 267v-2.2 M257.7 18.5v3.5 M257.7 267v-2.2 M265.1 18.5v3.5 M265.1 267v-2.2 M272.4 18.5v3.5 M272.4 267v-2.2 M279.8 18.5v3.5 M279.8 267v-2.2 M287.1 18.5v3.5 M287.1 267v-2.2 M294.5 18.5v6.5 M294.5 267v-2.2 M301.9 18.5v3.5 M301.9 267v-2.2 M309.2 18.5v3.5 M309.2 267v-2.2 M316.6 18.5v3.5 M316.6 267v-2.2 M323.9 18.5v3.5 M323.9 267v-2.2 M331.3 18.5v3.5 M331.3 267v-2.2 M347.4 18.5v6.5 M347.4 267v-2.2 M354.5 18.5v3.5 M354.5 267v-2.2 M361.6 18.5v3.5 M361.6 267v-2.2 M368.7 18.5v3.5 M368.7 267v-2.2 M375.8 18.5v3.5 M375.8 267v-2.2 M382.9 18.5v3.5 M382.9 267v-2.2 M390 18.5v6.5 M390 267v-2.2 M397.2 18.5v3.5 M397.2 267v-2.2 M404.3 18.5v3.5 M404.3 267v-2.2 M411.4 18.5v3.5 M411.4 267v-2.2 M418.5 18.5v3.5 M418.5 267v-2.2 M425.6 18.5v3.5 M425.6 267v-2.2 M432.7 18.5v6.5 M432.7 267v-2.2 M439.8 18.5v3.5 M439.8 267v-2.2 M446.9 18.5v3.5 M446.9 267v-2.2 M454 18.5v3.5 M454 267v-2.2 M461.1 18.5v3.5 M461.1 267v-2.2 M468.2 18.5v3.5 M468.2 267v-2.2 M475.3 18.5v6.5 M475.3 267v-2.2 M482.5 18.5v3.5 M482.5 267v-2.2 M489.6 18.5v3.5 M489.6 267v-2.2 M496.7 18.5v3.5 M496.7 267v-2.2 M503.8 18.5v3.5 M503.8 267v-2.2 M510.9 18.5v3.5 M510.9 267v-2.2 M518 18.5v6.5 M518 267v-2.2 M525.1 18.5v3.5 M525.1 267v-2.2 M532.2 18.5v3.5 M532.2 267v-2.2 M539.3 18.5v3.5 M539.3 267v-2.2 M546.4 18.5v3.5 M546.4 267v-2.2 M553.5 18.5v3.5 M553.5 267v-2.2 M560.6 18.5v6.5 M560.6 267v-2.2 M567.8 18.5v3.5 M567.8 267v-2.2 M574.9 18.5v3.5 M574.9 267v-2.2 M582 18.5v3.5 M582 267v-2.2 M589.1 18.5v3.5 M589.1 267v-2.2 M596.2 18.5v3.5 M596.2 267v-2.2 M603.3 18.5v6.5 M603.3 267v-2.2 M610.4 18.5v3.5 M610.4 267v-2.2 M617.5 18.5v3.5 M617.5 267v-2.2 M624.6 18.5v3.5 M624.6 267v-2.2 M631.7 18.5v3.5 M631.7 267v-2.2 M638.8 18.5v3.5 M638.8 267v-2.2 M646 18.5v6.5 M646 267v-2.2 M653.1 18.5v3.5 M653.1 267v-2.2 M29.6 28h4 M29.6 36.5h7 M29.6 45h4 M29.6 53.6h4 M29.6 62.1h4 M29.6 70.7h4 M29.6 79.2h7 M29.6 87.7h4 M29.6 96.3h4 M29.6 104.8h4 M29.6 113.4h4 M29.6 121.9h7 M29.6 130.4h4 M29.6 139h4 M29.6 147.5h1.5 M29.6 156.1h1.5 M29.6 164.6h1.5 M29.6 173.1h1.5 M29.6 181.7h1.5 M29.6 190.2h1.5 M29.6 198.8h1.5 M29.6 207.3h1.5 M29.6 215.8h1.5 M29.6 224.4h1.5 M29.6 232.9h1.5 M29.6 241.5h1.5 M29.6 250h1.5 M29.6 258.5h1.5 M657 28.7h-4 M657 35.5h-7 M657 42.3h-4 M657 49.1h-4 M657 55.9h-4 M657 62.7h-4 M657 69.5h-7 M657 76.3h-4 M657 83.1h-4 M657 89.9h-4 M657 96.7h-4 M657 103.5h-7 M657 110.3h-4 M657 117.1h-4 M657 123.9h-4 M657 130.7h-4 M657 137.5h-7 M657 144.3h-1.5 M657 151.1h-1.5 M657 157.9h-1.5 M657 164.7h-1.5 M657 171.5h-1.5 M657 178.3h-1.5 M657 185.1h-1.5 M657 191.9h-1.5 M657 198.7h-1.5 M657 205.5h-1.5 M657 212.3h-1.5 M657 219.1h-1.5 M657 225.9h-1.5 M657 232.7h-1.5 M657 239.5h-1.5 M657 246.3h-1.5 M657 253.1h-1.5 M657 259.9h-1.5" stroke-width="0.9"/>
<path d="M333.8 26.4L342.6 10.4 M342.2 26.4L351 10.4 M333.8 277L342.6 261 M342.2 277L351 261" stroke-width="1.2"/>
</g>
<g font-size="9.8" text-anchor="middle" fill="#222">
<text x="31.3" y="278.8">1000</text>
<text x="73.2" y="278.8">900</text>
<text x="115.9" y="278.8">800</text>
<text x="157.2" y="278.8">700</text>
<text x="200.9" y="278.8">600</text>
<text x="243.7" y="278.8">500</text>
<text x="285.6" y="278.8">400</text>
<text x="389.4" y="278.8">−400</text>
<text x="432.2" y="278.8">−500</text>
<text x="475" y="278.8">−600</text>
<text x="517.3" y="278.8">−700</text>
<text x="560" y="278.8">−800</text>
<text x="603" y="278.8">−900</text>
<text x="644.8" y="278.8">−1000</text>
</g>
<text x="305.5" y="295.5" class="b" font-size="10.35">Wavenumber (cm<tspan font-size="7.5" dy="-4">−1</tspan><tspan dy="4">)</tspan></text>
<text x="13.7" y="323.6" class="b" font-size="14.5">b</text>
<text transform="translate(23 445.8) rotate(-90)" class="b" font-size="10" text-anchor="middle">Intensity (arb. units)</text>
<rect x="355.2" y="344.3" width="25.2" height="78" fill="none" stroke="#ff40d0" stroke-width="1.3"/>
<rect x="396" y="333.8" width="18.5" height="220.4" fill="none" stroke="#ff1a1a" stroke-width="1.3"/>
<rect x="382.7" y="430.9" width="11.9" height="117.3" fill="none" stroke="#2a7ac8" stroke-width="1.3"/>
<rect x="470.6" y="369.2" width="16.6" height="76.6" fill="none" stroke="#8040c0" stroke-width="1.3"/>
<rect x="489.6" y="385.2" width="23.9" height="171.5" fill="none" stroke="#f08a40" stroke-width="1.3"/>
<rect x="565.7" y="386.3" width="20.7" height="66.2" fill="none" stroke="#20b050" stroke-width="1.3"/>
<rect x="616.5" y="383.3" width="28.2" height="177.3" fill="none" stroke="#20b0f0" stroke-width="1.3"/>
<g clip-path="url(#cb)" fill="none" stroke="#0a0a0a" stroke-width="1.15" stroke-linejoin="round">
<path d="M30.8,449.9 L31.4,450.5 L32,451.7 L32.6,453.9 L33.2,450.9 L33.8,448.9 L34.4,449.4 L35,449.9 L35.6,449.1 L36.2,449.3 L36.8,449.2 L37.4,448.2 L38,447.3 L38.6,447.6 L39.2,448.3 L39.8,449.2 L40.4,448.9 L41,449 L41.6,449.9 L42.2,449.4 L42.8,448.1 L43.4,448.6 L44,449.6 L44.6,450.8 L45.2,450.4 L45.8,447.9 L46.4,447.3 L47,447.3 L47.6,447.6 L48.2,447.7 L48.8,447.6 L49.4,447.8 L50,448.1 L50.6,447.3 L51.2,446.7 L51.8,446.1 L52.4,446.4 L53,447.2 L53.6,448.4 L54.2,447.8 L54.8,446.6 L55.4,443.2 L56,441.8 L56.6,442.2 L57.2,441.6 L57.8,439.8 L58.4,439.1 L59,437.5 L59.6,435 L60.2,433.8 L60.8,433 L61.4,431 L62,430.4 L62.6,431 L63.2,432.4 L63.8,433.9 L64.4,435.8 L65,437.9 L65.6,439.9 L66.2,441.8 L66.8,443.5 L67.4,443.7 L68,443.7 L68.6,443.1 L69.2,444 L69.8,444.4 L70.4,443.6 L71,443.1 L71.6,442.9 L72.2,442.6 L72.8,442.3 L73.4,442.4 L74,442.5 L74.6,442.5 L75.2,441.7 L75.8,440.7 L76.4,443.3 L77,443.6 L77.6,443.2 L78.2,442.7 L78.8,442.2 L79.4,442.4 L80,442.8 L80.6,442.3 L81.2,442.1 L81.8,441.4 L82.4,439.7 L83,439.9 L83.6,440.8 L84.2,441.6 L84.8,442.1 L85.4,442.6 L86,442.9 L86.6,442.8 L87.2,442.4 L87.8,441.5 L88.4,439.9 L89,438.7 L89.6,438.1 L90.2,439.4 L90.8,440.7 L91.4,440.9 L92,441 L92.6,441.8 L93.2,441.5 L93.8,441.1 L94.4,440.9 L95,440.1 L95.6,438.7 L96.2,439.3 L96.8,439.9 L97.4,439.2 L98,438.5 L98.6,439.1 L99.2,439.1 L99.8,439.1 L100.4,438.7 L101,438.6 L101.6,438.9 L102.2,438.6 L102.8,438.6 L103.4,438.9 L104,438.9 L104.6,438.7 L105.2,438.1 L105.8,437.3 L106.4,437.1 L107,437.1 L107.6,439 L108.2,438.3 L108.8,437.5 L109.4,438.1 L110,438.2 L110.6,437.9 L111.2,437.5 L111.8,436.9 L112.4,436.1 L113,435.9 L113.6,435.9 L114.2,435.6 L114.8,435.2 L115.4,434.7 L116,433.8 L116.6,431.2 L117.2,430.2 L117.8,428.4 L118.4,425.5 L119,421.7 L119.6,417.4 L120.2,410.2 L120.8,403.7 L121.4,402.5 L122,405.7 L122.6,409.6 L123.2,415.3 L123.8,421.2 L124.4,425.1 L125,427.8 L125.6,430.4 L126.2,432.3 L126.8,433.7 L127.4,433.7 L128,433.6 L128.6,433.8 L129.2,433.9 L129.8,433.8 L130.4,433.2 L131,433.1 L131.6,433.8 L132.2,433.9 L132.8,433.4 L133.4,433 L134,432.7 L134.6,433.2 L135.2,433 L135.8,432.9 L136.4,433.4 L137,433.3 L137.6,432.8 L138.2,432.2 L138.8,432.1 L139.4,433.2 L140,433.5 L140.6,433.2 L141.2,433.3 L141.8,433.3 L142.4,432.9 L143,432.6 L143.6,432.1 L144.2,431.6 L144.8,431.3 L145.4,431.2 L146,431.4 L146.6,432.2 L147.2,431.6 L147.8,431.1 L148.4,430 L149,429.9 L149.6,430.8 L150.2,430 L150.8,429.6 L151.4,430.4 L152,430.7 L152.6,429.8 L153.2,429.3 L153.8,429.2 L154.4,429.8 L155,430.2 L155.6,429.9 L156.2,428.8 L156.8,428.4 L157.4,429.5 L158,430.5 L158.6,431.1 L159.2,429.9 L159.8,428 L160.4,429.4 L161,429.4 L161.6,427.8 L162.2,427.8 L162.8,427.9 L163.4,428 L164,428.1 L164.6,427.3 L165.2,427.3 L165.8,429.1 L166.4,428.7 L167,428.1 L167.6,427.5 L168.2,427.2 L168.8,427.4 L169.4,426.5 L170,426.5 L170.6,427 L171.2,428 L171.8,428.2 L172.4,427.1 L173,426.1 L173.6,427 L174.2,427.6 L174.8,427.9 L175.4,428.1 L176,428.3 L176.6,428.2 L177.2,427.2 L177.8,426 L178.4,425.3 L179,425.2 L179.6,425.8 L180.2,425.3 L180.8,424.9 L181.4,424.9 L182,425.1 L182.6,426 L183.2,426.3 L183.8,426.6 L184.4,425.8 L185,425 L185.6,424.6 L186.2,424.8 L186.8,425 L187.4,423.3 L188,422.5 L188.6,422.9 L189.2,421.9 L189.8,420.2 L190.4,420.1 L191,419.4 L191.6,415.9 L192.2,413.3 L192.8,411.7 L193.4,411.6 L194,412.4 L194.6,412.7 L195.2,415.4 L195.8,418.9 L196.4,420.5 L197,421.8 L197.6,420 L198.2,421.1 L198.8,422 L199.4,422.1 L200,421.6 L200.6,420 L201.2,421.4 L201.8,422.5 L202.4,422.7 L203,422.8 L203.6,422.2 L204.2,421.7 L204.8,421.5 L205.4,421.9 L206,422.3 L206.6,420.8 L207.2,420.6 L207.8,421.8 L208.4,422.3 L209,422.4 L209.6,420.7 L210.2,421.3 L210.8,422.2 L211.4,421.1 L212,419.2 L212.6,417.1 L213.2,416.3 L213.8,415 L214.4,411.7 L215,407 L215.6,402.4 L216.2,396.3 L216.8,389.1 L217.4,385.3 L218,384.4 L218.6,385 L219.2,389.9 L219.8,396.6 L220.4,401.8 L221,406.8 L221.6,410.8 L222.2,414.1 L222.8,416.6 L223.4,417.4 L224,417.4 L224.6,417.3 L225.2,416.9 L225.8,416.2 L226.4,417.2 L227,418.1 L227.6,417 L228.2,415.6 L228.8,413.6 L229.4,411.8 L230,409.1 L230.6,405.7 L231.2,404.3 L231.8,405 L232.4,407.3 L233,410.2 L233.6,413.2 L234.2,415.2 L234.8,416.3 L235.4,416.3 L236,416.9 L236.6,417.9 L237.2,418.5 L237.8,418.7 L238.4,418.2 L239,417.9 L239.6,418.2 L240.2,417.4 L240.8,416.5 L241.4,416.3 L242,416 L242.6,415.8 L243.2,415.3 L243.8,414.4 L244.4,414.1 L245,412.4 L245.2,411.5 L245.2,411.3 L245.3,411.1 L245.3,410.9 L245.4,410.7 L245.4,410.4 L245.5,410.2 L245.6,410 L245.6,409.8 L245.7,409.8 L245.7,409.8 L245.8,409.7 L245.8,409.7 L245.8,409.7 L245.9,409.6 L245.9,409.6 L246,409.5 L246.1,409.5 L246.1,409.4 L246.2,409.4 L246.2,409.3 L246.2,409.3 L246.3,409.2 L246.3,409.1 L246.4,409 L246.4,409 L246.5,408.9 L246.6,408.8 L246.6,408.7 L246.7,408.6 L246.7,408.5 L246.8,408.3 L246.8,408.1 L246.8,407.8 L246.9,407.5 L246.9,407.2 L247,406.9 L247.1,406.6 L247.1,406.2 L247.2,405.9 L247.2,405.5 L247.2,405.2 L247.3,404.8 L247.3,404.4 L247.4,404 L247.4,403.6 L247.5,403.2 L247.6,402.7 L247.6,402.3 L247.7,401.8 L247.7,401.4 L247.8,400.9 L247.8,400.4 L247.8,399.9 L247.9,399.3 L247.9,398.8 L248,398.2 L248.1,397.6 L248.1,397.2 L248.2,396.7 L248.2,396.1 L248.2,395.6 L248.3,395 L248.3,394.4 L248.4,393.7 L248.4,393 L248.5,392.2 L248.6,391.3 L248.6,390.3 L248.7,389.2 L248.7,387.9 L248.8,386.4 L248.8,384.8 L248.8,382.9 L248.9,380.6 L248.9,378 L249,375 L249.1,371.3 L249.1,366.9 L249.2,361.7 L249.2,355.4 L249.2,347.9 L249.3,338.8 L249.3,328 L249.4,315 L249.4,300 L249.5,300 L249.6,300 L249.6,300 L249.7,300 L249.7,300 L249.8,300 L249.8,300 L249.8,300 L249.9,300 L249.9,300 L250,300 L250.1,300 L250.1,300 L250.2,300 L250.2,300 L250.2,300 L250.3,300 L250.3,300 L250.4,300 L250.4,300 L250.5,300 L250.6,300 L250.6,300 L250.7,300 L250.7,300 L250.8,300 L250.8,300 L250.8,300 L250.9,300 L250.9,300 L251,300 L251.1,300 L251.1,300 L251.2,300 L251.2,300 L251.2,300 L251.3,300 L251.3,300 L251.4,300 L251.4,300 L251.5,300 L251.6,300 L251.6,300 L251.7,300 L251.7,300 L251.8,300 L251.8,300 L251.8,300 L251.9,300 L251.9,300 L252,300 L252.1,300 L252.1,300 L252.2,300 L252.2,300 L252.2,300 L252.3,300 L252.3,300 L252.4,300 L252.4,300 L252.5,300 L252.6,300 L252.6,300 L252.7,300 L252.7,300 L252.8,300 L252.8,300 L252.8,300 L252.9,300 L252.9,300 L253,314.4 L253.1,327.2 L253.1,338 L253.2,346.9 L253.2,354.3 L253.2,360.4 L253.3,365.5 L253.3,369.8 L253.4,373.3 L253.4,376.2 L253.5,378.7 L253.6,380.7 L253.6,382.5 L253.7,384 L253.7,385.2 L253.8,386.3 L253.8,387.2 L253.8,388 L253.9,388.8 L253.9,389.4 L254,390 L254.1,390.5 L254.1,391 L254.2,391.5 L254.2,391.9 L254.2,392.3 L254.3,392.6 L254.3,393 L254.4,393.3 L254.4,393.5 L254.5,393.8 L254.6,394 L254.6,394.3 L254.7,394.5 L254.7,394.7 L254.8,394.8 L254.8,395 L254.8,395.1 L254.9,395.3 L254.9,395.5 L255,395.7 L255.1,396 L255.1,396.2 L255.2,396.4 L255.2,396.6 L255.2,396.8 L255.3,397 L255.3,397.1 L255.4,397.3 L255.4,397.5 L255.5,397.6 L255.6,397.7 L255.6,397.9 L255.7,398 L255.7,398.1 L255.8,398.2 L255.8,398.3 L255.8,398.4 L255.9,398.6 L255.9,398.7 L256,398.8 L256.1,398.8 L256.1,398.9 L256.1,399 L256.2,399.1 L256.2,399.2 L256.3,399.2 L256.4,399.3 L256.4,399.4 L256.4,399.4 L256.5,399.5 L256.6,399.6 L256.6,399.6 L256.6,399.7 L256.7,399.7 L256.8,399.7 L256.8,399.7 L256.9,399.8 L256.9,399.8 L256.9,399.8 L257,399.8 L257.1,399.8 L257.1,399.8 L257.1,399.8 L257.6,399.9 L258.2,401.4 L258.8,403.3 L259.4,404.5 L260,405.3 L260.6,406.4 L261.2,407.7 L261.8,408.8 L262.4,408.7 L263,408.6 L263.6,408.9 L264.2,409.2 L264.8,409.6 L265.4,410.3 L266,410.5 L266.6,410.3 L267.2,410.2 L267.8,410.2 L268.4,410.4 L269,409.3 L269.6,407.8 L270.2,408.1 L270.8,408.5 L271.4,408.8 L272,408.6 L272.6,407.8 L273.2,407.5 L273.8,407.9 L274.4,409.2 L275,409.7 L275.6,409.8 L276.2,409.8 L276.8,409.8 L277.4,409.3 L278,408.8 L278.6,408.4 L279.2,408.3 L279.8,408.8 L280.4,407.7 L281,406.7 L281.6,406.7 L282.2,406.7 L282.8,406.7 L283.4,405.3 L284,403.7 L284.6,402.3 L285.2,400.7 L285.8,398.2 L286.4,394.6 L287,389.4 L287.6,382.5 L288.2,374.1 L288.8,365.2 L289.4,357 L290,350.7 L290.6,346.5 L291.2,346.8 L291.8,351.2 L292.4,357.4 L293,363 L293.6,368.4 L294.2,375.2 L294.8,382.6 L295.4,389.2 L296,394 L296.6,396.7 L297.2,397.9 L297.8,397.9 L298.4,396.3 L299,394.6 L299.6,393.6 L300.2,392.8 L300.8,392.4 L301.4,391.5 L302,391.9 L302.6,394.8 L303.2,396.8 L303.8,398.7 L304.4,400 L305,401.4 L305.6,403.4 L306.2,404.5 L306.8,405 L307.4,406.6 L308,407.1 L308.6,406.4 L309.2,407.4 L309.8,408.8 L310.4,408.6 L311,408.5 L311.6,406.7 L312.2,407.5 L312.8,409.2 L313.4,409.9 L314,409.5 L314.6,408.3 L315.2,408.3 L315.8,409 L316.4,406.7 L317,406.4 L317.6,407 L318.2,405.5 L318.8,404.1 L319.4,405 L320,405 L320.6,403.1 L321.2,401.8 L321.8,400.6 L322.4,400.7 L323,401.4 L323.6,401.1 L324.2,399.6 L324.8,395.8 L325.4,394 L326,392.3 L326.6,389.6 L327.2,387.1 L327.8,385.1 L328.4,384.4 L329,384.5 L329.6,385.4 L330.2,385 L330.8,385.1 L331.4,387.6 L332,389.9 L332.6,391.4 L333.2,392 L333.8,392.4 L334.4,395 L335,397.2 L335.6,398 L336.2,397.2 L336.8,395.9 L337.4,397.8 M347.5,363.6 L348.1,363.5 L348.7,363.7 L349.3,364.7 L349.9,364.7 L350.5,364.4 L351.1,363.7 L351.7,363.1 L352.3,363.5 L352.9,364.1 L353.5,364.9 L354.1,365.2 L354.7,365.2 L355.3,365.1 L355.9,366.7 L356.5,368 L357.1,366.7 L357.7,365.3 L358.3,365.6 L358.9,365.2 L359.5,363.8 L360.1,363.4 L360.7,363.1 L361.3,362.4 L361.9,361 L362.5,359.6 L363.1,358 L363.7,357.4 L364.3,358.4 L364.9,359.8 L365.5,361.4 L366.1,361.8 L366.7,362.5 L367.3,363.4 L367.9,369.2 L368.5,373.9 L369.1,374.2 L369.7,374.2 L370.3,374.3 L370.9,373.4 L371.5,372.7 L372.1,373.5 L372.7,374.9 L373.3,377.1 L373.9,376.3 L374.5,373.4 L375.1,375.4 L375.7,377 L376.3,378.1 L376.9,378.5 L377.5,378 L378.1,378.7 L378.7,378.2 L379.3,377.4 L379.9,377.6 L380.5,379.7 L381.1,377.5 L381.7,375 L382.3,374.4 L382.9,375.2 L383.5,376.1 L384.1,376.6 L384.7,376 L385.3,373.9 L385.9,374 L386.5,373.4 L387.1,371.1 L387.7,369.3 L388.3,368.1 L388.9,369.5 L389.5,370.7 L390.1,370.6 L390.7,371 L391.3,371.6 L391.9,371.4 L392.5,370.5 L393.1,370.3 L393.7,369.9 L394.3,369.8 L394.9,370 L395.5,369.7 L396.1,368.7 L396.7,366.4 L397.3,363 L397.9,357.4 L398.5,352 L399.1,348.6 L399.7,344.7 L400.3,342 L400.9,341.8 L401.5,343.7 L402.1,346.9 L402.7,350.5 L403.3,354.2 L403.9,358.6 L404.5,363.4 L405.1,367.5 L405.7,371.2 L406.3,374.4 L406.9,376.1 L407.5,377 L408.1,379.2 L408.7,380 L409.3,380.1 L409.9,379.3 L410.5,378.1 L411.1,380.2 L411.7,382.4 L412.3,381.8 L412.9,383 L413.5,384 L414.1,383.8 L414.7,383.4 L415.3,383.7 L415.9,384.2 L416.5,384.6 L417.1,384.7 L417.7,384.7 L418.3,384.3 L418.9,383.4 L419.5,382.3 L420.1,385.2 L420.7,386.5 L421.3,384 L421.9,382.7 L422.5,383.8 L423.1,384.4 L423.7,385 L424.3,384.8 L424.9,385.1 L425.5,385.5 L426.1,385.9 L426.7,386.4 L427.3,387 L427.9,386.9 L428.5,386.3 L429.1,388.3 L429.7,388.8 L430.3,385.1 L430.9,385.1 L431.5,385.9 L432.1,385.4 L432.7,384.9 L433.3,384.6 L433.9,384.6 L434.5,384.9 L435.1,385.5 L435.7,384.4 L436.1,382.9 L436.1,382.7 L436.2,382.5 L436.2,382.3 L436.3,382.1 L436.4,381.9 L436.4,381.6 L436.4,381.4 L436.5,381.2 L436.6,381 L436.6,380.9 L436.6,380.9 L436.7,380.8 L436.8,380.7 L436.8,380.6 L436.9,380.5 L436.9,380.4 L436.9,380.3 L437,380.1 L437.1,380 L437.1,379.9 L437.1,379.8 L437.2,379.7 L437.2,379.5 L437.3,379.4 L437.4,379.3 L437.4,379.2 L437.4,379 L437.5,378.9 L437.6,378.8 L437.6,378.7 L437.6,378.7 L437.7,378.7 L437.8,378.7 L437.8,378.7 L437.9,378.7 L437.9,378.7 L437.9,378.6 L438,378.8 L438.1,378.7 L438.1,378.7 L438.1,378.6 L438.2,378.5 L438.2,378.4 L438.3,378.3 L438.4,378.2 L438.4,377.9 L438.4,377.7 L438.5,377.5 L438.6,377.2 L438.6,377 L438.6,376.7 L438.7,376.4 L438.8,376.1 L438.8,375.8 L438.9,375.5 L438.9,375.2 L438.9,374.8 L439,374.5 L439.1,374.1 L439.1,373.7 L439.1,373.3 L439.2,372.8 L439.2,372.4 L439.3,371.9 L439.4,371.4 L439.4,370.8 L439.4,370.3 L439.5,369.8 L439.6,369.2 L439.6,368.5 L439.6,367.7 L439.7,366.9 L439.8,365.9 L439.8,364.7 L439.9,363.4 L439.9,361.7 L439.9,359.8 L440,357.4 L440.1,354.5 L440.1,350.9 L440.1,346.5 L440.2,341.1 L440.2,334.4 L440.3,326.2 L440.4,316 L440.4,303.6 L440.4,300 L440.5,300 L440.6,300 L440.6,300 L440.6,300 L440.7,300 L440.8,300 L440.8,300 L440.9,300 L440.9,300 L440.9,300 L441,300 L441.1,300 L441.1,300 L441.1,300 L441.2,300 L441.2,300 L441.3,300 L441.4,300 L441.4,300 L441.4,300 L441.5,300 L441.6,300 L441.6,300 L441.6,300 L441.7,300 L441.8,300 L441.8,300 L441.9,300 L441.9,300 L441.9,300 L442,300 L442.1,300 L442.1,300 L442.1,300 L442.2,300 L442.2,300 L442.3,300 L442.4,300 L442.4,300 L442.4,300 L442.5,300 L442.6,300 L442.6,300 L442.6,300 L442.7,300 L442.8,300 L442.8,300 L442.9,300 L442.9,300 L442.9,300 L443,300 L443.1,300 L443.1,300 L443.1,300 L443.2,300 L443.2,300 L443.3,300 L443.4,300 L443.4,300 L443.4,300 L443.5,300 L443.6,300 L443.6,300 L443.6,300 L443.7,300 L443.8,303.9 L443.8,318.3 L443.9,330.1 L443.9,339.8 L443.9,347.6 L444,353.9 L444.1,359 L444.1,363.1 L444.1,366.5 L444.2,369.1 L444.2,371.3 L444.3,373 L444.4,374.5 L444.4,375.6 L444.4,376.6 L444.5,377.5 L444.6,378.2 L444.6,378.8 L444.6,379.3 L444.7,379.8 L444.8,380.2 L444.8,380.6 L444.9,381 L444.9,381.3 L444.9,381.6 L445,381.9 L445.1,382.2 L445.1,382.5 L445.1,382.7 L445.2,383 L445.2,383.2 L445.3,383.4 L445.4,383.7 L445.4,383.9 L445.4,384.1 L445.5,384.2 L445.6,384.4 L445.6,384.5 L445.6,384.6 L445.7,384.7 L445.8,384.8 L445.8,384.9 L445.9,385 L445.9,385.1 L445.9,385.2 L446,385.3 L446.1,385.3 L446.1,385.4 L446.1,385.5 L446.2,385.5 L446.2,385.6 L446.3,385.7 L446.4,385.9 L446.4,386.1 L446.4,386.2 L446.5,386.4 L446.6,386.6 L446.6,386.7 L446.6,386.9 L446.7,387.1 L446.8,387.2 L446.8,387.4 L446.9,387.5 L446.9,387.7 L446.9,387.8 L447,388 L447.1,388.1 L447.1,388.2 L447.1,388.4 L447.2,388.5 L447.2,388.7 L447.3,388.8 L447.4,388.9 L447.4,389.1 L447.4,389.2 L447.5,389.3 L447.6,389.4 L447.6,389.6 L447.6,389.7 L447.7,389.8 L447.8,389.9 L447.8,390 L447.9,390 L447.9,390.1 L447.9,390.1 L448,390.2 L448.1,390.2 L448.3,390.5 L448.9,391.2 L449.5,391.7 L450.1,392.1 L450.7,392.9 L451.3,394.2 L451.9,394.3 L452.5,393.8 L453.1,394 L453.7,393.7 L454.3,392.8 L454.9,392.4 L455.5,392.2 L456.1,392.6 L456.7,393 L457.3,393.3 L457.9,393.2 L458.5,392.9 L459.1,393 L459.7,393.4 L460.3,394.2 L460.9,394.2 L461.5,394 L462.1,393.6 L462.7,393.4 L463.3,394.1 L463.9,394.3 L464.5,394.5 L465.1,395.1 L465.7,394.9 L466.3,394.3 L466.9,394.6 L467.5,395.3 L468.1,395.7 L468.7,395.8 L469.3,395.3 L469.9,394.4 L470.5,393.2 L471.1,392.3 L471.7,391.2 L472.3,389.6 L472.9,387.4 L473.5,384.8 L474.1,382.5 L474.7,380.5 L475.3,379.6 L475.9,380.2 L476.5,381.9 L477.1,386.4 L477.7,390.2 L478.3,392 L478.9,393.9 L479.5,395.5 L480.1,396.6 L480.7,397 L481.3,396.6 L481.9,397.3 L482.5,397.9 L483.1,398.6 L483.7,399.2 L484.3,400 L484.9,400 L485.5,399.6 L486.1,398 L486.7,397.3 L487.3,398.9 L487.9,400.2 L488.5,401 L489.1,401.6 L489.7,401.8 L490.3,401.6 L490.9,402.2 L491.5,403.1 L492.1,402.7 L492.7,402.1 L493.3,402 L493.9,401.7 L494.5,401 L495.1,399.9 L495.7,399.3 L496.3,400.9 L496.9,401.4 L497.5,401.4 L498.1,401.1 L498.7,401.1 L499.3,402.1 L499.9,402.5 L500.5,402.6 L501.1,401.9 L501.7,401.6 L502.3,401.7 L502.9,401.5 L503.5,401.4 L504.1,401.5 L504.7,401.4 L505.3,401.1 L505.9,401.2 L506.5,402.1 L507.1,400.5 L507.7,400.4 L508.3,401.4 L508.9,401.4 L509.5,400.8 L510.1,401.1 L510.7,401.8 L511.3,402.5 L511.9,402.8 L512.5,402.5 L513.1,402.4 L513.7,402.4 L514.3,402.6 L514.9,403.3 L515.5,404.2 L516.1,402.4 L516.7,402.4 L517.3,403.4 L517.9,403.3 L518.5,401.8 L519.1,402 L519.7,402.4 L520.3,402.9 L520.9,402.5 L521.5,401.9 L522.1,402.3 L522.7,402.7 L523.3,403 L523.9,403.1 L524.5,402.3 L525.1,402.8 L525.7,403.3 L526.3,403.4 L526.9,403.1 L527.5,402.7 L528.1,403 L528.7,404 L529.3,403.7 L529.9,404.4 L530.5,405.2 L531.1,403.8 L531.7,404.4 L532.3,405.8 L532.9,405.2 L533.5,404.2 L534.1,404.9 L534.7,406.3 L535.3,405.3 L535.9,405.1 L536.5,405.1 L537.1,405.3 L537.7,405.6 L538.3,405.7 L538.9,406 L539.5,406.3 L540.1,406.7 L540.7,406.2 L541.3,405 L541.9,404.1 L542.5,403.3 L543.1,402.4 L543.7,402.6 L544.3,403.7 L544.9,404.5 L545.5,404.9 L546.1,404.6 L546.7,404.2 L547.3,403.9 L547.9,403.5 L548.5,403.2 L549.1,402.8 L549.7,402.6 L550.3,402.9 L550.9,403.6 L551.5,404 L552.1,403.2 L552.7,403.1 L553.3,404.7 L553.9,405.3 L554.5,404.2 L555.1,404.7 L555.7,405.4 L556.3,405.2 L556.9,405.3 L557.5,405.6 L558.1,405.2 L558.7,405.1 L559.3,405.1 L559.9,405.4 L560.5,405.9 L561.1,405.6 L561.7,406 L562.3,407.9 L562.9,407.4 L563.5,405.8 L564.1,405.6 L564.7,405.4 L565.3,405.3 L565.9,404.9 L566.5,404.4 L567.1,403.4 L567.7,402.6 L568.3,403.8 L568.9,403.8 L569.5,403.2 L570.1,400.6 L570.7,398.9 L571.3,397.7 L571.9,395.2 L572.5,392.8 L573.1,392.5 L573.7,393.3 L574.3,395.1 L574.9,397.3 L575.5,399.7 L576.1,401.8 L576.7,403.5 L577.3,404.1 L577.9,405.1 L578.5,406.3 L579.1,405.9 L579.7,405.8 L580.3,406.4 L580.9,406.6 L581.5,406.8 L582.1,406.3 L582.7,405.9 L583.3,405.7 L583.9,406.3 L584.5,407.7 L585.1,407 L585.7,406.4 L586.3,406.7 L586.9,406.6 L587.5,406.7 L588.1,407.9 L588.7,408.5 L589.3,408.1 L589.9,407.3 L590.5,406.1 L591.1,408 L591.7,409.7 L592.3,410.7 L592.9,410.9 L593.5,411 L594.1,409.8 L594.7,409.2 L595.3,409.6 L595.9,409.7 L596.5,409.8 L597.1,409.9 L597.7,409.9 L598.3,409.1 L598.9,408.3 L599.5,407.6 L600.1,408.6 L600.7,409.8 L601.3,409.9 L601.9,409.3 L602.5,408.6 L603.1,408.9 L603.7,409.7 L604.3,410.2 L604.9,410.3 L605.5,410 L606.1,410.2 L606.7,410.4 L607.3,410.4 L607.9,410.3 L608.5,410.1 L609.1,409.5 L609.7,408.8 L610.3,408.1 L610.9,408.4 L611.5,409.5 L612.1,410 L612.7,410.3 L613.3,410.7 L613.9,410.5 L614.5,409.5 L615.1,409.9 L615.7,410.3 L616.3,411.5 L616.9,412.3 L617.5,412.5 L618.1,411.7 L618.7,411.1 L619.3,411.1 L619.9,410.1 L620.5,409.5 L621.1,410 L621.7,409.5 L622.3,408.7 L622.9,409 L623.5,409.4 L624.1,409.6 L624.7,409.6 L625.3,409.4 L625.9,408.7 L626.5,408 L627.1,408.4 L627.7,409 L628.3,409.2 L628.9,409 L629.5,408 L630.1,406.9 L630.7,405.7 L631.3,404.9 L631.9,403.5 L632.5,402.1 L633.1,401.1 L633.7,400.5 L634.3,399.7 L634.9,400.4 L635.5,402 L636.1,403.2 L636.7,404.4 L637.3,405.2 L637.9,405.9 L638.5,406.3 L639.1,407.5 L639.7,408.6 L640.3,408.3 L640.9,410.6 L641.5,411.7 L642.1,411 L642.7,410.4 L643.3,410.6 L643.9,410.8 L644.5,410.9 L645.1,412 L645.7,412.6 L646.3,411.1 L646.9,410.5 L647.5,410.8 L648.1,410.4 L648.7,410.5 L649.3,410.7 L649.9,410.8 L650.5,410.8 L651.1,411.3 L651.7,411.7 L652.3,409.5 L652.9,409.8 L653.5,410.5 L654.1,411.3 L654.7,412.1 L655.3,410.4 L655.9,410.3 L656.5,410.5 L657.1,410.1"/>
<path d="M30.8,477.8 L31.4,477.7 L32,477.3 L32.6,476.7 L33.2,477 L33.8,477.6 L34.4,476.3 L35,475.5 L35.6,475.2 L36.2,474.8 L36.8,474.3 L37.4,475.2 L38,475.2 L38.6,473.6 L39.2,473.2 L39.8,472.9 L40.4,473 L41,473.1 L41.6,474.4 L42.2,473.2 L42.8,472.7 L43.4,473.7 L44,474.1 L44.6,473 L45.2,471.9 L45.8,471 L46.4,471.4 L47,471.7 L47.6,473.3 L48.2,472.4 L48.8,470.9 L49.4,470.2 L50,470.2 L50.6,471.6 L51.2,471.9 L51.8,472.1 L52.4,471.8 L53,471.1 L53.6,470.2 L54.2,469.9 L54.8,469.7 L55.4,469.4 L56,469.1 L56.6,468.6 L57.2,467.9 L57.8,466 L58.4,462.7 L59,460.1 L59.6,458.1 L60.2,454.7 L60.8,451.4 L61.4,449.7 L62,449.7 L62.6,449.6 L63.2,450.8 L63.8,453.3 L64.4,456.5 L65,459.4 L65.6,460.7 L66.2,462.6 L66.8,464.9 L67.4,465 L68,465.1 L68.6,465.9 L69.2,466 L69.8,465.9 L70.4,465.8 L71,465.8 L71.6,466.3 L72.2,466.9 L72.8,467.6 L73.4,468.4 L74,468.9 L74.6,465.4 L75.2,464.8 L75.8,465 L76.4,464 L77,463.1 L77.6,462.3 L78.2,462.6 L78.8,463.4 L79.4,463.5 L80,463.6 L80.6,464.7 L81.2,466.1 L81.8,467.7 L82.4,466.7 L83,465.6 L83.6,467.3 L84.2,468.7 L84.8,469.1 L85.4,468.6 L86,468.2 L86.6,469.5 L87.2,469.7 L87.8,469.7 L88.4,469.5 L89,469.6 L89.6,470.9 L90.2,469.7 L90.8,468.3 L91.4,469.2 L92,469.8 L92.6,469.1 L93.2,468.4 L93.8,467.8 L94.4,467.8 L95,467.8 L95.6,467.4 L96.2,467.3 L96.8,467.8 L97.4,466.1 L98,464.9 L98.6,465.4 L99.2,465.3 L99.8,464.7 L100.4,465.4 L101,464.7 L101.6,462.3 L102.2,462.3 L102.8,462.1 L103.4,460.1 L104,457.7 L104.6,457.8 L105.2,457.3 L105.8,456.4 L106.4,456.6 L107,456.8 L107.6,457 L108.2,457 L108.8,457.1 L109.4,457.9 L110,459 L110.6,461.2 L111.2,461.7 L111.8,461.1 L112.4,460.2 L113,460.2 L113.6,460.8 L114.2,459.8 L114.8,458.2 L115.4,457.3 L116,455.8 L116.6,453.4 L117.2,451.1 L117.8,448.1 L118.4,443.1 L119,436.7 L119.6,428.6 L120.2,422.9 L120.8,422.2 L121.4,425.5 L122,431.6 L122.6,438.5 L123.2,443.2 L123.8,445.5 L124.4,451 L125,454.2 L125.6,456.1 L126.2,456.4 L126.8,455.9 L127.4,456.8 L128,458 L128.6,458 L129.2,458.4 L129.8,458.5 L130.4,457.8 L131,457.2 L131.6,457.7 L132.2,457.6 L132.8,457 L133.4,457.6 L134,457.5 L134.6,457.2 L135.2,457 L135.8,456.7 L136.4,456.1 L137,455.8 L137.6,458.5 L138.2,458.4 L138.8,458.2 L139.4,457.9 L140,457.5 L140.6,456.2 L141.2,455.8 L141.8,456 L142.4,457.3 L143,457.2 L143.6,456.7 L144.2,455.9 L144.8,454.7 L145.4,455.2 L146,455.4 L146.6,455.4 L147.2,455.2 L147.8,454.9 L148.4,454.5 L149,454.1 L149.6,455.8 L150.2,455.8 L150.8,455.3 L151.4,454.7 L152,454.1 L152.6,453.2 L153.2,452.8 L153.8,453.1 L154.4,453.3 L155,453.3 L155.6,453.4 L156.2,452.9 L156.8,451.5 L157.4,452 L158,451.9 L158.6,450.6 L159.2,449.6 L159.8,448.6 L160.4,446.9 L161,446.3 L161.6,447.2 L162.2,447.6 L162.8,448 L163.4,449 L164,449.9 L164.6,450.4 L165.2,451.1 L165.8,451.9 L166.4,451.3 L167,450.4 L167.6,449.6 L168.2,451 L168.8,452.6 L169.4,451.7 L170,450.6 L170.6,450.2 L171.2,450 L171.8,449.9 L172.4,449.2 L173,449.5 L173.6,450.5 L174.2,450.8 L174.8,450.8 L175.4,451.1 L176,451.4 L176.6,450.7 L177.2,450.3 L177.8,450 L178.4,450 L179,449.4 L179.6,448.2 L180.2,448 L180.8,447.9 L181.4,447.9 L182,448.1 L182.6,447.3 L183.2,447 L183.8,447.7 L184.4,447.4 L185,447 L185.6,447.5 L186.2,447 L186.8,446.2 L187.4,444.4 L188,443.7 L188.6,443.8 L189.2,443.2 L189.8,441.8 L190.4,437.8 L191,432.6 L191.6,429.5 L192.2,426.7 L192.8,425.3 L193.4,424.9 L194,426.8 L194.6,430.8 L195.2,434.9 L195.8,438.4 L196.4,440 L197,441.6 L197.6,444 L198.2,444.9 L198.8,445.5 L199.4,445 L200,444.7 L200.6,445.9 L201.2,446.7 L201.8,447.2 L202.4,446.6 L203,446 L203.6,446.4 L204.2,446.4 L204.8,446.2 L205.4,445.7 L206,445.2 L206.6,446.2 L207.2,445.8 L207.8,445.3 L208.4,444.5 L209,443.6 L209.6,444.5 L210.2,444.5 L210.8,444.2 L211.4,443.5 L212,442.4 L212.6,439.8 L213.2,438.6 L213.8,437 L214.4,434.8 L215,432.4 L215.6,428.4 L216.2,425.9 L216.8,424.7 L217.4,424.3 L218,425.3 L218.6,425.9 L219.2,428.6 L219.8,431.4 L220.4,433.8 L221,435.8 L221.6,438.6 L222.2,439.9 L222.8,440.3 L223.4,440.9 L224,441.4 L224.6,441.9 L225.2,442.1 L225.8,442.1 L226.4,442.3 L227,442.3 L227.6,442.1 L228.2,440.8 L228.8,439.7 L229.4,439.7 L230,439.5 L230.6,439.4 L231.2,439.3 L231.8,439.2 L232.4,439.4 L233,440.7 L233.6,443.1 L234.2,443.5 L234.8,443.1 L235.4,442.7 L236,442.5 L236.6,443.1 L237.2,443.5 L237.8,443.7 L238.4,443.1 L239,442.5 L239.6,440.8 L240.2,440.9 L240.8,441.8 L241.4,441.5 L242,441.2 L242.6,442.1 L243.2,440.8 L243.8,438.2 L244.4,438.9 L245,439.5 L245.2,438.7 L245.2,438.5 L245.3,438.3 L245.3,438.1 L245.4,437.8 L245.4,437.6 L245.5,437.4 L245.6,437.1 L245.6,436.9 L245.7,436.7 L245.7,436.4 L245.8,436.2 L245.8,435.9 L245.8,435.7 L245.9,435.6 L245.9,435.5 L246,435.4 L246.1,435.3 L246.1,435.2 L246.2,435.1 L246.2,435 L246.2,434.9 L246.3,434.8 L246.3,434.6 L246.4,434.5 L246.4,434.4 L246.5,434.2 L246.6,434.1 L246.6,434 L246.7,433.8 L246.7,433.6 L246.8,433.4 L246.8,433.1 L246.8,432.8 L246.9,432.5 L246.9,432.1 L247,431.8 L247.1,431.5 L247.1,431.1 L247.2,430.8 L247.2,430.4 L247.2,430 L247.3,429.6 L247.3,429.2 L247.4,428.8 L247.4,428.4 L247.5,428 L247.6,427.6 L247.6,427.1 L247.7,426.6 L247.7,426.2 L247.8,425.8 L247.8,425.4 L247.8,425 L247.9,424.5 L247.9,424 L248,423.5 L248.1,423 L248.1,422.5 L248.2,421.9 L248.2,421.3 L248.2,420.7 L248.3,420.1 L248.3,419.4 L248.4,418.6 L248.4,417.8 L248.5,417 L248.6,416.1 L248.6,415 L248.7,413.9 L248.7,412.7 L248.8,411.3 L248.8,409.7 L248.8,407.9 L248.9,405.7 L248.9,403.1 L249,400.1 L249.1,396.5 L249.1,392.2 L249.2,387 L249.2,380.8 L249.2,373.3 L249.3,364.3 L249.3,353.5 L249.4,340.5 L249.4,325.1 L249.5,306.8 L249.6,300 L249.6,300 L249.7,300 L249.7,300 L249.8,300 L249.8,300 L249.8,300 L249.9,300 L249.9,300 L250,300 L250.1,300 L250.1,300 L250.2,300 L250.2,300 L250.2,300 L250.3,300 L250.3,300 L250.4,300 L250.4,300 L250.5,300 L250.6,300 L250.6,300 L250.7,300 L250.7,300 L250.8,300 L250.8,300 L250.8,300 L250.9,300 L250.9,300 L251,300 L251.1,300 L251.1,300 L251.2,300 L251.2,300 L251.2,300 L251.3,300 L251.3,300 L251.4,300 L251.4,300 L251.5,300 L251.6,300 L251.6,300 L251.7,300 L251.7,300 L251.8,300 L251.8,300 L251.8,300 L251.9,300 L251.9,300 L252,300 L252.1,300 L252.1,300 L252.2,300 L252.2,300 L252.2,300 L252.3,300 L252.3,300 L252.4,300 L252.4,300 L252.5,300 L252.6,300 L252.6,300 L252.7,300 L252.7,300 L252.8,300 L252.8,300 L252.8,300 L252.9,302.9 L252.9,321.1 L253,336.4 L253.1,349.2 L253.1,359.9 L253.2,368.8 L253.2,376.3 L253.2,382.4 L253.3,387.5 L253.3,391.7 L253.4,395.2 L253.4,398.2 L253.5,400.6 L253.6,402.7 L253.6,404.4 L253.7,405.9 L253.7,407.2 L253.8,408.4 L253.8,409.4 L253.8,410.3 L253.9,411.1 L253.9,411.9 L254,412.6 L254.1,413.2 L254.1,413.8 L254.2,414.3 L254.2,414.9 L254.2,415.3 L254.3,415.8 L254.3,416.2 L254.4,416.6 L254.4,417 L254.5,417.4 L254.6,417.7 L254.6,418 L254.7,418.4 L254.7,418.6 L254.8,418.9 L254.8,419.1 L254.8,419.3 L254.9,419.5 L254.9,419.7 L255,419.9 L255.1,420 L255.1,420.2 L255.2,420.3 L255.2,420.5 L255.2,420.6 L255.3,420.7 L255.3,420.8 L255.4,420.9 L255.4,421 L255.5,421 L255.6,421.1 L255.6,421.2 L255.7,421.2 L255.7,421.3 L255.8,421.3 L255.8,421.4 L255.8,421.4 L255.9,421.4 L255.9,421.5 L256,421.5 L256.1,421.5 L256.1,421.5 L256.1,421.5 L256.2,421.5 L256.2,421.5 L256.3,421.5 L256.4,421.5 L256.4,421.5 L256.4,421.5 L256.5,421.5 L256.6,421.4 L256.6,421.4 L256.6,421.4 L256.7,421.4 L256.8,421.4 L256.8,421.4 L256.9,421.5 L256.9,421.5 L256.9,421.6 L257,421.6 L257.1,421.7 L257.1,421.7 L257.1,421.8 L257.6,422.4 L258.2,421.3 L258.8,420.9 L259.4,421.9 L260,423.4 L260.6,425.8 L261.2,428.1 L261.8,430.5 L262.4,431.1 L263,431.4 L263.6,432 L264.2,432.2 L264.8,431.9 L265.4,431 L266,430.6 L266.6,431.2 L267.2,430 L267.8,428.9 L268.4,430.2 L269,430.9 L269.6,431.4 L270.2,431.3 L270.8,429.8 L271.4,429.7 L272,429.6 L272.6,430.3 L273.2,431.3 L273.8,432.2 L274.4,432.4 L275,432.7 L275.6,433.5 L276.2,433.4 L276.8,432.3 L277.4,430.6 L278,429 L278.6,428.3 L279.2,428.7 L279.8,430.1 L280.4,430.3 L281,430.2 L281.6,428.2 L282.2,427.3 L282.8,427.3 L283.4,426.5 L284,425.3 L284.6,423.7 L285.2,421.1 L285.8,417.3 L286.4,412.6 L287,406.6 L287.6,399.3 L288.2,390.6 L288.8,380.9 L289.4,372.9 L290,367.4 L290.6,365.9 L291.2,367.2 L291.8,371.4 L292.4,379 L293,387.9 L293.6,397.5 L294.2,405.4 L294.8,411.2 L295.4,414.2 L296,416.3 L296.6,417.6 L297.2,417.1 L297.8,414.8 L298.4,413.2 L299,410.3 L299.6,406.7 L300.2,404.5 L300.8,404.2 L301.4,404.5 L302,406.4 L302.6,409.6 L303.2,413.8 L303.8,417.8 L304.4,420.9 L305,423.4 L305.6,424.3 L306.2,426.6 L306.8,428.6 L307.4,427.9 L308,428.6 L308.6,431 L309.2,432.1 L309.8,433.1 L310.4,432.2 L311,431.7 L311.6,431.9 L312.2,432 L312.8,432 L313.4,432.6 L314,432.8 L314.6,432.2 L315.2,432.5 L315.8,433.1 L316.4,432.6 L317,432.2 L317.6,432.1 L318.2,432.3 L318.8,432.6 L319.4,432.4 L320,431.6 L320.6,430.2 L321.2,431.4 L321.8,432.5 L322.4,430.8 L323,428.9 L323.6,427 L324.2,425.7 L324.8,426.4 L325.4,425 L326,423 L326.6,421.5 L327.2,419.9 L327.8,418.2 L328.4,415.3 L329,412.3 L329.6,409.1 L330.2,407.1 L330.8,407.7 L331.4,406.8 L332,406.5 L332.6,406.9 L333.2,407 L333.8,406.7 L334.4,407.9 L335,409.2 L335.6,410.4 L336.2,411.1 L336.8,411.3 L337.4,411.7 M347.5,402.8 L348.1,401.3 L348.7,399.9 L349.3,401.7 L349.9,401.9 L350.5,402 L351.1,403.1 L351.7,402.9 L352.3,401.8 L352.9,401.5 L353.5,402.3 L354.1,401.4 L354.7,400.8 L355.3,401.2 L355.9,400.4 L356.5,398.8 L357.1,395.1 L357.7,391.3 L358.3,388.1 L358.9,385.2 L359.5,383.2 L360.1,382.4 L360.7,383.1 L361.3,382.9 L361.9,387.4 L362.5,392.3 L363.1,395.6 L363.7,397.9 L364.3,403 L364.9,405.8 L365.5,406.9 L366.1,406.4 L366.7,406.3 L367.3,406.6 L367.9,408.9 L368.5,411.2 L369.1,410.2 L369.7,409.3 L370.3,409.5 L370.9,409.7 L371.5,409.1 L372.1,409.8 L372.7,410.7 L373.3,411.8 L373.9,412.4 L374.5,412.7 L375.1,412.1 L375.7,412.1 L376.3,414.7 L376.9,414.4 L377.5,413.4 L378.1,412.4 L378.7,411.7 L379.3,412.9 L379.9,413 L380.5,411.6 L381.1,411.4 L381.7,411.4 L382.3,409.9 L382.9,409.2 L383.5,409.6 L384.1,407.7 L384.7,406.3 L385.3,407.3 L385.9,406.7 L386.5,404.8 L387.1,405.8 L387.7,404.5 L388.3,402 L388.9,403.2 L389.5,404.9 L390.1,405.3 L390.7,405.7 L391.3,405.3 L391.9,405.2 L392.5,405.6 L393.1,403.4 L393.7,400.6 L394.3,402.9 L394.9,403 L395.5,402.1 L396.1,399.4 L396.7,395.2 L397.3,393.6 L397.9,391.2 L398.5,388.3 L399.1,385.2 L399.7,381.8 L400.3,378.4 L400.9,373.8 L401.5,370 L402.1,371.2 L402.7,374.1 L403.3,376.2 L403.9,379.2 L404.5,382.6 L405.1,388.9 L405.7,393 L406.3,395.8 L406.9,399.5 L407.5,403.3 L408.1,405.3 L408.7,406.4 L409.3,407.1 L409.9,409.3 L410.5,411.1 L411.1,411.8 L411.7,412.1 L412.3,412 L412.9,411.5 L413.5,411.4 L414.1,412.7 L414.7,414 L415.3,415.5 L415.9,415.7 L416.5,415.4 L417.1,416.8 L417.7,418.3 L418.3,417.2 L418.9,416.4 L419.5,416.5 L420.1,417 L420.7,416.6 L421.3,415.4 L421.9,415.4 L422.5,415.8 L423.1,415.4 L423.7,414.8 L424.3,412.6 L424.9,412.2 L425.5,412.5 L426.1,414.2 L426.7,414.6 L427.3,413.1 L427.9,412.9 L428.5,412.7 L429.1,411.6 L429.7,410.9 L430.3,411.9 L430.9,413.4 L431.5,415 L432.1,415.1 L432.7,415 L433.3,414.6 L433.9,415.4 L434.5,416.9 L435.1,415.3 L435.7,414.2 L436.1,413.7 L436.1,413.6 L436.2,413.6 L436.2,413.5 L436.3,413.4 L436.4,413.3 L436.4,413.3 L436.4,413.3 L436.5,413.3 L436.6,413.3 L436.6,413.4 L436.6,413.4 L436.7,413.4 L436.8,413.5 L436.8,413.5 L436.9,413.5 L436.9,413.5 L436.9,413.5 L437,413.5 L437.1,413.6 L437.1,413.6 L437.1,413.6 L437.2,413.6 L437.2,413.6 L437.3,413.6 L437.4,413.6 L437.4,413.5 L437.4,413.5 L437.5,413.5 L437.6,413.3 L437.6,413 L437.6,412.8 L437.7,412.5 L437.8,412.2 L437.8,411.9 L437.9,411.6 L437.9,411.3 L437.9,410.9 L438,410.6 L438.1,410.3 L438.1,410.1 L438.1,409.8 L438.2,409.5 L438.2,409.2 L438.3,408.8 L438.4,408.5 L438.4,408.2 L438.4,407.8 L438.5,407.5 L438.6,407.1 L438.6,406.7 L438.6,406.4 L438.7,406.3 L438.8,406.2 L438.8,406.1 L438.9,406 L438.9,405.8 L438.9,405.7 L439,405.5 L439.1,405.3 L439.1,405.2 L439.1,404.9 L439.2,404.7 L439.2,404.4 L439.3,403.9 L439.4,403.3 L439.4,402.7 L439.4,402.1 L439.5,401.4 L439.6,400.7 L439.6,399.8 L439.6,398.9 L439.7,397.9 L439.8,396.8 L439.8,395.5 L439.9,394 L439.9,392.2 L439.9,390.1 L440,387.6 L440.1,384.5 L440.1,380.8 L440.1,376.3 L440.2,370.7 L440.2,363.9 L440.3,355.6 L440.4,345.4 L440.4,333 L440.4,317.9 L440.5,300 L440.6,300 L440.6,300 L440.6,300 L440.7,300 L440.8,300 L440.8,300 L440.9,300 L440.9,300 L440.9,300 L441,300 L441.1,300 L441.1,300 L441.1,300 L441.2,300 L441.2,300 L441.3,300 L441.4,300 L441.4,300 L441.4,300 L441.5,300 L441.6,300 L441.6,300 L441.6,300 L441.7,300 L441.8,300 L441.8,300 L441.9,300 L441.9,300 L441.9,300 L442,300 L442.1,300 L442.1,300 L442.1,300 L442.2,300 L442.2,300 L442.3,300 L442.4,300 L442.4,300 L442.4,300 L442.5,300 L442.6,300 L442.6,300 L442.6,300 L442.7,300 L442.8,300 L442.8,300 L442.9,300 L442.9,300 L442.9,300 L443,300 L443.1,300 L443.1,300 L443.1,300 L443.2,300 L443.2,300 L443.3,300 L443.4,300 L443.4,300 L443.4,300 L443.5,300 L443.6,300 L443.6,300 L443.6,300 L443.7,319.1 L443.8,336.6 L443.8,351.1 L443.9,362.9 L443.9,372.5 L443.9,380.3 L444,386.6 L444.1,391.7 L444.1,395.8 L444.1,399.1 L444.2,401.7 L444.2,403.9 L444.3,405.6 L444.4,407 L444.4,408.2 L444.4,409.2 L444.5,410 L444.6,410.8 L444.6,411.4 L444.6,412 L444.7,412.5 L444.8,412.9 L444.8,413.4 L444.9,413.8 L444.9,414.2 L444.9,414.5 L445,414.8 L445.1,415.2 L445.1,415.5 L445.1,415.8 L445.2,416.1 L445.2,416.3 L445.3,416.6 L445.4,416.9 L445.4,417.1 L445.4,417.4 L445.5,417.6 L445.6,417.8 L445.6,418 L445.6,418.2 L445.7,418.4 L445.8,418.6 L445.8,418.8 L445.9,418.9 L445.9,419.1 L445.9,419.3 L446,419.4 L446.1,419.6 L446.1,419.7 L446.1,419.9 L446.2,420 L446.2,420.1 L446.3,420.3 L446.4,420.4 L446.4,420.5 L446.4,420.7 L446.5,420.8 L446.6,420.9 L446.6,421.1 L446.6,421.3 L446.7,421.5 L446.8,421.6 L446.8,421.8 L446.9,422 L446.9,422.2 L446.9,422.4 L447,422.6 L447.1,422.7 L447.1,422.9 L447.1,423.1 L447.2,423.2 L447.2,423.4 L447.3,423.6 L447.4,423.7 L447.4,423.8 L447.4,423.8 L447.5,423.9 L447.6,424 L447.6,424.1 L447.6,424.2 L447.7,424.3 L447.8,424.4 L447.8,424.4 L447.9,424.5 L447.9,424.6 L447.9,424.7 L448,424.7 L448.1,424.8 L448.3,425.2 L448.9,425.6 L449.5,425.6 L450.1,426.1 L450.7,426.3 L451.3,426.3 L451.9,426.4 L452.5,426.5 L453.1,428 L453.7,429.3 L454.3,429.4 L454.9,430.2 L455.5,431 L456.1,429.4 L456.7,430.3 L457.3,433.2 L457.9,431.8 L458.5,430.2 L459.1,431.3 L459.7,432.1 L460.3,432.6 L460.9,432.1 L461.5,430.5 L462.1,431.1 L462.7,431 L463.3,430.2 L463.9,430.2 L464.5,430.4 L465.1,430.5 L465.7,431 L466.3,432.3 L466.9,433.1 L467.5,433.4 L468.1,433.2 L468.7,433.4 L469.3,434.4 L469.9,435 L470.5,435 L471.1,434.3 L471.7,432.9 L472.3,431.8 L472.9,430.4 L473.5,428.6 L474.1,425.9 L474.7,423.1 L475.3,422 L475.9,420.9 L476.5,420.5 L477.1,421.8 L477.7,423.8 L478.3,426.4 L478.9,429.1 L479.5,431.6 L480.1,432.6 L480.7,433.6 L481.3,434.7 L481.9,435.5 L482.5,435.7 L483.1,436.5 L483.7,437.2 L484.3,437.1 L484.9,435.9 L485.5,434.5 L486.1,435.2 L486.7,435.9 L487.3,436.7 L487.9,436.4 L488.5,436.2 L489.1,437.1 L489.7,437.8 L490.3,437.7 L490.9,437.8 L491.5,438 L492.1,437.6 L492.7,437.2 L493.3,437.2 L493.9,437 L494.5,436.5 L495.1,434.8 L495.7,433.1 L496.3,432.2 L496.9,430.9 L497.5,429.6 L498.1,429 L498.7,428.7 L499.3,427.3 L499.9,427.3 L500.5,428.8 L501.1,430.5 L501.7,432.3 L502.3,433.5 L502.9,434.5 L503.5,435.4 L504.1,436.9 L504.7,438 L505.3,437.4 L505.9,438 L506.5,439.2 L507.1,438.8 L507.7,438 L508.3,437.9 L508.9,437.8 L509.5,437.6 L510.1,437.8 L510.7,438.2 L511.3,438.5 L511.9,439.6 L512.5,440.7 L513.1,441.4 L513.7,440.5 L514.3,438.9 L514.9,438.7 L515.5,439.4 L516.1,439.8 L516.7,439.6 L517.3,438.8 L517.9,438.3 L518.5,438.4 L519.1,438.5 L519.7,437.9 L520.3,436.8 L520.9,437.6 L521.5,439.1 L522.1,439.3 L522.7,438.9 L523.3,438.9 L523.9,439.1 L524.5,439.3 L525.1,439.5 L525.7,439.9 L526.3,441.5 L526.9,441.1 L527.5,440.1 L528.1,440.4 L528.7,440.5 L529.3,439.2 L529.9,439.6 L530.5,439.9 L531.1,439.7 L531.7,439.3 L532.3,439.5 L532.9,439.3 L533.5,439.1 L534.1,439.3 L534.7,440 L535.3,440.9 L535.9,441.2 L536.5,441.5 L537.1,441.3 L537.7,441.2 L538.3,440.1 L538.9,440.6 L539.5,441 L540.1,439.3 L540.7,439.2 L541.3,441.6 L541.9,441.4 L542.5,441 L543.1,441 L543.7,441.4 L544.3,441.8 L544.9,441.7 L545.5,440.5 L546.1,441.4 L546.7,442 L547.3,441.3 L547.9,441.3 L548.5,442 L549.1,441.8 L549.7,441.4 L550.3,441.8 L550.9,442.4 L551.5,442.6 L552.1,441.2 L552.7,440.7 L553.3,440.6 L553.9,440.6 L554.5,440.7 L555.1,441.3 L555.7,442 L556.3,443.5 L556.9,443.8 L557.5,441.5 L558.1,440.6 L558.7,440.9 L559.3,441.8 L559.9,441.1 L560.5,440.4 L561.1,440.7 L561.7,441 L562.3,441.1 L562.9,440.8 L563.5,439.9 L564.1,440.2 L564.7,440.4 L565.3,440 L565.9,440.4 L566.5,442 L567.1,441.7 L567.7,441.5 L568.3,442.7 L568.9,441.8 L569.5,440.5 L570.1,437.4 L570.7,434.9 L571.3,432.7 L571.9,430.3 L572.5,428.3 L573.1,427.5 L573.7,427.5 L574.3,427.2 L574.9,430.3 L575.5,433.5 L576.1,437.1 L576.7,439.2 L577.3,439.4 L577.9,440.4 L578.5,441.2 L579.1,441.6 L579.7,441.6 L580.3,440.9 L580.9,442 L581.5,443 L582.1,442.8 L582.7,442.7 L583.3,442.8 L583.9,443.1 L584.5,443.5 L585.1,443.5 L585.7,442.5 L586.3,440.4 L586.9,441.1 L587.5,441.4 L588.1,440.5 L588.7,440 L589.3,441 L589.9,441.2 L590.5,441.4 L591.1,441.7 L591.7,442.1 L592.3,443.7 L592.9,443.7 L593.5,443.2 L594.1,443.1 L594.7,443.1 L595.3,443.1 L595.9,443.4 L596.5,443.7 L597.1,443.8 L597.7,443 L598.3,441.6 L598.9,442.4 L599.5,443.2 L600.1,443.5 L600.7,443.7 L601.3,444.3 L601.9,444.8 L602.5,444.8 L603.1,443.7 L603.7,442.5 L604.3,444.4 L604.9,444.8 L605.5,443.8 L606.1,443.7 L606.7,443.6 L607.3,442.9 L607.9,442.9 L608.5,443.3 L609.1,444.4 L609.7,444.5 L610.3,443.7 L610.9,443.5 L611.5,443.6 L612.1,444.4 L612.7,445.1 L613.3,445.6 L613.9,444.4 L614.5,443 L615.1,443.2 L615.7,444 L616.3,444.2 L616.9,445 L617.5,446.1 L618.1,446.7 L618.7,446.6 L619.3,444.6 L619.9,444.5 L620.5,444.7 L621.1,445 L621.7,445.3 L622.3,445.5 L622.9,444.9 L623.5,444.2 L624.1,444.8 L624.7,445.1 L625.3,444 L625.9,443 L626.5,442 L627.1,442.6 L627.7,443.3 L628.3,443.7 L628.9,443.5 L629.5,443 L630.1,440.9 L630.7,437.7 L631.3,436.6 L631.9,435.9 L632.5,435.5 L633.1,433.2 L633.7,431.9 L634.3,435.4 L634.9,437.1 L635.5,438.9 L636.1,438.8 L636.7,438.9 L637.3,442.7 L637.9,444.6 L638.5,445.2 L639.1,446.5 L639.7,447.8 L640.3,447.4 L640.9,447.1 L641.5,446.9 L642.1,447.1 L642.7,447.4 L643.3,447.7 L643.9,447.8 L644.5,447.3 L645.1,447.2 L645.7,447 L646.3,446.3 L646.9,447.2 L647.5,448.2 L648.1,448.2 L648.7,448.4 L649.3,449.6 L649.9,449.6 L650.5,448.5 L651.1,448.6 L651.7,448.5 L652.3,448.2 L652.9,448.9 L653.5,449.6 L654.1,449.5 L654.7,449.1 L655.3,448.9 L655.9,449.5 L656.5,451.3 L657.1,451.6"/>
<path d="M30.8,503.9 L31.4,504.1 L32,504.3 L32.6,504.4 L33.2,504.2 L33.8,503.8 L34.4,504.2 L35,504.6 L35.6,505.1 L36.2,504.9 L36.8,504.7 L37.4,504.5 L38,504.2 L38.6,503.5 L39.2,503.1 L39.8,503.2 L40.4,503.1 L41,503.5 L41.6,504.3 L42.2,504.8 L42.8,504.9 L43.4,504.4 L44,503.9 L44.6,504.7 L45.2,504.1 L45.8,503 L46.4,502.8 L47,502.6 L47.6,501.9 L48.2,502.1 L48.8,502.9 L49.4,502.5 L50,502.3 L50.6,502.5 L51.2,502.7 L51.8,502.7 L52.4,502.2 L53,501.8 L53.6,501.2 L54.2,501 L54.8,501.7 L55.4,501.6 L56,501.5 L56.6,501.4 L57.2,501.6 L57.8,501.8 L58.4,501.2 L59,500.8 L59.6,500.7 L60.2,501.2 L60.8,502.2 L61.4,502.1 L62,501.6 L62.6,500.5 L63.2,499.6 L63.8,498.7 L64.4,498.4 L65,497.7 L65.6,496.9 L66.2,495.6 L66.8,494 L67.4,492.9 L68,492.5 L68.6,490.3 L69.2,492 L69.8,494 L70.4,495.6 L71,497.2 L71.6,498.5 L72.2,498.7 L72.8,498.7 L73.4,498.4 L74,499 L74.6,500.2 L75.2,500 L75.8,499.5 L76.4,499.9 L77,500.5 L77.6,498.9 L78.2,499.4 L78.8,499.8 L79.4,500 L80,499.9 L80.6,498.2 L81.2,497.4 L81.8,497.5 L82.4,498.5 L83,498.8 L83.6,498.2 L84.2,497.1 L84.8,495.5 L85.4,496.2 L86,496.9 L86.6,496.8 L87.2,497.3 L87.8,498 L88.4,499.4 L89,499.4 L89.6,498.3 L90.2,498.6 L90.8,500 L91.4,498.8 L92,497.5 L92.6,497 L93.2,497.2 L93.8,498.4 L94.4,498.3 L95,498.1 L95.6,498.4 L96.2,498.5 L96.8,498.7 L97.4,498.3 L98,497.7 L98.6,497.6 L99.2,495.8 L99.8,494.8 L100.4,495.2 L101,495.6 L101.6,496.2 L102.2,496.1 L102.8,495.9 L103.4,496.1 L104,496 L104.6,495.2 L105.2,495.3 L105.8,496.1 L106.4,496.9 L107,496.6 L107.6,495.7 L108.2,495.5 L108.8,495.5 L109.4,495.3 L110,495.1 L110.6,495.2 L111.2,494.9 L111.8,494.3 L112.4,494 L113,493.9 L113.6,494.4 L114.2,494.7 L114.8,494.8 L115.4,494.1 L116,493.6 L116.6,494.6 L117.2,494.9 L117.8,494.6 L118.4,494.5 L119,494.2 L119.6,493.7 L120.2,493.7 L120.8,494.2 L121.4,494.3 L122,493.9 L122.6,493.1 L123.2,493.4 L123.8,494 L124.4,494.2 L125,494.4 L125.6,494.4 L126.2,493.6 L126.8,492.6 L127.4,492.4 L128,492.6 L128.6,493.1 L129.2,492.9 L129.8,492.3 L130.4,493.4 L131,494.6 L131.6,491.8 L132.2,491.6 L132.8,491.4 L133.4,492 L134,492.3 L134.6,491.6 L135.2,490.6 L135.8,489.6 L136.4,490.4 L137,491.3 L137.6,490.7 L138.2,490.5 L138.8,490.7 L139.4,490.1 L140,489.6 L140.6,489.9 L141.2,490.2 L141.8,490.5 L142.4,490.6 L143,490.4 L143.6,489.7 L144.2,489.7 L144.8,490 L145.4,489.9 L146,490.1 L146.6,490.9 L147.2,490.8 L147.8,490.6 L148.4,489.9 L149,489.5 L149.6,490.4 L150.2,490.5 L150.8,489.6 L151.4,489.8 L152,489.6 L152.6,488.7 L153.2,489.1 L153.8,489.5 L154.4,489.2 L155,489 L155.6,489 L156.2,489.1 L156.8,489.2 L157.4,489.1 L158,489 L158.6,488.8 L159.2,488.6 L159.8,488.6 L160.4,487.6 L161,487.4 L161.6,487.9 L162.2,487.2 L162.8,485.9 L163.4,485.4 L164,485.3 L164.6,486.6 L165.2,486.8 L165.8,487 L166.4,487.8 L167,488.5 L167.6,488 L168.2,488 L168.8,488.3 L169.4,487.7 L170,487.1 L170.6,487.4 L171.2,487.5 L171.8,487.6 L172.4,486.9 L173,486.3 L173.6,485.8 L174.2,485.3 L174.8,484.9 L175.4,484.5 L176,484 L176.6,484 L177.2,483.9 L177.8,483.7 L178.4,484.6 L179,485.5 L179.6,485 L180.2,484.6 L180.8,484.3 L181.4,484.9 L182,484.8 L182.6,484.2 L183.2,484.7 L183.8,485.5 L184.4,485.6 L185,485.5 L185.6,484.2 L186.2,483 L186.8,481.9 L187.4,481.2 L188,481.6 L188.6,483.5 L189.2,483.3 L189.8,482.4 L190.4,481.6 L191,481 L191.6,482.2 L192.2,482.2 L192.8,480.3 L193.4,479.3 L194,478.7 L194.6,477.1 L195.2,475 L195.8,473 L196.4,471.3 L197,471.6 L197.6,475.2 L198.2,476.4 L198.8,477.1 L199.4,479 L200,480 L200.6,480.5 L201.2,480.3 L201.8,479.5 L202.4,479.9 L203,480.3 L203.6,480.6 L204.2,480.8 L204.8,481 L205.4,480.1 L206,479.3 L206.6,479.9 L207.2,479.6 L207.8,479.3 L208.4,479.9 L209,479.3 L209.6,477.5 L210.2,478.8 L210.8,480.4 L211.4,479.4 L212,478.9 L212.6,478.7 L213.2,477.6 L213.8,476.4 L214.4,477.1 L215,477.8 L215.6,478.7 L216.2,479.5 L216.8,480.4 L217.4,479.2 L218,477.7 L218.6,477.7 L219.2,478.1 L219.8,478.6 L220.4,478.7 L221,478.6 L221.6,477.8 L222.2,478.1 L222.8,478.3 L223.4,478.3 L224,478.4 L224.6,478.9 L225.2,479 L225.8,478.9 L226.4,479.4 L227,479.1 L227.6,478.5 L228.2,478 L228.8,477.7 L229.4,477 L230,476.8 L230.6,476.9 L231.2,476.1 L231.8,474.7 L232.4,475.8 L233,477.1 L233.6,475.2 L234.2,475.7 L234.8,475.9 L235.4,474.4 L236,474.4 L236.6,475.3 L237.2,475.2 L237.8,474.8 L238.4,474.1 L239,473.6 L239.6,473.1 L240.2,472.7 L240.8,472.3 L241.4,473.1 L242,474.1 L242.6,473.3 L243.2,472.3 L243.8,471.1 L244.4,470.5 L245,469.3 L245.2,468.8 L245.2,468.7 L245.3,468.6 L245.3,468.4 L245.4,468.3 L245.4,468.2 L245.5,468 L245.6,467.9 L245.6,467.7 L245.7,467.6 L245.7,467.4 L245.8,467.2 L245.8,467.1 L245.8,466.9 L245.9,466.7 L245.9,466.6 L246,466.4 L246.1,466.2 L246.1,466 L246.2,465.8 L246.2,465.6 L246.2,465.4 L246.3,465.2 L246.3,465 L246.4,464.8 L246.4,464.6 L246.5,464.4 L246.6,464.2 L246.6,463.9 L246.7,463.7 L246.7,463.5 L246.8,463.2 L246.8,463 L246.8,462.7 L246.9,462.5 L246.9,462.2 L247,462 L247.1,461.7 L247.1,461.4 L247.2,461.2 L247.2,460.9 L247.2,460.6 L247.3,460.3 L247.3,459.9 L247.4,459.6 L247.4,459.3 L247.5,458.9 L247.6,458.5 L247.6,458.2 L247.7,457.8 L247.7,457.4 L247.8,457 L247.8,456.5 L247.8,456.1 L247.9,455.6 L247.9,455.2 L248,454.8 L248.1,454.3 L248.1,453.9 L248.2,453.4 L248.2,452.8 L248.2,452.3 L248.3,451.7 L248.3,451.1 L248.4,450.4 L248.4,449.7 L248.5,448.9 L248.6,448 L248.6,447.1 L248.7,446 L248.7,444.7 L248.8,443.3 L248.8,441.7 L248.8,439.8 L248.9,437.6 L248.9,435.1 L249,432 L249.1,428.4 L249.1,424.1 L249.2,418.9 L249.2,412.6 L249.2,405.1 L249.3,396.1 L249.3,385.3 L249.4,372.3 L249.4,356.9 L249.5,338.6 L249.6,316.9 L249.6,300 L249.7,300 L249.7,300 L249.8,300 L249.8,300 L249.8,300 L249.9,300 L249.9,300 L250,300 L250.1,300 L250.1,300 L250.2,300 L250.2,300 L250.2,300 L250.3,300 L250.3,300 L250.4,300 L250.4,300 L250.5,300 L250.6,300 L250.6,300 L250.7,300 L250.7,300 L250.8,300 L250.8,300 L250.8,300 L250.9,300 L250.9,300 L251,300 L251.1,300 L251.1,300 L251.2,300 L251.2,300 L251.2,300 L251.3,300 L251.3,300 L251.4,300 L251.4,300 L251.5,300 L251.6,300 L251.6,300 L251.7,300 L251.7,300 L251.8,300 L251.8,300 L251.8,300 L251.9,300 L251.9,300 L252,300 L252.1,300 L252.1,300 L252.2,300 L252.2,300 L252.2,300 L252.3,300 L252.3,300 L252.4,300 L252.4,300 L252.5,300 L252.6,300 L252.6,300 L252.7,300 L252.7,300 L252.8,300 L252.8,300 L252.8,315.9 L252.9,337.5 L252.9,355.7 L253,371.1 L253.1,384 L253.1,394.7 L253.2,403.7 L253.2,411.1 L253.2,417.3 L253.3,422.5 L253.3,426.7 L253.4,430.3 L253.4,433.3 L253.5,435.7 L253.6,437.9 L253.6,439.7 L253.7,441.2 L253.7,442.5 L253.8,443.6 L253.8,444.6 L253.8,445.5 L253.9,446.3 L253.9,447 L254,447.7 L254.1,448.3 L254.1,448.9 L254.2,449.4 L254.2,449.9 L254.2,450.4 L254.3,450.8 L254.3,451.2 L254.4,451.6 L254.4,452 L254.5,452.3 L254.6,452.6 L254.6,452.9 L254.7,453.2 L254.7,453.5 L254.8,453.7 L254.8,454 L254.8,454.2 L254.9,454.4 L254.9,454.6 L255,454.9 L255.1,455.2 L255.1,455.6 L255.2,455.9 L255.2,456.2 L255.2,456.4 L255.3,456.7 L255.3,457 L255.4,457.2 L255.4,457.5 L255.5,457.7 L255.6,458 L255.6,458.2 L255.7,458.4 L255.7,458.6 L255.8,458.8 L255.8,459 L255.8,459.1 L255.9,459.2 L255.9,459.3 L256,459.4 L256.1,459.5 L256.1,459.6 L256.1,459.7 L256.2,459.8 L256.2,459.8 L256.3,459.9 L256.4,459.9 L256.4,460 L256.4,460 L256.5,460.1 L256.6,460.1 L256.6,460.1 L256.6,460.1 L256.7,460.2 L256.8,460.2 L256.8,460.2 L256.9,460.2 L256.9,460.2 L256.9,460.2 L257,460.1 L257.1,460 L257.1,459.9 L257.1,459.8 L257.6,458.8 L258.2,457.4 L258.8,456.2 L259.4,458.2 L260,460.2 L260.6,460.8 L261.2,461.6 L261.8,462.9 L262.4,465.3 L263,466.8 L263.6,467.3 L264.2,467.5 L264.8,467.5 L265.4,467.6 L266,468 L266.6,468.5 L267.2,469 L267.8,469.4 L268.4,468.5 L269,468.2 L269.6,468.1 L270.2,468.1 L270.8,468.6 L271.4,466.9 L272,465.8 L272.6,467.6 L273.2,467.8 L273.8,467.6 L274.4,468 L275,468.2 L275.6,468.3 L276.2,468.7 L276.8,469.2 L277.4,469.3 L278,469.4 L278.6,469.4 L279.2,469.2 L279.8,469 L280.4,469.1 L281,469.1 L281.6,468.2 L282.2,469 L282.8,468.8 L283.4,467 L284,467 L284.6,467.6 L285.2,468 L285.8,467.8 L286.4,466.5 L287,466.3 L287.6,466.6 L288.2,467.4 L288.8,468.2 L289.4,467.2 L290,465.9 L290.6,464.3 L291.2,461.6 L291.8,458.1 L292.4,456.4 L293,455.5 L293.6,454.1 L294.2,455 L294.8,457.8 L295.4,461.7 L296,464.6 L296.6,465.7 L297.2,466.7 L297.8,467.6 L298.4,467.7 L299,468.1 L299.6,468.7 L300.2,469 L300.8,469.2 L301.4,469.7 L302,470 L302.6,469.6 L303.2,468.7 L303.8,467.2 L304.4,465.9 L305,464.6 L305.6,464.3 L306.2,461.7 L306.8,460.1 L307.4,461.7 L308,464.4 L308.6,466.8 L309.2,468.2 L309.8,468.8 L310.4,469.5 L311,469.9 L311.6,471.1 L312.2,471.2 L312.8,470.9 L313.4,470.8 L314,470.7 L314.6,470.7 L315.2,471.4 L315.8,472.5 L316.4,472.8 L317,472.8 L317.6,473.9 L318.2,473.4 L318.8,472.7 L319.4,472.6 L320,472.5 L320.6,472 L321.2,471.7 L321.8,471.8 L322.4,471 L323,470.4 L323.6,471.1 L324.2,470.9 L324.8,470.3 L325.4,469.2 L326,467.8 L326.6,466.5 L327.2,466.3 L327.8,467.1 L328.4,468.7 L329,469.1 L329.6,468.1 L330.2,467.7 L330.8,467.5 L331.4,467 L332,466.9 L332.6,467 L333.2,466.4 L333.8,464.8 L334.4,463.9 L335,463.6 L335.6,463.5 L336.2,463.9 L336.8,464.4 L337.4,464.9 M347.5,446.8 L348.1,447.3 L348.7,447.7 L349.3,447.5 L349.9,447.2 L350.5,447.2 L351.1,448.9 L351.7,450.3 L352.3,450.5 L352.9,448.9 L353.5,448 L354.1,449 L354.7,449.4 L355.3,448.8 L355.9,447.7 L356.5,446.4 L357.1,448.2 L357.7,450.4 L358.3,451.6 L358.9,451 L359.5,450.4 L360.1,450.8 L360.7,451.3 L361.3,454 L361.9,452.5 L362.5,451.3 L363.1,451.6 L363.7,451.9 L364.3,452.6 L364.9,453.4 L365.5,454.2 L366.1,454.5 L366.7,454.5 L367.3,453.7 L367.9,453.3 L368.5,453.7 L369.1,454.1 L369.7,454.4 L370.3,454.1 L370.9,453.8 L371.5,453.6 L372.1,453.6 L372.7,453.9 L373.3,455.5 L373.9,456.3 L374.5,455.5 L375.1,458.1 L375.7,460.1 L376.3,458.2 L376.9,457.3 L377.5,456.6 L378.1,457.2 L378.7,458.1 L379.3,458.6 L379.9,458.9 L380.5,459 L381.1,459.2 L381.7,459.3 L382.3,459.3 L382.9,459 L383.5,458.1 L384.1,458.1 L384.7,458.1 L385.3,458 L385.9,455.8 L386.5,451.9 L387.1,450.2 L387.7,450.6 L388.3,452.8 L388.9,455.1 L389.5,457.5 L390.1,458.7 L390.7,459.9 L391.3,460.9 L391.9,461.1 L392.5,460.2 L393.1,459.9 L393.7,459.9 L394.3,460.5 L394.9,460.2 L395.5,459.3 L396.1,458.6 L396.7,457.8 L397.3,456.1 L397.9,454.1 L398.5,451.3 L399.1,454 L399.7,457.3 L400.3,457.9 L400.9,458.2 L401.5,458.9 L402.1,461.1 L402.7,462.9 L403.3,462.5 L403.9,462.2 L404.5,461.9 L405.1,461.1 L405.7,460.9 L406.3,461.2 L406.9,462.1 L407.5,463.1 L408.1,462.6 L408.7,462.2 L409.3,463.9 L409.9,464.9 L410.5,465.3 L411.1,465.2 L411.7,465.2 L412.3,465.7 L412.9,465.5 L413.5,465.1 L414.1,464.3 L414.7,463.9 L415.3,464 L415.9,464.8 L416.5,465.9 L417.1,466.5 L417.7,466.4 L418.3,465.9 L418.9,465.3 L419.5,464.7 L420.1,465.3 L420.7,465 L421.3,463.3 L421.9,463.3 L422.5,463.9 L423.1,464.2 L423.7,464.5 L424.3,464.7 L424.9,464.8 L425.5,464.5 L426.1,464.5 L426.7,464.1 L427.3,463.5 L427.9,463.4 L428.5,463.8 L429.1,464.3 L429.7,463.6 L430.3,461.3 L430.9,461.3 L431.5,461.4 L432.1,461.7 L432.7,462.2 L433.3,463.8 L433.9,463.7 L434.5,463.1 L435.1,463.6 L435.7,464.1 L436.1,463.8 L436.1,463.8 L436.2,463.7 L436.2,463.7 L436.3,463.6 L436.4,463.5 L436.4,463.3 L436.4,463.2 L436.5,463 L436.6,462.9 L436.6,462.7 L436.6,462.6 L436.7,462.4 L436.8,462.3 L436.8,462.1 L436.9,461.9 L436.9,461.8 L436.9,461.6 L437,461.4 L437.1,461.3 L437.1,461.1 L437.1,460.9 L437.2,460.7 L437.2,460.6 L437.3,460.4 L437.4,460.2 L437.4,460 L437.4,459.9 L437.5,459.8 L437.6,459.7 L437.6,459.6 L437.6,459.5 L437.7,459.4 L437.8,459.3 L437.8,459.1 L437.9,459 L437.9,458.9 L437.9,458.7 L438,458.4 L438.1,458.2 L438.1,458 L438.1,457.9 L438.2,457.7 L438.2,457.5 L438.3,457.3 L438.4,457.1 L438.4,456.9 L438.4,456.6 L438.5,456.4 L438.6,456.1 L438.6,455.8 L438.6,455.4 L438.7,455.1 L438.8,454.7 L438.8,454.3 L438.9,454 L438.9,453.6 L438.9,453.1 L439,452.7 L439.1,452.3 L439.1,451.8 L439.1,451.3 L439.2,450.8 L439.2,450.3 L439.3,449.7 L439.4,449.1 L439.4,448.5 L439.4,447.9 L439.5,447.1 L439.6,446.4 L439.6,445.8 L439.6,445.1 L439.7,444.2 L439.8,443.3 L439.8,442.2 L439.9,440.8 L439.9,439.2 L439.9,437.3 L440,435 L440.1,432.1 L440.1,428.6 L440.1,424.2 L440.2,418.8 L440.2,412.2 L440.3,404 L440.4,394 L440.4,381.7 L440.4,366.7 L440.5,348.5 L440.6,326.7 L440.6,300.7 L440.6,300 L440.7,300 L440.8,300 L440.8,300 L440.9,300 L440.9,300 L440.9,300 L441,300 L441.1,300 L441.1,300 L441.1,300 L441.2,300 L441.2,300 L441.3,300 L441.4,300 L441.4,300 L441.4,300 L441.5,300 L441.6,300 L441.6,300 L441.6,300 L441.7,300 L441.8,300 L441.8,300 L441.9,300 L441.9,300 L441.9,300 L442,300 L442.1,300 L442.1,300 L442.1,300 L442.2,300 L442.2,300 L442.3,300 L442.4,300 L442.4,300 L442.4,300 L442.5,300 L442.6,300 L442.6,300 L442.6,300 L442.7,300 L442.8,300 L442.8,300 L442.9,300 L442.9,300 L442.9,300 L443,300 L443.1,300 L443.1,300 L443.1,300 L443.2,300 L443.2,300 L443.3,300 L443.4,300 L443.4,300 L443.4,300 L443.5,300 L443.6,300 L443.6,318.1 L443.6,343.4 L443.7,364.5 L443.8,381.9 L443.8,396.3 L443.9,408.1 L443.9,417.7 L443.9,425.5 L444,431.7 L444.1,436.8 L444.1,440.8 L444.1,444.1 L444.2,446.7 L444.2,448.8 L444.3,450.5 L444.4,451.9 L444.4,453 L444.4,453.9 L444.5,454.7 L444.6,455.4 L444.6,456 L444.6,456.5 L444.7,457 L444.8,457.4 L444.8,457.8 L444.9,458.1 L444.9,458.5 L444.9,458.8 L445,459.1 L445.1,459.3 L445.1,459.6 L445.1,459.8 L445.2,460.1 L445.2,460.3 L445.3,460.5 L445.4,460.7 L445.4,460.9 L445.4,461.1 L445.5,461.3 L445.6,461.5 L445.6,461.7 L445.6,461.9 L445.7,462 L445.8,462.2 L445.8,462.4 L445.9,462.5 L445.9,462.7 L445.9,462.8 L446,463 L446.1,463.1 L446.1,463.2 L446.1,463.3 L446.2,463.5 L446.2,463.6 L446.3,463.7 L446.4,463.8 L446.4,463.9 L446.4,464 L446.5,464.1 L446.6,464.2 L446.6,464.3 L446.6,464.5 L446.7,464.7 L446.8,464.8 L446.8,465 L446.9,465.2 L446.9,465.3 L446.9,465.5 L447,465.6 L447.1,465.8 L447.1,465.9 L447.1,466.1 L447.2,466.2 L447.2,466.4 L447.3,466.5 L447.4,466.7 L447.4,466.7 L447.4,466.6 L447.5,466.6 L447.6,466.6 L447.6,466.5 L447.6,466.5 L447.7,466.5 L447.8,466.5 L447.8,466.4 L447.9,466.4 L447.9,466.4 L447.9,466.3 L448,466.3 L448.1,466.2 L448.3,466 L448.9,466.5 L449.5,467 L450.1,467.9 L450.7,469.2 L451.3,470.4 L451.9,470.3 L452.5,470.3 L453.1,470.3 L453.7,470.8 L454.3,471.6 L454.9,472.1 L455.5,472 L456.1,471.1 L456.7,470.1 L457.3,470.7 L457.9,470.7 L458.5,470.1 L459.1,471.5 L459.7,472 L460.3,471.9 L460.9,472.2 L461.5,472.9 L462.1,474 L462.7,473.9 L463.3,472.5 L463.9,472.2 L464.5,472.6 L465.1,472.4 L465.7,472.3 L466.3,470.5 L466.9,470.4 L467.5,471.6 L468.1,471.8 L468.7,472.2 L469.3,472.8 L469.9,472.3 L470.5,471.8 L471.1,471.7 L471.7,472.2 L472.3,473.3 L472.9,473.5 L473.5,473.3 L474.1,473.1 L474.7,473 L475.3,473.4 L475.9,473.9 L476.5,474.4 L477.1,475.3 L477.7,476.2 L478.3,476.7 L478.9,475.4 L479.5,474.6 L480.1,476.1 L480.7,476.1 L481.3,475.4 L481.9,475.6 L482.5,475.8 L483.1,476.1 L483.7,475.7 L484.3,474.8 L484.9,474.5 L485.5,475.7 L486.1,474.2 L486.7,473.8 L487.3,474.2 L487.9,474.5 L488.5,474.5 L489.1,476 L489.7,477.4 L490.3,477.5 L490.9,477.2 L491.5,476.9 L492.1,476.6 L492.7,476.1 L493.3,475.1 L493.9,475.3 L494.5,475.6 L495.1,474.5 L495.7,473.3 L496.3,472.3 L496.9,472 L497.5,472.2 L498.1,473.1 L498.7,474 L499.3,475 L499.9,476.2 L500.5,477.2 L501.1,476.3 L501.7,475.6 L502.3,476.5 L502.9,477.4 L503.5,478.3 L504.1,478.2 L504.7,478 L505.3,478.5 L505.9,478.6 L506.5,477.7 L507.1,477.8 L507.7,478 L508.3,478.5 L508.9,478.8 L509.5,478.4 L510.1,478.4 L510.7,478.4 L511.3,477.9 L511.9,477.7 L512.5,477.5 L513.1,478.9 L513.7,480.5 L514.3,479.3 L514.9,478.6 L515.5,478.6 L516.1,479.4 L516.7,479.1 L517.3,478.2 L517.9,477.4 L518.5,477 L519.1,477.6 L519.7,478 L520.3,478.5 L520.9,478.8 L521.5,479.1 L522.1,479.3 L522.7,479.6 L523.3,480.1 L523.9,479.9 L524.5,479.6 L525.1,479.9 L525.7,480.2 L526.3,480.1 L526.9,480 L527.5,480 L528.1,480.6 L528.7,481.1 L529.3,481.2 L529.9,481.6 L530.5,482.5 L531.1,482.2 L531.7,481.4 L532.3,480.5 L532.9,480.9 L533.5,481.3 L534.1,480.7 L534.7,480.8 L535.3,481.9 L535.9,480 L536.5,478.5 L537.1,479.4 L537.7,480 L538.3,480.3 L538.9,481.1 L539.5,481.7 L540.1,481.8 L540.7,481.6 L541.3,481 L541.9,480.7 L542.5,480.5 L543.1,481.2 L543.7,482.4 L544.3,483.7 L544.9,483.7 L545.5,483.7 L546.1,482.1 L546.7,481.8 L547.3,482.1 L547.9,481.7 L548.5,480.7 L549.1,480.2 L549.7,480.4 L550.3,482.3 L550.9,482.6 L551.5,482.6 L552.1,482.2 L552.7,482.3 L553.3,482.6 L553.9,483.3 L554.5,484.3 L555.1,483.9 L555.7,483.3 L556.3,482.8 L556.9,482.6 L557.5,482.8 L558.1,482.5 L558.7,482.2 L559.3,481.9 L559.9,481.9 L560.5,482 L561.1,482.9 L561.7,483.9 L562.3,483.1 L562.9,482.6 L563.5,482.7 L564.1,484 L564.7,485 L565.3,484.5 L565.9,483.9 L566.5,483.4 L567.1,483 L567.7,482.6 L568.3,482.8 L568.9,482.1 L569.5,481.4 L570.1,481.9 L570.7,482.5 L571.3,482.7 L571.9,482.5 L572.5,482.2 L573.1,482.7 L573.7,483.2 L574.3,482.5 L574.9,482.9 L575.5,483.6 L576.1,483.1 L576.7,482.4 L577.3,483.8 L577.9,483.7 L578.5,483.3 L579.1,482.9 L579.7,483 L580.3,483.4 L580.9,483.7 L581.5,483.9 L582.1,483.5 L582.7,483.8 L583.3,484.4 L583.9,484.2 L584.5,483.3 L585.1,484.1 L585.7,484.7 L586.3,484.6 L586.9,484.1 L587.5,483.3 L588.1,484.5 L588.7,484.8 L589.3,483.1 L589.9,483.4 L590.5,484.4 L591.1,484.3 L591.7,484.3 L592.3,484.6 L592.9,484.2 L593.5,482.5 L594.1,482.7 L594.7,482.9 L595.3,483.1 L595.9,483.5 L596.5,484.1 L597.1,484.1 L597.7,484.1 L598.3,484.1 L598.9,484 L599.5,483.8 L600.1,483.5 L600.7,483.2 L601.3,482.7 L601.9,482.9 L602.5,483.3 L603.1,483.9 L603.7,484.4 L604.3,484.7 L604.9,484.4 L605.5,483.6 L606.1,484.5 L606.7,485.4 L607.3,484.1 L607.9,484.1 L608.5,485.3 L609.1,484.5 L609.7,483.7 L610.3,484.5 L610.9,484.6 L611.5,483.8 L612.1,483.7 L612.7,483.8 L613.3,483.9 L613.9,484.6 L614.5,485.9 L615.1,484.6 L615.7,484.2 L616.3,484.9 L616.9,484.9 L617.5,484.7 L618.1,484.7 L618.7,484.7 L619.3,484.7 L619.9,484.8 L620.5,484.7 L621.1,483.4 L621.7,483.4 L622.3,483.9 L622.9,484 L623.5,483.8 L624.1,482.7 L624.7,481.4 L625.3,480.8 L625.9,479 L626.5,477.4 L627.1,478.2 L627.7,478.6 L628.3,479 L628.9,480.3 L629.5,481.6 L630.1,482.9 L630.7,484 L631.3,484.6 L631.9,484.5 L632.5,483.6 L633.1,483.8 L633.7,484.5 L634.3,485.5 L634.9,484.2 L635.5,482.3 L636.1,485.3 L636.7,486.2 L637.3,486.2 L637.9,485.1 L638.5,484.1 L639.1,484.7 L639.7,485.9 L640.3,485.5 L640.9,485.5 L641.5,485.8 L642.1,484.7 L642.7,483.6 L643.3,484.9 L643.9,485.7 L644.5,486.1 L645.1,485.9 L645.7,485.6 L646.3,485.5 L646.9,485.4 L647.5,485 L648.1,483.6 L648.7,482.9 L649.3,484.7 L649.9,484.9 L650.5,484.7 L651.1,484.9 L651.7,485.3 L652.3,485.1 L652.9,485.2 L653.5,485.5 L654.1,485.8 L654.7,486.2 L655.3,487.4 L655.9,486.2 L656.5,485.3 L657.1,487.1"/>
<path d="M30.8,532.2 L31.4,530.8 L32,531.3 L32.6,532.7 L33.2,533.7 L33.8,533.6 L34.4,533.1 L35,533 L35.6,533.8 L36.2,533.4 L36.8,532.2 L37.4,532.4 L38,532.5 L38.6,531.9 L39.2,531 L39.8,529.9 L40.4,530 L41,530.5 L41.6,530.1 L42.2,529.7 L42.8,529.4 L43.4,529 L44,528.6 L44.6,528.9 L45.2,528.7 L45.8,528.8 L46.4,530 L47,530.6 L47.6,528.9 L48.2,528.6 L48.8,529.7 L49.4,529.6 L50,529 L50.6,528.5 L51.2,528.4 L51.8,529.5 L52.4,528.8 L53,528.4 L53.6,529.2 L54.2,529 L54.8,528 L55.4,528.1 L56,528 L56.6,527.6 L57.2,527.4 L57.8,527.7 L58.4,528 L59,528.1 L59.6,526.9 L60.2,527 L60.8,527.2 L61.4,528.5 L62,528.3 L62.6,527 L63.2,526.8 L63.8,527.6 L64.4,526.2 L65,523.9 L65.6,522.1 L66.2,519.3 L66.8,516.2 L67.4,514.3 L68,512.7 L68.6,512.6 L69.2,514.7 L69.8,517.8 L70.4,520.8 L71,523.4 L71.6,524.1 L72.2,524.3 L72.8,524.2 L73.4,524 L74,524 L74.6,524 L75.2,523.5 L75.8,523 L76.4,523 L77,523.9 L77.6,525.2 L78.2,525.6 L78.8,524.2 L79.4,523.4 L80,523.6 L80.6,524.6 L81.2,525.1 L81.8,525.5 L82.4,524.4 L83,523.7 L83.6,524.1 L84.2,523.8 L84.8,523.3 L85.4,522.8 L86,522.9 L86.6,524.7 L87.2,526 L87.8,526.9 L88.4,524.2 L89,522.3 L89.6,521.6 L90.2,522.5 L90.8,523.9 L91.4,523.6 L92,523.1 L92.6,522.6 L93.2,522.8 L93.8,523 L94.4,521.9 L95,521.5 L95.6,521.9 L96.2,522.3 L96.8,522.6 L97.4,522.1 L98,521.7 L98.6,522.2 L99.2,522.3 L99.8,521.8 L100.4,522.3 L101,522.4 L101.6,522.2 L102.2,521.3 L102.8,520.3 L103.4,521.4 L104,521.3 L104.6,520.4 L105.2,520.2 L105.8,520.2 L106.4,519.6 L107,519.2 L107.6,521.4 L108.2,521.1 L108.8,520.6 L109.4,520.6 L110,521.3 L110.6,522.3 L111.2,522.2 L111.8,522 L112.4,521.2 L113,520.3 L113.6,519.2 L114.2,519.2 L114.8,520.8 L115.4,520.1 L116,519.5 L116.6,519.3 L117.2,519.7 L117.8,520.2 L118.4,519.5 L119,518.8 L119.6,519.1 L120.2,519.7 L120.8,520.1 L121.4,519.8 L122,519.2 L122.6,518.4 L123.2,518.3 L123.8,519.4 L124.4,519.3 L125,519.3 L125.6,519.5 L126.2,518.8 L126.8,517.7 L127.4,517.9 L128,518.2 L128.6,518.6 L129.2,518.5 L129.8,518.1 L130.4,517.9 L131,517.7 L131.6,517.5 L132.2,517.3 L132.8,517.2 L133.4,517 L134,516.8 L134.6,516.8 L135.2,517.2 L135.8,517.8 L136.4,517.4 L137,517.1 L137.6,516.3 L138.2,516.4 L138.8,517.5 L139.4,518.3 L140,518.7 L140.6,518.4 L141.2,517.1 L141.8,515.3 L142.4,515.2 L143,515.9 L143.6,516.7 L144.2,517 L144.8,516.5 L145.4,516.5 L146,516.5 L146.6,516.3 L147.2,516.3 L147.8,516.4 L148.4,515.4 L149,515.5 L149.6,516.3 L150.2,515.4 L150.8,514 L151.4,513.7 L152,514.1 L152.6,515.3 L153.2,515.2 L153.8,515 L154.4,514.4 L155,514 L155.6,514.1 L156.2,513.9 L156.8,513.7 L157.4,513.6 L158,513.5 L158.6,513.5 L159.2,513.9 L159.8,514.9 L160.4,513.8 L161,513.2 L161.6,513.8 L162.2,513.5 L162.8,513.3 L163.4,513.1 L164,512.8 L164.6,512.2 L165.2,512.3 L165.8,512.6 L166.4,512.3 L167,512.1 L167.6,512 L168.2,511.6 L168.8,511.2 L169.4,510.3 L170,510.2 L170.6,512.1 L171.2,512.2 L171.8,512 L172.4,511.2 L173,510.5 L173.6,510.6 L174.2,510.7 L174.8,510.7 L175.4,510.2 L176,509.5 L176.6,510.5 L177.2,511.1 L177.8,511.1 L178.4,511.2 L179,511.2 L179.6,511.2 L180.2,509.7 L180.8,508.3 L181.4,509 L182,510 L182.6,509 L183.2,509.5 L183.8,510.1 L184.4,510.1 L185,509.9 L185.6,509.7 L186.2,509.3 L186.8,508.7 L187.4,510.1 L188,511.2 L188.6,509.5 L189.2,508 L189.8,507.1 L190.4,508.4 L191,507.8 L191.6,506.5 L192.2,506.7 L192.8,508.1 L193.4,507 L194,505.8 L194.6,504.7 L195.2,503 L195.8,501.3 L196.4,500.1 L197,499.8 L197.6,500.1 L198.2,501.5 L198.8,503.4 L199.4,505.2 L200,506.7 L200.6,506.5 L201.2,506.9 L201.8,507.2 L202.4,507 L203,506.6 L203.6,506.6 L204.2,507.2 L204.8,507.9 L205.4,508.2 L206,508.3 L206.6,507.8 L207.2,507.1 L207.8,506.4 L208.4,505.7 L209,505.9 L209.6,507.7 L210.2,507.3 L210.8,505.1 L211.4,505.2 L212,505.2 L212.6,505.2 L213.2,505.9 L213.8,506.6 L214.4,505.7 L215,505 L215.6,506 L216.2,506 L216.8,505.9 L217.4,505.1 L218,504.6 L218.6,505.6 L219.2,504.9 L219.8,504.3 L220.4,504.8 L221,505.2 L221.6,505.6 L222.2,505.5 L222.8,504.9 L223.4,504.2 L224,503.9 L224.6,504.1 L225.2,504.2 L225.8,504.2 L226.4,504.5 L227,503.7 L227.6,502.4 L228.2,501.8 L228.8,502.1 L229.4,503.3 L230,504.2 L230.6,503.9 L231.2,503.7 L231.8,503.8 L232.4,503.9 L233,503.9 L233.6,503.6 L234.2,503.3 L234.8,503.1 L235.4,503.2 L236,503.4 L236.6,503.7 L237.2,503.4 L237.8,503.1 L238.4,502.7 L239,502 L239.6,501.3 L240.2,501.1 L240.8,501.5 L241.4,500.1 L242,499.4 L242.6,499.1 L243.2,498.9 L243.8,498.7 L244.4,498 L245,497.1 L245.2,496.8 L245.2,496.8 L245.3,496.7 L245.3,496.7 L245.4,496.6 L245.4,496.5 L245.5,496.5 L245.6,496.4 L245.6,496.3 L245.7,496.3 L245.7,496.2 L245.8,496.1 L245.8,496 L245.8,495.9 L245.9,495.8 L245.9,495.7 L246,495.6 L246.1,495.5 L246.1,495.4 L246.2,495.2 L246.2,495 L246.2,494.8 L246.3,494.7 L246.3,494.5 L246.4,494.3 L246.4,494.1 L246.5,493.9 L246.6,493.7 L246.6,493.5 L246.7,493.3 L246.7,493 L246.8,492.8 L246.8,492.6 L246.8,492.3 L246.9,492.1 L246.9,491.8 L247,491.5 L247.1,491.2 L247.1,491 L247.2,490.7 L247.2,490.4 L247.2,490.1 L247.3,489.7 L247.3,489.4 L247.4,489.1 L247.4,488.7 L247.5,488.3 L247.6,488 L247.6,487.6 L247.7,487.2 L247.7,486.7 L247.8,486.3 L247.8,485.9 L247.8,485.4 L247.9,484.9 L247.9,484.3 L248,483.8 L248.1,483.2 L248.1,482.6 L248.2,482 L248.2,481.4 L248.2,480.7 L248.3,480 L248.3,479.3 L248.4,478.5 L248.4,477.6 L248.5,476.7 L248.6,475.8 L248.6,474.7 L248.7,473.5 L248.7,472.2 L248.8,470.8 L248.8,469.2 L248.8,467.3 L248.9,465.1 L248.9,462.5 L249,459.5 L249.1,455.9 L249.1,451.6 L249.2,446.4 L249.2,440.1 L249.2,432.6 L249.3,423.6 L249.3,412.8 L249.4,399.8 L249.4,384.4 L249.5,366.1 L249.6,344.5 L249.6,319 L249.7,300 L249.7,300 L249.8,300 L249.8,300 L249.8,300 L249.9,300 L249.9,300 L250,300 L250.1,300 L250.1,300 L250.2,300 L250.2,300 L250.2,300 L250.3,300 L250.3,300 L250.4,300 L250.4,300 L250.5,300 L250.6,300 L250.6,300 L250.7,300 L250.7,300 L250.8,300 L250.8,300 L250.8,300 L250.9,300 L250.9,300 L251,300 L251.1,300 L251.1,300 L251.2,300 L251.2,300 L251.2,300 L251.3,300 L251.3,300 L251.4,300 L251.4,300 L251.5,300 L251.6,300 L251.6,300 L251.7,300 L251.7,300 L251.8,300 L251.8,300 L251.8,300 L251.9,300 L251.9,300 L252,300 L252.1,300 L252.1,300 L252.2,300 L252.2,300 L252.2,300 L252.3,300 L252.3,300 L252.4,300 L252.4,300 L252.5,300 L252.6,300 L252.6,300 L252.7,300 L252.7,300 L252.8,300 L252.8,318.1 L252.8,343.5 L252.9,365 L252.9,383.3 L253,398.6 L253.1,411.5 L253.1,422.2 L253.2,431.1 L253.2,438.5 L253.2,444.7 L253.3,449.8 L253.3,454 L253.4,457.6 L253.4,460.5 L253.5,463 L253.6,465 L253.6,466.8 L253.7,468.3 L253.7,469.7 L253.8,470.9 L253.8,471.9 L253.8,472.9 L253.9,473.8 L253.9,474.5 L254,475.3 L254.1,475.9 L254.1,476.6 L254.2,477.1 L254.2,477.7 L254.2,478.2 L254.3,478.7 L254.3,479.2 L254.4,479.6 L254.4,480 L254.5,480.4 L254.6,480.8 L254.6,481.1 L254.7,481.5 L254.7,481.8 L254.8,482.1 L254.8,482.4 L254.8,482.7 L254.9,482.9 L254.9,483.2 L255,483.6 L255.1,483.9 L255.1,484.2 L255.2,484.5 L255.2,484.8 L255.2,485.1 L255.3,485.4 L255.3,485.6 L255.4,485.9 L255.4,486.1 L255.5,486.4 L255.6,486.6 L255.6,486.8 L255.7,487 L255.7,487.2 L255.8,487.4 L255.8,487.6 L255.8,487.7 L255.9,487.6 L255.9,487.5 L256,487.5 L256.1,487.4 L256.1,487.3 L256.1,487.2 L256.2,487.1 L256.2,487 L256.3,486.9 L256.4,486.7 L256.4,486.6 L256.4,486.5 L256.5,486.3 L256.6,486.2 L256.6,486.1 L256.6,485.9 L256.7,485.8 L256.8,485.6 L256.8,485.4 L256.9,485.3 L256.9,485.1 L256.9,484.9 L257,484.9 L257.1,484.9 L257.1,484.9 L257.1,484.9 L257.6,484.5 L258.2,483.7 L258.8,483 L259.4,483.8 L260,485 L260.6,485.6 L261.2,488.4 L261.8,490.9 L262.4,492.7 L263,494.1 L263.6,495.3 L264.2,496.4 L264.8,497.1 L265.4,496.5 L266,496.1 L266.6,495.8 L267.2,496.2 L267.8,496.7 L268.4,495 L269,494.9 L269.6,495.8 L270.2,495.3 L270.8,494.8 L271.4,494.8 L272,494.7 L272.6,494.5 L273.2,494.4 L273.8,494.7 L274.4,495.5 L275,496.4 L275.6,496.3 L276.2,495.6 L276.8,495.1 L277.4,495.4 L278,495.3 L278.6,494.6 L279.2,494.3 L279.8,494.1 L280.4,493.9 L281,494.2 L281.6,495.3 L282.2,496 L282.8,496.2 L283.4,496.4 L284,496.5 L284.6,495.3 L285.2,494.6 L285.8,494.8 L286.4,494.1 L287,494.3 L287.6,495.4 L288.2,495.9 L288.8,495.4 L289.4,494.8 L290,493.8 L290.6,492.1 L291.2,489.7 L291.8,486.5 L292.4,482.7 L293,479.3 L293.6,478.5 L294.2,479.3 L294.8,481.4 L295.4,485.8 L296,489.8 L296.6,492 L297.2,493.1 L297.8,493.4 L298.4,493.5 L299,493.4 L299.6,493.8 L300.2,494.1 L300.8,494.3 L301.4,493.4 L302,493.2 L302.6,493.3 L303.2,492.3 L303.8,490.2 L304.4,487 L305,483.2 L305.6,479.5 L306.2,479 L306.8,481.1 L307.4,486.1 L308,490.3 L308.6,493.1 L309.2,494.3 L309.8,494.3 L310.4,495.8 L311,496.5 L311.6,496.7 L312.2,496.9 L312.8,497 L313.4,498.4 L314,498.8 L314.6,498 L315.2,498.7 L315.8,499.3 L316.4,499.6 L317,499.6 L317.6,498.2 L318.2,498.9 L318.8,498.9 L319.4,497 L320,497 L320.6,498.1 L321.2,497.7 L321.8,497.6 L322.4,498.6 L323,499.3 L323.6,497.2 L324.2,496.8 L324.8,496.6 L325.4,498.3 L326,497.9 L326.6,496.4 L327.2,497 L327.8,498 L328.4,497.5 L329,497.8 L329.6,499 L330.2,498.2 L330.8,497.5 L331.4,497.7 L332,498.1 L332.6,497.4 L333.2,496.5 L333.8,495.7 L334.4,495 L335,495.7 L335.6,497.8 L336.2,497.7 L336.8,496.9 L337.4,495.8 M347.5,483 L348.1,486.1 L348.7,485.7 L349.3,482.6 L349.9,480.3 L350.5,479.6 L351.1,479.8 L351.7,481.3 L352.3,483.7 L352.9,484.5 L353.5,483.8 L354.1,483.5 L354.7,483.3 L355.3,485.1 L355.9,486.7 L356.5,488.2 L357.1,490 L357.7,490 L358.3,488.5 L358.9,487.5 L359.5,487.2 L360.1,487.8 L360.7,488.4 L361.3,488.1 L361.9,488 L362.5,488.2 L363.1,488.9 L363.7,489.8 L364.3,490.2 L364.9,490.1 L365.5,489.6 L366.1,490.6 L366.7,490.9 L367.3,489.7 L367.9,489.5 L368.5,489.4 L369.1,488.8 L369.7,488.1 L370.3,489.4 L370.9,489.7 L371.5,489.9 L372.1,490.4 L372.7,490.4 L373.3,489.6 L373.9,489.7 L374.5,491.2 L375.1,491.2 L375.7,490.7 L376.3,491.8 L376.9,492.9 L377.5,493.9 L378.1,494.9 L378.7,494.8 L379.3,493.4 L379.9,492.6 L380.5,492.1 L381.1,493 L381.7,494 L382.3,494.7 L382.9,493.7 L383.5,492.2 L384.1,493.8 L384.7,493.3 L385.3,487 L385.9,487.3 L386.5,487.5 L387.1,485.8 L387.7,485.6 L388.3,487 L388.9,488 L389.5,488.9 L390.1,492.5 L390.7,495.4 L391.3,496.2 L391.9,496.7 L392.5,497 L393.1,495.7 L393.7,495.2 L394.3,494.9 L394.9,494.7 L395.5,494.7 L396.1,492.7 L396.7,489.4 L397.3,486.3 L397.9,484 L398.5,483.6 L399.1,485.9 L399.7,489.4 L400.3,490.4 L400.9,493.2 L401.5,496.2 L402.1,496.9 L402.7,496.8 L403.3,495.5 L403.9,497.3 L404.5,498.9 L405.1,499.6 L405.7,500 L406.3,499.5 L406.9,498.8 L407.5,497.7 L408.1,498.4 L408.7,499.6 L409.3,501.5 L409.9,500.4 L410.5,499.3 L411.1,500 L411.7,500.6 L412.3,501.9 L412.9,502.4 L413.5,500.9 L414.1,500.7 L414.7,501.2 L415.3,502.5 L415.9,503.2 L416.5,503.7 L417.1,502.7 L417.7,501.5 L418.3,500 L418.9,499.6 L419.5,499.4 L420.1,500.6 L420.7,500.3 L421.3,499 L421.9,499.8 L422.5,501 L423.1,501.5 L423.7,500.6 L424.3,498.2 L424.9,498.7 L425.5,501.3 L426.1,502.1 L426.7,502.6 L427.3,502.3 L427.9,503 L428.5,504.2 L429.1,503.8 L429.7,503.4 L430.3,503.3 L430.9,503.8 L431.5,504.1 L432.1,501.5 L432.7,499.4 L433.3,498.1 L433.9,497.2 L434.5,496.6 L435.1,495.9 L435.7,495.3 L436.1,495.8 L436.1,495.9 L436.2,495.9 L436.2,496 L436.3,496 L436.4,496.1 L436.4,496.2 L436.4,496.2 L436.5,496.2 L436.6,496.3 L436.6,496.3 L436.6,496.4 L436.7,496.4 L436.8,496.3 L436.8,496.2 L436.9,496 L436.9,495.9 L436.9,495.8 L437,495.6 L437.1,495.5 L437.1,495.3 L437.1,495.2 L437.2,495 L437.2,494.9 L437.3,494.7 L437.4,494.6 L437.4,494.4 L437.4,494.2 L437.5,494 L437.6,493.9 L437.6,493.7 L437.6,493.5 L437.7,493.4 L437.8,493.2 L437.8,493 L437.9,492.8 L437.9,492.7 L437.9,492.5 L438,492.2 L438.1,492 L438.1,491.8 L438.1,491.5 L438.2,491.3 L438.2,491.1 L438.3,490.8 L438.4,490.6 L438.4,490.3 L438.4,490 L438.5,489.7 L438.6,489.4 L438.6,489.1 L438.6,488.8 L438.7,488.5 L438.8,488.1 L438.8,487.7 L438.9,487.4 L438.9,487 L438.9,486.6 L439,486.1 L439.1,485.7 L439.1,485.2 L439.1,484.8 L439.2,484.3 L439.2,483.7 L439.3,483.2 L439.4,482.6 L439.4,482 L439.4,481.3 L439.5,480.7 L439.6,480 L439.6,479.3 L439.6,478.5 L439.7,477.5 L439.8,476.5 L439.8,475.2 L439.9,473.8 L439.9,472.1 L439.9,470.1 L440,467.6 L440.1,464.7 L440.1,461.1 L440.1,456.7 L440.2,451.2 L440.2,444.5 L440.3,436.3 L440.4,426.2 L440.4,413.9 L440.4,399 L440.5,380.9 L440.6,359.1 L440.6,333.1 L440.6,302.3 L440.7,300 L440.8,300 L440.8,300 L440.9,300 L440.9,300 L440.9,300 L441,300 L441.1,300 L441.1,300 L441.1,300 L441.2,300 L441.2,300 L441.3,300 L441.4,300 L441.4,300 L441.4,300 L441.5,300 L441.6,300 L441.6,300 L441.6,300 L441.7,300 L441.8,300 L441.8,300 L441.9,300 L441.9,300 L441.9,300 L442,300 L442.1,300 L442.1,300 L442.1,300 L442.2,300 L442.2,300 L442.3,300 L442.4,300 L442.4,300 L442.4,300 L442.5,300 L442.6,300 L442.6,300 L442.6,300 L442.7,300 L442.8,300 L442.8,300 L442.9,300 L442.9,300 L442.9,300 L443,300 L443.1,300 L443.1,300 L443.1,300 L443.2,300 L443.2,300 L443.3,300 L443.4,300 L443.4,300 L443.4,300 L443.5,300 L443.6,319.9 L443.6,350 L443.6,375.3 L443.7,396.5 L443.8,414 L443.8,428.5 L443.9,440.3 L443.9,450 L443.9,457.8 L444,464.1 L444.1,469.3 L444.1,473.4 L444.1,476.7 L444.2,479.4 L444.2,481.5 L444.3,483.3 L444.4,484.7 L444.4,485.9 L444.4,486.8 L444.5,487.6 L444.6,488.3 L444.6,488.9 L444.6,489.4 L444.7,489.8 L444.8,490.3 L444.8,490.6 L444.9,491 L444.9,491.3 L444.9,491.6 L445,491.9 L445.1,492.2 L445.1,492.4 L445.1,492.7 L445.2,492.9 L445.2,493.2 L445.3,493.4 L445.4,493.6 L445.4,493.8 L445.4,494 L445.5,494.3 L445.6,494.5 L445.6,494.8 L445.6,495 L445.7,495.2 L445.8,495.4 L445.8,495.7 L445.9,495.9 L445.9,496.1 L445.9,496.3 L446,496.5 L446.1,496.7 L446.1,496.8 L446.1,497 L446.2,497.2 L446.2,497.4 L446.3,497.5 L446.4,497.7 L446.4,497.9 L446.4,498 L446.5,498.2 L446.6,498.3 L446.6,498.5 L446.6,498.6 L446.7,498.8 L446.8,498.9 L446.8,499.1 L446.9,499.3 L446.9,499.5 L446.9,499.6 L447,499.8 L447.1,500 L447.1,500.1 L447.1,500.3 L447.2,500.4 L447.2,500.6 L447.3,500.7 L447.4,500.9 L447.4,500.9 L447.4,501 L447.5,501 L447.6,501 L447.6,501 L447.6,501.1 L447.7,501.1 L447.8,501.1 L447.8,501.1 L447.9,501.1 L447.9,501.1 L447.9,501.1 L448,501.2 L448.1,501.2 L448.3,501.2 L448.9,502.3 L449.5,503.7 L450.1,505.6 L450.7,506.6 L451.3,505.4 L451.9,504.8 L452.5,504.4 L453.1,504.6 L453.7,505.1 L454.3,506 L454.9,506.8 L455.5,507.6 L456.1,507.3 L456.7,507.3 L457.3,508.1 L457.9,508.1 L458.5,507.8 L459.1,507.2 L459.7,507.6 L460.3,509.1 L460.9,508.3 L461.5,507.9 L462.1,509.2 L462.7,509.3 L463.3,507.8 L463.9,507.5 L464.5,507.7 L465.1,507.6 L465.7,507.7 L466.3,508 L466.9,508.5 L467.5,509.1 L468.1,508.9 L468.7,509.3 L469.3,510.4 L469.9,510.1 L470.5,510.1 L471.1,510.8 L471.7,511.2 L472.3,510.3 L472.9,510.6 L473.5,511.4 L474.1,511.3 L474.7,511.2 L475.3,510.3 L475.9,510.4 L476.5,512.3 L477.1,511.8 L477.7,511.2 L478.3,510.5 L478.9,510.1 L479.5,509.9 L480.1,509.9 L480.7,510 L481.3,510.1 L481.9,510.4 L482.5,510.8 L483.1,509.6 L483.7,509.6 L484.3,510.1 L484.9,509.9 L485.5,509.8 L486.1,510.9 L486.7,511.4 L487.3,510.7 L487.9,511.3 L488.5,511.9 L489.1,512.5 L489.7,512.6 L490.3,511.8 L490.9,511.4 L491.5,512.3 L492.1,511.8 L492.7,510.6 L493.3,510.2 L493.9,508.9 L494.5,507.2 L495.1,506.5 L495.7,506.5 L496.3,507.5 L496.9,508.5 L497.5,509 L498.1,509.8 L498.7,510.5 L499.3,511.5 L499.9,512 L500.5,512.1 L501.1,512.1 L501.7,512.1 L502.3,511.8 L502.9,512.3 L503.5,514.1 L504.1,514.1 L504.7,514 L505.3,513.1 L505.9,512.7 L506.5,512.3 L507.1,513 L507.7,513.9 L508.3,515.3 L508.9,515.7 L509.5,513.5 L510.1,513.8 L510.7,514.1 L511.3,514.1 L511.9,514.8 L512.5,515.1 L513.1,513.7 L513.7,513.5 L514.3,514.2 L514.9,514.5 L515.5,513.9 L516.1,514.3 L516.7,514.5 L517.3,514.1 L517.9,514.6 L518.5,515.7 L519.1,515.1 L519.7,514.9 L520.3,514.9 L520.9,515.6 L521.5,516.6 L522.1,516.2 L522.7,516.5 L523.3,517.6 L523.9,517.2 L524.5,516.1 L525.1,516 L525.7,516 L526.3,516 L526.9,517.1 L527.5,518.6 L528.1,517.9 L528.7,517.2 L529.3,516 L529.9,515.8 L530.5,516.1 L531.1,515.8 L531.7,515.3 L532.3,516.2 L532.9,516.6 L533.5,516.2 L534.1,516.2 L534.7,516.8 L535.3,517.6 L535.9,518.5 L536.5,519.3 L537.1,518.9 L537.7,518.7 L538.3,518.5 L538.9,518.3 L539.5,517.8 L540.1,516.3 L540.7,515.4 L541.3,516.4 L541.9,517.1 L542.5,517.1 L543.1,517.4 L543.7,517.9 L544.3,518.4 L544.9,518.4 L545.5,517.8 L546.1,516.1 L546.7,516.1 L547.3,517.1 L547.9,517.5 L548.5,517.5 L549.1,518.4 L549.7,518.5 L550.3,518.1 L550.9,517.3 L551.5,516.5 L552.1,516.7 L552.7,517.3 L553.3,517.8 L553.9,517.2 L554.5,516.5 L555.1,517.6 L555.7,518.7 L556.3,518.9 L556.9,519.8 L557.5,520.6 L558.1,520.3 L558.7,520 L559.3,519.8 L559.9,519.9 L560.5,520.2 L561.1,520.4 L561.7,520.7 L562.3,521.3 L562.9,520.4 L563.5,519.3 L564.1,518.7 L564.7,519.1 L565.3,522.7 L565.9,522.6 L566.5,521.7 L567.1,521.2 L567.7,520.9 L568.3,522.4 L568.9,522 L569.5,519.9 L570.1,520.2 L570.7,520.4 L571.3,520.8 L571.9,521.4 L572.5,521.8 L573.1,521 L573.7,520.8 L574.3,521.3 L574.9,520.7 L575.5,520.3 L576.1,521 L576.7,521 L577.3,520.5 L577.9,519.4 L578.5,518.2 L579.1,519 L579.7,519.1 L580.3,518.3 L580.9,518.6 L581.5,519 L582.1,519.2 L582.7,519.9 L583.3,521.2 L583.9,520.8 L584.5,519.3 L585.1,518.6 L585.7,518.4 L586.3,519.4 L586.9,519.7 L587.5,519.5 L588.1,521 L588.7,522.1 L589.3,521.3 L589.9,521.9 L590.5,522.3 L591.1,521 L591.7,519.9 L592.3,519.3 L592.9,519.1 L593.5,519.9 L594.1,518.7 L594.7,517.8 L595.3,518 L595.9,518.4 L596.5,518.8 L597.1,519.4 L597.7,519.3 L598.3,518.8 L598.9,518.5 L599.5,518.4 L600.1,520.6 L600.7,521.6 L601.3,520.8 L601.9,520.5 L602.5,520.9 L603.1,521.6 L603.7,521.9 L604.3,521.9 L604.9,521.2 L605.5,520.5 L606.1,520.5 L606.7,521.1 L607.3,522.1 L607.9,522.1 L608.5,521.8 L609.1,521.5 L609.7,521.8 L610.3,522.4 L610.9,520.9 L611.5,519.5 L612.1,520 L612.7,521.1 L613.3,520.9 L613.9,520.4 L614.5,519.4 L615.1,520.3 L615.7,521.3 L616.3,521.4 L616.9,521.2 L617.5,521 L618.1,519.6 L618.7,519.7 L619.3,520.5 L619.9,521.3 L620.5,521.7 L621.1,521.8 L621.7,521.7 L622.3,522 L622.9,521.9 L623.5,521.4 L624.1,521.2 L624.7,519.6 L625.3,517.2 L625.9,516.5 L626.5,515.6 L627.1,513.6 L627.7,513.6 L628.3,515.2 L628.9,517.2 L629.5,518.8 L630.1,519.4 L630.7,519.7 L631.3,519.8 L631.9,521.1 L632.5,521.5 L633.1,519.8 L633.7,518.9 L634.3,519.2 L634.9,521.1 L635.5,522.9 L636.1,522.7 L636.7,522.2 L637.3,522.1 L637.9,522.1 L638.5,522.1 L639.1,522.2 L639.7,522.1 L640.3,521.3 L640.9,521.5 L641.5,521.9 L642.1,521.7 L642.7,521.3 L643.3,522.8 L643.9,523.5 L644.5,523.2 L645.1,523 L645.7,522.8 L646.3,523 L646.9,522.8 L647.5,522.5 L648.1,521.9 L648.7,521.7 L649.3,523.8 L649.9,524 L650.5,523.5 L651.1,523.1 L651.7,522.6 L652.3,523.4 L652.9,523.9 L653.5,524.2 L654.1,524.2 L654.7,524 L655.3,523.7 L655.9,523.8 L656.5,523.9 L657.1,523.4"/>
<path d="M30.8,557.6 L31.4,559.1 L32,559.7 L32.6,559.9 L33.2,558.8 L33.8,557.8 L34.4,558.3 L35,559 L35.6,559.6 L36.2,558.9 L36.8,558 L37.4,558.2 L38,558.5 L38.6,557.1 L39.2,556.3 L39.8,557 L40.4,557.7 L41,558.2 L41.6,558.7 L42.2,558.5 L42.8,557.7 L43.4,556.4 L44,555.6 L44.6,555.6 L45.2,555.7 L45.8,556 L46.4,556.8 L47,557.6 L47.6,557.4 L48.2,557.5 L48.8,557.5 L49.4,557.1 L50,556.7 L50.6,555.2 L51.2,555 L51.8,554.8 L52.4,554.2 L53,554.3 L53.6,555 L54.2,554.7 L54.8,553.5 L55.4,553.9 L56,554.4 L56.6,554.4 L57.2,554.9 L57.8,554.9 L58.4,553.8 L59,553 L59.6,553.7 L60.2,552.8 L60.8,552.1 L61.4,552.9 L62,553.2 L62.6,552.3 L63.2,552.1 L63.8,552.2 L64.4,551.8 L65,551.6 L65.6,551.5 L66.2,550.9 L66.8,549.7 L67.4,547.7 L68,545.6 L68.6,543.9 L69.2,542 L69.8,540.4 L70.4,541.7 L71,544.8 L71.6,547.8 L72.2,548.7 L72.8,549.1 L73.4,549.3 L74,550.2 L74.6,551.8 L75.2,551.8 L75.8,550.6 L76.4,550.7 L77,551.3 L77.6,551.8 L78.2,551.9 L78.8,552 L79.4,551.7 L80,551.3 L80.6,550.9 L81.2,551.5 L81.8,552.4 L82.4,551.8 L83,552.1 L83.6,553 L84.2,551.9 L84.8,550.3 L85.4,550.6 L86,550.8 L86.6,550.7 L87.2,550.9 L87.8,551 L88.4,550.8 L89,550.5 L89.6,550.3 L90.2,550.9 L90.8,551.8 L91.4,551 L92,550 L92.6,550.4 L93.2,550.2 L93.8,549.9 L94.4,549.4 L95,549.6 L95.6,550.2 L96.2,548.9 L96.8,548 L97.4,549.6 L98,549.8 L98.6,548.4 L99.2,547.8 L99.8,548.6 L100.4,548.7 L101,548.4 L101.6,548 L102.2,547.7 L102.8,547.5 L103.4,548.7 L104,549.8 L104.6,550.7 L105.2,550.1 L105.8,549.5 L106.4,549.1 L107,548.7 L107.6,548.1 L108.2,547.8 L108.8,547.6 L109.4,548.7 L110,549.3 L110.6,549 L111.2,548.9 L111.8,549 L112.4,548.7 L113,548.4 L113.6,548.4 L114.2,547.2 L114.8,546.1 L115.4,545.8 L116,545.5 L116.6,545.2 L117.2,545.9 L117.8,546.4 L118.4,546.4 L119,546.6 L119.6,546.8 L120.2,546.6 L120.8,545.8 L121.4,546.8 L122,547.3 L122.6,547.5 L123.2,547.3 L123.8,546.8 L124.4,545.3 L125,544.1 L125.6,546.2 L126.2,546 L126.8,545.9 L127.4,546.4 L128,546.2 L128.6,545.3 L129.2,545.4 L129.8,545.5 L130.4,545.1 L131,544.5 L131.6,545 L132.2,545.2 L132.8,545.4 L133.4,544.8 L134,544.2 L134.6,544.5 L135.2,544.2 L135.8,543.9 L136.4,544 L137,543.7 L137.6,543.1 L138.2,542.8 L138.8,543 L139.4,541.3 L140,541 L140.6,541.6 L141.2,542.3 L141.8,543 L142.4,542.8 L143,542.7 L143.6,541.4 L144.2,540.8 L144.8,540.9 L145.4,541.3 L146,541.5 L146.6,541.3 L147.2,541.1 L147.8,541 L148.4,540.7 L149,540.6 L149.6,540.6 L150.2,541.2 L150.8,541.1 L151.4,539.9 L152,539.4 L152.6,539.2 L153.2,540.1 L153.8,541.3 L154.4,540.5 L155,539.8 L155.6,540.7 L156.2,540.7 L156.8,539.8 L157.4,539.3 L158,539.9 L158.6,540.9 L159.2,540.8 L159.8,539.6 L160.4,538.6 L161,537.7 L161.6,538.5 L162.2,538.5 L162.8,538.3 L163.4,538.1 L164,537.9 L164.6,538 L165.2,537.5 L165.8,536.6 L166.4,537 L167,537.8 L167.6,538.4 L168.2,538.7 L168.8,538.8 L169.4,538.8 L170,538.7 L170.6,538 L171.2,537.2 L171.8,537.3 L172.4,539.4 L173,539 L173.6,537.7 L174.2,537.4 L174.8,537.8 L175.4,537.9 L176,538 L176.6,538.1 L177.2,537.9 L177.8,537.4 L178.4,536.8 L179,536.5 L179.6,536.8 L180.2,537.4 L180.8,538.2 L181.4,538.3 L182,537.2 L182.6,535.3 L183.2,535.1 L183.8,534.8 L184.4,533.4 L185,533.6 L185.6,534.7 L186.2,535.3 L186.8,535.6 L187.4,535.2 L188,535.2 L188.6,536.7 L189.2,536.1 L189.8,535.4 L190.4,535 L191,533.8 L191.6,531.3 L192.2,531.6 L192.8,532.2 L193.4,532.8 L194,532.3 L194.6,530.6 L195.2,528.6 L195.8,526.1 L196.4,524.7 L197,523.7 L197.6,523.9 L198.2,524.3 L198.8,525.6 L199.4,527.8 L200,529.6 L200.6,530.8 L201.2,532.3 L201.8,533.7 L202.4,531.3 L203,530.5 L203.6,531.7 L204.2,533.4 L204.8,534.9 L205.4,534.4 L206,533.9 L206.6,533.4 L207.2,532.7 L207.8,532 L208.4,530.9 L209,530.5 L209.6,531 L210.2,531.3 L210.8,531.1 L211.4,530.6 L212,530.7 L212.6,532.2 L213.2,532.4 L213.8,532.2 L214.4,531.5 L215,530.8 L215.6,531.5 L216.2,531.2 L216.8,530.5 L217.4,530.5 L218,530.5 L218.6,529.9 L219.2,530.1 L219.8,531.7 L220.4,529.6 L221,528.8 L221.6,529.5 L222.2,530.2 L222.8,530.9 L223.4,530.9 L224,530.1 L224.6,528.3 L225.2,528.4 L225.8,528.6 L226.4,529 L227,528.8 L227.6,528.4 L228.2,528 L228.8,527.9 L229.4,528.1 L230,528.2 L230.6,528.2 L231.2,528.6 L231.8,529.1 L232.4,528 L233,526.9 L233.6,528.3 L234.2,528.5 L234.8,527.9 L235.4,528.3 L236,528.3 L236.6,527.6 L237.2,529 L237.8,529.5 L238.4,527.4 L239,525.5 L239.6,527.1 L240.2,527.2 L240.8,525.7 L241.4,525.4 L242,525.4 L242.6,525.6 L243.2,524.9 L243.8,523.1 L244.4,522.9 L245,522.4 L245.2,522.1 L245.2,522 L245.3,522 L245.3,521.9 L245.4,521.8 L245.4,521.7 L245.5,521.6 L245.6,521.5 L245.6,521.5 L245.7,521.4 L245.7,521.3 L245.8,521.2 L245.8,521.1 L245.8,521 L245.9,520.7 L245.9,520.5 L246,520.3 L246.1,520 L246.1,519.8 L246.2,519.5 L246.2,519.2 L246.2,519 L246.3,518.7 L246.3,518.5 L246.4,518.2 L246.4,517.9 L246.5,517.6 L246.6,517.3 L246.6,517 L246.7,516.7 L246.7,516.4 L246.8,516.1 L246.8,515.8 L246.8,515.5 L246.9,515.1 L246.9,515 L247,514.9 L247.1,514.8 L247.1,514.6 L247.2,514.5 L247.2,514.4 L247.2,514.2 L247.3,514.1 L247.3,513.9 L247.4,513.7 L247.4,513.5 L247.5,513.3 L247.6,513.1 L247.6,512.9 L247.7,512.6 L247.7,512.4 L247.8,512.1 L247.8,511.8 L247.8,511.5 L247.9,511 L247.9,510.5 L248,510 L248.1,509.4 L248.1,508.8 L248.2,508.2 L248.2,507.6 L248.2,507 L248.3,506.3 L248.3,505.5 L248.4,504.8 L248.4,503.9 L248.5,503 L248.6,502.1 L248.6,501 L248.7,499.9 L248.7,498.6 L248.8,497.1 L248.8,495.5 L248.8,493.6 L248.9,491.3 L248.9,488.7 L249,485.7 L249.1,482 L249.1,477.5 L249.2,472.2 L249.2,465.8 L249.2,458.2 L249.3,449 L249.3,438.1 L249.4,425 L249.4,409.5 L249.5,391 L249.6,369.3 L249.6,343.7 L249.7,313.8 L249.7,300 L249.8,300 L249.8,300 L249.8,300 L249.9,300 L249.9,300 L250,300 L250.1,300 L250.1,300 L250.2,300 L250.2,300 L250.2,300 L250.3,300 L250.3,300 L250.4,300 L250.4,300 L250.5,300 L250.6,300 L250.6,300 L250.7,300 L250.7,300 L250.8,300 L250.8,300 L250.8,300 L250.9,300 L250.9,300 L251,300 L251.1,300 L251.1,300 L251.2,300 L251.2,300 L251.2,300 L251.3,300 L251.3,300 L251.4,300 L251.4,300 L251.5,300 L251.6,300 L251.6,300 L251.7,300 L251.7,300 L251.8,300 L251.8,300 L251.8,300 L251.9,300 L251.9,300 L252,300 L252.1,300 L252.1,300 L252.2,300 L252.2,300 L252.2,300 L252.3,300 L252.3,300 L252.4,300 L252.4,300 L252.5,300 L252.6,300 L252.6,300 L252.7,300 L252.7,300 L252.8,313.2 L252.8,343 L252.8,368.5 L252.9,390.1 L252.9,408.4 L253,423.9 L253.1,436.8 L253.1,447.6 L253.2,456.7 L253.2,464.2 L253.2,470.4 L253.3,475.6 L253.3,479.9 L253.4,483.6 L253.4,486.6 L253.5,489.2 L253.6,491.3 L253.6,493.2 L253.7,494.8 L253.7,496.2 L253.8,497.5 L253.8,498.6 L253.8,499.6 L253.9,500.6 L253.9,501.4 L254,502.2 L254.1,502.9 L254.1,503.6 L254.2,504.2 L254.2,504.9 L254.2,505.4 L254.3,506 L254.3,506.5 L254.4,507 L254.4,507.5 L254.5,507.9 L254.6,508.4 L254.6,508.8 L254.7,509.1 L254.7,509.5 L254.8,509.8 L254.8,510.1 L254.8,510.4 L254.9,510.7 L254.9,511 L255,511.2 L255.1,511.5 L255.1,511.7 L255.2,512 L255.2,512.2 L255.2,512.4 L255.3,512.6 L255.3,512.8 L255.4,513 L255.4,513.2 L255.5,513.3 L255.6,513.5 L255.6,513.7 L255.7,513.8 L255.7,513.9 L255.8,514.1 L255.8,514.2 L255.8,514.4 L255.9,514.5 L255.9,514.6 L256,514.7 L256.1,514.8 L256.1,514.9 L256.1,515 L256.2,515.1 L256.2,515.2 L256.3,515.3 L256.4,515.4 L256.4,515.4 L256.4,515.5 L256.5,515.6 L256.6,515.6 L256.6,515.7 L256.6,515.8 L256.7,515.8 L256.8,515.9 L256.8,515.9 L256.9,516 L256.9,516 L256.9,516.1 L257,516.1 L257.1,516.2 L257.1,516.2 L257.1,516.3 L257.6,516.6 L258.2,516.6 L258.8,516.3 L259.4,516.2 L260,515.9 L260.6,515.5 L261.2,514.6 L261.8,513.2 L262.4,512.8 L263,513.1 L263.6,513.4 L264.2,514.8 L264.8,516.1 L265.4,516.4 L266,516.5 L266.6,516.1 L267.2,517.2 L267.8,518.8 L268.4,519.4 L269,519.3 L269.6,518.8 L270.2,518.9 L270.8,519 L271.4,519.4 L272,519.8 L272.6,519.5 L273.2,520.1 L273.8,521.4 L274.4,522 L275,522.3 L275.6,522.2 L276.2,522 L276.8,521.6 L277.4,521.6 L278,521.7 L278.6,522 L279.2,522.8 L279.8,523 L280.4,521.7 L281,521.4 L281.6,521.8 L282.2,521.8 L282.8,521.5 L283.4,521.1 L284,520.9 L284.6,521.7 L285.2,522.5 L285.8,522.7 L286.4,521.4 L287,520.9 L287.6,521.9 L288.2,522.3 L288.8,521.9 L289.4,521.5 L290,520.8 L290.6,520.5 L291.2,517.6 L291.8,514 L292.4,511.7 L293,507 L293.6,502.1 L294.2,500.7 L294.8,502.6 L295.4,505.5 L296,508.6 L296.6,514.2 L297.2,517.2 L297.8,518.5 L298.4,519.3 L299,519.6 L299.6,519.6 L300.2,520 L300.8,521 L301.4,521.7 L302,522.2 L302.6,521.5 L303.2,520.7 L303.8,519.7 L304.4,518.4 L305,516.4 L305.6,513.4 L306.2,510.3 L306.8,507.3 L307.4,504.8 L308,504.7 L308.6,507.6 L309.2,511.5 L309.8,515.6 L310.4,517.8 L311,519 L311.6,520.1 L312.2,520.7 L312.8,520.9 L313.4,521.6 L314,522.6 L314.6,522.7 L315.2,523.3 L315.8,523.3 L316.4,522.2 L317,521.6 L317.6,521.5 L318.2,521.5 L318.8,521.9 L319.4,521.4 L320,521.6 L320.6,522.1 L321.2,521.9 L321.8,521.6 L322.4,521.2 L323,521.3 L323.6,521.7 L324.2,522.2 L324.8,522.7 L325.4,522.7 L326,522.6 L326.6,521.8 L327.2,521.5 L327.8,522 L328.4,522 L329,521.9 L329.6,522 L330.2,521.8 L330.8,520.9 L331.4,520 L332,519.9 L332.6,520.8 L333.2,520.6 L333.8,520 L334.4,520.4 L335,520.8 L335.6,520.9 L336.2,521.6 L336.8,522.3 L337.4,521 M347.5,518.6 L348.1,519 L348.7,519.2 L349.3,519.3 L349.9,519.6 L350.5,520.2 L351.1,519.5 L351.7,520.8 L352.3,522.8 L352.9,523.4 L353.5,522.5 L354.1,520.6 L354.7,518.7 L355.3,519.7 L355.9,520.9 L356.5,521.9 L357.1,521.8 L357.7,521.2 L358.3,520.6 L358.9,521.8 L359.5,524.4 L360.1,523.4 L360.7,523.2 L361.3,525.5 L361.9,525.8 L362.5,525.9 L363.1,527 L363.7,527.6 L364.3,525.4 L364.9,527.1 L365.5,528.9 L366.1,527.1 L366.7,525.6 L367.3,528 L367.9,529.6 L368.5,529.3 L369.1,529.2 L369.7,529 L370.3,527.7 L370.9,528.8 L371.5,531.2 L372.1,530.7 L372.7,529.5 L373.3,527.1 L373.9,526.7 L374.5,526.2 L375.1,528 L375.7,529.3 L376.3,529.4 L376.9,530.7 L377.5,531.9 L378.1,531.7 L378.7,531.7 L379.3,531.9 L379.9,531.4 L380.5,531 L381.1,531.7 L381.7,532.3 L382.3,530.6 L382.9,528.9 L383.5,527.4 L384.1,526.1 L384.7,525.4 L385.3,525.8 L385.9,524.3 L386.5,521 L387.1,518.2 L387.7,517.7 L388.3,519.9 L388.9,523.1 L389.5,526.3 L390.1,529.7 L390.7,530.3 L391.3,529 L391.9,530.6 L392.5,532.1 L393.1,533.5 L393.7,533.8 L394.3,533 L394.9,531.9 L395.5,530.2 L396.1,528 L396.7,523.4 L397.3,516.9 L397.9,513.7 L398.5,514.4 L399.1,518.7 L399.7,523.5 L400.3,528.1 L400.9,530.7 L401.5,532.2 L402.1,533.3 L402.7,533.7 L403.3,533.9 L403.9,535.2 L404.5,537 L405.1,537.3 L405.7,537.1 L406.3,536.3 L406.9,535.9 L407.5,536.4 L408.1,536.3 L408.7,536 L409.3,537.9 L409.9,537.9 L410.5,537.4 L411.1,538 L411.7,539.2 L412.3,539.4 L412.9,539 L413.5,538.2 L414.1,538.8 L414.7,539.2 L415.3,539.2 L415.9,539.6 L416.5,540 L417.1,539 L417.7,538.2 L418.3,540 L418.9,541 L419.5,542 L420.1,541.4 L420.7,540.2 L421.3,539.2 L421.9,539.3 L422.5,540 L423.1,541.5 L423.7,541.5 L424.3,538.9 L424.9,538.1 L425.5,537.8 L426.1,538.5 L426.7,539.2 L427.3,537.6 L427.9,536.3 L428.5,535.2 L429.1,534.9 L429.7,535.1 L430.3,536.1 L430.9,536.4 L431.5,535.6 L432.1,536.7 L432.7,537.9 L433.3,535.8 L433.9,534.3 L434.5,533.2 L435.1,533.2 L435.7,533.4 L436.1,532.8 L436.1,532.7 L436.2,532.7 L436.2,532.6 L436.3,532.5 L436.4,532.4 L436.4,532.3 L436.4,532.2 L436.5,532.1 L436.6,532 L436.6,532 L436.6,532.1 L436.7,532.2 L436.8,532.3 L436.8,532.4 L436.9,532.5 L436.9,532.6 L436.9,532.6 L437,532.7 L437.1,532.8 L437.1,532.9 L437.1,533 L437.2,533 L437.2,533.1 L437.3,533.1 L437.4,533.2 L437.4,533.3 L437.4,533.3 L437.5,533.4 L437.6,533.4 L437.6,533.4 L437.6,533.4 L437.7,533.2 L437.8,532.9 L437.8,532.6 L437.9,532.3 L437.9,532 L437.9,531.7 L438,531.1 L438.1,530.8 L438.1,530.5 L438.1,530.2 L438.2,529.9 L438.2,529.6 L438.3,529.3 L438.4,529 L438.4,528.6 L438.4,528.3 L438.5,527.9 L438.6,527.5 L438.6,527.2 L438.6,527.1 L438.7,526.9 L438.8,526.7 L438.8,526.5 L438.9,526.3 L438.9,526.1 L438.9,525.9 L439,525.6 L439.1,525.4 L439.1,525.1 L439.1,524.8 L439.2,524.4 L439.2,524.1 L439.3,523.7 L439.4,523.3 L439.4,522.9 L439.4,522.4 L439.5,521.8 L439.6,521 L439.6,520.2 L439.6,519.3 L439.7,518.3 L439.8,517.1 L439.8,515.8 L439.9,514.3 L439.9,512.5 L439.9,510.4 L440,507.8 L440.1,504.8 L440.1,501 L440.1,496.5 L440.2,490.9 L440.2,484.1 L440.3,475.7 L440.4,465.5 L440.4,453.1 L440.4,438.2 L440.5,420.1 L440.6,398.4 L440.6,372.5 L440.6,341.8 L440.7,305.6 L440.8,300 L440.8,300 L440.9,300 L440.9,300 L440.9,300 L441,300 L441.1,300 L441.1,300 L441.1,300 L441.2,300 L441.2,300 L441.3,300 L441.4,300 L441.4,300 L441.4,300 L441.5,300 L441.6,300 L441.6,300 L441.6,300 L441.7,300 L441.8,300 L441.8,300 L441.9,300 L441.9,300 L441.9,300 L442,300 L442.1,300 L442.1,300 L442.1,300 L442.2,300 L442.2,300 L442.3,300 L442.4,300 L442.4,300 L442.4,300 L442.5,300 L442.6,300 L442.6,300 L442.6,300 L442.7,300 L442.8,300 L442.8,300 L442.9,300 L442.9,300 L442.9,300 L443,300 L443.1,300 L443.1,300 L443.1,300 L443.2,300 L443.2,300 L443.3,300 L443.4,300 L443.4,300 L443.4,300 L443.5,325 L443.6,360.4 L443.6,390.3 L443.6,415.4 L443.7,436.4 L443.8,453.7 L443.8,468 L443.9,479.7 L443.9,489.2 L443.9,496.8 L444,503 L444.1,507.9 L444.1,511.8 L444.1,515 L444.2,517.5 L444.2,519.4 L444.3,521 L444.4,522.3 L444.4,523.3 L444.4,524.4 L444.5,525.3 L444.6,526 L444.6,526.7 L444.6,527.3 L444.7,527.9 L444.8,528.4 L444.8,528.9 L444.9,529.3 L444.9,529.7 L444.9,530.1 L445,530.5 L445.1,530.9 L445.1,531.2 L445.1,531.6 L445.2,531.9 L445.2,532.2 L445.3,532.5 L445.4,532.8 L445.4,533.1 L445.4,533.4 L445.5,533.7 L445.6,533.9 L445.6,534.2 L445.6,534.5 L445.7,534.7 L445.8,534.9 L445.8,535.1 L445.9,535.2 L445.9,535.4 L445.9,535.5 L446,535.7 L446.1,535.8 L446.1,535.9 L446.1,536.1 L446.2,536.2 L446.2,536.3 L446.3,536.4 L446.4,536.5 L446.4,536.6 L446.4,536.7 L446.5,536.8 L446.6,536.9 L446.6,537 L446.6,537.2 L446.7,537.4 L446.8,537.6 L446.8,537.8 L446.9,538 L446.9,538.2 L446.9,538.4 L447,538.6 L447.1,538.8 L447.1,539 L447.1,539.2 L447.2,539.3 L447.2,539.5 L447.3,539.7 L447.4,539.9 L447.4,540.1 L447.4,540.1 L447.5,540.1 L447.6,540.1 L447.6,540.1 L447.6,540.1 L447.7,540.1 L447.8,540.1 L447.8,540.1 L447.9,540.1 L447.9,540.1 L447.9,540.1 L448,540.1 L448.1,540.1 L448.3,540 L448.9,540.4 L449.5,541.2 L450.1,540.4 L450.7,540.1 L451.3,540.2 L451.9,541 L452.5,542.4 L453.1,543.5 L453.7,544.5 L454.3,543.9 L454.9,544.7 L455.5,546 L456.1,545 L456.7,544.3 L457.3,544.4 L457.9,544.5 L458.5,544.6 L459.1,544.7 L459.7,544.7 L460.3,544.7 L460.9,544.9 L461.5,545.6 L462.1,545.6 L462.7,545.5 L463.3,545.6 L463.9,547.3 L464.5,548.6 L465.1,548.3 L465.7,547.7 L466.3,547.1 L466.9,546.5 L467.5,546.2 L468.1,545.6 L468.7,545.2 L469.3,546.6 L469.9,547.1 L470.5,546.9 L471.1,548.6 L471.7,548.8 L472.3,546.3 L472.9,547.6 L473.5,548.9 L474.1,549.5 L474.7,549.3 L475.3,548.4 L475.9,548.9 L476.5,550.6 L477.1,550 L477.7,549.5 L478.3,549.6 L478.9,549.1 L479.5,548.2 L480.1,549.6 L480.7,550.5 L481.3,550.7 L481.9,550.6 L482.5,550.4 L483.1,550.8 L483.7,551.1 L484.3,549.7 L484.9,548 L485.5,546.7 L486.1,547.7 L486.7,548.7 L487.3,549.6 L487.9,549 L488.5,547.5 L489.1,548.3 L489.7,548.6 L490.3,547.7 L490.9,547.1 L491.5,547 L492.1,544.9 L492.7,543.3 L493.3,542.8 L493.9,542.6 L494.5,543.6 L495.1,544.2 L495.7,545.1 L496.3,545.6 L496.9,547.6 L497.5,550 L498.1,550.3 L498.7,550.3 L499.3,550 L499.9,549.4 L500.5,548.8 L501.1,550.1 L501.7,551.1 L502.3,550 L502.9,550.6 L503.5,551 L504.1,551.1 L504.7,550.5 L505.3,549.7 L505.9,549.9 L506.5,550.3 L507.1,551.1 L507.7,551.5 L508.3,551.2 L508.9,550.7 L509.5,550 L510.1,550.7 L510.7,552.3 L511.3,552.3 L511.9,552.1 L512.5,551.7 L513.1,552.1 L513.7,552.6 L514.3,552.2 L514.9,552.1 L515.5,552.1 L516.1,552.8 L516.7,553.3 L517.3,551.8 L517.9,551.4 L518.5,551.4 L519.1,552 L519.7,552.7 L520.3,552 L520.9,551.9 L521.5,553.3 L522.1,552.8 L522.7,551.7 L523.3,550.9 L523.9,551.6 L524.5,551.6 L525.1,550.5 L525.7,551 L526.3,552.7 L526.9,552.9 L527.5,552.1 L528.1,552.5 L528.7,552.8 L529.3,552.7 L529.9,552.5 L530.5,552.2 L531.1,551.7 L531.7,551.2 L532.3,553.2 L532.9,553.1 L533.5,553 L534.1,553 L534.7,552.9 L535.3,552.4 L535.9,554.4 L536.5,556.2 L537.1,555.4 L537.7,554.7 L538.3,554.4 L538.9,553.7 L539.5,552.8 L540.1,554.2 L540.7,555.3 L541.3,554.5 L541.9,555.2 L542.5,555.7 L543.1,555.3 L543.7,554.8 L544.3,554.2 L544.9,554.9 L545.5,555.7 L546.1,554.8 L546.7,553.6 L547.3,553.5 L547.9,553.8 L548.5,554.7 L549.1,555.3 L549.7,555.7 L550.3,555.9 L550.9,555.7 L551.5,554.9 L552.1,555 L552.7,555.2 L553.3,555.4 L553.9,555.3 L554.5,555.1 L555.1,555 L555.7,555.2 L556.3,555.9 L556.9,555.7 L557.5,555.2 L558.1,555.4 L558.7,555.9 L559.3,556.8 L559.9,556.6 L560.5,556 L561.1,555.6 L561.7,555.2 L562.3,556.2 L562.9,555.8 L563.5,555.6 L564.1,556.1 L564.7,556 L565.3,555.4 L565.9,555 L566.5,555.1 L567.1,554.7 L567.7,555.6 L568.3,557.1 L568.9,557.3 L569.5,557.4 L570.1,557.2 L570.7,556.8 L571.3,556.3 L571.9,556.1 L572.5,555.9 L573.1,555.7 L573.7,555.9 L574.3,556.4 L574.9,556.3 L575.5,555.9 L576.1,555.5 L576.7,555.3 L577.3,556.9 L577.9,557.5 L578.5,557.6 L579.1,557.5 L579.7,557.3 L580.3,557.1 L580.9,557 L581.5,557 L582.1,557.2 L582.7,557.3 L583.3,557.3 L583.9,557 L584.5,555.8 L585.1,556.2 L585.7,556.2 L586.3,555.7 L586.9,556.7 L587.5,557.7 L588.1,556.4 L588.7,555.3 L589.3,555.4 L589.9,555.5 L590.5,555.6 L591.1,556.6 L591.7,556.7 L592.3,556.3 L592.9,557.9 L593.5,559.2 L594.1,558.8 L594.7,557.9 L595.3,556.5 L595.9,556.4 L596.5,557.8 L597.1,558.3 L597.7,558.1 L598.3,557.2 L598.9,557 L599.5,557.7 L600.1,557.9 L600.7,557.7 L601.3,557.2 L601.9,557.2 L602.5,557.4 L603.1,557.6 L603.7,557.7 L604.3,557.1 L604.9,556.8 L605.5,556.9 L606.1,556 L606.7,556.2 L607.3,557.1 L607.9,556.6 L608.5,555.8 L609.1,557.3 L609.7,558.4 L610.3,559 L610.9,559.3 L611.5,559.1 L612.1,558.2 L612.7,557.9 L613.3,558.6 L613.9,558.5 L614.5,558.2 L615.1,558.4 L615.7,558.5 L616.3,557.8 L616.9,557.5 L617.5,557.4 L618.1,557.6 L618.7,557.9 L619.3,557.2 L619.9,557.4 L620.5,558.3 L621.1,558.1 L621.7,557.4 L622.3,556.8 L622.9,556.1 L623.5,555.1 L624.1,553.9 L624.7,552.7 L625.3,551.6 L625.9,549.8 L626.5,549.1 L627.1,549.7 L627.7,551.3 L628.3,554.3 L628.9,555.9 L629.5,555.8 L630.1,556.2 L630.7,556.5 L631.3,556.7 L631.9,557.5 L632.5,558.6 L633.1,557.8 L633.7,557.2 L634.3,557.3 L634.9,558 L635.5,559 L636.1,559.1 L636.7,559.2 L637.3,559.4 L637.9,558.5 L638.5,557.2 L639.1,558 L639.7,558.2 L640.3,557.6 L640.9,558.2 L641.5,558.6 L642.1,557.5 L642.7,557.2 L643.3,558.2 L643.9,558.9 L644.5,559.6 L645.1,559.3 L645.7,558.7 L646.3,556.7 L646.9,557.5 L647.5,559.3 L648.1,559.3 L648.7,558.9 L649.3,558.5 L649.9,558.7 L650.5,558.9 L651.1,558.9 L651.7,559.3 L652.3,560.1 L652.9,560.5 L653.5,559.9 L654.1,558.9 L654.7,557.9 L655.3,558.2 L655.9,559.1 L656.5,560.6 L657.1,560.2"/>
</g>
<g fill="none" stroke="#222" stroke-width="1">
<path d="M30.8 325.8H340.4 M347.7 325.8H658 M30.8 566.5H340.4 M347.7 566.5H658 M30.8 325.8V566.5 M658 325.8V566.5"/>
<path d="M30.8 326v6.5 M30.8 566v-2.2 M36.5 326v3 M36.5 566v-2.2 M42.2 326v3 M42.2 566v-2.2 M47.9 326v3 M47.9 566v-2.2 M53.5 326v4.5 M53.5 566v-2.2 M59.2 326v3 M59.2 566v-2.2 M64.9 326v3 M64.9 566v-2.2 M70.6 326v3 M70.6 566v-2.2 M76.3 326v6.5 M76.3 566v-2.2 M82 326v3 M82 566v-2.2 M87.7 326v3 M87.7 566v-2.2 M93.4 326v3 M93.4 566v-2.2 M99 326v4.5 M99 566v-2.2 M104.7 326v3 M104.7 566v-2.2 M110.4 326v3 M110.4 566v-2.2 M116.1 326v3 M116.1 566v-2.2 M121.8 326v6.5 M121.8 566v-2.2 M127.5 326v3 M127.5 566v-2.2 M133.2 326v3 M133.2 566v-2.2 M138.9 326v3 M138.9 566v-2.2 M144.6 326v4.5 M144.6 566v-2.2 M150.2 326v3 M150.2 566v-2.2 M155.9 326v3 M155.9 566v-2.2 M161.6 326v3 M161.6 566v-2.2 M167.3 326v6.5 M167.3 566v-2.2 M173 326v3 M173 566v-2.2 M178.7 326v3 M178.7 566v-2.2 M184.4 326v3 M184.4 566v-2.2 M190.1 326v4.5 M190.1 566v-2.2 M195.7 326v3 M195.7 566v-2.2 M201.4 326v3 M201.4 566v-2.2 M207.1 326v3 M207.1 566v-2.2 M212.8 326v6.5 M212.8 566v-2.2 M218.5 326v3 M218.5 566v-2.2 M224.2 326v3 M224.2 566v-2.2 M229.9 326v3 M229.9 566v-2.2 M235.6 326v4.5 M235.6 566v-2.2 M241.2 326v3 M241.2 566v-2.2 M246.9 326v3 M246.9 566v-2.2 M252.6 326v3 M252.6 566v-2.2 M258.3 326v6.5 M258.3 566v-2.2 M264 326v3 M264 566v-2.2 M269.7 326v3 M269.7 566v-2.2 M275.4 326v3 M275.4 566v-2.2 M281.1 326v4.5 M281.1 566v-2.2 M286.7 326v3 M286.7 566v-2.2 M292.4 326v3 M292.4 566v-2.2 M298.1 326v3 M298.1 566v-2.2 M303.8 326v6.5 M303.8 566v-2.2 M309.5 326v3 M309.5 566v-2.2 M315.2 326v3 M315.2 566v-2.2 M320.9 326v3 M320.9 566v-2.2 M326.6 326v4.5 M326.6 566v-2.2 M332.2 326v3 M332.2 566v-2.2 M337.9 326v3 M337.9 566v-2.2 M351.9 326v3 M351.9 566v-2.2 M356.5 326v3 M356.5 566v-2.2 M361 326v4.5 M361 566v-2.2 M365.6 326v3 M365.6 566v-2.2 M370.1 326v3 M370.1 566v-2.2 M374.7 326v3 M374.7 566v-2.2 M379.2 326v3 M379.2 566v-2.2 M383.8 326v6.5 M383.8 566v-2.2 M388.3 326v3 M388.3 566v-2.2 M392.9 326v3 M392.9 566v-2.2 M397.4 326v3 M397.4 566v-2.2 M402 326v3 M402 566v-2.2 M406.5 326v4.5 M406.5 566v-2.2 M411.1 326v3 M411.1 566v-2.2 M415.6 326v3 M415.6 566v-2.2 M420.2 326v3 M420.2 566v-2.2 M424.7 326v3 M424.7 566v-2.2 M429.3 326v6.5 M429.3 566v-2.2 M433.8 326v3 M433.8 566v-2.2 M438.4 326v3 M438.4 566v-2.2 M442.9 326v3 M442.9 566v-2.2 M447.5 326v3 M447.5 566v-2.2 M452 326v4.5 M452 566v-2.2 M456.6 326v3 M456.6 566v-2.2 M461.1 326v3 M461.1 566v-2.2 M465.7 326v3 M465.7 566v-2.2 M470.2 326v3 M470.2 566v-2.2 M474.8 326v6.5 M474.8 566v-2.2 M479.3 326v3 M479.3 566v-2.2 M483.9 326v3 M483.9 566v-2.2 M488.4 326v3 M488.4 566v-2.2 M493 326v3 M493 566v-2.2 M497.5 326v4.5 M497.5 566v-2.2 M502.1 326v3 M502.1 566v-2.2 M506.6 326v3 M506.6 566v-2.2 M511.2 326v3 M511.2 566v-2.2 M515.8 326v3 M515.8 566v-2.2 M520.3 326v6.5 M520.3 566v-2.2 M524.8 326v3 M524.8 566v-2.2 M529.4 326v3 M529.4 566v-2.2 M533.9 326v3 M533.9 566v-2.2 M538.5 326v3 M538.5 566v-2.2 M543 326v4.5 M543 566v-2.2 M547.6 326v3 M547.6 566v-2.2 M552.1 326v3 M552.1 566v-2.2 M556.7 326v3 M556.7 566v-2.2 M561.2 326v3 M561.2 566v-2.2 M565.8 326v6.5 M565.8 566v-2.2 M570.3 326v3 M570.3 566v-2.2 M574.9 326v3 M574.9 566v-2.2 M579.4 326v3 M579.4 566v-2.2 M584 326v3 M584 566v-2.2 M588.5 326v4.5 M588.5 566v-2.2 M593.1 326v3 M593.1 566v-2.2 M597.6 326v3 M597.6 566v-2.2 M602.2 326v3 M602.2 566v-2.2 M606.8 326v3 M606.8 566v-2.2 M611.3 326v6.5 M611.3 566v-2.2 M615.8 326v3 M615.8 566v-2.2 M620.4 326v3 M620.4 566v-2.2 M624.9 326v3 M624.9 566v-2.2 M629.5 326v3 M629.5 566v-2.2 M634 326v4.5 M634 566v-2.2 M638.6 326v3 M638.6 566v-2.2 M643.1 326v3 M643.1 566v-2.2 M647.7 326v3 M647.7 566v-2.2 M652.2 326v3 M652.2 566v-2.2 M656.8 326v6.5 M656.8 566v-2.2 M30.8 327h4 M30.8 333.6h4 M30.8 340.2h7 M30.8 346.8h4 M30.8 353.4h4 M30.8 359.9h4 M30.8 366.5h4 M30.8 373.1h7 M30.8 379.7h4 M30.8 386.3h4 M30.8 392.8h4 M30.8 399.4h4 M30.8 406h7 M30.8 412.6h4 M30.8 419.2h4 M30.8 425.7h4 M30.8 432.3h4 M30.8 438.9h7 M30.8 445.5h4 M30.8 452.1h4 M30.8 458.6h4 M30.8 465.2h4 M30.8 471.8h7 M30.8 478.4h4 M30.8 485h4 M30.8 491.5h4 M30.8 498.1h4 M30.8 504.7h7 M30.8 511.3h4 M30.8 517.9h4 M30.8 524.4h4 M30.8 531h4 M30.8 537.6h7 M30.8 544.2h4 M30.8 550.8h4 M30.8 557.3h4 M30.8 563.9h4 M658 329.9h-3.3 M658 333h-3.3 M658 336.1h-3.3 M658 339.2h-3.3 M658 342.2h-3.3 M658 345.3h-6 M658 348.4h-3.3 M658 351.4h-3.3 M658 354.5h-3.3 M658 357.6h-3.3 M658 360.6h-3.3 M658 363.7h-6 M658 366.8h-3.3 M658 369.9h-3.3 M658 372.9h-3.3 M658 376h-3.3 M658 379.1h-3.3 M658 382.1h-6 M658 385.2h-3.3 M658 388.3h-3.3 M658 391.3h-3.3 M658 394.4h-3.3 M658 397.5h-3.3 M658 400.6h-6 M658 403.6h-3.3 M658 406.7h-3.3 M658 409.8h-1.2 M658 412.8h-1.2 M658 415.9h-1.2 M658 419h-1.2 M658 422h-1.2 M658 425.1h-1.2 M658 428.2h-1.2 M658 431.3h-1.2 M658 434.3h-1.2 M658 437.4h-1.2 M658 440.5h-1.2 M658 443.5h-1.2 M658 446.6h-1.2 M658 449.7h-1.2 M658 452.7h-1.2 M658 455.8h-1.2 M658 458.9h-1.2 M658 462h-1.2 M658 465h-1.2 M658 468.1h-1.2 M658 471.2h-1.2 M658 474.2h-1.2 M658 477.3h-1.2 M658 480.4h-1.2 M658 483.4h-1.2 M658 486.5h-1.2 M658 489.6h-1.2 M658 492.7h-1.2 M658 495.7h-1.2 M658 498.8h-1.2 M658 501.9h-1.2 M658 504.9h-1.2 M658 508h-1.2 M658 511.1h-1.2 M658 514.1h-1.2 M658 517.2h-1.2 M658 520.3h-1.2 M658 523.4h-1.2 M658 526.4h-1.2 M658 529.5h-1.2 M658 532.6h-1.2 M658 535.6h-1.2 M658 538.7h-1.2 M658 541.8h-1.2 M658 544.9h-1.2 M658 547.9h-1.2 M658 551h-1.2 M658 554.1h-1.2 M658 557.1h-1.2 M658 560.2h-1.2 M658 563.3h-1.2" stroke-width="0.9"/>
<path d="M336.1 333.5L344.8 317.5 M343 333.5L351.8 317.5 M336.1 574.8L344.8 558.8 M343 574.8L351.8 558.8" stroke-width="1.2"/>
</g>
<g font-size="9.8" text-anchor="middle" fill="#222">
<text x="30.4" y="578.3">1000</text>
<text x="73.9" y="578.3">900</text>
<text x="116.2" y="578.3">800</text>
<text x="159.7" y="578.3">700</text>
<text x="200.8" y="578.3">600</text>
<text x="244.3" y="578.3">500</text>
<text x="287.3" y="578.3">400</text>
<text x="388.9" y="578.3">−400</text>
<text x="432.2" y="578.3">−500</text>
<text x="475" y="578.3">−600</text>
<text x="517.3" y="578.3">−700</text>
<text x="560.2" y="578.3">−800</text>
<text x="603" y="578.3">−900</text>
<text x="644.8" y="578.3">−1000</text>
</g>
<text x="299.5" y="597" class="b" font-size="10.35">Wavenumber (cm<tspan font-size="7.5" dy="-4">−1</tspan><tspan dy="4">)</tspan></text>
<g font-size="7.4" fill="#111" font-weight="bold">
<text x="35.3" y="434.8">6.5 s</text>
<text x="35.3" y="463.8">6.0 s</text>
<text x="35.3" y="492.1">4.0 s</text>
<text x="35.3" y="518.7">3.5 s</text>
<text x="35.3" y="545.6">1.5 s</text>
</g>
<g font-size="7.4" class="b">
<text x="68.2" y="415" fill="#1ab0ec" font-weight="bold">1005 K</text>
<text x="69.6" y="455.2" fill="#1ab0ec" font-weight="bold">1336 K</text>
<text x="70.7" y="482" fill="#1ab0ec" font-weight="bold">1236 K</text>
<text x="73" y="511.2" fill="#1ab0ec" font-weight="bold">1526 K</text>
<text x="74.7" y="536.4" fill="#1ab0ec" font-weight="bold">1911 K</text>
<text x="126.1" y="413.6" fill="#20a850" font-weight="bold">754 K</text>
<text x="126.1" y="441.6" fill="#20a850" font-weight="bold">717 K</text>
<text x="161.7" y="403.9" fill="#f08a40" font-weight="bold">665 K</text>
<text x="161.7" y="439.7" fill="#f08a40" font-weight="bold">634 K</text>
<text x="165.8" y="473.1" fill="#f08a40" font-weight="bold">572 K</text>
<text x="165.8" y="500.8" fill="#f08a40" font-weight="bold">925 K</text>
<text x="165.8" y="523.8" fill="#f08a40" font-weight="bold">753 K</text>
<text x="192.2" y="389.2" fill="#8040c0" font-weight="bold">693 K</text>
<text x="215.2" y="458.5" fill="#8040c0" font-weight="bold">795 K</text>
<text x="263.7" y="358.1" fill="#ff1a1a" font-weight="bold">474 K</text>
<text x="262.9" y="386.4" fill="#ff1a1a" font-weight="bold">483 K</text>
<text x="263.7" y="458.4" fill="#ff1a1a" font-weight="bold">599 K</text>
<text x="263.7" y="483.6" fill="#ff1a1a" font-weight="bold">484 K</text>
<text x="261.8" y="508.6" fill="#ff1a1a" font-weight="bold">503 K</text>
<text x="295.6" y="370.3" fill="#3a6ab0" font-weight="bold">481 K</text>
<text x="279.5" y="440.5" fill="#3a6ab0" font-weight="bold">507 K</text>
<text x="309.5" y="458.4" fill="#3a6ab0" font-weight="bold">523 K</text>
<text x="308.7" y="485.6" fill="#3a6ab0" font-weight="bold">461 K</text>
<text x="306.7" y="508.6" fill="#3a6ab0" font-weight="bold">560 K</text>
<text x="322" y="362.8" fill="#ff30d0" font-weight="bold">507 K</text>
<text x="316.4" y="444.6" fill="#ff30d0" font-weight="bold">401 K</text>
</g>
<path d="M63 424.5L66.5 418.7" stroke="#1ab0ec" stroke-width="1.1" fill="none"/>
<path d="M121.9 400.2L128.4 404.7" stroke="#20a850" stroke-width="1.1" fill="none"/>
<path d="M185.5 404.6L190.2 410.2" stroke="#f08a40" stroke-width="1.1" fill="none"/>
<path d="M208.8 380.2L218 377.4" stroke="#8040c0" stroke-width="1.1" fill="none"/>
<path d="M215.7 432.3L218 448.2" stroke="#8040c0" stroke-width="1.1" fill="none"/>
<path d="M277 349.1L287.3 343.6" stroke="#ff1a1a" stroke-width="1.1" fill="none"/>
<path d="M274.8 376.9L285 366.6" stroke="#ff1a1a" stroke-width="1.1" fill="none"/>
<path d="M299.8 386L305.9 374.1" stroke="#3a8ad8" stroke-width="1.1" fill="none"/>
<path d="M292.3 431L294.2 414.3" stroke="#3a8ad8" stroke-width="1.1" fill="none"/>
<path d="M325.3 380.5L328.9 370" stroke="#ff30d0" stroke-width="1.1" fill="none"/>
<path d="M326.7 437.9L328.9 422.6" stroke="#ff30d0" stroke-width="1.1" fill="none"/>
<text x="-0.5" y="622.3" class="b" font-size="14.5">c</text>
<rect x="453" y="636.3" width="230.6" height="152.6" fill="none" stroke="#f08a8a" stroke-width="0.9" stroke-dasharray="2 1.6"/>
<g stroke="#70d89c" stroke-width="0.9" stroke-dasharray="1.4 1.6" fill="none">
<path d="M105.8 660V771 M300.6 717V771 M605.5 723.5V771"/>
</g>
<g stroke="#3cc070" stroke-width="0.95" fill="none" stroke-linejoin="round">
<path d="M101.2 618.8L100.2 662.5 M112.9 620.7L111.9 658.5" stroke-width="0.8"/>
<path d="M94.4 671.3 L85.9 669.9 L91.5 677.4 L88.5 682.3 L72.7 677.7 L73.7 681.4 L63.2 678.7 L84.2 690.9 L82.6 694.2 L72.7 692.2 L80.3 699.4"/>
<path d="M118 664.9 L121.6 669.5 L129.1 667.9 L124.9 675.8 L127.2 679.1 L141.3 674.1 L141 677.2 L149.8 674.1 L132.7 686.3 L132.7 688.6 L141.9 687.3 L136.7 693.5 L137.7 698.4"/>
<path d="M236.5 665.3 L290 698.5 L295 701.5 L299.9 703.2 L305.2 697.5 L306.3 693.7 L300.2 687.3 L311.3 688 L312.8 683.8 L299.1 672.1 L302.1 670.9 L295.3 663 L316.9 675.1 L318.1 672.5 L311.3 664.9 L321.1 667.1"/>
<path d="M233 677.2 L292 718.5 L295.3 721.5 L295.8 724.5 L294.5 728.4 L292.7 731.5 L290 732.4 L282.5 730.6 L285.1 734.6 L287.8 739 L287.4 742.6 L285.1 744.8 L279.8 743.9 L268.7 740.3 L269.6 744.3 L259.4 741.7 L268.3 747 L278 752.3 L279.4 755.4 L277.2 758.1 L268.3 756.3 L272.7 761.2 L275.4 763.4"/>
<path d="M574.1 662.2 L578.3 666.4 L583.2 665.6 L588.2 664.5 L582.9 670.2 L582.5 674 L583.2 675.5 L590.1 672.1 L604.9 663.4 L597.7 671 L601.9 672.9 L590.1 683.1 L589.3 686.9 L591.2 690.3 L601.9 689.6 L596.9 696 L596.5 699.1 L599 704 L601.1 706.3 L606.8 705.2 L612 703.7 L670 673.8"/>
<path d="M673.2 687.8 L628.9 710 L612 719.5 L609.9 721.4 L608.4 723.7 L609.9 729.8 L612.5 732.8 L621.3 732 L616 738.1 L615.6 741.2 L617.5 743.4 L622.8 742.7 L634.2 739.6 L633.4 742.3 L643.3 740.4 L625.1 749.5 L622 753.3 L623.6 755.6 L632.7 753.3 L625.8 760.2"/>
</g>
<g stroke="#111" stroke-width="1.1" fill="none">
<path d="M22 771.3 C23.6 771.3 28.7 771.4 31.3 771.1 C33.9 770.9 35.6 770.4 37.7 769.8 C39.8 769.2 42 768.5 44 767.6 C46 766.7 47.8 766.1 49.8 764.4 C51.8 762.7 53.8 760.7 56.2 757.4 C58.6 754.1 61.5 750 64.2 744.6 C66.9 739.2 69.6 731.7 72.3 725.3 C75 718.9 77.7 712.6 80.3 706.1 C82.9 699.6 85.5 692.4 88 686.5 C90.5 680.6 92.8 675 95 671 C97.2 667 99 664.5 101 662.5 C103 660.5 105.3 659.2 107.3 658.8 C109.3 658.4 111.2 659.3 113 660.3 C114.8 661.3 115.8 661.8 118.2 664.6 C120.6 667.5 124.4 672.5 127.4 677.4 C130.5 682.3 133.8 688.9 136.5 693.8 C139.2 698.7 141.7 702.4 143.8 707 C145.9 711.6 147.5 716.4 149.3 721.2 C151.1 726 152.3 730.3 154.7 735.8 C157.1 741.3 160.8 749.1 163.9 754 C167 758.9 169.7 762.3 173 765 C176.3 767.7 180.9 769.1 183.9 770.1 C186.9 771.1 188.5 770.9 191.2 771.1 C193.9 771.3 198.5 771.3 200 771.3"/>
<path d="M245 771.5 C246.7 771.5 251.8 771.6 255.1 771.3 C258.4 771 261.8 770.4 265 769.5 C268.2 768.6 271.9 768.9 274.6 766.2 C277.4 763.5 279.1 758 281.5 753.5 C283.9 749 285.5 745.8 288.8 739.3 C292.1 732.8 297.1 723.6 301.2 714.4 C305.3 705.2 309.8 692.6 313.6 684.3 C317.5 676 321.2 669 324.3 664.8 C327.4 660.6 329.4 659.2 332.2 659.1 C335 659 338.1 661.3 341 664.2 C343.9 667.1 346.9 671.9 349.8 676.6 C352.8 681.3 356 687.8 358.7 692.5 C361.4 697.2 363.4 700.3 365.8 705 C368.2 709.7 370.8 715.9 372.9 720.9 C375 725.9 375.8 729.5 378.2 735.1 C380.6 740.7 384.1 749.6 387 754.6 C389.9 759.6 392.6 762.6 395.9 765.2 C399.1 767.9 403.6 769.5 406.5 770.5 C409.4 771.5 411.4 771.3 413.6 771.5 C415.9 771.7 418.9 771.6 420 771.6"/>
<path d="M480 771 C481.5 771 486.1 771.2 489.2 770.8 C492.3 770.4 495.4 769.5 498.7 768.6 C502 767.7 505.9 768.1 509.1 765.3 C512.3 762.5 514.7 757.4 517.7 752 C520.7 746.6 524 740 527.1 733 C530.2 726 533.4 717.8 536.6 710.2 C539.8 702.6 542.9 694.5 546.1 687.5 C549.3 680.5 552.3 673.1 555.6 668.5 C558.9 663.9 563.3 660.7 566.1 659.6 C568.9 658.5 570.2 660 572.6 661.8 C575 663.6 578.2 667.4 580.2 670.2 C582.2 673 583.1 675.6 584.8 678.8 C586.4 682 588.1 685.6 590.1 689.2 C592.1 692.8 594.7 696.5 596.9 700.6 C599.1 704.7 601.6 709.9 603.4 713.8 C605.2 717.6 605.6 718.8 607.6 723.7 C609.6 728.6 613.1 738.2 615.2 743.4 C617.4 748.5 618.9 751.8 620.5 754.6 C622.1 757.4 623.2 758.4 625.1 760.2 C627 762 629.5 764 631.9 765.5 C634.3 767 637.3 768 639.5 768.9 C641.7 769.8 642.9 770.2 645 770.6 C647.1 771 650.8 770.9 652 771"/>
</g>
<path d="M5.6 771.7H208.2 M5.6 771.7V658" stroke="#111" stroke-width="1.4" fill="none"/>
<path d="M212.2 771.7L206.7 769.3L206.7 774.1Z" fill="#111"/>
<path d="M5.6 653.5L3.2 659L8 659Z" fill="#111"/>
<path d="M230.4 771.7H431.5 M230.4 771.7V658" stroke="#111" stroke-width="1.4" fill="none"/>
<path d="M435.5 771.7L430 769.3L430 774.1Z" fill="#111"/>
<path d="M230.4 653.5L228 659L232.8 659Z" fill="#111"/>
<path d="M463.4 771.7H665.5 M463.4 771.7V658" stroke="#111" stroke-width="1.4" fill="none"/>
<path d="M669.5 771.7L664 769.3L664 774.1Z" fill="#111"/>
<path d="M463.4 653.5L461 659L465.8 659Z" fill="#111"/>
<g font-size="9.5" fill="#111">
<text x="-1" y="654" font-weight="bold">I</text><text x="224.4" y="654">I</text><text x="456.8" y="654">I</text>
<text x="214" y="775">λ</text><text x="439.9" y="775">λ</text><text x="674.2" y="775">λ</text>
</g>
<g font-size="10.5" fill="#111" text-anchor="middle">
<text x="110" y="786.3">λ = 532 nm</text><text x="332.4" y="785.3">λ = 532 nm</text><text x="567" y="786">λ = 532 nm</text>
</g>
<path d="M73.6 650L58.3 674.9" stroke="#1a72d2" stroke-width="1.8" fill="none"/><path d="M55.2 680L56.1 672.4L61.6 675.7Z" fill="#1a72d2"/>
<path d="M142.4 649.3L158.8 674.8" stroke="#f07a30" stroke-width="1.8" fill="none"/><path d="M162 679.9L155.5 675.7L160.9 672.3Z" fill="#f07a30"/>
<path d="M275.5 685.2L290.1 660.7" stroke="#f07a30" stroke-width="1.8" fill="none"/><path d="M293.2 655.6L292.4 663.3L286.9 660Z" fill="#f07a30"/>
<path d="M261.9 709.5L246.7 735" stroke="#1a72d2" stroke-width="1.8" fill="none"/><path d="M243.6 740.1L244.4 732.4L249.9 735.7Z" fill="#1a72d2"/>
<path d="M623.7 684.6L604.6 650.6" stroke="#1a72d2" stroke-width="1.8" fill="none"/><path d="M601.7 645.4L607.9 649.9L602.3 653.1Z" fill="#1a72d2"/>
<path d="M638.7 719.4L658.4 754.7" stroke="#f07a30" stroke-width="1.8" fill="none"/><path d="M661.3 759.9L655.1 755.3L660.7 752.2Z" fill="#f07a30"/>
<text transform="translate(61.5 656.8) rotate(-57.9)" font-size="9.0" font-weight="bold" fill="#111" text-anchor="middle" dy="0.35em">Anti-stokes</text>
<text transform="translate(156.8 658.5) rotate(52.8)" font-size="10.2" font-weight="bold" fill="#111" text-anchor="middle" dy="0.35em">Stokes</text>
<text transform="translate(276.4 665.7) rotate(-57.3)" font-size="10.2" font-weight="bold" fill="#111" text-anchor="middle" dy="0.35em">Stokes</text>
<text transform="translate(246.8 719.8) rotate(-58.8)" font-size="9.0" font-weight="bold" fill="#111" text-anchor="middle" dy="0.35em">Anti-stokes</text>
<text transform="translate(619.4 660.1) rotate(58.7)" font-size="9.0" font-weight="bold" fill="#111" text-anchor="middle" dy="0.35em">Anti-stokes</text>
<text transform="translate(654.9 731.9) rotate(57.3)" font-size="10.2" font-weight="bold" fill="#111" text-anchor="middle" dy="0.35em">Stokes</text>
<text transform="translate(107.6 637.8) rotate(90)" font-size="9.3" fill="#222" text-anchor="middle" dy="0.35em">Rayleigh</text>
<text transform="translate(268.9 692.7) rotate(34.8)" font-size="9.1" fill="#222" text-anchor="middle" dy="0.35em">Rayleigh</text>
<text transform="translate(638.8 697.5) rotate(-29.6)" font-size="9.1" fill="#222" text-anchor="middle" dy="0.35em">Rayleigh</text>
<g font-size="8.85" fill="#111">
<g text-anchor="middle">
<text x="39.3" y="699.8">Similar</text>
<text x="39.3" y="710.4">enhancement</text>
<text x="39.3" y="721.2">of the stokes</text>
<text x="39.3" y="732">and anti-</text>
<text x="39.3" y="742.9">stokes</text>
<text x="178.5" y="707.8"><tspan font-style="italic">I</tspan><tspan font-size="5.8" dy="2.4">AS</tspan><tspan dy="-2.4">/</tspan><tspan font-style="italic">I</tspan><tspan font-size="5.8" dy="2.4">S</tspan><tspan dy="-2.4"> follow</tspan></text>
<text x="178.5" y="718.8">equation 1 at</text>
<text x="178.5" y="729.7">20 °C</text>
</g>
<text x="376.9" y="659.3">Larger field</text>
<text x="376.9" y="669.9">enhancement for</text>
<text x="376.9" y="680.6">the stokes bands</text>
<text x="376.9" y="694.8">Small <tspan font-style="italic">I</tspan><tspan font-size="5.8" dy="2.4">AS</tspan><tspan dy="-2.4">/</tspan><tspan font-style="italic">I</tspan><tspan font-size="5.8" dy="2.4">S</tspan><tspan dy="-2.4"> <tspan font-size="10.3">ratio</tspan></tspan></text>
<text x="376.9" y="725.4">Small <tspan font-style="italic">T</tspan><tspan font-size="5.8" dy="2.8">fictive</tspan></text>
<text x="468.7" y="658.3">Larger field</text>
<text x="468.7" y="669.1">enhancement for</text>
<text x="468.7" y="679.7">the anti-stokes</text>
<text x="468.7" y="690.6"> bands</text>
<text x="468.7" y="713.3">Large <tspan font-style="italic">I</tspan><tspan font-size="5.8" dy="2.4">AS</tspan><tspan dy="-2.4">/</tspan><tspan font-style="italic">I</tspan><tspan font-size="5.8" dy="2.4">S</tspan><tspan dy="-2.4"></tspan></text>
<text x="468.7" y="725.3" font-size="10.5">ratio</text>
<text x="469.5" y="746.6">Large <tspan font-style="italic">T</tspan><tspan font-size="5.8" dy="2.8">fictive</tspan></text>
</g>
</svg></body></html>
